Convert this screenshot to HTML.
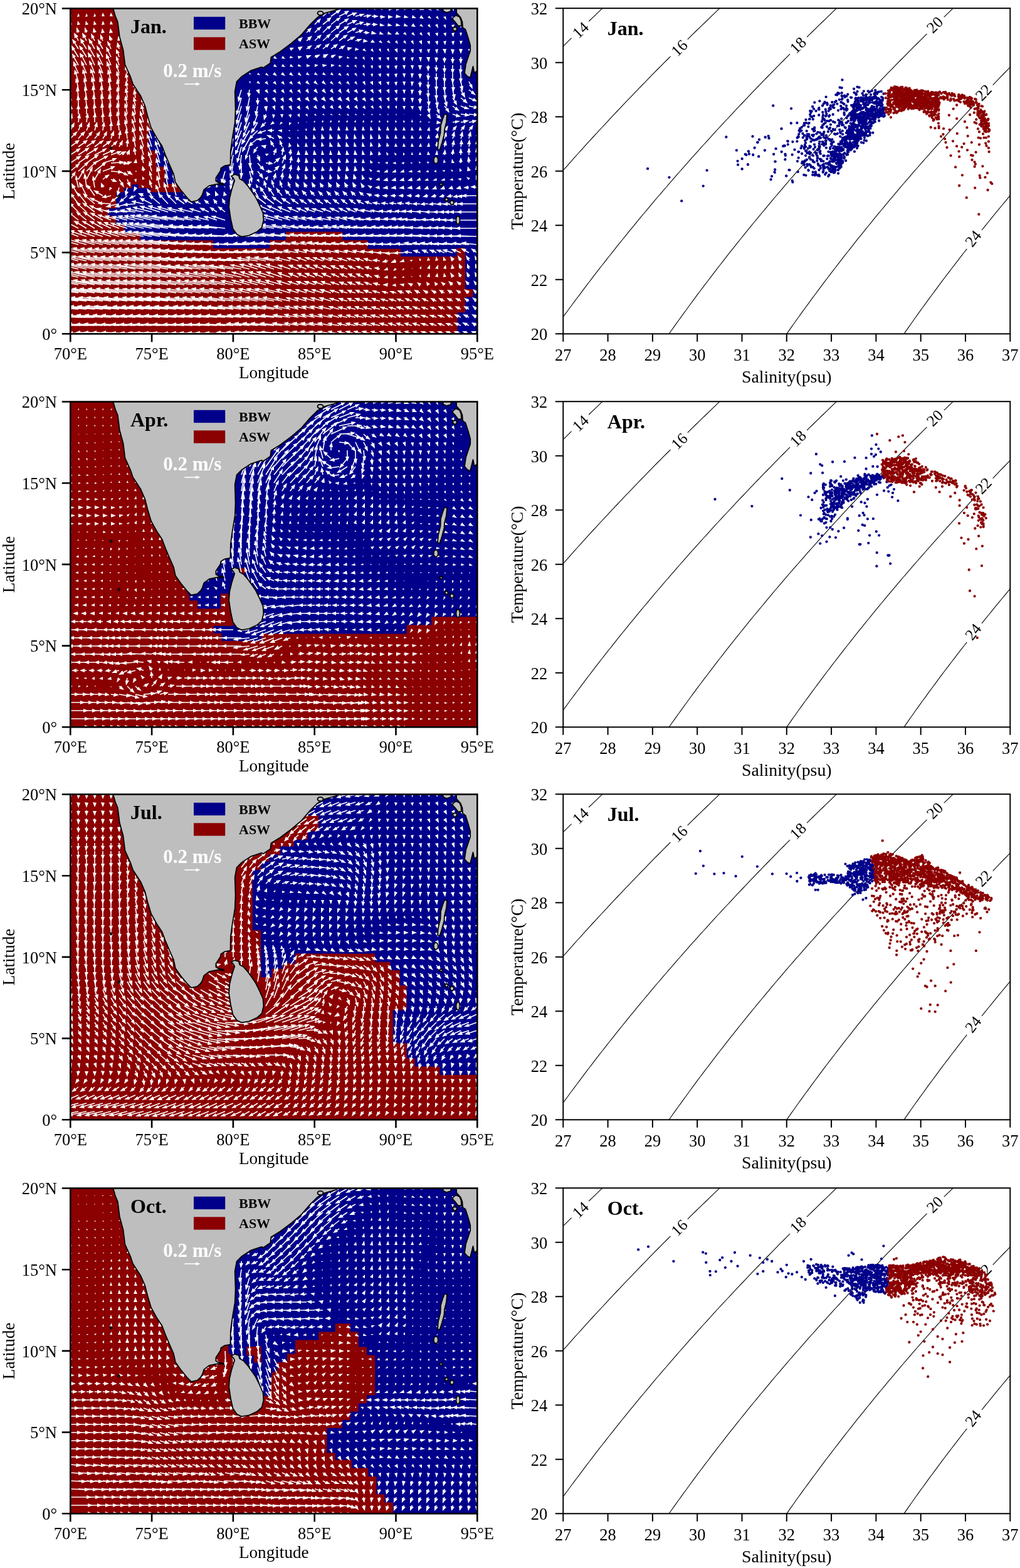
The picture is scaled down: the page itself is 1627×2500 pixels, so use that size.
<!DOCTYPE html><html><head><meta charset="utf-8"><style>html,body{margin:0;padding:0;background:#fff;}svg{display:block}text{font-family:"Liberation Serif", serif}</style></head><body>
<svg width="1627" height="2500" viewBox="0 0 1627 2500">
<rect width="1627" height="2500" fill="#fff"/>
<defs><clipPath id="mclip"><rect x="112.3" y="13.5" width="649" height="518.8"/></clipPath><clipPath id="tclip"><rect x="898.3" y="13.2" width="713" height="519.1"/></clipPath></defs>
<g transform="translate(0,0)">
<g clip-path="url(#mclip)">
<rect x="100" y="0" width="680" height="545" fill="#8b0000"/><polygon points="237,208 300,208 300,293 263.3,293 263.3,266.1 249.9,266.1 249.9,240.3 237,240.3" fill="#00008b"/><polygon points="185.3,306.4 198,306.4 198,300 210.6,300 210.6,294 221,294 221,300 240,300 240,306.4 300,306.4 320,200 340,100 440,5 775,5 775,545 729.5,545 729.5,498.3 742,498.3 742,473.5 754.4,473.5 754.4,461 742,461 742,395.5 728.4,395.5 728.4,409.1 639.2,409.1 639.2,396.7 586.1,396.7 586.1,383.1 546.5,383.1 546.5,369.5 456.1,369.5 456.1,383.1 430.2,383.1 430.2,396 340.1,396 340.1,383.2 224,383.2 224,371.5 198.2,371.5 198.2,358 184.8,358 184.8,344.6 172.4,344.6 172.4,332.2 185.3,332.2" fill="#00008b"/><path d="M112 532l-50 0M112 519l-50-1M112 506l-49-2M112 493l-47-4M112 480l-45-5M112 467l-42-6M112 454l-39-7M112 442l-37-8M112 429l-34-8M112 416l-30-8M112 403l-27-7M112 390l-25-7M112 377l-21-7M112 364l-16-8M112 351l-11-8M112 338l-9-9M112 325l-8-10M112 312l-7-10M112 299l-4-8M112 286l5-7M112 273l10-8M112 260l12-8M112 247l11-7M112 234l10-7M112 221l7-7M112 208l4-7M112 195l2-8M112 182l1-9M112 169l0-10M112 156l-1-11M112 143l-2-11M112 130l-4-12M112 117l-5-12M112 104l-7-12M112 91l-7-12M112 78l-6-10M112 65l-3-6M112 52l-1-2M125 532l-50 0M125 519l-50-1M125 506l-49-2M125 493l-48-4M125 480l-45-5M125 467l-43-6M125 454l-39-7M125 442l-37-8M125 429l-34-8M125 416l-31-8M125 403l-27-7M125 390l-25-7M125 377l-21-8M125 364l-15-8M125 351l-11-9M125 338l-10-10M125 325l-9-12M125 312l-8-14M125 299l-3-13M125 286l7-12M125 273l12-11M125 260l13-9M125 247l12-8M125 234l10-7M125 221l6-7M125 208l3-7M125 195l1-8M125 182l0-9M125 169l0-11M125 156l-1-11M125 143l-2-12M125 130l-4-13M125 117l-6-13M125 104l-7-13M125 91l-8-13M125 78l-6-10M125 65l-3-6M125 52l-1-2M138 532l-50 0M138 519l-50-1M138 506l-49-2M138 493l-47-4M138 480l-45-5M138 467l-43-6M138 454l-40-7M138 442l-37-8M138 429l-34-8M138 416l-31-7M138 403l-28-7M138 390l-25-7M138 377l-21-7M138 364l-15-9M138 351l-12-10M138 338l-12-11M138 325l-11-14M138 312l-8-16M138 299l-2-16M138 286l7-14M138 273l13-13M138 260l14-10M138 247l13-8M138 234l10-7M138 221l6-7M138 208l3-7M138 195l1-8M138 182l0-10M138 169l-1-11M138 156l-2-12M138 143l-3-13M138 130l-4-14M138 117l-6-14M138 104l-7-14M138 91l-8-13M138 78l-7-11M138 65l-3-6M138 52l-1-2M151 532l-49 0M151 519l-50-1M151 506l-49-2M151 493l-47-4M151 480l-45-5M151 467l-42-6M151 454l-40-7M151 442l-37-8M151 429l-34-7M151 416l-31-7M151 403l-29-6M151 390l-26-7M151 377l-21-7M151 364l-15-9M151 351l-13-10M151 338l-14-11M151 325l-14-12M151 312l-9-13M151 299l-2-12M151 286l7-12M151 273l14-11M151 260l16-9M151 247l14-7M151 234l9-7M151 221l5-6M151 208l2-7M151 195l0-9M151 182l-1-11M151 169l-1-12M151 156l-2-13M151 143l-3-14M151 130l-4-15M151 117l-6-15M151 104l-7-15M151 91l-8-14M151 78l-6-11M151 65l-3-6M151 52l0-1M164 532l-49-1M164 519l-50-2M164 506l-49-3M164 493l-47-4M164 480l-45-5M164 467l-43-6M164 454l-41-6M164 442l-39-7M164 429l-36-7M164 416l-33-6M164 403l-31-6M164 390l-27-6M164 377l-22-7M164 364l-16-9M164 351l-15-9M164 338l-16-8M164 325l-15-7M164 312l-9-5M164 299l0-2M164 286l5-4M164 273l14-5M164 260l16-5M164 247l13-6M164 234l8-6M164 221l4-6M164 208l1-8M164 195l0-10M164 182l-1-11M164 169l-2-13M164 156l-2-13M164 143l-3-14M164 130l-4-14M164 117l-6-15M164 104l-7-14M164 91l-7-13M164 78l-5-9M164 65l-2-4M177 532l-50-2M177 519l-50-2M177 506l-49-3M177 493l-48-4M177 480l-46-6M177 467l-44-6M177 454l-42-6M177 442l-40-7M177 429l-38-7M177 416l-35-6M177 403l-32-6M177 390l-28-6M177 377l-22-7M177 364l-17-8M177 351l-16-7M177 338l-17-4M177 325l-15-1M177 312l-8 2M177 286l4 2M177 273l13 1M177 260l14-1M177 247l11-4M177 234l6-5M177 221l2-6M177 208l0-8M177 195l-1-10M177 182l-2-12M177 169l-2-13M177 156l-2-13M177 143l-3-13M177 130l-3-13M177 117l-4-13M177 104l-5-12M177 91l-5-11M177 78l-3-7M177 65l-1-3M190 532l-51-2M190 519l-51-2M190 506l-50-3M190 493l-48-5M190 480l-46-6M190 467l-45-6M190 454l-43-6M190 442l-41-7M190 429l-39-7M190 416l-36-6M190 403l-34-6M190 390l-30-6M190 377l-24-7M190 364l-19-7M190 351l-17-5M190 338l-17-1M190 325l-15 3M190 312l-9 7M190 299l-2 7M190 286l5 7M190 273l9 4M190 260l9 0M190 247l5-3M190 234l3-5M190 221l1-7M190 208l-1-10M190 195l-2-11M190 182l-2-12M190 169l-2-12M190 156l-2-11M190 143l-2-11M190 130l-2-10M190 117l-3-10M190 104l-3-9M190 91l-2-7M190 78l-1-4M190 65l0-1M203 532l-50-2M203 519l-50-2M203 506l-49-3M203 493l-48-5M203 480l-46-6M203 467l-44-6M203 454l-42-6M203 442l-41-7M203 429l-39-7M203 416l-37-6M203 403l-35-6M203 390l-32-6M203 377l-26-7M203 364l-22-7M203 351l-19-5M203 338l-17-1M203 325l-14 4M203 312l-8 7M203 299l-2 7M203 286l2 5M203 273l3 2M203 247l1-2M203 234l0-6M203 221l-1-9M203 208l-3-11M203 195l-3-12M203 182l-2-11M203 169l-2-10M203 156l-1-9M203 143l-1-8M203 130l-1-7M203 117l-1-7M216 532l-48-2M216 519l-49-2M216 506l-48-3M216 493l-46-4M216 480l-45-5M216 467l-43-6M216 454l-41-6M216 442l-40-7M216 429l-38-7M216 416l-37-6M216 403l-35-6M216 390l-33-6M216 377l-29-7M216 364l-25-7M216 351l-22-5M216 338l-19-2M216 325l-13 1M216 312l-5 2M216 247l-1-6M216 234l-2-10M216 221l-3-12M216 208l-4-13M216 195l-3-12M216 182l-2-10M216 169l-2-9M216 156l-1-7M216 143l-1-6M229 532l-45-1M229 519l-46-2M229 506l-45-3M229 493l-43-4M229 480l-42-5M229 467l-41-6M229 454l-40-6M229 442l-39-7M229 429l-38-6M229 416l-37-6M229 403l-36-6M229 390l-34-6M229 377l-31-7M229 364l-28-7M229 351l-26-6M229 338l-22-4M229 325l-14-3M229 312l-3-1M229 273l0-2M229 260l-2-7M229 247l-3-11M229 234l-4-13M229 221l-5-14M229 208l-5-13M229 195l-4-12M229 182l-2-10M229 169l-1-7M242 532l-44-1M242 519l-45-2M242 506l-44-3M242 493l-43-4M242 480l-41-5M242 467l-41-6M242 454l-40-6M242 442l-40-7M242 429l-39-7M242 416l-38-6M242 403l-37-6M242 390l-36-6M242 377l-33-7M242 364l-31-7M242 351l-29-7M242 338l-24-6M242 325l-14-7M242 312l-4-6M242 299l-2-6M242 286l-2-7M242 273l-3-10M242 260l-4-13M242 247l-5-14M242 234l-5-15M242 221l-5-14M242 208l-5-14M255 532l-45-2M255 519l-45-2M255 506l-44-3M255 493l-43-4M255 480l-42-5M255 467l-41-6M255 454l-41-6M255 442l-41-7M255 429l-40-7M255 416l-39-6M255 403l-39-6M255 390l-37-6M255 377l-36-7M255 364l-34-7M255 351l-32-7M255 338l-26-8M255 325l-12-10M255 312l-4-12M255 299l-3-13M255 286l-3-14M255 273l-4-15M255 260l-5-17M255 247l-6-17M255 234l-6-16M268 532l-46-2M268 519l-46-2M268 506l-45-3M268 493l-43-4M268 480l-42-5M268 467l-42-6M268 454l-41-6M268 442l-41-7M268 429l-41-7M268 416l-40-6M268 403l-39-6M268 390l-39-6M268 377l-37-6M268 364l-36-6M268 351l-33-7M268 338l-26-8M268 325l-11-12M268 312l-5-15M268 299l-3-16M268 286l-4-17M268 273l-5-18M268 260l-5-19M281 532l-45-2M281 519l-45-2M281 506l-45-3M281 493l-43-4M281 480l-42-5M281 467l-41-6M281 454l-41-6M281 442l-41-7M281 429l-40-7M281 416l-40-6M281 403l-39-6M281 390l-39-6M281 377l-38-6M281 364l-36-6M281 351l-33-6M281 338l-25-7M281 325l-11-11M281 312l-4-15M281 299l-4-17M294 532l-44-1M294 519l-44-2M294 506l-43-3M294 493l-42-4M294 480l-41-5M294 467l-40-6M294 454l-39-6M294 442l-39-7M294 429l-39-6M294 416l-39-5M294 403l-39-5M294 390l-39-5M294 377l-37-5M294 364l-35-4M294 351l-30-5M294 338l-21-5M294 325l-11-8M294 312l-5-12M307 532l-40-1M307 519l-41-2M307 506l-40-3M307 493l-39-4M307 480l-37-5M307 467l-36-6M307 454l-36-6M307 442l-36-6M307 429l-36-5M307 416l-37-4M307 403l-38-4M307 390l-38-4M307 377l-36-4M307 364l-32-4M307 351l-25-4M307 338l-17-4M307 325l-9-5M320 532l-40-1M320 519l-40-2M320 506l-39-3M320 493l-38-4M320 480l-36-5M320 467l-35-6M320 454l-33-6M320 442l-33-6M320 429l-35-5M320 416l-36-4M320 403l-38-4M320 390l-38-3M320 377l-35-3M320 364l-29-3M320 351l-21-4M320 338l-13-4M320 325l-6-3M333 532l-41-1M333 519l-41-2M333 506l-40-3M333 493l-38-4M333 480l-36-5M333 467l-35-6M333 454l-33-6M333 442l-33-7M333 429l-34-6M333 416l-36-4M333 403l-38-3M333 390l-37-3M333 377l-34-3M333 364l-27-3M333 351l-17-4M333 338l-8-4M333 325l-3-3M346 532l-41-1M346 519l-41-2M346 506l-40-3M346 493l-38-4M346 480l-37-5M346 467l-35-6M346 454l-33-6M346 442l-33-7M346 429l-33-6M346 416l-35-4M346 403l-38-3M346 390l-37-2M346 377l-34-2M346 364l-26-3M346 351l-15-5M346 338l-6-4M346 325l-2-3M359 532l-41-1M359 519l-41-2M359 506l-40-3M359 493l-38-4M359 480l-36-5M359 467l-35-6M359 454l-33-6M359 442l-32-7M359 429l-33-6M359 416l-35-4M359 403l-38-2M359 390l-37-2M359 377l-35-2M359 364l-27-3M359 351l-16-5M359 338l-6-5M359 325l-2-3M359 286l-1 3M359 273l-4 14M372 532l-39-1M372 519l-39-2M372 506l-38-3M372 493l-36-4M372 480l-35-5M372 467l-33-6M372 454l-32-6M372 442l-31-6M372 429l-33-5M372 416l-35-3M372 403l-37-2M372 390l-37-1M372 377l-35-2M372 286l-3 11M372 273l-4 16M372 260l-3 18M372 247l-4 20M372 234l-5 21M372 221l-6 21M385 532l-34-2M385 519l-34-2M385 506l-33-3M385 493l-32-4M385 480l-30-5M385 467l-28-6M385 454l-27-6M385 442l-27-6M385 429l-30-5M385 416l-34-3M385 403l-36-2M385 390l-37-1M385 286l-2 12M385 273l-1 15M385 260l0 17M385 247l-2 18M385 234l-5 19M385 221l-7 20M385 208l-8 20M385 195l-7 22M385 182l-7 23M385 169l-7 24M385 156l-6 22M385 143l-4 13M398 532l-31-2M398 519l-31-3M398 506l-30-3M398 493l-28-4M398 480l-27-5M398 467l-25-5M398 454l-23-6M398 442l-23-7M398 429l-25-6M398 416l-31-3M398 403l-34-2M398 390l-35-1M398 377l-35-2M398 286l0 8M398 273l3 12M398 260l4 13M398 247l1 14M398 234l-5 15M398 221l-9 16M398 208l-10 17M398 195l-8 18M398 182l-7 20M398 169l-5 20M398 156l-3 15M398 143l-1 6M411 532l-31-3M411 519l-31-3M411 506l-30-3M411 493l-28-4M411 480l-27-5M411 467l-25-6M411 454l-23-6M411 442l-22-7M411 429l-23-7M411 416l-27-4M411 403l-32-2M411 390l-33-2M411 377l-34-2M411 312l-5-8M411 273l5 6M411 260l6 7M411 247l1 4M411 234l-4 5M411 221l-10 8M411 208l-10 10M411 195l-7 12M411 182l-5 13M411 169l-2 10M411 156l0 5M424 532l-31-3M424 519l-31-3M424 506l-30-3M424 493l-28-4M424 480l-27-5M424 467l-25-6M424 454l-23-6M424 442l-22-7M424 429l-23-7M424 416l-26-5M424 403l-31-3M424 390l-32-3M424 377l-33-3M424 364l-32-5M424 351l-29-7M424 338l-22-9M424 325l-13-10M424 312l-6-9M424 299l-1-5M424 273l4 0M424 260l5 0M424 221l-8 1M424 208l-8 3M424 195l-4 4M424 182l-1 3M424 169l0 2M437 532l-31-3M437 519l-31-3M437 506l-30-3M437 493l-28-4M437 480l-27-5M437 467l-25-6M437 454l-23-6M437 442l-22-7M437 429l-22-7M437 416l-26-5M437 403l-30-3M437 390l-32-3M437 377l-32-4M437 364l-30-5M437 351l-27-7M437 338l-21-9M437 325l-13-10M437 312l-6-9M437 299l-2-6M437 286l1-4M437 273l4-4M437 260l5-4M437 247l1-4M437 234l-3-5M437 221l-6-3M437 208l-4 0M450 532l-29-3M450 519l-29-3M450 506l-28-3M450 493l-27-4M450 480l-25-5M450 467l-23-5M450 454l-22-6M450 442l-20-7M450 429l-21-6M450 416l-24-4M450 403l-29-3M450 390l-30-3M450 377l-30-4M450 364l-28-5M450 351l-24-7M450 338l-18-8M450 325l-11-8M450 312l-6-7M450 299l-2-5M450 286l0-5M450 273l3-6M450 260l3-7M450 247l1-6M450 234l-2-5M450 221l-2-2M463 532l-22-2M463 519l-23-3M463 506l-22-3M463 493l-21-4M463 480l-19-4M463 467l-18-5M463 454l-16-5M463 442l-15-5M463 429l-14-5M463 416l-18-4M463 403l-23-3M463 390l-26-3M463 377l-26-3M463 364l-24-4M463 351l-20-6M463 338l-15-6M463 325l-9-6M463 312l-4-5M463 299l-2-4M463 286l0-3M463 273l1-4M463 260l1-5M463 247l0-3M476 532l-17-3M476 519l-17-3M476 506l-17-3M476 493l-16-4M476 480l-14-4M476 467l-13-4M476 454l-12-4M476 442l-10-4M476 429l-10-4M476 416l-13-4M476 403l-18-3M476 390l-22-3M476 377l-23-3M476 364l-21-4M476 351l-17-5M476 338l-12-5M476 325l-7-5M476 312l-4-4M476 299l-2-3M476 286l-1-2M476 273l0-3M476 260l0-3M476 78l1-1M476 65l2-1M489 532l-17-3M489 519l-17-3M489 506l-16-3M489 493l-15-4M489 480l-14-4M489 467l-13-4M489 454l-11-4M489 442l-10-4M489 429l-10-4M489 416l-11-4M489 403l-14-3M489 390l-19-3M489 377l-21-3M489 364l-20-3M489 351l-16-4M489 338l-11-5M489 325l-6-4M489 312l-3-4M489 299l-2-3M489 286l-1-2M489 273l0-2M489 260l0-2M489 78l3-2M489 65l4-3M489 52l3-3M502 532l-17-3M502 519l-17-3M502 506l-16-3M502 493l-15-4M502 480l-14-4M502 467l-13-4M502 454l-11-4M502 442l-10-4M502 429l-10-4M502 416l-10-4M502 403l-13-4M502 390l-17-3M502 377l-21-3M502 364l-21-3M502 351l-16-4M502 338l-11-4M502 325l-6-4M502 312l-3-3M502 299l-1-2M502 286l-1-2M502 91l2-1M502 78l5-4M502 65l6-6M502 52l6-6M502 39l5-5M515 532l-17-3M515 519l-17-3M515 506l-16-3M515 493l-15-4M515 480l-14-4M515 467l-13-4M515 454l-11-4M515 442l-10-4M515 429l-10-4M515 416l-11-4M515 403l-14-3M515 390l-19-3M515 377l-22-2M515 364l-22-2M515 351l-18-3M515 338l-12-4M515 325l-6-4M515 312l-3-3M515 299l-1-2M515 286l-1-2M515 91l3-1M515 78l6-5M515 65l8-7M515 52l8-8M515 39l9-7M515 26l8-7M528 532l-16-3M528 519l-16-3M528 506l-15-3M528 493l-14-3M528 480l-13-4M528 467l-12-4M528 454l-11-3M528 442l-10-4M528 429l-10-4M528 416l-11-4M528 403l-17-3M528 390l-21-2M528 377l-23-2M528 364l-22-2M528 351l-17-3M528 338l-10-4M528 325l-6-4M528 312l-3-3M528 299l-1-2M528 286l-1-2M528 91l2-1M528 78l6-4M528 65l8-7M528 52l10-8M528 39l10-8M528 26l10-7M541 532l-13-2M541 519l-13-2M541 506l-12-3M541 493l-11-3M541 480l-10-3M541 467l-9-3M541 454l-9-3M541 442l-8-4M541 429l-8-3M541 416l-12-3M541 403l-17-3M541 390l-22-2M541 377l-23-2M541 364l-20-3M541 351l-15-4M541 338l-9-4M541 325l-6-4M541 312l-3-3M541 299l-2-2M541 286l-1-2M541 273l-1-2M541 78l4-2M541 65l8-6M541 52l10-7M541 39l10-6M541 26l10-5M541 14l10-5M554 532l-10-2M554 519l-10-2M554 506l-10-2M554 493l-9-2M554 480l-8-2M554 467l-8-2M554 454l-7-2M554 442l-7-3M554 429l-7-3M554 416l-10-3M554 403l-15-3M554 390l-20-2M554 377l-22-2M554 364l-19-3M554 351l-14-4M554 338l-9-4M554 325l-6-4M554 312l-3-3M554 299l-2-2M554 286l-1-2M554 273l-1-2M554 78l1 0M554 65l7-4M554 52l9-5M554 39l9-4M554 26l9-4M554 14l9-4M567 532l-10-2M567 519l-10-2M567 506l-9-2M567 493l-9-2M567 480l-8-2M567 467l-8-2M567 454l-7-2M567 442l-7-3M567 429l-7-3M567 416l-9-3M567 403l-13-3M567 390l-19-2M567 377l-22-2M567 364l-20-3M567 351l-15-4M567 338l-10-4M567 325l-6-4M567 312l-3-3M567 299l-2-2M567 286l-1-2M567 273l-1-2M567 65l4-1M567 52l7-2M567 39l8-2M567 26l8-2M567 14l8-3M580 532l-10-2M580 519l-10-2M580 506l-10-2M580 493l-9-2M580 480l-8-2M580 467l-8-2M580 454l-7-2M580 442l-7-3M580 429l-7-3M580 416l-8-3M580 403l-13-3M580 390l-19-2M580 377l-23-2M580 364l-23-2M580 351l-18-3M580 338l-11-4M580 325l-6-3M580 312l-3-3M580 299l-1-2M580 52l3 0M580 39l5 0M580 26l6-1M580 14l6-2M593 532l-10-2M593 519l-10-2M593 506l-9-2M593 493l-9-2M593 480l-8-2M593 467l-7-2M593 454l-7-2M593 442l-6-3M593 429l-6-2M593 416l-7-2M593 403l-12-2M593 390l-19-2M593 377l-24-2M593 364l-24-2M593 351l-19-2M593 338l-12-3M593 325l-6-2M593 312l-2-1M593 39l3 0M593 26l4 0M593 14l4-1M606 532l-10-2M606 519l-10-2M606 506l-9-2M606 493l-8-2M606 480l-8-2M606 467l-7-2M606 454l-5-1M606 442l-3-1M606 429l-3-1M606 416l-6-1M606 403l-12-1M606 390l-20-2M606 377l-24-2M606 364l-23-2M606 351l-17-2M606 338l-10-2M606 325l-6-1M606 312l-3 0M606 39l1 1M606 26l2 1M606 14l3-1M619 532l-8-2M619 519l-8-2M619 506l-8-2M619 493l-7-2M619 480l-6-2M619 467l-5-1M619 416l-4 0M619 403l-12 0M619 390l-22-1M619 377l-25-2M619 364l-21-2M619 351l-15-2M619 338l-9-1M619 325l-5-1M619 312l-3 0M619 26l1 1M619 14l2 0M632 532l-7-2M632 519l-7-2M632 506l-7-2M632 493l-7-2M632 480l-6-2M632 467l-4-1M632 416l-2 0M632 403l-12 1M632 390l-22-1M632 377l-25-2M632 364l-21-2M632 351l-14-2M632 338l-9-1M632 325l-5-1M632 312l-3 0M644 532l-6-2M644 519l-7-2M644 506l-6-2M644 493l-6-2M644 480l-6-2M644 467l-4-1M644 403l-10 0M644 390l-21-1M644 377l-24-2M644 364l-21-2M644 351l-14-2M644 338l-8-1M644 325l-5-1M644 312l-2 0M657 532l-7-2M657 519l-7-2M657 506l-6-2M657 493l-6-2M657 480l-6-2M657 467l-4-2M657 403l-7-1M657 390l-20-1M657 377l-25-2M657 364l-24-2M657 351l-17-2M657 338l-10-1M657 325l-5-1M657 312l-2 0M670 532l-7-2M670 519l-7-2M670 506l-6-2M670 493l-6-2M670 480l-5-2M670 467l-4-2M670 403l-5-2M670 390l-20-2M670 377l-27-2M670 364l-26-2M670 351l-21-1M670 338l-14-1M670 325l-6 0M670 312l-2 0M670 156l0 3M670 143l0 3M670 130l0 3M670 117l0 2M683 532l-6-2M683 519l-6-2M683 506l-6-2M683 493l-6-2M683 480l-5-2M683 467l-3-1M683 403l-4-2M683 390l-19-2M683 377l-26-2M683 364l-26-1M683 351l-21-1M683 338l-13-1M683 325l-6 0M683 312l-2 0M683 182l1 2M683 169l1 5M683 156l1 7M683 143l0 7M683 130l0 6M683 117l0 5M683 104l0 3M696 532l-6-2M696 519l-6-2M696 506l-5-2M696 493l-5-2M696 480l-4-2M696 467l-2-1M696 403l-5-3M696 390l-20-2M696 377l-25-2M696 364l-23-1M696 351l-18-1M696 338l-12 0M696 325l-6 0M696 312l-2 0M696 234l1-2M696 221l1-3M696 182l3 3M696 169l3 7M696 156l1 9M696 143l0 10M696 130l0 9M696 117l0 7M696 104l0 4M696 91l0 2M709 532l-6-2M709 519l-6-2M709 506l-5-2M709 493l-4-2M709 480l-4-2M709 467l-3-1M709 454l-1-1M709 403l-7-3M709 390l-21-2M709 377l-25-1M709 364l-22-1M709 351l-18-1M709 338l-12 0M709 325l-7 0M709 312l-3 0M709 247l0-2M709 234l1-4M709 221l1-4M709 208l2-2M709 169l4 5M709 156l3 8M709 143l1 10M709 130l0 10M709 117l0 9M709 104l0 6M709 91l0 3M722 532l-6-2M722 519l-5-2M722 506l-5-2M722 493l-4-2M722 480l-4-2M722 467l-3-2M722 454l-2-1M722 416l-1-2M722 403l-10-3M722 390l-23-2M722 377l-26-1M722 364l-24-1M722 351l-21-1M722 338l-15 0M722 325l-9 0M722 312l-4 1M722 247l0-3M722 234l1-5M722 221l2-5M722 208l3-3M722 195l5-1M722 182l6 2M722 169l5 4M722 156l4 6M722 143l2 9M722 130l1 10M722 117l0 10M722 104l0 7M722 91l0 4M735 532l-5-2M735 519l-5-2M735 506l-4-2M735 493l-4-2M735 480l-3-2M735 467l-3-2M735 454l-2-1M735 442l-1-2M735 429l0-3M735 416l-1-3M735 403l-9-4M735 390l-23-2M735 377l-28-1M735 364l-27-1M735 351l-24 0M735 338l-20 0M735 325l-14 0M735 312l-6 1M735 260l0-2M735 247l0-4M735 234l1-5M735 221l2-5M735 208l3-3M735 195l6-1M735 182l8 1M735 169l7 3M735 156l5 4M735 143l3 6M735 130l2 9M735 117l0 9M735 104l0 8M735 91l0 4M748 532l-5-2M748 519l-4-2M748 506l-4-2M748 493l-3-2M748 480l-3-2M748 467l-2-1M748 454l-1-1M748 442l-1-3M748 429l-1-3M748 416l-1-3M748 403l-7-4M748 390l-21-2M748 377l-28-1M748 364l-28 0M748 351l-27 0M748 338l-25 0M748 325l-20 0M748 312l-12 1M748 299l-2 0M748 260l0-4M748 247l0-5M748 234l1-5M748 221l1-5M748 208l3-3M748 195l6-1M748 182l9 1M748 169l9 2M748 156l7 3M748 143l5 4M748 130l3 6M761 532l-4-1M761 519l-3-2M761 506l-3-2M761 493l-2-1M761 480l-2-1M761 467l-2-1M761 454l-1-1M761 442l-1-3M761 429l-1-3M761 416l-1-3M761 403l-4-3M761 390l-19-2M761 377l-27-1M761 364l-28 0M761 351l-28 0M761 338l-26 0M761 325l-24 0M761 312l-18 0M761 299l-4-1M761 273l0-3M761 260l0-4M761 247l0-5M761 234l0-5M761 221l1-5M761 208l3-3M761 195l7-1M761 182l10 1M761 169l10 1M761 156l9 2M761 143l7 3M761 130l4 3" stroke="#fff" stroke-width="1.6" fill="none"/><path d="M55 532l8-3 0 6zM55 518l8-3 0 6zM56 504l8-3 0 6zM58 488l8-2-1 6zM60 474l8-2-1 6zM63 460l8-2-1 6zM66 446l8-2-1 6zM68 433l9-2-1 6zM71 420l8-2-1 6zM75 407l8-1-1 6zM78 394l9-1-2 6zM81 381l8-1-2 6zM84 368l8-1-1 6zM90 353l8 1-2 5zM95 339l9 2-4 5zM98 324l8 4-4 4zM99 310l8 4-5 4zM101 296l7 5-5 3zM105 285l6 5-5 3zM121 273l-2 8-5-3zM128 260l-5 8-3-5zM130 248l-5 7-4-5zM129 236l-5 7-3-5zM127 223l-4 7-4-5zM124 209l-4 8-4-4zM119 195l-1 8-6-2zM115 180l1 9-5-1zM113 166l3 8-6 0zM111 152l4 8-6 0zM110 138l4 8-6 1zM108 125l5 7-6 1zM106 112l5 6-5 2zM104 98l6 6-6 3zM102 85l7 6-6 3zM101 73l7 5-5 3zM102 62l7 6-5 3zM105 53l7 5-5 3zM109 43l5 7-5 2zM111 33l4 6-5 1zM112 21l2 5-4 1zM112 8l2 5-4 1zM68 532l8-3 0 6zM68 518l8-3 0 6zM69 504l8-3-1 6zM70 488l9-2-1 6zM73 474l8-2-1 6zM75 460l9-2-1 6zM79 446l8-2-1 6zM81 433l9-2-1 6zM84 420l8-2-1 6zM88 407l8-1-1 6zM91 394l8-1-1 6zM93 381l9-1-2 6zM98 367l8 0-2 6zM104 353l8 1-3 5zM108 338l8 2-3 5zM110 323l8 3-4 4zM111 307l8 5-5 3zM114 292l7 6-6 3zM121 279l4 7-5 1zM135 268l-1 9-5-3zM142 257l-4 8-4-4zM143 247l-4 7-4-5zM143 235l-5 7-3-5zM140 223l-4 7-4-5zM136 209l-3 8-5-4zM131 195l0 8-6-2zM127 180l2 9-6-1zM125 166l3 8-6 0zM124 151l4 8-6 1zM123 138l4 7-6 1zM121 124l5 7-6 1zM119 111l5 6-6 2zM117 97l6 7-6 2zM115 85l6 5-5 3zM114 72l6 6-5 3zM115 62l7 5-5 3zM118 52l7 6-6 3zM122 43l5 7-5 2zM124 33l4 6-5 1zM125 21l2 5-4 1zM125 8l2 5-4 1zM81 532l8-3 0 6zM81 518l8-3 0 6zM82 504l8-3 0 6zM84 488l8-2-1 6zM86 474l8-2-1 6zM88 460l9-2-1 6zM92 446l8-2-1 6zM94 433l9-2-1 6zM97 420l8-1-1 5zM100 407l9-1-1 6zM103 395l9-2-2 6zM106 381l8-1-1 6zM111 367l8 0-2 6zM117 352l9 1-3 6zM121 337l8 3-4 4zM121 322l8 3-4 4zM122 306l7 4-4 4zM126 290l7 6-6 3zM135 276l4 8-6 1zM148 265l-1 9-5-3zM156 256l-4 7-4-4zM158 246l-5 7-3-5zM157 235l-5 7-3-5zM153 223l-4 7-4-5zM148 209l-3 8-4-4zM143 194l0 9-5-2zM140 180l2 8-6-1zM138 165l3 8-6 0zM137 151l3 8-6 0zM135 137l5 7-6 1zM134 123l4 7-5 1zM132 110l5 6-6 2zM129 96l6 7-5 2zM127 84l7 5-6 3zM126 72l7 5-5 3zM128 61l7 5-6 4zM131 52l7 6-6 3zM135 43l5 7-5 2zM137 33l4 6-5 1zM138 21l2 5-4 1zM138 8l2 5-4 1zM95 532l8-3 0 6zM94 518l8-3 0 6zM95 503l8-2 0 6zM97 488l8-2 0 6zM99 474l8-2 0 6zM102 460l8-2-1 6zM104 446l9-1-1 6zM107 433l9-1-2 6zM110 420l8-1-1 6zM113 408l8-1-1 5zM115 395l8-1-1 6zM118 382l8-1-1 6zM123 367l9 0-2 6zM130 352l8 1-2 5zM132 337l8 2-3 5zM131 323l8 2-3 5zM132 308l8 3-4 5zM138 294l7 4-5 4zM148 280l5 7-6 1zM161 268l-1 9-5-3zM170 258l-4 7-4-4zM173 248l-5 6-3-5zM171 236l-6 7-2-5zM166 223l-5 7-3-4zM160 209l-2 8-5-3zM155 194l1 9-6-2zM152 179l2 8-6 0zM150 164l4 8-6 1zM149 150l4 8-6 0zM148 136l4 7-6 1zM146 122l5 7-6 2zM144 109l6 6-6 2zM142 96l6 6-5 2zM140 83l7 6-6 3zM140 71l6 6-5 3zM141 61l7 6-5 3zM145 53l6 6-5 3zM149 44l5 7-6 1zM150 33l4 6-5 1zM151 21l2 5-4 1zM151 8l2 5-4 1zM108 531l8-3 0 6zM107 517l8-3 0 6zM108 503l8-3 0 6zM110 488l8-2 0 6zM112 474l8-2-1 6zM114 460l8-2-1 6zM116 446l8-1-1 6zM118 433l9-1-1 6zM121 421l9-2-1 6zM124 408l9-1-1 6zM127 396l8-2-1 6zM130 382l8-1-1 6zM136 368l8-1-2 6zM142 352l9 1-3 5zM143 339l9 1-3 5zM142 327l8 1-2 5zM142 315l9 1-2 5zM149 303l9 2-3 5zM161 291l6 6-6 2zM175 278l-5 7-3-5zM184 265l-6 6-2-6zM187 252l-7 6-1-6zM184 239l-6 6-3-6zM178 224l-5 7-4-5zM171 209l-1 8-5-3zM166 194l2 8-6-1zM164 179l3 7-6 1zM162 164l4 7-6 1zM161 149l5 8-6 1zM161 136l4 7-6 1zM159 122l5 7-6 2zM158 109l5 7-6 1zM156 96l6 6-6 2zM154 84l6 5-5 3zM154 72l6 6-5 2zM156 62l6 6-5 3zM160 54l5 7-5 2zM163 45l4 7-6 1zM164 33l3 6-5 1zM164 20l3 6-5 0zM164 7l3 6-5 1zM120 530l8-3 0 6zM120 517l8-3 0 6zM121 502l8-2 0 6zM122 488l9-2-1 6zM124 474l8-2 0 6zM126 460l8-2-1 6zM128 446l8-1-1 6zM130 433l8-1-1 6zM132 421l8-2-1 6zM135 408l9-1-1 6zM138 396l9-2-1 6zM142 382l8-1-1 6zM148 368l8-1-1 6zM154 353l8 1-2 5zM155 342l8 0-2 5zM153 332l9-1-2 6zM155 324l8-3 0 6zM162 315l7-5 1 6zM174 304l1-6 4 2zM187 290l-8 0 2-6zM196 275l-8 2 1-6zM198 258l-7 4-1-6zM194 241l-6 6-2-6zM188 224l-4 8-4-4zM182 208l0 9-6-2zM178 193l2 8-6 0zM175 178l4 7-6 1zM174 163l4 8-5 1zM174 149l4 8-6 1zM174 136l4 7-6 2zM173 123l5 7-6 2zM172 110l5 7-6 2zM170 97l6 7-6 2zM169 85l6 7-6 2zM169 74l6 6-5 3zM171 65l6 6-5 2zM174 56l6 7-6 1zM176 45l4 7-6 1zM177 33l3 6-5 0zM177 20l3 6-5 0zM177 7l3 7-5 0zM132 530l9-3-1 6zM133 516l8-2-1 6zM134 502l8-2-1 6zM135 488l8-2 0 6zM137 474l8-2-1 6zM139 460l8-2-1 6zM140 446l9-1-1 6zM142 433l8-1-1 6zM144 421l8-2-1 6zM147 408l8-1-1 6zM150 396l8-2-1 6zM153 382l9-1-1 6zM160 368l8-1-2 6zM165 354l8 0-2 6zM166 344l9-1-2 6zM166 336l8-2 0 6zM168 330l8-5 1 6zM176 323l4-7 4 4zM187 313l-1-9 6 2zM198 299l-7-6 5-3zM205 280l-8-1 2-5zM206 261l-9 2 1-6zM202 241l-6 7-3-6zM196 223l-1 9-5-3zM192 207l2 8-6 0zM188 191l4 8-6 1zM187 177l4 7-6 1zM187 163l4 8-6 1zM187 150l4 8-6 1zM187 138l4 7-6 1zM187 125l4 8-6 1zM186 113l5 7-6 1zM185 100l5 7-5 2zM185 89l5 6-5 2zM185 78l6 6-6 2zM187 67l5 7-6 2zM189 57l4 7-6 1zM146 530l8-3 0 6zM146 517l8-3 0 6zM147 502l8-2 0 6zM148 488l9-2-1 6zM150 474l8-2 0 6zM152 460l8-2-1 6zM154 446l8-1-1 6zM155 434l9-2-1 6zM157 421l8-2-1 6zM159 409l9-2-1 6zM161 396l9-2-1 6zM164 383l9-2-1 6zM170 368l9-1-2 6zM175 355l8 0-1 5zM177 345l9-1-2 5zM179 337l8-3 0 6zM182 330l7-5 2 6zM190 323l4-7 4 4zM200 313l-1-9 6 2zM208 298l-6-6 6-2zM212 279l-9-2 4-5zM211 258l-7 5-1-6zM207 238l0 9-6-3zM204 221l2 8-6-1zM201 205l4 7-6 1zM199 190l5 7-6 1zM199 176l4 8-5 1zM199 164l5 7-6 1zM200 152l4 7-6 1zM200 140l5 7-6 1zM201 128l4 8-6 1zM201 116l4 7-6 1zM200 103l5 8-6 1zM161 530l8-3 0 6zM160 517l8-3 0 6zM161 502l8-2 0 6zM163 488l8-2-1 6zM164 474l9-2-1 6zM166 460l8-2-1 6zM168 447l8-2-1 6zM169 434l9-2-1 6zM171 421l8-1-1 6zM172 409l9-2-1 6zM174 396l8-2-1 6zM176 383l8-2-1 6zM180 369l9-2-2 6zM184 355l9 0-2 5zM187 344l9-1-2 6zM190 335l9-2-1 6zM196 327l7-4 1 6zM205 317l6-6 2 5zM213 306l1-9 5 3zM217 291l-3-5 4-1zM219 273l-3 1 0-2zM217 253l2 7-6 0zM214 234l4 7-6 1zM212 217l5 7-6 2zM211 202l5 7-6 2zM210 189l5 6-5 2zM211 176l5 7-6 2zM212 165l5 7-6 1zM213 154l5 7-6 1zM214 142l4 7-6 2zM214 130l4 8-6 1zM177 530l8-2 0 6zM176 517l9-3-1 6zM177 503l8-3 0 6zM179 488l8-2-1 6zM180 474l8-2 0 6zM181 460l9-2-1 6zM182 447l9-2-1 6zM183 434l9-2-1 6zM184 422l9-2-1 6zM185 409l8-2 0 6zM186 396l8-2-1 6zM188 383l8-2-1 6zM191 369l9-2-2 6zM194 355l9-1-2 6zM197 344l8-2-1 6zM200 332l9-1-1 6zM209 321l8-2-1 6zM220 308l9 0-3 6zM225 295l5 2-2 3zM227 281l4 4-4 2zM227 264l5 7-6 1zM226 246l5 7-6 2zM224 230l5 6-6 2zM223 215l5 6-6 2zM222 201l6 6-6 2zM222 188l6 7-6 1zM223 176l5 7-5 2zM225 166l5 7-6 1zM226 155l5 7-6 1zM191 530l8-2-1 6zM190 517l8-3 0 6zM191 503l8-3 0 6zM193 488l8-2-1 6zM194 474l8-2-1 6zM194 460l9-1-1 5zM195 447l8-2-1 6zM195 434l9-2-1 6zM196 421l8-1-1 5zM197 409l8-2-1 6zM198 396l8-2-1 6zM199 383l9-2-1 6zM202 369l8-2-1 6zM204 355l9-1-2 6zM206 343l9-1-1 5zM211 330l8-1-1 6zM222 315l9 1-3 6zM234 300l7 5-5 3zM238 286l5 7-5 2zM238 272l5 7-5 1zM238 256l5 7-6 2zM236 241l5 6-5 2zM235 226l5 7-5 2zM234 213l6 6-6 2zM234 200l6 7-6 2zM235 188l5 6-5 2zM203 530l8-2-1 6zM203 517l8-3-1 6zM204 503l8-3-1 6zM205 488l8-2 0 6zM206 474l9-2-1 6zM207 460l8-2-1 6zM207 447l9-2-1 6zM207 434l9-2-1 6zM208 421l8-2-1 6zM209 408l8-1-1 6zM209 396l9-2-1 6zM211 383l8-2-1 6zM212 369l9-1-1 6zM214 356l8-2-1 6zM216 343l9-2-1 6zM222 328l9 0-2 6zM237 311l8 2-3 5zM248 294l6 6-6 2zM250 279l5 7-6 2zM250 265l5 7-6 2zM249 251l5 7-6 2zM248 237l5 6-6 2zM247 224l6 6-6 2zM247 211l6 7-6 2zM215 530l8-2 0 6zM215 517l8-3 0 6zM216 503l8-3 0 6zM218 488l8-2-1 6zM219 474l8-2 0 6zM220 460l8-2-1 6zM220 447l8-2-1 6zM220 433l8-1-1 6zM221 421l8-2-1 6zM221 408l9-1-1 6zM222 396l8-2-1 6zM223 383l8-2-1 6zM224 370l8-2-1 6zM225 356l9-1-1 6zM228 343l8-1-1 5zM235 328l9-1-2 6zM252 308l8 4-5 4zM261 290l6 7-6 2zM263 276l5 7-6 1zM262 262l5 7-6 2zM262 248l4 7-5 2zM261 235l5 6-6 2zM229 530l8-2-1 6zM229 517l8-3-1 6zM229 503l9-3-1 6zM231 488l8-2 0 6zM232 474l9-2-1 6zM233 460l8-2-1 6zM233 447l8-2-1 6zM233 434l9-2-1 6zM234 421l8-2-1 6zM234 409l9-2-1 6zM235 396l8-2-1 6zM235 383l9-1-1 5zM236 370l9-1-1 5zM238 357l8-1-1 6zM241 344l9-2-1 6zM250 329l8-1-2 6zM265 309l8 3-4 4zM275 290l5 7-6 1zM276 275l5 7-6 1zM243 530l8-2 0 6zM243 517l8-3 0 6zM244 503l8-3 0 6zM245 488l9-2-1 6zM246 474l9-2-1 6zM247 460l9-1-1 6zM248 447l8-2-1 6zM248 434l8-2-1 6zM248 422l9-2-1 6zM248 410l9-2-1 6zM248 397l8-2 0 6zM249 385l8-3-1 6zM250 372l8-2-1 5zM252 359l8-2 0 6zM257 345l9-1-1 6zM266 331l8-1-1 6zM278 313l8 2-4 5zM286 293l6 6-6 3zM260 531l8-3-1 6zM259 517l8-3 0 6zM260 503l8-3-1 6zM261 488l8-2 0 6zM263 474l8-2-1 6zM264 460l8-1-1 5zM265 447l8-1-1 5zM264 435l9-2-1 6zM264 423l8-2-1 6zM263 411l8-2-1 6zM262 398l8-2 0 6zM262 386l8-3 0 6zM264 373l8-3-1 6zM268 359l8-2 0 6zM275 346l8-2-1 6zM283 332l8-1-1 6zM291 317l9 1-3 6zM273 530l8-2 0 6zM273 517l8-3 0 6zM274 503l8-3-1 6zM275 488l9-2-1 6zM277 474l9-2-1 6zM279 460l8-2-1 6zM280 447l8-2-1 6zM280 435l8-2-1 6zM278 423l9-2-1 6zM277 411l8-2-1 6zM275 399l9-2-1 5zM275 386l9-2-1 6zM278 373l8-2 0 6zM284 360l8-2 0 6zM292 346l8-2-1 6zM301 332l8 0-1 5zM308 319l9 1-3 5zM285 530l8-2 0 6zM285 517l8-3 0 6zM286 503l9-3-1 6zM288 488l8-2 0 6zM290 474l8-2-1 6zM291 460l9-2-1 6zM293 447l8-2-1 6zM293 434l9-1-1 6zM292 422l9-1-1 5zM290 411l9-2-1 6zM289 399l8-2-1 6zM289 387l8-3-1 6zM292 374l8-3 0 6zM299 360l8-2 0 6zM309 345l8-1-1 6zM318 331l9 1-3 5zM325 318l8 3-4 4zM329 305l7 5-6 3zM331 292l5 6-6 2zM298 530l8-2 0 6zM298 517l8-3 0 6zM299 503l8-3 0 6zM301 488l8-2-1 6zM303 473l8-1-1 6zM304 460l9-2-1 6zM306 447l8-2-1 6zM307 434l8-2-1 6zM306 422l8-2-1 6zM304 411l8-2-1 6zM301 400l9-3-1 6zM302 388l8-3 0 6zM305 374l8-2 0 6zM313 360l8-2 0 6zM324 345l8-1-1 6zM334 330l8 2-3 5zM340 317l7 4-5 4zM343 304l6 7-6 2zM345 293l3 5-4 1zM344 286l2-1 0 2zM311 530l8-2 0 6zM311 517l8-3 0 6zM312 503l9-3-1 6zM314 488l8-2 0 6zM316 474l8-2-1 6zM317 460l9-2-1 6zM319 447l8-2-1 6zM320 434l8-1-1 5zM319 422l8-1-1 6zM317 412l8-3-1 6zM314 401l9-3-1 6zM315 388l8-3 0 6zM317 375l9-3-1 6zM325 360l8-2 0 6zM336 344l9 0-2 5zM347 329l8 2-3 5zM354 316l6 5-5 3zM357 305l5 6-6 2zM357 297l3 1-2 1zM355 295l0-8 6 2zM353 293l-1-8 6 1zM326 530l8-2 0 6zM326 517l8-3 0 6zM327 503l8-3 0 6zM329 488l8-2-1 6zM330 474l8-2 0 6zM332 460l8-1-1 5zM333 447l9-2-1 6zM334 434l8-1-1 6zM332 423l9-2-1 6zM330 413l8-3-1 6zM328 401l8-3 0 6zM328 388l8-2 0 6zM330 375l8-3 0 6zM367 303l-1-8 6 2zM367 296l-1-9 6 2zM367 285l-1-9 6 2zM367 273l-2-8 6 1zM365 261l-1-8 6 1zM364 249l-1-8 6 1zM344 530l8-3 0 6zM344 516l8-2 0 6zM345 502l8-2-1 6zM346 488l9-2-1 6zM348 474l8-2-1 6zM350 460l8-1-1 6zM351 447l9-1-2 6zM351 434l8-1-1 6zM348 423l8-1 0 6zM344 413l8-3 0 6zM342 401l8-3 0 6zM341 389l8-3 0 6zM381 305l-1-8 6 1zM384 295l-3-8 6 0zM385 284l-3-8 6 0zM382 272l-2-8 6 1zM378 260l-1-8 6 1zM375 247l0-8 6 2zM375 235l0-9 5 2zM375 223l0-8 6 2zM376 212l-1-9 6 2zM377 199l-1-8 6 1zM377 184l-1-8 6 1zM380 163l-1-9 6 2zM360 529l8-2 0 6zM360 516l8-3 0 6zM361 502l8-2-1 6zM363 488l8-2-1 6zM364 474l9-2-1 6zM366 460l8-1-1 6zM368 446l8 0-1 5zM368 433l9 0-2 5zM366 422l8-1-1 5zM360 412l9-2-1 6zM357 401l8-3 0 6zM356 388l8-2 0 6zM356 375l8-3 0 6zM394 302l3-5 2 3zM398 301l-3-8 6 0zM402 292l-4-7 5-2zM404 280l-5-7 5-1zM399 268l-3-8 6 0zM391 255l0-8 5 2zM386 243l1-9 5 3zM385 231l1-9 6 3zM387 220l1-9 5 3zM389 209l0-9 5 2zM391 196l-1-9 6 2zM393 178l-1-9 6 2zM397 156l-3-8 6 1zM400 133l-3-2 2-2zM401 119l-4-1 1-2zM373 529l8-2 0 5zM373 515l8-2 0 6zM374 502l8-2 0 6zM376 488l8-2-1 6zM378 474l8-2-1 6zM379 460l9-1-2 6zM381 446l9-1-2 6zM382 433l9-1-2 6zM381 421l9-1-2 6zM377 411l8-2-1 6zM372 400l8-2 0 6zM371 388l8-3-1 6zM370 374l8-2 0 6zM402 299l7 4-5 4zM408 293l5 5-4 2zM414 291l-5-4 4-2zM420 285l-7-5 5-4zM422 272l-8-4 5-4zM415 258l-6-7 6-2zM404 245l1-8 5 3zM396 234l4-8 4 5zM396 223l4-8 4 4zM400 213l2-9 5 4zM404 201l0-8 6 2zM408 186l-2-9 6 1zM411 168l-3-8 6 0zM414 150l-6-6 6-2zM415 134l-6-2 3-3zM415 120l-5-1 2-3zM386 529l8-3-1 6zM386 515l8-2-1 6zM387 502l8-2-1 6zM389 487l8-1-1 6zM390 474l9-2-1 6zM392 460l9-1-2 6zM394 446l8-1-1 6zM395 433l9-1-2 6zM395 420l8 0-2 5zM391 410l8-2-1 6zM386 400l8-3 0 6zM385 387l8-3-1 6zM384 373l9-2-1 6zM386 358l8-1-1 5zM388 342l9-1-1 6zM396 326l8 0-2 6zM405 310l8 3-3 5zM414 297l7 5-5 4zM421 287l5 7-6 2zM428 281l-2 7-4-4zM435 274l-8 2 0-6zM436 261l-8 2 1-6zM429 245l-4 4-2-4zM416 232l9-1-2 6zM409 222l8-3 0 6zM410 213l6-5 2 5zM415 204l4-8 4 4zM421 192l-1-9 6 2zM425 178l-4-8 6-1zM427 163l-6-6 5-2zM428 149l-6-4 4-3zM428 135l-6-3 4-3zM429 121l-6-2 2-3zM399 529l8-2 0 5zM399 515l8-2 0 6zM400 502l8-2 0 6zM402 488l8-2-1 6zM403 474l9-2-1 6zM405 460l9-1-2 6zM407 446l9-1-2 6zM408 433l9-1-2 6zM408 420l8 0-1 6zM404 410l9-2-1 6zM400 399l8-2-1 6zM398 387l9-3-1 6zM398 373l9-2-1 5zM400 358l8-2-1 6zM403 342l8-1-1 6zM409 326l9 1-2 5zM418 311l9 2-4 5zM427 298l7 4-5 4zM433 286l5 7-5 1zM440 275l1 9-6-2zM446 264l-4 8-4-5zM447 251l-4 8-4-5zM441 236l0 8-6-2zM431 223l6 6-5 3zM425 215l8 1-2 5zM426 208l8-3 0 6zM431 199l4-6 3 4zM436 189l-2-7 5 1zM439 176l-5-6 5-2zM440 163l-6-6 5-2zM441 149l-6-4 4-3zM441 135l-6-3 4-3zM442 121l-7-2 3-4zM442 107l-6-1 2-4zM442 94l-6-1 2-4zM414 529l8-2 0 6zM414 515l8-2-1 6zM415 502l8-2-1 6zM416 488l9-2-1 6zM418 474l8-2-1 6zM420 460l8-1-1 6zM422 446l8 0-2 6zM423 433l9 0-2 5zM423 421l8-1-1 6zM419 411l9-2-1 6zM415 400l8-3-1 6zM413 387l8-3 0 6zM413 373l9-2-1 5zM415 358l9-2-1 6zM419 342l8 0-1 5zM425 327l9 1-3 5zM433 313l8 2-3 5zM440 299l7 5-4 4zM446 287l5 7-5 2zM451 274l2 9-6-1zM455 261l0 8-6-2zM456 246l0 9-6-3zM452 234l2 8-6-1zM446 223l5 6-5 2zM442 215l8 3-4 4zM443 208l7-2 0 5zM446 199l2-5 3 2zM450 188l-3-6 5 0zM452 176l-5-6 5-2zM453 163l-6-5 5-3zM454 149l-6-4 4-3zM454 135l-6-3 4-3zM455 121l-7-2 3-4zM455 107l-6-1 2-4zM455 94l-6-1 2-4zM434 529l8-2-1 6zM433 515l9-2-1 6zM434 502l9-2-1 6zM435 488l9-2-1 6zM437 474l8-1-1 6zM439 461l8-1-2 6zM440 447l9 0-2 6zM442 434l8 0-2 6zM442 422l9 0-2 5zM438 411l8-2-1 6zM433 400l8-3-1 6zM430 387l8-3-1 6zM430 373l8-2-1 6zM432 358l8-1-1 6zM436 344l9-1-2 6zM442 329l8 0-2 6zM448 315l9 2-4 5zM454 302l8 4-5 4zM459 289l5 6-5 2zM462 276l4 8-6 0zM465 262l1 8-6-1zM465 248l2 8-6-1zM464 237l2 8-6-1zM461 227l4 6-5 2zM459 218l5 2-2 2zM460 209l2-2 1 2zM461 200l0-5 4 1zM464 188l-4-5 5-1zM466 176l-6-6 5-2zM467 163l-7-5 5-3zM467 149l-6-4 4-3zM467 135l-6-3 4-3zM468 121l-7-2 3-4zM468 107l-6-1 2-4zM468 92l-6 1 1-4zM469 76l-5 5-2-5zM452 528l8-1-1 6zM452 515l8-2-1 6zM452 501l9-1-2 6zM453 488l9-1-2 6zM455 474l8 0-1 5zM456 461l9 0-2 5zM458 448l8 0-2 5zM459 435l9 0-3 6zM459 422l9 0-2 6zM457 410l8 0-2 5zM451 399l9-2-1 6zM447 387l8-3-1 6zM446 373l8-2-1 6zM448 359l8-1-1 5zM452 345l9-1-2 5zM458 330l8 0-2 6zM463 316l8 2-3 5zM468 303l7 4-4 4zM471 290l7 6-6 2zM474 277l4 7-5 1zM476 263l3 8-6 0zM476 250l3 8-6 0zM476 239l3 8-6 0zM474 228l4 6-4 0zM474 218l3 2-2 2zM474 208l2-1 0 2zM476 198l-1-3 2 0zM478 187l-4-4 4-2zM479 175l-6-4 5-3zM480 162l-7-4 5-3zM480 149l-6-4 4-3zM480 135l-6-3 4-3zM481 121l-6-2 2-4zM481 106l-6 0 1-4zM482 90l-6 4-1-5zM483 74l-5 7-3-6zM483 59l-4 8-4-5zM465 528l9-1-1 5zM465 515l9-2-1 6zM466 501l9-1-2 6zM467 488l9-1-2 6zM468 474l9 0-2 5zM470 461l8 0-2 5zM471 448l9 0-2 6zM473 435l8 0-2 6zM473 422l9 0-3 6zM472 410l8 0-2 5zM468 398l9-1-2 6zM463 386l9-2-1 6zM461 373l8-2-1 6zM462 360l8-2-1 6zM466 345l9-1-2 6zM472 331l8 0-2 6zM477 317l8 2-3 5zM481 303l8 4-5 4zM484 290l7 6-6 3zM486 277l5 7-5 2zM488 264l4 8-6 1zM488 251l4 8-6 1zM488 239l4 8-6 0zM488 227l3 7-5 0zM487 215l4 6-4 1zM488 204l2 4-3 0zM489 194l1 1-2 0zM491 186l-4-3 3-2zM493 175l-6-4 4-3zM494 162l-8-4 5-4zM493 149l-6-4 4-4zM494 135l-7-3 3-4zM494 120l-6-1 2-4zM495 105l-6 2 0-5zM497 88l-7 6-2-6zM498 72l-5 7-3-5zM498 57l-4 8-4-5zM497 44l-3 8-4-5zM478 528l8-2-1 6zM478 515l9-2-1 6zM479 501l8-1-1 6zM480 488l9-1-2 6zM481 474l9 0-2 5zM483 461l8 0-2 5zM484 448l9 0-2 6zM485 435l9 0-2 6zM486 422l8 0-2 6zM485 410l9 0-2 5zM482 398l9-1-2 6zM478 386l8-2-1 6zM474 374l8-2 0 6zM475 360l8-2-1 6zM479 346l8-1-1 6zM485 331l8 0-2 6zM490 317l8 2-3 5zM494 303l8 5-5 3zM497 290l7 6-6 3zM499 277l5 7-5 2zM500 265l5 7-6 1zM501 252l4 8-6 0zM501 239l4 8-6 0zM500 227l4 7-5 0zM500 214l4 7-5 1zM501 202l3 6-5 0zM502 192l1 3-3 0zM505 185l-4-2 2-2zM506 174l-6-3 4-4zM507 162l-8-4 5-4zM507 149l-7-4 4-4zM507 135l-7-3 3-4zM507 120l-6-1 2-4zM508 104l-6 3 0-5zM511 87l-6 6-3-5zM513 70l-5 7-4-4zM513 55l-3 7-5-4zM513 42l-4 7-4-4zM512 29l-3 8-4-4zM491 528l9-1-1 5zM491 515l9-2-1 6zM492 501l8-1-1 6zM493 488l9-1-2 6zM494 474l9 0-2 5zM496 461l8 0-2 5zM497 448l9 0-2 6zM498 435l9 0-2 6zM499 422l8 0-2 6zM498 410l8 0-2 5zM494 398l9-1-2 6zM489 386l9-2-1 6zM486 374l8-2 0 6zM486 361l8-2 0 6zM490 347l8-2-1 6zM496 332l9 0-2 5zM503 317l8 2-3 5zM507 304l8 4-4 4zM510 291l7 5-6 3zM513 278l4 7-5 1zM514 265l4 7-6 1zM514 252l4 8-6 0zM514 239l3 8-5 0zM513 226l4 7-5 1zM513 213l5 8-6 1zM514 201l3 7-5 0zM515 191l1 4-3 0zM518 184l-4-1 2-2zM519 174l-6-3 4-4zM520 162l-8-4 5-4zM520 149l-7-4 4-4zM520 135l-7-3 3-4zM520 120l-6-1 2-4zM522 104l-7 3-1-5zM524 86l-6 7-3-6zM526 69l-4 7-4-4zM528 53l-4 8-4-4zM529 40l-4 7-4-4zM529 27l-4 8-4-5zM529 15l-4 7-4-4zM505 528l9-1-1 6zM505 515l9-2-1 6zM506 501l8-1-1 6zM507 488l9-1-2 6zM508 474l9 0-2 6zM509 461l9 0-2 6zM511 448l8 0-2 6zM512 435l9 0-3 6zM512 423l8 0-2 5zM510 410l8 0-1 6zM505 399l8-2-1 6zM500 387l8-2 0 6zM498 374l8-2 0 6zM499 361l9-2-1 6zM504 347l9-2-1 6zM511 332l9 0-2 5zM516 318l8 1-3 5zM520 304l8 4-4 4zM523 290l7 6-6 3zM526 277l4 7-5 2zM527 265l4 7-6 1zM527 252l4 8-6 0zM527 239l3 8-5 0zM526 226l5 8-6 0zM526 213l5 8-6 1zM527 201l3 7-5 0zM528 191l1 4-3 0zM531 184l-4-1 1-2zM532 174l-6-3 4-4zM533 162l-8-4 5-4zM532 149l-6-4 4-4zM532 135l-6-3 3-3zM532 120l-5-1 2-4zM534 104l-6 3 0-5zM536 87l-6 6-2-5zM539 70l-4 7-4-5zM542 53l-4 8-4-5zM543 40l-4 7-4-5zM544 27l-5 7-3-4zM544 15l-5 7-4-5zM522 528l8-1-1 6zM522 515l8-1-1 6zM522 502l9-1-2 6zM523 488l9 0-2 5zM524 475l9 0-2 5zM525 462l9 0-3 5zM526 449l8 0-2 5zM527 436l8 0-2 5zM526 423l9 0-2 6zM522 411l9-1-2 6zM517 399l8-1-1 5zM512 387l8-2 0 6zM511 374l9-2-1 6zM514 360l9-2-1 6zM520 346l8-1-1 6zM525 331l9 1-3 5zM530 317l8 2-3 5zM533 304l8 4-5 4zM536 290l7 6-6 3zM538 277l5 7-5 2zM540 264l4 8-6 1zM540 252l4 7-6 1zM540 239l4 8-6 0zM539 226l5 8-6 0zM539 213l5 8-6 1zM540 201l3 7-5 0zM541 191l1 4-3 0zM544 184l-4-1 1-2zM545 174l-6-3 4-4zM546 162l-8-4 5-4zM545 149l-6-4 4-4zM545 135l-6-3 3-3zM545 121l-6-2 3-3zM545 106l-5 0 1-3zM547 90l-6 4-1-5zM551 72l-5 7-3-5zM555 55l-5 7-3-5zM557 41l-5 7-4-5zM557 29l-5 7-3-5zM557 17l-5 7-3-6zM557 6l-6 6-3-6zM537 528l8-1-1 6zM537 515l8-1-1 6zM538 502l8-1-2 6zM538 489l9-1-2 6zM539 475l9 0-2 6zM540 462l8 0-2 6zM540 449l9 0-3 6zM541 436l8 0-2 6zM540 423l9 0-3 6zM537 411l9 0-2 5zM532 399l8-1 0 6zM527 387l8-2 0 6zM525 374l9-2-1 6zM528 360l9-2-1 6zM533 346l9-1-2 5zM539 331l8 1-2 5zM543 317l8 2-3 5zM546 304l8 4-5 4zM549 290l7 6-6 3zM551 277l5 7-6 2zM553 264l4 8-6 1zM553 252l4 7-6 1zM553 239l4 8-6 0zM552 226l5 8-6 0zM552 213l4 8-5 1zM553 201l3 7-5 0zM554 191l1 4-3 0zM557 185l-4-2 2-2zM558 174l-6-3 4-4zM558 162l-7-4 5-4zM558 149l-6-4 4-4zM558 135l-6-3 3-3zM557 121l-5-2 3-3zM557 107l-5-1 3-3zM558 93l-5 0 1-3zM562 76l-7 5-1-6zM567 58l-6 6-3-5zM569 44l-5 6-3-5zM570 32l-6 6-3-6zM570 20l-6 6-3-6zM570 8l-7 5-2-5zM550 528l9-1-2 6zM550 515l9-1-2 6zM551 502l8-1-1 6zM552 489l8-1-2 6zM553 475l8 0-2 6zM553 462l9 0-3 6zM553 449l9 0-2 6zM554 436l8 0-2 6zM554 423l8 1-2 5zM552 411l8 0-2 5zM547 399l8-1-1 6zM541 387l8-2 0 6zM538 374l8-2 0 6zM540 360l8-2-1 6zM545 346l9-1-2 6zM551 331l8 1-2 5zM556 317l8 2-3 5zM559 304l8 4-5 4zM562 290l7 6-6 3zM564 277l5 7-6 2zM566 264l4 8-6 1zM566 252l4 7-6 1zM566 239l4 8-6 0zM565 226l4 8-5 0zM565 213l4 8-5 1zM566 201l3 7-5 0zM567 191l1 4-3 0zM570 184l-4-1 1-2zM571 174l-6-3 4-4zM571 162l-7-4 5-4zM571 149l-7-4 5-3zM570 135l-5-3 3-3zM570 122l-5-4 3-2zM569 108l-4-3 3-2zM570 94l-5-1 3-3zM573 79l-7 2 1-5zM578 62l-7 5-2-5zM580 48l-6 5-2-6zM581 35l-6 5-2-6zM582 22l-7 5-2-5zM582 10l-7 5-1-6zM563 528l8-1-1 6zM563 515l9-1-2 6zM564 502l8-1-1 6zM565 488l8 0-2 6zM565 475l9 0-2 6zM566 462l8 0-2 6zM566 449l9 0-2 6zM567 436l8 0-2 6zM567 424l8 0-2 5zM565 411l9 0-2 6zM561 399l8-1-1 6zM554 387l9-2-1 6zM550 374l8-2 0 6zM550 361l9-2-1 6zM555 347l9-2-1 6zM563 332l8 0-2 6zM568 318l8 1-3 6zM572 305l8 3-4 4zM575 291l7 6-5 3zM577 278l5 7-5 2zM578 265l4 7-5 1zM579 253l3 7-5 0zM578 239l4 8-5 0zM578 226l4 8-5 0zM578 213l4 8-5 1zM579 201l3 7-5 0zM580 191l1 4-3 0zM582 184l-3-1 1-2zM583 174l-5-3 4-3zM584 162l-7-4 5-3zM583 149l-6-4 5-3zM583 136l-5-5 4-2zM582 122l-4-4 3-2zM582 109l-4-4 3-2zM582 96l-4-4 3-2zM584 82l-6-2 3-3zM587 66l-8 2 1-6zM590 52l-7 3-1-6zM592 38l-7 4-1-6zM593 24l-8 5 0-6zM593 11l-7 5-1-6zM576 528l9-1-2 6zM576 515l9-1-2 6zM577 502l8-1-1 6zM578 489l8-1-2 6zM578 475l9 0-2 6zM579 462l9 0-3 6zM580 449l8 1-2 5zM581 437l8 0-2 6zM581 425l8-1-2 6zM579 412l8-1-1 6zM574 400l8-2-1 6zM567 387l8-2 0 6zM562 375l8-3 0 6zM562 361l8-2 0 6zM567 348l8-2 0 6zM574 334l8-1-1 6zM581 321l8-1-2 6zM584 308l9 1-3 5zM586 295l8 2-3 4zM588 283l6 1-3 4zM589 269l5 3-3 2zM590 255l5 4-4 2zM591 240l4 6-5 2zM591 226l4 7-5 1zM591 213l4 8-5 1zM591 201l4 7-5 0zM593 191l1 4-3 0zM595 184l-3-1 1-2zM596 174l-5-4 4-2zM596 162l-6-4 5-3zM596 149l-6-5 5-2zM595 136l-5-5 5-2zM594 123l-3-5 4-1zM594 110l-3-5 4-1zM595 97l-4-5 4-1zM596 83l-5-3 3-3zM598 68l-7 0 3-5zM601 54l-9 1 1-6zM603 39l-8 3 0-6zM604 26l-8 3 0-6zM604 13l-7 3-1-6zM590 528l8-1-1 6zM590 515l8-1-1 6zM590 502l9-1-2 6zM591 489l9-1-2 6zM592 475l8 0-2 6zM593 463l8 0-2 5zM594 451l9-1-2 6zM596 439l8-1-1 6zM596 427l8-2 0 6zM593 415l9-3-1 6zM587 401l8-2 0 6zM579 388l8-2 0 6zM575 375l8-3 0 6zM576 362l9-3-1 6zM582 348l9-2-1 6zM589 335l8-1 0 5zM593 323l9-2-1 6zM596 311l8-2 0 6zM598 299l7-3 1 6zM599 287l6-4 1 5zM600 273l5-2 1 4zM602 258l4 1-1 2zM604 241l4 5-5 2zM604 227l4 6-5 2zM604 213l4 8-5 1zM604 201l4 7-5 0zM605 191l2 4-3 0zM608 184l-3-1 1-2zM609 174l-5-4 4-2zM609 162l-6-5 5-2zM608 149l-5-5 5-2zM608 136l-5-5 5-2zM607 123l-4-5 5-1zM607 110l-4-5 5-1zM607 97l-4-5 5-1zM608 83l-4-4 3-2zM610 69l-6-2 3-3zM612 55l-7 0 1-5zM614 41l-8 1 0-5zM615 27l-8 3 0-6zM616 13l-8 3 0-6zM604 528l9-1-2 6zM604 515l9-1-2 6zM604 502l9-1-2 6zM605 489l9 0-2 5zM606 476l8 0-2 5zM608 464l8 0-1 5zM610 454l9-3-1 6zM612 443l6-4 1 5zM612 431l6-5 1 5zM609 418l7-5 1 6zM600 403l8-3 0 6zM590 389l9-3-1 6zM587 375l9-3-1 6zM591 361l8-2 0 6zM597 348l9-2-1 6zM603 336l8-2 0 6zM607 324l8-3-1 6zM609 312l8-3 0 6zM610 300l8-4 1 6zM611 288l7-5 1 6zM612 275l6-5 1 5zM614 259l5-1-1 4zM616 242l4 4-3 2zM617 227l4 6-5 1zM617 214l4 7-5 0zM618 201l3 7-5 0zM618 191l2 4-3 0zM620 184l-2-1 1-2zM621 174l-4-4 4-2zM621 162l-5-5 5-2zM621 149l-5-5 5-2zM620 136l-4-5 5-1zM620 123l-4-5 5-1zM620 110l-4-5 5-1zM620 97l-4-5 5-1zM621 83l-4-4 3-2zM623 69l-6-2 3-3zM625 55l-7 0 1-5zM626 41l-8 1 1-5zM627 27l-8 3 0-6zM628 14l-8 3 0-6zM618 528l9 0-2 5zM618 515l8-1-1 6zM618 502l9 0-2 5zM619 489l8 0-2 5zM619 476l9 0-2 5zM621 464l8 0-1 5zM625 455l6-3 1 5zM627 444l3-4 3 3zM627 432l3-5 3 3zM623 419l7-6 2 6zM613 404l8-3 1 6zM603 389l8-3 0 6zM600 375l8-2 0 5zM604 361l8-2 0 6zM611 348l8-2-1 6zM616 336l9-2-1 6zM620 324l8-3-1 6zM622 312l8-3 0 6zM623 300l8-4 1 6zM624 288l7-5 1 6zM625 275l6-5 1 5zM626 260l5-2 1 4zM629 243l4 3-3 2zM631 228l3 6-5 0zM631 214l3 7-5 0zM631 202l3 6-5 0zM631 191l2 4-3 0zM633 184l-2-1 1-2zM633 174l-3-4 3-2zM633 162l-4-5 5-2zM633 150l-4-6 5-1zM632 137l-3-6 5-1zM632 124l-3-6 5-1zM632 111l-3-6 5-1zM633 97l-4-5 5-1zM634 84l-5-5 5-2zM635 70l-5-3 3-3zM637 55l-7 0 3-5zM639 41l-8 1 1-5zM640 27l-9 2 1-6zM640 14l-8 3 0-6zM631 528l8-1-1 6zM631 515l8-1-2 6zM631 502l9-1-2 6zM631 489l9-1-2 6zM632 476l8 0-2 5zM633 463l9 0-2 6zM637 453l8-1-1 5zM641 443l3-3 1 3zM641 431l3-4 1 3zM637 418l7-5 1 5zM627 404l8-4 0 6zM616 389l8-3 0 6zM613 375l8-3 0 6zM616 362l9-3-1 6zM623 348l8-2 0 6zM629 336l8-2-1 6zM632 324l9-3-1 6zM635 312l8-3 0 6zM636 300l8-4 1 6zM637 288l7-5 1 6zM638 275l6-5 1 5zM640 260l5-2-1 4zM643 243l3 3-3 2zM644 228l3 6-5 0zM644 215l3 6-5 0zM644 202l3 6-5 0zM644 191l2 4-3 0zM645 183l-1 0 1-1zM645 175l-3-6 5 0zM645 163l-3-7 5 0zM645 150l-3-7 5 0zM645 137l-3-7 5 0zM645 124l-3-7 5 0zM645 111l-3-7 5 0zM645 98l-3-6 5-1zM646 84l-4-5 5-1zM648 70l-5-3 3-3zM649 56l-6-2 3-3zM651 42l-7 0 1-5zM652 28l-8 1 1-5zM652 14l-8 2 1-5zM644 528l8-1-2 6zM644 515l8-1-2 6zM644 502l9-1-2 6zM644 488l9 0-2 6zM645 475l8 1-2 5zM646 463l9 0-3 6zM650 451l9 1-3 5zM655 440l3 1-1 1zM657 427l1 1-1 1zM653 415l5-1-1 3zM643 402l8-3-1 6zM630 388l8-2 0 6zM625 375l8-3-1 6zM626 362l9-3-1 6zM633 349l8-3-1 6zM640 336l8-2-1 6zM645 324l8-3 0 6zM648 312l8-3 0 6zM649 300l8-4 1 6zM650 288l7-5 1 6zM651 274l6-3 1 4zM654 259l4 0-1 2zM657 242l2 5-3 0zM657 228l3 6-5 0zM657 215l3 6-5 0zM657 202l3 6-5 0zM657 190l2 5-3 0zM658 175l-3-6 5 0zM658 164l-3-8 5 0zM657 151l-2-8 5 0zM657 138l-2-8 5 0zM657 125l-2-8 5 0zM658 111l-3-7 5 0zM658 98l-3-6 5-1zM659 85l-4-6 5-1zM660 71l-5-5 4-2zM662 57l-6-3 3-3zM663 43l-7-1 3-5zM664 29l-7 0 1-5zM665 15l-8 1 1-5zM657 528l8-1-2 6zM657 515l8-1-2 6zM657 502l9-1-2 6zM657 488l9 1-2 5zM658 475l9 1-3 5zM660 462l8 1-2 6zM665 450l7 2-3 5zM670 437l2 5-3-1zM672 424l0 5-3-1zM669 411l3 4-3 1zM658 399l9-1-2 6zM643 387l9-2-1 6zM636 375l9-3-1 6zM637 362l8-3 0 6zM642 349l8-2 0 6zM649 337l8-3 0 6zM657 325l8-3 0 6zM661 313l7-4 1 6zM663 301l7-5 1 6zM664 288l6-5 1 5zM665 274l5-3 1 4zM668 257l3 2-2 2zM670 242l2 5-4 0zM671 228l2 6-5 0zM671 215l2 6-5 0zM670 202l3 6-5 0zM671 192l1 3-3 0zM671 185l-2-3 3 0zM671 178l-4-8 6-1zM670 166l-3-8 6 0zM670 153l-3-8 6 0zM670 140l-3-8 6 0zM670 126l-3-8 6 0zM670 112l-3-8 6 0zM671 99l-3-8 5 0zM672 85l-4-6 5-1zM673 71l-5-5 5-2zM674 57l-5-3 3-3zM675 43l-6-2 3-3zM676 30l-7-1 3-5zM677 16l-8 0 2-5zM670 528l9 0-2 5zM670 515l9 0-2 5zM670 502l9 0-2 5zM671 489l8 0-2 5zM672 475l8 1-2 5zM674 462l9 2-3 5zM680 449l6 4-5 3zM685 435l1 7-5-1zM686 422l0 7-5-1zM683 410l3 5-5 1zM672 398l9 0-3 6zM657 387l8-2-1 6zM650 375l8-3-1 6zM650 362l9-2-1 6zM655 350l8-3 0 6zM663 337l8-2 0 6zM670 326l7-4 1 6zM674 314l7-5 1 6zM676 302l6-6 2 6zM677 288l5-4 2 4zM679 274l4-3 1 4zM681 257l4 2-3 2zM683 241l3 6-5 0zM684 227l2 7-5 0zM684 214l2 7-5 0zM685 202l1 7-5-1zM686 194l-2 2-1-2zM687 190l-6-6 5-3zM685 181l-4-7 6-1zM684 170l-3-8 6 0zM683 157l-3-8 6 0zM683 143l-3-8 6 0zM683 129l-3-9 6 1zM683 114l-3-8 6 0zM684 99l-4-8 6 0zM684 85l-3-6 5-1zM685 71l-4-5 5-1zM686 58l-5-5 4-2zM687 44l-5-3 3-3zM688 30l-6-2 3-3zM689 17l-7-2 3-3zM684 528l8 0-2 5zM684 515l8 0-2 5zM684 502l9 0-2 5zM685 489l8 0-2 5zM686 475l8 1-2 6zM687 462l9 2-3 5zM693 449l6 4-5 3zM698 435l1 7-5-1zM699 422l0 7-5-1zM696 409l3 6-5 1zM684 398l9 0-2 6zM669 387l9-2-1 6zM664 375l8-2 0 6zM666 362l8-2 0 6zM671 350l8-3 0 6zM677 338l8-3 0 6zM683 326l8-4 0 6zM687 314l7-5 1 6zM689 302l6-6 2 6zM690 288l6-4 1 4zM692 273l4-2 0 4zM695 256l3 3-3 2zM697 239l2 8-5 0zM697 225l3 8-6-1zM698 212l2 8-6-1zM701 202l-2 8-5-4zM704 196l-8 2 1-6zM704 190l-8-3 5-4zM701 182l-5-6 5-2zM698 172l-4-8 6-1zM696 160l-3-8 6 0zM696 146l-3-8 6 0zM696 131l-3-8 6 0zM696 115l-3-8 6 1zM696 100l-3-8 6 0zM697 86l-3-7 5-1zM698 72l-4-6 5-1zM698 58l-4-5 5-1zM699 45l-5-5 4-2zM700 31l-5-3 3-3zM700 17l-5-2 3-3zM697 528l8 0-2 5zM697 515l8 0-2 5zM697 502l9 0-2 5zM698 488l9 1-3 5zM699 475l8 1-2 6zM700 462l8 1-3 6zM703 449l8 3-4 4zM708 435l4 6-5 1zM711 422l1 7-5-1zM707 409l5 6-5 1zM695 398l9 0-2 5zM681 388l8-3 0 6zM677 376l8-3 0 6zM680 363l8-3-1 6zM684 350l8-3 0 6zM690 338l8-3 0 6zM695 326l8-4 1 6zM700 314l7-5 1 6zM702 302l6-6 2 6zM703 288l6-4 1 4zM705 272l5-1-1 3zM708 254l3 5-4 1zM710 238l2 8-6 0zM711 223l2 9-6-1zM712 210l1 8-6-1zM715 200l-2 9-5-4zM717 180l-7-5 5-3zM713 171l-5-7 6-2zM710 160l-3-8 6 0zM709 147l-3-8 6 0zM709 133l-3-9 6 1zM709 117l-3-8 6 0zM709 101l-3-8 6 0zM710 86l-4-8 6 0zM710 72l-3-6 5-1zM711 58l-4-5 5-1zM711 45l-4-5 4-1zM712 32l-5-5 4-1zM712 18l-4-3 3-3zM710 528l8 0-2 5zM710 515l9 0-3 5zM711 501l8 1-2 5zM712 488l8 1-2 5zM712 475l9 1-3 5zM713 462l8 1-3 6zM715 448l8 3-4 5zM718 434l7 6-5 3zM721 421l4 7-6 1zM718 408l7 5-5 4zM705 398l9-1-2 6zM692 388l8-2 0 6zM689 376l8-3 0 6zM691 363l8-3 0 6zM694 350l8-3 0 6zM700 338l8-3 0 6zM706 326l8-4 0 6zM712 314l7-5 1 6zM715 301l6-5 2 6zM717 287l5-3 1 4zM719 270l4 2-2 2zM721 253l4 7-5 0zM723 237l2 8-6 0zM724 223l2 8-6-1zM725 209l1 9-6-2zM729 200l-3 8-4-4zM734 193l-8 4 0-5zM735 186l-8 1 1-6zM733 177l-8-2 3-5zM729 168l-6-5 5-3zM725 159l-4-8 6-1zM723 147l-3-8 6 0zM722 134l-3-9 6 1zM722 118l-3-8 6 0zM722 102l-3-8 6 0zM722 87l-3-9 6 1zM723 72l-3-6 5-1zM723 59l-3-6 5-1zM723 45l-3-5 5-1zM724 32l-4-5 4-1zM724 18l-3-4 3-1zM723 528l9 0-3 5zM723 514l9 1-2 5zM724 501l9 1-3 5zM725 488l9 1-3 5zM726 475l8 1-3 5zM727 462l8 2-3 5zM728 448l8 3-4 4zM731 434l6 5-5 3zM732 420l6 6-6 2zM730 407l7 6-5 3zM719 397l9 0-2 6zM705 388l8-3-1 6zM700 376l8-3 0 6zM701 363l8-3 0 6zM704 350l8-2 0 6zM708 338l8-3 0 6zM714 326l8-4 1 6zM722 314l7-4 1 6zM727 301l7-5 2 6zM730 285l6-1-1 4zM733 268l4 4-4 2zM735 251l3 7-6 1zM735 236l3 8-6 0zM736 222l3 8-6 0zM738 209l1 9-6-2zM742 199l-2 8-5-3zM748 192l-8 5-1-6zM750 184l-9 2 1-6zM749 174l-9 0 2-5zM746 165l-8-3 4-5zM742 156l-7-6 6-3zM738 146l-5-8 6-1zM735 133l-3-8 6 0zM734 119l-2-9 6 1zM735 102l-3-8 6 0zM735 86l-3-8 6 0zM735 71l-2-6 5 0zM735 58l-2-6 4 0zM735 45l-2-6 4 0zM737 528l8 0-2 5zM737 514l9 1-3 5zM738 501l9 1-3 5zM739 488l9 1-4 5zM740 475l8 2-3 5zM740 461l9 3-4 5zM742 447l7 4-4 4zM744 433l6 6-5 3zM745 420l5 6-5 2zM743 407l7 5-5 3zM735 396l9 1-3 5zM720 388l8-3-1 6zM713 376l8-3 0 6zM713 364l8-3 0 6zM714 351l8-3 0 6zM716 338l8-3 0 6zM721 325l8-3 0 6zM729 313l8-3 0 6zM739 299l8-3 0 6zM744 282l6 2-3 3zM746 265l5 7-6 1zM747 249l4 8-6 1zM748 235l3 8-6 0zM749 222l2 8-6 0zM751 209l1 9-6-2zM755 199l-2 8-5-3zM761 192l-7 5-1-6zM764 183l-8 3 0-6zM764 172l-9 2 2-6zM762 162l-9-1 3-5zM759 152l-8-3 3-5zM754 142l-6-6 5-2zM748 82l-1-4 3 0zM751 528l9 0-3 6zM752 514l8 1-3 6zM752 501l9 1-3 6zM753 487l8 3-3 5zM753 474l9 3-4 5zM754 461l8 3-4 5zM755 447l8 5-5 3zM757 433l6 6-5 3zM758 420l6 6-6 2zM757 407l6 6-5 2zM751 396l8 2-3 5zM735 387l9-2-1 6zM727 376l8-3 0 6zM726 364l8-3 0 6zM726 351l8-3 0 6zM728 338l8-3 0 6zM730 325l8-3 0 6zM736 312l8-3 0 6zM750 298l8-3 0 6zM759 279l5 6-5 2zM760 263l4 7-6 1zM760 249l4 7-6 1zM760 235l4 8-6 0zM761 222l3 8-6 0zM763 209l2 9-6-1zM768 200l-3 8-4-4zM775 193l-8 4-1-6zM778 183l-8 2 0-6zM778 171l-8 2 0-6zM777 159l-8 2 1-6zM775 148l-9 0 2-6zM771 137l-8-2 3-5z" fill="#fff"/><polygon points="181,5 181,15.4 183.9,25.5 187.8,35.2 190.7,58.4 196.5,79.7 199.4,103 208.1,122.3 212,134 224.6,153.3 231.3,168.8 235.2,184.3 241,203.7 250.7,221.1 258.5,232.7 264.3,248.2 270.1,261.8 276.9,277.3 279.8,290.8 289.5,304.4 299.1,316 305,321.8 314.6,319.9 320,315 322.7,310.5 325.4,302.4 333.6,296.1 347.1,293.3 357.1,294.2 356.2,292.4 349.8,292 344.4,288.8 344.4,283.4 351.6,272.5 352.5,268 358,264.4 367.5,262.6 367.9,240 370.8,219.2 374.7,195.9 375.6,174.6 374.7,145.6 377.6,130.1 385.3,122.3 399.9,112.7 417.3,106.8 420,108.3 431.3,100.4 432.4,91.3 447.1,82.3 465.2,68.7 481,55.2 494.6,39.4 505.9,28.1 517.2,21.3 537.5,15.6 540,5" fill="#bebebe" stroke="#000" stroke-width="1.8" stroke-linejoin="round"/><polygon points="368.8,280.7 374.2,278 380.6,279.8 382.4,285.2 388.7,288.8 395,296.1 401.4,305.1 407.7,314.1 414,326.8 419.5,339.5 420.4,351.2 417.6,363 410.4,369.3 396.9,375.6 385.1,377.4 377.9,373.8 371.5,364.8 367.9,348.5 365.2,330.4 366.1,316.9 369.3,303.3 371.5,296.1 374.2,287.9 372.4,284.3" fill="#bebebe" stroke="#000" stroke-width="1.8" stroke-linejoin="round"/><polygon points="728,5 728,15 728.2,20.7 734.6,27.8 737.4,34.9 738.1,44.1 742.4,46.9 746.6,59.7 750.2,72.5 750.2,81 746.6,91.7 743.1,102.3 741,116.5 745.2,121.5 750,124 753,112 754.5,105.9 756.6,116.5 760.9,113 761.6,123.6 775,123.6 775,5" fill="#bebebe" stroke="#000" stroke-width="1.8" stroke-linejoin="round"/><polygon points="709,182 713,183 712,195 709,207 708.5,215 705,228 701.5,239 698,238 699,226 702.5,212 703,200 706,190" fill="#bebebe" stroke="#000" stroke-width="1.8" stroke-linejoin="round"/><polygon points="722.5,28 727,24.5 733,27 735.5,33 736,41 731,41.5 726,35 722,31" fill="#bebebe" stroke="#000" stroke-width="1.8" stroke-linejoin="round"/><polygon points="722,44 727.5,43 729,47 726,50 723,48" fill="#bebebe" stroke="#000" stroke-width="1.8" stroke-linejoin="round"/><polygon points="706,12 720,12 719,18 712,20 707,17.5" fill="#bebebe" stroke="#000" stroke-width="1.8" stroke-linejoin="round"/><ellipse cx="695.3" cy="255.3" rx="3.5" ry="5.5" fill="#bebebe" stroke="#000" stroke-width="1.8" stroke-linejoin="round"/><ellipse cx="703.5" cy="294" rx="2" ry="2" fill="#bebebe" stroke="#000" stroke-width="1.8" stroke-linejoin="round"/><ellipse cx="712.2" cy="318" rx="2.5" ry="2.5" fill="#bebebe" stroke="#000" stroke-width="1.8" stroke-linejoin="round"/><ellipse cx="720.9" cy="323" rx="3" ry="3.5" fill="#bebebe" stroke="#000" stroke-width="1.8" stroke-linejoin="round"/><ellipse cx="730.5" cy="351" rx="3" ry="6.5" fill="#bebebe" stroke="#000" stroke-width="1.8" stroke-linejoin="round"/><ellipse cx="177" cy="236" rx="1.5" ry="1.5" fill="#bebebe" stroke="#000" stroke-width="1.8" stroke-linejoin="round"/><ellipse cx="189.5" cy="313" rx="1.5" ry="1.5" fill="#bebebe" stroke="#000" stroke-width="1.8" stroke-linejoin="round"/><ellipse cx="511" cy="21" rx="4.5" ry="3.2" fill="#bebebe" stroke="#000" stroke-width="1.8" stroke-linejoin="round"/>
</g>
<text x="208" y="52.9" font-size="32" font-weight="bold">Jan.</text><rect x="309" y="26.8" width="50.2" height="20.3" fill="#00008b"/><rect x="309" y="59.3" width="50.2" height="20.3" fill="#8b0000"/><text x="381" y="45.3" font-size="22" font-weight="bold">BBW</text><text x="381" y="77.4" font-size="22" font-weight="bold">ASW</text><text x="260.3" y="123.2" font-size="31" font-weight="bold" fill="#fff">0.2 m/s</text><path d="M294.3 134H314" stroke="#fff" stroke-width="1.6"/><path d="M319.5 134L312.5 131.2V136.8Z" fill="#fff"/>
<rect x="112.3" y="13.5" width="649" height="518.8" fill="none" stroke="#000" stroke-width="2.6"/>
<text x="112.3" y="572.6" font-size="26.5" text-anchor="middle">70°E</text>
<text x="242.1" y="572.6" font-size="26.5" text-anchor="middle">75°E</text>
<text x="371.9" y="572.6" font-size="26.5" text-anchor="middle">80°E</text>
<text x="501.7" y="572.6" font-size="26.5" text-anchor="middle">85°E</text>
<text x="631.5" y="572.6" font-size="26.5" text-anchor="middle">90°E</text>
<text x="761.3" y="572.6" font-size="26.5" text-anchor="middle">95°E</text>
<text x="91" y="542" font-size="26.5" text-anchor="end">0°</text>
<text x="91" y="412.3" font-size="26.5" text-anchor="end">5°N</text>
<text x="91" y="282.6" font-size="26.5" text-anchor="end">10°N</text>
<text x="91" y="152.9" font-size="26.5" text-anchor="end">15°N</text>
<text x="91" y="23.2" font-size="26.5" text-anchor="end">20°N</text>
<path d="M112.3 532.3V545.3M242.1 532.3V545.3M371.9 532.3V545.3M501.7 532.3V545.3M631.5 532.3V545.3M761.3 532.3V545.3M112.3 532.3H98.8M112.3 402.6H98.8M112.3 272.9H98.8M112.3 143.2H98.8M112.3 13.5H98.8" stroke="#000" stroke-width="2.6" fill="none"/>
<text x="436.8" y="602.6" font-size="27.2" text-anchor="middle">Longitude</text>
<text transform="translate(23.2,272.9) rotate(-90)" font-size="27.2" text-anchor="middle">Latitude</text>
<polyline points="961,13.2 955.5,18.4 950.1,23.6 944.6,28.8 939.2,34 939.2,34" fill="none" stroke="#000" stroke-width="1.1"/><polyline points="911.6,60.7 906.3,65.9 901,71.1 898.4,73.7" fill="none" stroke="#000" stroke-width="1.1"/><text transform="translate(925.8,47.8) rotate(-44.1)" font-size="25" text-anchor="middle" dy="8.5">14</text><polyline points="1148,13.2 1142.6,18.4 1137.1,23.6 1131.7,28.8 1126.4,34 1121,39.2 1115.6,44.3 1110.3,49.5 1105,54.7 1099.7,59.9 1096.8,62.8" fill="none" stroke="#000" stroke-width="1.1"/><polyline points="1069.5,89.8 1064.4,95 1059.2,100.1 1054.1,105.3 1048.9,110.5 1043.8,115.7 1038.7,120.9 1033.6,126.1 1028.6,131.3 1023.5,136.5 1018.5,141.7 1013.5,146.9 1008.5,152.1 1003.5,157.3 998.5,162.4 993.6,167.6 988.7,172.8 983.8,178 978.9,183.2 974,188.4 969.2,193.6 964.3,198.8 959.5,204 954.7,209.2 949.9,214.4 945.1,219.5 940.4,224.7 935.6,229.9 930.9,235.1 926.2,240.3 921.5,245.5 916.9,250.7 912.2,255.9 907.6,261.1 903,266.3 898.4,271.5 898.4,271.5" fill="none" stroke="#000" stroke-width="1.1"/><text transform="translate(1083.5,76.4) rotate(-44.8)" font-size="25" text-anchor="middle" dy="8.5">16</text><polyline points="1334.4,13.2 1329,18.4 1323.6,23.6 1318.2,28.8 1312.9,34 1307.5,39.2 1302.2,44.3 1296.9,49.5 1291.6,54.7 1287.1,59.1" fill="none" stroke="#000" stroke-width="1.1"/><polyline points="1260,86.1 1254.8,91.3 1249.7,96.5 1244.5,101.7 1239.4,106.9 1234.3,112.1 1229.2,117.3 1224.2,122.5 1219.1,127.7 1214.1,132.9 1209.1,138 1204.1,143.2 1199.1,148.4 1194.1,153.6 1189.2,158.8 1184.3,164 1179.3,169.2 1174.4,174.4 1169.6,179.6 1164.7,184.8 1159.9,190 1155,195.1 1150.2,200.3 1145.4,205.5 1140.7,210.7 1135.9,215.9 1131.2,221.1 1126.5,226.3 1121.7,231.5 1117.1,236.7 1112.4,241.9 1107.7,247.1 1103.1,252.2 1098.5,257.4 1093.9,262.6 1089.3,267.8 1084.7,273 1080.2,278.2 1075.7,283.4 1071.1,288.6 1066.6,293.8 1062.2,299 1057.7,304.2 1053.3,309.3 1048.8,314.5 1044.4,319.7 1040,324.9 1035.7,330.1 1031.3,335.3 1027,340.5 1022.6,345.7 1018.3,350.9 1014,356.1 1009.8,361.3 1005.5,366.4 1001.3,371.6 997.1,376.8 992.9,382 988.7,387.2 984.5,392.4 980.4,397.6 976.3,402.8 972.1,408 968,413.2 964,418.4 959.9,423.5 955.9,428.7 951.8,433.9 947.8,439.1 943.8,444.3 939.9,449.5 935.9,454.7 932,459.9 928.1,465.1 924.2,470.3 920.3,475.5 916.4,480.6 912.6,485.8 908.7,491 904.9,496.2 901.1,501.4 898.5,505" fill="none" stroke="#000" stroke-width="1.1"/><text transform="translate(1272.7,72) rotate(-44.8)" font-size="25" text-anchor="middle" dy="8.5">18</text><polyline points="1520.3,13.2 1514.9,18.4 1509.5,23.6 1505.8,27.2" fill="none" stroke="#000" stroke-width="1.1"/><polyline points="1478.5,53.9 1473.2,59.1 1468,64.3 1462.8,69.5 1457.6,74.7 1452.4,79.9 1447.2,85.1 1442.1,90.3 1437,95.5 1431.8,100.7 1426.7,105.9 1421.7,111.1 1416.6,116.2 1411.6,121.4 1406.5,126.6 1401.5,131.8 1396.5,137 1391.6,142.2 1386.6,147.4 1381.7,152.6 1376.7,157.8 1371.8,163 1366.9,168.2 1362.1,173.3 1357.2,178.5 1352.4,183.7 1347.6,188.9 1342.7,194.1 1338,199.3 1333.2,204.5 1328.4,209.7 1323.7,214.9 1319,220.1 1314.3,225.3 1309.6,230.4 1304.9,235.6 1300.3,240.8 1295.7,246 1291,251.2 1286.4,256.4 1281.9,261.6 1277.3,266.8 1272.8,272 1268.2,277.2 1263.7,282.4 1259.2,287.5 1254.8,292.7 1250.3,297.9 1245.9,303.1 1241.4,308.3 1237,313.5 1232.6,318.7 1228.3,323.9 1223.9,329.1 1219.6,334.3 1215.3,339.5 1211,344.6 1206.7,349.8 1202.4,355 1198.2,360.2 1193.9,365.4 1189.7,370.6 1185.5,375.8 1181.3,381 1177.2,386.2 1173,391.4 1168.9,396.6 1164.8,401.7 1160.7,406.9 1156.6,412.1 1152.6,417.3 1148.5,422.5 1144.5,427.7 1140.5,432.9 1136.5,438.1 1132.5,443.3 1128.6,448.5 1124.6,453.7 1120.7,458.8 1116.8,464 1112.9,469.2 1109.1,474.4 1105.2,479.6 1101.4,484.8 1097.6,490 1093.8,495.2 1090,500.4 1086.3,505.6 1082.5,510.8 1078.8,515.9 1075.1,521.1 1071.4,526.3 1067.7,531.5 1067.2,532.3" fill="none" stroke="#000" stroke-width="1.1"/><text transform="translate(1491,39.5) rotate(-44.4)" font-size="25" text-anchor="middle" dy="8.5">20</text><polyline points="1611.2,107.2 1606.2,112.3 1601.1,117.5 1596.1,122.7 1591.1,127.9 1586.1,133.1 1583.7,135.7" fill="none" stroke="#000" stroke-width="1.1"/><polyline points="1557.6,163.2 1552.7,168.4 1547.9,173.6 1543,178.8 1538.2,184 1533.4,189.2 1528.7,194.4 1523.9,199.6 1519.2,204.7 1514.4,209.9 1509.7,215.1 1505,220.3 1500.4,225.5 1495.7,230.7 1491.1,235.9 1486.4,241.1 1481.8,246.3 1477.2,251.5 1472.7,256.7 1468.1,261.8 1463.6,267 1459.1,272.2 1454.6,277.4 1450.1,282.6 1445.6,287.8 1441.1,293 1436.7,298.2 1432.3,303.4 1427.9,308.6 1423.5,313.8 1419.2,318.9 1414.8,324.1 1410.5,329.3 1406.2,334.5 1401.9,339.7 1397.6,344.9 1393.3,350.1 1389.1,355.3 1384.9,360.5 1380.7,365.7 1376.5,370.9 1372.3,376.1 1368.1,381.2 1364,386.4 1359.9,391.6 1355.8,396.8 1351.7,402 1347.6,407.2 1343.6,412.4 1339.5,417.6 1335.5,422.8 1331.5,428 1327.5,433.2 1323.6,438.3 1319.6,443.5 1315.7,448.7 1311.8,453.9 1307.9,459.1 1304,464.3 1300.2,469.5 1296.3,474.7 1292.5,479.9 1288.7,485.1 1284.9,490.3 1281.1,495.4 1277.4,500.6 1273.6,505.8 1269.9,511 1266.2,516.2 1262.5,521.4 1258.9,526.6 1255.2,531.8 1254.8,532.3" fill="none" stroke="#000" stroke-width="1.1"/><text transform="translate(1568.6,147.4) rotate(-46.5)" font-size="25" text-anchor="middle" dy="8.5">22</text><polyline points="1611.2,311.9 1606.8,317.1 1602.5,322.3 1598.2,327.5 1593.9,332.7 1589.6,337.9 1585.3,343.1 1581.1,348.3 1576.9,353.5 1572.7,358.7 1568.5,363.9 1566,367" fill="none" stroke="#000" stroke-width="1.1"/><polyline points="1542.3,396.8 1538.2,402 1534.2,407.2 1530.1,412.4 1526.1,417.6 1522.1,422.8 1518.1,428 1514.2,433.2 1510.2,438.3 1506.3,443.5 1502.4,448.7 1498.5,453.9 1494.7,459.1 1490.8,464.3 1487,469.5 1483.1,474.7 1479.3,479.9 1475.6,485.1 1471.8,490.3 1468,495.4 1464.3,500.6 1460.6,505.8 1456.9,511 1453.2,516.2 1449.6,521.4 1445.9,526.6 1442.3,531.8 1441.9,532.3" fill="none" stroke="#000" stroke-width="1.1"/><text transform="translate(1552.2,380.3) rotate(-51.5)" font-size="25" text-anchor="middle" dy="8.5">24</text><path d="M1287.3 261.9h0M1378 180.2h0M1339.3 207h0M1388.4 204.7h0M1377.8 145.3h0M1332.1 244.6h0M1300.9 275.4h0M1397.8 149.2h0M1271.7 219.7h0M1299.2 203.3h0M1331.1 213.4h0M1301.6 176.9h0M1299.5 208.4h0M1360.5 170.7h0M1285.4 190.9h0M1311.7 226.1h0M1340.8 226.3h0M1382.8 202.2h0M1292.9 220.7h0M1322 205.6h0M1341.2 252.4h0M1343 199.3h0M1338.5 149.1h0M1274.3 242.1h0M1324.7 168.5h0M1379 219.5h0M1391.9 177h0M1351.2 208.4h0M1306.8 220.6h0M1405.8 145.8h0M1384.5 216.6h0M1348.8 203.8h0M1350.1 172.6h0M1340.7 211.9h0M1319.4 192.8h0M1345.5 231h0M1356.2 208.2h0M1293.5 225.7h0M1304.8 261.2h0M1364.9 156.5h0M1376.8 179.4h0M1283.8 231.2h0M1317.6 154.6h0M1291 217.8h0M1292.2 182.7h0M1370.5 207.7h0M1314.4 210.4h0M1328.6 170.9h0M1341.5 173.9h0M1289.1 244.2h0M1291.1 242.2h0M1365.7 220.2h0M1299.8 279.6h0M1382.9 216.3h0M1300.1 234.5h0M1324.9 224.5h0M1314.3 232.1h0M1312.1 263.5h0M1312.7 274.6h0M1375.1 202.4h0M1394.5 150.2h0M1350.1 168.7h0M1369.4 215.2h0M1322.4 192.9h0M1297.6 238h0M1330.3 171.8h0M1283 236.9h0M1310.6 214h0M1314.8 265.3h0M1397.6 147.5h0M1296.9 190.2h0M1316.8 174.4h0M1402.2 192.5h0M1301.8 245.1h0M1399.2 174.4h0M1377.3 227.8h0M1389.1 195.8h0M1317 185.2h0M1287.5 221.1h0M1317.1 229.9h0M1380.6 197.2h0M1350.2 175.9h0M1307.9 253.6h0M1387.2 146.7h0M1364.5 157.7h0M1284.6 267.1h0M1302.8 247.7h0M1322.5 278.9h0M1398.9 185.6h0M1304.5 210.8h0M1282.4 235h0M1409.5 185.8h0M1353.9 207.1h0M1407.7 160.4h0M1299 230.3h0M1367.1 236.3h0M1305.3 219.7h0M1312.3 179h0M1361.9 233.8h0M1312.2 190.2h0M1313.6 261.9h0M1396.7 186.8h0M1316.1 220.1h0M1351.4 227.2h0M1347.4 154.8h0M1278.8 232.7h0M1309.9 254.3h0M1339 264h0M1290.2 214.2h0M1382.5 155.6h0M1404.7 168.9h0M1386.3 189.1h0M1283.4 216h0M1400.4 185.5h0M1396.7 164.6h0M1399.1 149.4h0M1313.5 269.6h0M1367.3 169.6h0M1330.3 166.8h0M1347.1 219.7h0M1325 191.7h0M1361.1 202.5h0M1350.2 153.6h0M1319.1 164.1h0M1387.4 199.9h0M1325.8 229.5h0M1344.1 214.1h0M1361.4 205.5h0M1302.3 213.3h0M1337 176.1h0M1327.4 222.3h0M1307.6 234.2h0M1341.7 266.1h0M1291 250.7h0M1395.2 188h0M1321.5 241.8h0M1374 227.1h0M1293.4 179.6h0M1299.3 223.6h0M1377.1 152.2h0M1318.1 216.1h0M1291.7 245.7h0M1306.5 271h0M1406.2 164.2h0M1363 241.7h0M1332.1 272.6h0M1383.6 204.7h0M1291.7 189.9h0M1406.2 161.4h0M1354.5 201.3h0M1303.7 248.4h0M1358.4 228.6h0M1388.3 173.5h0M1309 219.8h0M1307.3 225.8h0M1304.1 239.3h0M1338.7 263.1h0M1378.7 223.7h0M1323.2 184.2h0M1283.6 256.4h0M1285 248.1h0M1287.7 214.1h0M1350.5 188h0M1340.4 194.2h0M1331.7 207h0M1311.9 200.1h0M1338.9 234.4h0M1322.4 173.1h0M1387.4 215.5h0M1388.2 201.4h0M1312 168.5h0M1357.3 218.3h0M1324 203.8h0M1326.4 263.9h0M1352.2 246.3h0M1338.9 247.9h0M1360.2 234.5h0M1358.7 201.2h0M1358.6 232.5h0M1318.3 181.5h0M1346.4 166h0M1387.9 211.9h0M1335.3 151.3h0M1341.5 247.8h0M1328.9 194h0M1362.6 147.7h0M1367.4 200.5h0M1367.2 228.5h0M1298.1 173.7h0M1395.6 182.1h0M1343.3 195.8h0M1341.7 246.7h0M1292.3 235.1h0M1306.8 229.1h0M1301.4 222.4h0M1292.8 254h0M1392.8 190.5h0M1300 278h0M1357.6 188.7h0M1330.2 250.1h0M1381.1 171.2h0M1358.1 167.9h0M1355.3 181.2h0M1343.8 164.1h0M1287.9 243.8h0M1320 248.7h0M1302.6 244.1h0M1371.5 187.2h0M1283.3 199.8h0M1338.9 158.8h0M1317.3 260.6h0M1285 240.6h0M1281.7 200.2h0M1339.3 197.1h0M1292.3 177h0M1386.1 208.8h0M1351.5 174.2h0M1371 190.6h0M1314 197.9h0M1325.6 266.4h0M1377.2 166h0M1399.6 147.1h0M1288.9 236.7h0M1286.7 208.9h0M1389 150.9h0M1307.4 161.2h0M1363.5 198.8h0M1360.4 178.5h0M1353 193.2h0M1355.2 222.3h0M1343.2 153.4h0M1318.9 201.9h0M1296.7 266.5h0M1329.1 236.4h0M1304.2 279.7h0M1289.7 271.8h0M1385.1 209.7h0M1321.3 280.9h0M1273.8 218.3h0M1331.8 162.7h0M1324.9 242.7h0M1395.1 148.4h0M1343.5 157.5h0M1383.3 156.8h0M1373.5 188.2h0M1286.7 254.7h0M1311.7 203.6h0M1303.3 221.9h0M1315.5 191.7h0M1352.1 159.4h0M1362 206.9h0M1387.8 185.2h0M1290.6 196.1h0M1343 158.4h0M1317.7 224.3h0M1361.8 188.3h0M1311 193.7h0M1314.8 248.3h0M1340.2 217.6h0M1289.4 271.2h0M1314.9 190.2h0M1337.1 271h0M1287.4 217.3h0M1375.5 194.9h0M1326 209.1h0M1367 222.7h0M1398.6 170.5h0M1327.2 245.5h0M1346.6 181.7h0M1359 217.6h0M1293 263.9h0M1308.9 268h0M1365.3 220.1h0M1297 248.1h0M1378.9 216h0M1338.1 200.7h0M1352.2 150.5h0M1295.3 186.3h0M1367.6 145.8h0M1350.4 221.1h0M1343.7 219.8h0M1326.8 231.9h0M1312.3 186.7h0M1340.9 225.9h0M1291.5 232.9h0M1349.5 195.8h0M1325.9 274.2h0M1389.9 197.9h0M1334.9 254.8h0M1321.7 248.4h0M1337.3 191.4h0M1333.7 161.1h0M1319 202.3h0M1305.5 263.4h0M1352.9 184.6h0M1342 247.1h0M1367.6 204.8h0M1379.9 212h0M1371 212.8h0M1407.2 176.6h0M1337.1 276.4h0M1325.5 244.8h0M1388.1 157.3h0M1347.1 218.8h0M1317.9 275.6h0M1407.6 159.2h0M1347.6 202.9h0M1364.7 161.4h0M1306.2 183.5h0M1337.1 254.5h0M1365.5 157h0M1324.1 237.3h0M1310.4 215.1h0M1398.3 161h0M1391 159.6h0M1323.6 269.9h0M1297 216.9h0M1328 267.5h0M1410.9 184.8h0M1338.9 268.5h0M1346.5 174.6h0M1377.4 191.5h0M1306.5 219.6h0M1331.4 249.9h0M1389.3 176.5h0M1307.5 242.5h0M1327.3 163h0M1296.1 222.4h0M1344.7 229h0M1289.4 202.1h0M1308.3 241h0M1306.5 174.6h0M1320.9 209.9h0M1316.7 228.6h0M1294.1 266.4h0M1368 218.8h0M1367.4 234h0M1313.4 213.1h0M1315.5 162.7h0M1280.7 219.4h0M1369.2 222.7h0M1366.6 176.2h0M1296.7 223.3h0M1312 229.9h0M1317.1 228h0M1342.7 148.2h0M1315.5 164.2h0M1304.1 251.3h0M1366.1 150.7h0M1279.1 245h0M1325.5 273.9h0M1359.9 178.4h0M1365.9 182.8h0M1342.2 189.4h0M1365.8 230.6h0M1344 222.9h0M1345.1 199.3h0M1347.1 152.4h0M1341.2 169.2h0M1299 205h0M1346.6 179.6h0M1307 218.2h0M1336.1 200.7h0M1282.9 196.5h0M1362.2 220.1h0M1366.3 166.5h0M1399.5 164.6h0M1394.6 174.8h0M1316.3 267.6h0M1291 262.2h0M1323 205.7h0M1285 227.9h0M1306.8 237h0M1322.6 222.5h0M1328.8 273.8h0M1326.8 228.6h0M1275.7 210h0M1273.4 242.2h0M1341.2 194.2h0M1307 280.7h0M1303.3 256.5h0M1302.5 222.6h0M1319.5 166.9h0M1313.2 266.4h0M1317.9 235.7h0M1276 205h0M1322.2 185.6h0M1385.5 205.9h0M1368.7 232.6h0M1342.7 152.7h0M1292.8 233.7h0M1338.2 192.1h0M1323.2 260.1h0M1293.2 243.9h0M1381 208.7h0M1335.8 213h0M1295.9 205.8h0M1346.1 223.9h0M1289.6 196.9h0M1382.9 184.8h0M1317.3 178h0M1406.3 169.2h0M1352.3 215.8h0M1329.5 254.6h0M1362.1 219.1h0M1303.7 252.6h0M1285.1 233.9h0M1323.7 222.3h0M1360.4 211.1h0M1408.8 178h0M1312.9 183.4h0M1327.8 227.1h0M1313.8 218.8h0M1332.6 214.2h0M1328.1 168.1h0M1324.9 198.7h0M1296.9 257.7h0M1319.8 165.9h0M1373.3 191.4h0M1318.3 183.5h0M1335.4 165.6h0M1296.3 255.6h0M1345.4 172.4h0M1329.8 265.3h0M1351.2 221.4h0M1324.3 172h0M1358.1 155.6h0M1381.2 152.9h0M1375.5 197.8h0M1366.3 226.6h0M1286.6 219.3h0M1323 184.4h0M1319.4 260.7h0M1300.4 242.9h0M1318.1 218.9h0M1280.8 259.2h0M1298.1 209h0M1309.8 256.8h0M1353.3 229.9h0M1376.7 180.2h0M1313.4 257.1h0M1282.9 262.9h0M1359.2 178.9h0M1297.9 215.1h0M1323.3 272.4h0M1287.3 243.8h0M1377.9 197.2h0M1337.4 229.7h0M1306.5 233.1h0M1340.4 263h0M1328.7 182.5h0M1282.1 259.7h0M1286.7 222.2h0M1333.4 151.2h0M1298.9 258.6h0M1398.7 158h0M1365.6 150.9h0M1328.9 206h0M1295.4 215.3h0M1343.1 172.2h0M1319.8 266.1h0M1334 260.1h0M1398.6 184.4h0M1274.2 214.1h0M1361 199.4h0M1329.5 226.2h0M1313.7 165.6h0M1308 264.4h0M1381.9 224.4h0M1284.3 224.2h0M1316.5 195.8h0M1347.3 233h0M1351.9 211.9h0M1332.3 214h0M1384.7 145.5h0M1291.1 189.9h0M1298.8 268.6h0M1313.7 215.2h0M1306.2 278.8h0M1347.3 224.2h0M1357.1 155.3h0M1308.7 245.2h0M1305.8 174.1h0M1307.9 211.3h0M1374.2 186.6h0M1386.4 155.4h0M1313.4 272.8h0M1391.8 163.4h0M1331.7 195.2h0M1375.6 149h0M1313.4 248.5h0M1395.7 150.6h0M1352.7 236.6h0M1408.1 172.2h0M1352.5 161.9h0M1306.4 172.1h0M1316.2 278h0M1372.1 175.3h0M1402.3 146.3h0M1409.4 149.5h0M1304.5 221.2h0M1280.2 257.8h0M1273.1 217.9h0M1298.2 184.8h0M1338.6 196.3h0M1324.4 235.2h0M1296.1 170h0M1366.6 186h0M1336.3 148.2h0M1358.1 236.7h0M1369.9 192.4h0M1278.7 203h0M1349.2 221h0M1340.2 210.9h0M1366 224.4h0M1335.8 259.8h0M1365.3 217.4h0M1349.1 256.2h0M1355.5 180.8h0M1312.7 228.4h0M1274.6 208.1h0M1396.4 177h0M1332 241.5h0M1358.1 198h0M1331 233.6h0M1319.3 253.3h0M1374.9 187.3h0M1393.3 173.8h0M1286.5 240.3h0M1301.5 277.8h0M1368.9 170.3h0M1378.3 214.6h0M1350.7 195.5h0M1310.3 203h0M1343.8 208.7h0M1392.7 155.2h0M1296.7 274.4h0M1355.5 230.2h0M1358.7 178.6h0M1324.8 174h0M1312.2 213.7h0M1365.2 149.3h0M1321.4 221.4h0M1313.7 228.3h0M1352 185.3h0M1346.9 183.1h0M1280.4 212.9h0M1340.2 265.1h0M1410.5 181.5h0M1321.7 176.8h0M1282.8 216.1h0M1341.6 162.9h0M1380.9 190.9h0M1372.9 172.5h0M1359.2 201.4h0M1360.5 186h0M1362.3 192.2h0M1367.8 221.9h0M1381.4 175.4h0M1407.5 172.8h0M1362 218.2h0M1383.7 173.4h0M1402.6 186h0M1365.9 216.7h0M1376.7 162.3h0M1402.6 176.5h0M1387.8 160.2h0M1379.4 186.6h0M1340.6 260.7h0M1397.7 183.1h0M1339.2 261.3h0M1335.6 235.8h0M1327.5 270.4h0M1394 172.3h0M1336.7 238.1h0M1410.1 171.6h0M1363 180.7h0M1380.1 191.9h0M1399.6 168.7h0M1373.2 201.3h0M1366.8 170.7h0M1407.3 184.9h0M1375.2 204.6h0M1342.8 225.7h0M1384.6 184.6h0M1358.5 217.7h0M1385.9 182.6h0M1367.4 210.1h0M1348.2 231.9h0M1339.3 264.5h0M1359.5 215.9h0M1372.9 159.3h0M1358 217.6h0M1375.6 188.6h0M1357.4 212.8h0M1327 245.9h0M1355.7 210h0M1388.6 201.6h0M1327.3 257.6h0M1383 156h0M1352.5 209.2h0M1392.7 186.1h0M1367.9 211.7h0M1364.5 184.9h0M1358.9 236.5h0M1394.4 164.8h0M1379 168.8h0M1359.9 217.5h0M1385.1 184.6h0M1384 202.7h0M1372.2 170.8h0M1363.9 202.8h0M1340.5 229.4h0M1356.6 235h0M1321.6 269h0M1329.1 253.3h0M1389.8 177.5h0M1337.4 251.9h0M1359.5 184.2h0M1371.5 210.5h0M1327.3 245.7h0M1335.8 245.3h0M1398.6 169.6h0M1362.3 189.3h0M1369 200h0M1348.1 232.8h0M1364 219.2h0M1403.2 162.4h0M1395 190.4h0M1379.5 201.3h0M1396.5 164.4h0M1377.6 201.1h0M1361.6 181.5h0M1330.2 253.7h0M1361.6 173.5h0M1360.2 188.9h0M1360.2 231.7h0M1337.2 236.5h0M1392.4 181.7h0M1346.5 229.6h0M1381 198.2h0M1337 271.2h0M1369.4 182.1h0M1345.9 231.5h0M1404.3 164.7h0M1375.6 194.4h0M1390.9 169.3h0M1375.5 201.5h0M1363.1 229.2h0M1361.4 203.7h0M1367.8 158.7h0M1329.9 275.4h0M1331.7 268.3h0M1380.9 164.3h0M1324.5 263.5h0M1370.8 170.1h0M1365.7 160.4h0M1338.2 266h0M1354.5 229.6h0M1403.4 173h0M1329.6 253.6h0M1377.1 178.9h0M1359.2 205.6h0M1363 188h0M1340.8 239.5h0M1374.4 157.7h0M1337 270.6h0M1362.2 188.9h0M1339 254.4h0M1383.8 187.1h0M1357.6 204.1h0M1385.6 209h0M1380 168h0M1383.9 186.5h0M1402.9 179.4h0M1350.3 219.2h0M1355.7 217.6h0M1404.1 177.7h0M1361.4 195.5h0M1363.1 184.3h0M1372.2 191.1h0M1398.3 180.3h0M1396.2 189.8h0M1321.1 260.1h0M1385.9 195.2h0M1360.1 204.6h0M1395.8 155.2h0M1372.8 169.2h0M1378.7 213.9h0M1338.5 239.5h0M1355.6 206.6h0M1363.2 199.7h0M1328.2 269.3h0M1381.4 159.6h0M1384.3 202.4h0M1366.8 165.4h0M1366.4 217h0M1363.5 168.9h0M1348.3 234.2h0M1329.7 249.5h0M1408 156.1h0M1398.5 162.4h0M1359.6 204.6h0M1391.9 173h0M1381.3 189.3h0M1402.3 157.9h0M1342.4 249.9h0M1402.7 166.6h0M1374.3 161.3h0M1365.5 187.6h0M1379.3 159.4h0M1367.1 217.9h0M1361.8 198.9h0M1367 207.1h0M1371.8 183.8h0M1360.3 210.1h0M1358.5 186.1h0M1340 245.3h0M1376.6 156.4h0M1342.5 240.6h0M1362 234.6h0M1370.6 218.8h0M1407.3 167.4h0M1383.3 197.6h0M1392.6 195.9h0M1333.4 234.7h0M1379.1 203.2h0M1356.8 232.6h0M1361.4 167.1h0M1336.3 255.5h0M1374.6 202.5h0M1385 159.3h0M1350 211.8h0M1372.3 180.4h0M1375.7 173.4h0M1362.3 187.4h0M1365.8 223.5h0M1342 257h0M1409.3 175.3h0M1342 252.8h0M1385.7 180.7h0M1373.3 182.3h0M1366.5 172.9h0M1356.9 211.2h0M1338 239.1h0M1327.6 248.8h0M1320.9 260.9h0M1347.7 223.2h0M1363 168h0M1407.2 174.6h0M1364 162.2h0M1392.7 188.2h0M1322.5 262.5h0M1362.2 177.4h0M1391.3 171.9h0M1340.8 229.1h0M1334.1 266.4h0M1329.4 248.3h0M1375.9 196.2h0M1332.5 243.8h0M1363.7 189.3h0M1407.5 167.1h0M1368.8 164h0M1390.9 181.3h0M1357.4 233.8h0M1395.9 194.1h0M1354.4 204.8h0M1389.7 180.4h0M1402.3 163.6h0M1336.1 234.4h0M1368.9 191.6h0M1365.7 182.2h0M1361.4 202.9h0M1332.7 271.1h0M1358.4 237.8h0M1395.9 176.4h0M1394 191h0M1357.9 212.5h0M1409.7 174.3h0M1393.3 189.2h0M1372.5 217.8h0M1372.3 192.6h0M1362.8 231.6h0M1394.1 170.4h0M1381.8 180.1h0M1391.6 158.2h0M1369.7 190.2h0M1376.4 202.2h0M1402.8 159.3h0M1391.3 177h0M1362.5 175.7h0M1358 180.8h0M1354.9 236.8h0M1332.3 238.4h0M1347 233.8h0M1335.8 250.1h0M1338.7 241.6h0M1400.7 156.7h0M1357.5 182.1h0M1339.7 235.2h0M1381.9 174.6h0M1378.7 187.6h0M1391.7 183.7h0M1379.4 188.9h0M1363.2 233.9h0M1375.4 196.6h0M1378.7 165.2h0M1341.2 229.8h0M1375.2 212h0M1354.1 233.2h0M1359.4 177.7h0M1362.9 193h0M1346.7 250.1h0M1338.8 256.2h0M1387.7 174.3h0M1395.4 162.9h0M1368.9 185.9h0M1390 190.1h0M1387 163.6h0M1381.9 156.7h0M1362.5 232.3h0M1401.3 187.3h0M1344.9 229.6h0M1373.4 180.6h0M1361.8 205.8h0M1368 202.6h0M1335 237.9h0M1345.2 239.1h0M1355.5 206.2h0M1343.1 247h0M1359.4 220.9h0M1397.5 165.6h0M1367.7 213.4h0M1395.6 174h0M1377.1 201.8h0M1377.2 161.3h0M1342.7 225.1h0M1324.9 252.4h0M1374 204.2h0M1349.3 218.2h0M1393.8 195.1h0M1357.1 205.4h0M1345.6 246.3h0M1407.1 184.3h0M1378.7 179.6h0M1406.3 164.3h0M1394.9 184.5h0M1364.6 220.7h0M1390.3 185.5h0M1371.5 216.8h0M1373.5 221.3h0M1359.3 200.6h0M1367.5 166.1h0M1382.1 162.9h0M1357.6 208.6h0M1396.9 185.9h0M1400.8 177.8h0M1395.4 154.1h0M1395.8 185.2h0M1342.5 234.7h0M1393.6 186h0M1344.1 259.5h0M1336.7 249.5h0M1373.4 155.7h0M1358.3 203.8h0M1341.6 262.4h0M1365.4 186.6h0M1405.8 162.3h0M1365.6 218.1h0M1350.7 246h0M1397.7 181.2h0M1363.6 230.8h0M1390.5 194.7h0M1368.2 175.5h0M1367.3 188h0M1382.2 156.9h0M1373.1 206.2h0M1348.1 227h0M1370.3 195.3h0M1356 226.7h0M1349.5 224.6h0M1373.1 210.2h0M1393.7 155.4h0M1391.5 173.6h0M1336.6 235.6h0M1361.4 195.1h0M1383.4 177.7h0M1354.6 204.8h0M1377.5 179.7h0M1353.3 242.2h0M1339.7 237.9h0M1336.4 245.8h0M1365.9 219.9h0M1395.7 156.3h0M1369.6 193.4h0M1342.2 254.9h0M1365.5 230.2h0M1374 157.5h0M1357.1 213.6h0M1387.7 163.6h0M1384.5 209.4h0M1368.2 171.2h0M1402.4 179.2h0M1358.2 202.3h0M1394.5 174.2h0M1333.5 247.8h0M1384 167.3h0M1385.1 182.8h0M1341.8 237.6h0M1359.8 218.6h0M1356.8 239.3h0M1367.4 157h0M1394.6 182.4h0M1351.9 212h0M1376.5 210.9h0M1342.1 250.9h0M1368.7 172h0M1360.8 191h0M1376.1 189.4h0M1338.8 266.2h0M1352.5 230.2h0M1351.6 233.6h0M1320.6 261h0M1361.7 173.6h0M1389.1 182.6h0M1390.5 175.8h0M1327.3 266.4h0M1366.7 220.5h0M1366.9 170.8h0M1373.2 196.3h0M1369.6 172.5h0M1380.4 155.9h0M1357.9 202.4h0M1399.5 168.1h0M1326.4 248.6h0M1363.4 175.4h0M1370.7 185.4h0M1387.5 156.9h0M1361 213.2h0M1391.2 189.7h0M1393.2 171.3h0M1339.9 262.6h0M1342.8 226.3h0M1367.5 199.7h0M1381.3 195.7h0M1356.8 227.9h0M1366.3 208.1h0M1346.9 250.7h0M1369.7 222h0M1384.6 204.6h0M1370.1 188.2h0M1335.4 255.5h0M1382 190.4h0M1357 221.9h0M1362.4 167.8h0M1369 224.5h0M1361.5 221.4h0M1382.7 210.2h0M1379.8 182.8h0M1387.5 177.2h0M1385.9 178.3h0M1334.6 261.3h0M1389.9 200.7h0M1377.5 160.2h0M1387.4 189.2h0M1340.2 246.3h0M1365.1 208h0M1337.6 258.7h0M1369.1 160.7h0M1359.5 205.8h0M1368.7 206.8h0M1337.6 247.7h0M1361 203.1h0M1356.1 231.6h0M1352.8 241.4h0M1357.5 204.4h0M1366.8 222h0M1373.9 192.4h0M1364.2 190.9h0M1336.8 257.2h0M1404.9 159.8h0M1397.2 179.3h0M1362.1 170h0M1354.1 232.5h0M1369.6 156.4h0M1394.2 187.9h0M1384.6 180.7h0M1345.1 229.4h0M1336.8 251.2h0M1356.2 214h0M1338.8 251.7h0M1379.4 171.1h0M1396.7 154h0M1363.3 217.7h0M1327.4 272.8h0M1374.2 190.9h0M1390.1 171.3h0M1336.3 259h0M1390.3 183.4h0M1377.9 185.6h0M1357.5 191.8h0M1357 211.2h0M1354 218.9h0M1375.8 209.4h0M1396.8 182.4h0M1391 183.2h0M1364.4 226.6h0M1406.2 154.7h0M1353.3 233.3h0M1404.4 181.9h0M1383.5 180.1h0M1347.5 219.8h0M1370.8 194h0M1377.1 196.9h0M1364.7 225.1h0M1392.8 176.6h0M1337.2 265h0M1344.4 257.1h0M1339.4 259h0M1377.8 194.2h0M1352.9 208.1h0M1381.9 192.1h0M1387.8 155.1h0M1409.2 179.3h0M1334.6 240.7h0M1374.6 157.6h0M1377.1 182.2h0M1372.3 160.2h0M1371.8 221.3h0M1395.7 175.7h0M1378 180.8h0M1400.9 163.3h0M1397.4 175.1h0M1393 180.9h0M1367.2 182.7h0M1365.1 183.1h0M1372.1 192.5h0M1328.3 256h0M1333.2 250.5h0M1391.2 184.8h0M1372.8 211.7h0M1396.5 180.8h0M1343.1 224.1h0M1372.6 220.6h0M1339.8 267.8h0M1363 165.5h0M1330.7 272h0M1357.2 183.9h0M1369.3 164.8h0M1350.4 246.8h0M1347.2 243.9h0M1345.7 245.6h0M1362 180.7h0M1350.4 220.4h0M1380.6 167.3h0M1361.8 231.7h0M1329.7 257.7h0M1362.7 222.3h0M1358.3 203.6h0M1364.3 178.2h0M1388.6 155.5h0M1351.8 236.1h0M1393.2 183.1h0M1354.6 232.7h0M1356.8 196.7h0M1362.7 220.6h0M1377.4 159.1h0M1380.2 164.4h0M1330 255.4h0M1372.2 201.1h0M1382.7 180.7h0M1351.8 242.2h0M1359.4 183.5h0M1381.6 203.8h0M1331.3 275h0M1374.2 214.4h0M1357.8 179.8h0M1340.6 240.2h0M1393.3 189.6h0M1404.1 184.2h0M1365.5 208.3h0M1321.2 267.8h0M1364.3 215h0M1370.6 197.3h0M1328.3 241.6h0M1357.3 188.9h0M1365.9 220.2h0M1390.4 155.3h0M1366.9 215.8h0M1331.3 266.2h0M1381.4 213.8h0M1369.1 207.7h0M1360.5 186.5h0M1404.1 184.8h0M1361.7 198.9h0M1400.7 182.7h0M1398.3 174.2h0M1355.8 237.7h0M1376.8 171.9h0M1373.7 209.3h0M1354.6 212.9h0M1346.6 252.6h0M1338.8 230.2h0M1390.6 181.8h0M1332 248.5h0M1329.4 248h0M1344.2 256.9h0M1408.1 158.1h0M1367.5 172.6h0M1369.4 156.2h0M1363.8 198.6h0M1388 192.2h0M1365.9 231h0M1406.6 181h0M1378 166.2h0M1375.4 216h0M1354.5 208.8h0M1352 239.9h0M1368 184.2h0M1326 246.8h0M1361.1 205.8h0M1328.5 268.9h0M1391.9 182.1h0M1358.5 185.8h0M1375.2 182.5h0M1347.7 233.9h0M1362 201.2h0M1327.8 255.2h0M1350.2 229.1h0M1363.3 215.5h0M1366.7 199.9h0M1352.6 239.5h0M1387.8 159.3h0M1334.4 247.8h0M1353.7 217.4h0M1331.9 247.5h0M1332.3 240.2h0M1363.2 222.4h0M1364.8 228.2h0M1360.3 185h0M1362.6 179.3h0M1328.8 269.4h0M1386.1 162.6h0M1374.7 179h0M1372.8 167.8h0M1355 210.6h0M1372 190.9h0M1343.7 238.9h0M1370.5 166.8h0M1328.9 244.7h0M1343.2 228.1h0M1368.6 161.5h0M1402.7 167.2h0M1384.7 166.5h0M1345.2 237.8h0M1361.4 226.3h0M1359.1 197.7h0M1380.5 212.8h0M1386.5 181.8h0M1377.8 193.5h0M1366.5 176.7h0M1394.3 157.1h0M1329.3 269.9h0M1325.5 253.3h0M1385.9 189.1h0M1352.5 236.7h0M1323.5 257.5h0M1386.6 175.2h0M1398.4 162.1h0M1346.3 252.2h0M1355.8 222.3h0M1363.4 230.4h0M1398 155.9h0M1403.9 176.5h0M1331.8 252.9h0M1331.3 256.6h0M1334.5 248.3h0M1379.9 205.4h0M1087.2 320.4h0M1033.1 268.9h0M1067.5 282.8h0M1121.7 296.6h0M1127.6 271.6h0M1158.4 218.5h0M1174.9 239.7h0M1176.6 256.8h0M1177.1 262.7h0M1183.6 253.1h0M1183.6 269.4h0M1188.8 245.9h0M1190.5 247.1h0M1193.9 241.2h0M1195 245.5h0M1193 262.5h0M1200.6 217.3h0M1201.2 247.1h0M1203.6 235.8h0M1208.1 227.1h0M1211.1 222.7h0M1210.1 249.6h0M1219.9 239.8h0M1220.9 218.9h0M1225.7 217h0M1226.6 220.4h0M1233.3 168.5h0M1234.1 245.9h0M1236.3 257.6h0M1236.3 270.6h0M1235.5 274.4h0M1231 281.1h0M1229.6 286.2h0M1237.7 237.2h0M1246.4 205.3h0M1246.7 242h0M1249.2 233h0M1251.8 232.5h0M1252.6 245.9h0M1252.9 247.9h0M1252.3 254.3h0M1256.3 224.9h0M1256.8 230.3h0M1254.3 280.6h0M1258.5 271.1h0M1262.1 173.1h0M1261.8 196.5h0M1246.6 205.2h0M1200.5 217.6h0M1220.6 218.7h0M1226.5 220.4h0M1211 222.6h0M1208.7 226.9h0M1203.7 235.6h0M1220 239.6h0M1237.5 237.1h0M1234.2 245.8h0M1246.6 242.1h0M1252.4 245.8h0M1252.4 254.2h0M1236.7 257.6h0M1263.7 246.7h0M1267.5 238.7h0M1277.6 236.2h0M1256.7 225.4h0M1264.4 226.1h0M1271.4 225.4h0M1250.5 232.3h0M1272 257.1h0M1273.7 251.7h0M1236.1 270.3h0M1235.8 274.9h0M1231.1 281.1h0M1229.6 286.1h0M1254.1 280.5h0M1259.6 271.1h0M1272.7 273.9h0M1263.7 288.1h0M1264.4 290.4h0M1282.3 278.8h0M1285.4 279.6h0M1296.2 278.8h0M1300.9 274.2h0M1287.7 264.4h0M1279.2 260.2h0M1280 257.9h0M1271.4 195.9h0M1278.4 208.3h0M1285.8 195.9h0M1293.1 185.4h0M1294.7 177.3h0M1299.3 163.4h0M1192.9 262.2h0M1183.7 269.5h0M1183.7 253.2h0M1189.3 246.3h0M1194 241.6h0M1201.2 246.7h0M1210.2 249.5h0M1343.5 127.4h0M1339.6 139.4h0M1342.7 140.1h0M1362.1 141.7h0M1367.5 138.6h0M1370.5 139.4h0M1392.3 211.7h0M1381.4 151h0M1390.7 144.8h0M1396.1 144h0" stroke="#00008b" stroke-width="4.3" stroke-linecap="round" fill="none"/><path d="M1432.9 167.9h0M1444.3 171.2h0M1434.7 150.6h0M1498.6 163.7h0M1484.8 164.1h0M1467.7 146h0M1478 170.5h0M1438.4 139.3h0M1487.3 163.9h0M1424 149.7h0M1496 161.9h0M1466.6 154.3h0M1456.2 159.1h0M1442.7 170.1h0M1470.5 146.7h0M1490.7 169.2h0M1474.2 149.3h0M1484.4 169.5h0M1436.9 141.1h0M1447.8 146h0M1474.6 156h0M1488.7 192.1h0M1439.1 141.9h0M1429.3 160.3h0M1465.2 146.3h0M1490 158.6h0M1452.2 166.5h0M1468.1 170.7h0M1460.7 172.1h0M1493.8 165.8h0M1432.8 154.3h0M1497.1 166.6h0M1448.2 169.8h0M1413.9 171.8h0M1466.7 163.5h0M1471.2 157.2h0M1473.6 178.6h0M1434 163h0M1463.6 155.4h0M1443.8 155h0M1444.2 170.7h0M1438.3 158.6h0M1439.1 150h0M1482 150.9h0M1428.5 161.8h0M1440.1 156.2h0M1484.6 162h0M1486.5 147h0M1441.4 173.8h0M1489 162.7h0M1431.7 144.3h0M1458.2 148.2h0M1482.2 184.2h0M1428.1 153.1h0M1482.3 173.3h0M1482.2 156.8h0M1423.5 153.8h0M1481.1 152.7h0M1442.3 160.8h0M1448.6 160.4h0M1492.7 149.9h0M1469.7 166.5h0M1437.3 156.6h0M1431.9 141.4h0M1463.3 153.6h0M1490.6 176.2h0M1492.4 187.4h0M1490.3 169.7h0M1413.3 179h0M1427.1 154.3h0M1469.7 166.8h0M1465.3 156.6h0M1442.7 148.6h0M1492.2 182.4h0M1416.5 152.7h0M1435.5 166.9h0M1448.9 163.9h0M1417 144.7h0M1423 141.4h0M1496.8 185.1h0M1419.7 165.5h0M1439.6 155.1h0M1442.7 173.6h0M1463.1 157.7h0M1428.8 155.9h0M1422.9 168.5h0M1474.4 158.7h0M1419.1 147.5h0M1444.6 171.2h0M1480.1 158.7h0M1481.7 172.2h0M1449.7 158.3h0M1452.2 151.2h0M1418.4 161.2h0M1493.5 158.4h0M1490.1 181.6h0M1435 163.4h0M1481 174.7h0M1475.9 168.9h0M1421.2 170.3h0M1420.2 143.1h0M1488.6 147.6h0M1494.9 169.8h0M1478.8 166h0M1417.5 155.6h0M1433.2 147.6h0M1433.9 171.8h0M1477.6 159.5h0M1444.1 159.7h0M1442.6 160.9h0M1419.4 165.4h0M1496.7 160.6h0M1477.1 146.5h0M1470.7 166.4h0M1454.2 173.3h0M1420.5 179.2h0M1491.8 166.4h0M1428.4 152.5h0M1429.5 170.2h0M1439.5 150.5h0M1437.9 176.8h0M1462.9 152.5h0M1431.1 138.9h0M1453.8 158.9h0M1427.2 157.6h0M1453.8 170.9h0M1483.5 168.6h0M1486.6 159.9h0M1452.8 150.4h0M1432.6 177.5h0M1486.3 151.1h0M1428.7 152h0M1428.4 176.8h0M1486.7 187.6h0M1439.4 161.1h0M1437.5 157.4h0M1412.8 156.2h0M1450.1 164.6h0M1430.4 170.1h0M1495.1 159.3h0M1459.5 144.2h0M1436 174.6h0M1493.9 158.4h0M1479.2 179.7h0M1437.9 175.2h0M1495.6 175h0M1458.7 143.9h0M1455.1 157.2h0M1474.5 175.3h0M1461.4 147.7h0M1468.2 172.7h0M1469.1 144.4h0M1464.1 168.5h0M1468.4 163h0M1439.3 147.4h0M1418.2 177.4h0M1477.7 167.8h0M1476.4 157.6h0M1435.3 158.9h0M1456 151.3h0M1478.9 157.3h0M1441.1 160h0M1421.9 152.6h0M1420.8 143.9h0M1479.8 178h0M1428.2 148.1h0M1483 179.2h0M1463.6 145.7h0M1446.8 148.4h0M1458 169.2h0M1429.7 151.5h0M1494.6 158.9h0M1460.2 170h0M1471.8 154.2h0M1486.8 164.5h0M1469.7 164.9h0M1457.7 163.2h0M1429 167h0M1415.4 165.4h0M1468.3 162.3h0M1481 172.3h0M1416.6 157.6h0M1432.5 141.9h0M1472.5 145.1h0M1486.7 171h0M1492.7 177.4h0M1476.4 156.7h0M1487 161.9h0M1477.9 164.6h0M1421.7 140h0M1419 148.7h0M1426.2 165.2h0M1472.9 167.5h0M1448.8 173.7h0M1438.6 163.4h0M1477.9 159.9h0M1474.7 158h0M1444.4 167h0M1464 150h0M1412.4 149.2h0M1480.2 145.6h0M1452.1 148.5h0M1430.4 147.1h0M1447.2 147h0M1426.8 164.9h0M1451.1 160.3h0M1447.2 159.7h0M1431.2 142.8h0M1453.4 146.8h0M1466.2 156.9h0M1423 140.5h0M1475.4 152.9h0M1480.6 163.5h0M1493.2 154.3h0M1433.9 152.4h0M1482.9 172.6h0M1442.1 142.8h0M1427 139.6h0M1416.9 174h0M1490.3 148.8h0M1496.7 164.1h0M1438.6 171.3h0M1422.2 159.3h0M1441.2 175.4h0M1492.8 147.3h0M1476.4 178.4h0M1484.7 168.4h0M1492.4 157.8h0M1448.2 150.4h0M1479.9 164.3h0M1435.6 147h0M1474.8 171.3h0M1473.9 159.1h0M1454.5 146.2h0M1487.9 162.6h0M1490.1 178.3h0M1441.2 158.2h0M1418.5 159.8h0M1461.6 143.7h0M1419.2 173.7h0M1433.1 140.3h0M1425.5 173.4h0M1431.3 168.9h0M1458.7 148.1h0M1427.6 142h0M1419.6 163.5h0M1465.6 173.3h0M1442.2 171.1h0M1450.9 143.8h0M1484.7 170.6h0M1482.9 149.1h0M1459 163.4h0M1442.2 164.5h0M1418.4 168.3h0M1476 161.1h0M1468.5 171.3h0M1430.8 157.1h0M1449.6 142.3h0M1431.1 146.8h0M1493 178h0M1458.7 160.9h0M1494.5 187.8h0M1494.6 164.5h0M1479.3 160.2h0M1428.2 142.9h0M1474.9 154h0M1457.3 173.1h0M1415.7 179h0M1436.2 161.6h0M1477 153.6h0M1421.2 154.2h0M1447.9 141.9h0M1425.5 180h0M1497.2 186.3h0M1444.5 146.6h0M1439.3 163.4h0M1457.9 167.7h0M1437 163.4h0M1489.2 182.5h0M1438 151.1h0M1423.6 167.1h0M1458.7 146.8h0M1416.6 148.9h0M1479 163.5h0M1497.2 181.3h0M1428.3 138.3h0M1449.7 156.4h0M1416.6 168h0M1420.3 154.9h0M1448.5 152.1h0M1416 161.5h0M1466.7 175.1h0M1491.4 182.6h0M1433.7 145.1h0M1478 181.5h0M1460.1 153.1h0M1426.8 138.5h0M1490.9 163.6h0M1482.9 171.1h0M1448.2 166.4h0M1427 147.8h0M1459.7 160.3h0M1442.7 162.9h0M1481.9 162.8h0M1439.5 166.6h0M1462.1 168.2h0M1454.5 153.2h0M1421.1 174.8h0M1444.4 166.2h0M1489.9 191h0M1468.1 148.4h0M1492.1 147.7h0M1439.6 152.7h0M1494.7 190.1h0M1439.7 159.4h0M1436.7 144.9h0M1419.1 150.4h0M1429.6 142h0M1485 172.7h0M1418.2 152.5h0M1454.1 152.5h0M1470.8 173.6h0M1424.5 140.6h0M1478.1 147.4h0M1495.6 167.3h0M1445.4 143.6h0M1436.6 144.9h0M1424.8 144.7h0M1418.9 148.3h0M1497.3 151.3h0M1439.4 138.8h0M1480.1 169.2h0M1452.5 167.5h0M1450.6 167.3h0M1484.5 148.7h0M1485.8 147.6h0M1495.8 184.3h0M1426.8 152.4h0M1429.8 140.6h0M1497.1 160.4h0M1471.7 166.8h0M1459.1 162.1h0M1424.9 171h0M1440.3 165.8h0M1444.6 155.3h0M1443.3 171h0M1497.3 189.7h0M1487 184h0M1435.6 144.4h0M1441.8 173.5h0M1451.5 164.2h0M1497.8 167h0M1450.5 171.9h0M1418.2 161.3h0M1485.8 180.8h0M1444 149.5h0M1473.9 157.7h0M1438.3 165.7h0M1446.8 158.3h0M1462.9 145.7h0M1431.3 158.2h0M1465.6 145.4h0M1419.3 155.4h0M1436.8 139.2h0M1484.1 184.2h0M1491.5 162.1h0M1471.4 144.3h0M1488.6 158.6h0M1437.1 148.2h0M1483.7 170.9h0M1484.5 147.8h0M1436 159.2h0M1456.6 161.6h0M1466.8 174.3h0M1450.1 143h0M1497.2 176h0M1419.5 162.2h0M1453.9 161.1h0M1489.8 183.6h0M1441 160.9h0M1429.7 159.4h0M1419.9 173.3h0M1457.7 169.5h0M1419.6 150.5h0M1459 153.4h0M1497.4 174.4h0M1458.1 148.9h0M1423.7 167.2h0M1466 157.3h0M1486.6 178.6h0M1429.9 140.9h0M1449.8 155h0M1491.5 159.7h0M1430.6 148h0M1415.5 165.3h0M1447 159.2h0M1427.6 151.5h0M1435.1 176.2h0M1441.7 143.8h0M1431.3 162.2h0M1461.2 151.2h0M1472.9 149.6h0M1470.4 171.5h0M1427.5 179.4h0M1446.4 167.6h0M1464.1 172.5h0M1450.6 140.7h0M1454.7 169.8h0M1471.7 149.9h0M1454.1 147.5h0M1474.4 156.4h0M1475.8 170h0M1421.5 167h0M1486.1 164.2h0M1451 165h0M1429.8 142.8h0M1478.3 168.3h0M1489 167.7h0M1477.1 153.8h0M1413.1 175.3h0M1476 157.1h0M1453.8 169.1h0M1433.9 176.4h0M1461 159h0M1421.7 168.4h0M1427.2 159.5h0M1429.2 160.3h0M1462.2 143.5h0M1417 164.4h0M1429.7 165.7h0M1426.7 143.2h0M1487.6 166.3h0M1446.7 141.3h0M1436.2 155.1h0M1494.5 164.1h0M1449.9 152.2h0M1495.7 147.9h0M1461.8 166h0M1429.5 150h0M1420.8 176.7h0M1477.3 150.1h0M1426.5 174.7h0M1435.6 165.9h0M1476.9 165.6h0M1471.9 161.4h0M1482 151.9h0M1459.4 170.2h0M1445.9 140.2h0M1427 173.2h0M1430.5 179.8h0M1485.8 178h0M1444.5 140h0M1492.1 148.9h0M1476.4 164.5h0M1476.3 145.9h0M1464.6 146.6h0M1469.8 166h0M1482.3 173h0M1478.3 172.3h0M1427.1 156.3h0M1492.9 162.7h0M1458.8 148.6h0M1464.2 160.1h0M1425.9 147.6h0M1440.1 147.5h0M1495.7 170.5h0M1463.8 163.7h0M1489.3 150.5h0M1451 145.8h0M1435.5 142.3h0M1446.7 161.1h0M1425.2 163.7h0M1449.3 150.8h0M1483.9 156.8h0M1447.7 156.8h0M1479 169.6h0M1451.4 160.2h0M1425.7 141.6h0M1439.1 166.5h0M1491.9 173h0M1449.8 152.4h0M1462.8 167.1h0M1432.8 166.2h0M1482.4 170.1h0M1431.6 151.9h0M1464.3 150.9h0M1447.8 146.2h0M1430.6 145.2h0M1436.6 141.7h0M1496 158.7h0M1454.2 148.3h0M1467.8 168.9h0M1457.8 154.8h0M1427.4 157.3h0M1470.4 167.6h0M1432.7 155.2h0M1435.7 169.6h0M1446.2 155.9h0M1496.9 169.8h0M1495.3 155.9h0M1460.1 165.5h0M1459.5 150.2h0M1454.1 145.1h0M1494.1 161.9h0M1461 151.8h0M1431.4 149.5h0M1481.3 170.4h0M1451 167.5h0M1480.8 164.3h0M1472.8 166.6h0M1451.2 164.7h0M1445.2 157h0M1480.4 164.2h0M1471.8 160.3h0M1425.8 159.1h0M1443 163.5h0M1458.3 168.6h0M1471.6 167.9h0M1450 162.5h0M1478.1 169h0M1450.2 169.5h0M1487.6 164.1h0M1495.3 173.5h0M1462.3 158.5h0M1437 169.3h0M1492.5 156.7h0M1474.8 165.2h0M1481.2 160.3h0M1472.9 154.7h0M1469.9 167.1h0M1470.9 165.2h0M1427 145.6h0M1456.8 162.8h0M1440.8 164h0M1459 147.9h0M1428.9 144.7h0M1447.8 146.4h0M1458.5 153.3h0M1469 160.7h0M1442.1 171.6h0M1425 154.2h0M1445.1 154.4h0M1464.3 151.9h0M1483.9 154.7h0M1483.5 162.5h0M1451.6 145h0M1467.9 159.7h0M1493.9 173.9h0M1468.8 152.3h0M1432.8 159.8h0M1470.3 171.2h0M1452.1 155.1h0M1441.3 150.2h0M1495 153.3h0M1494.2 172h0M1467.9 149.1h0M1495.6 157.4h0M1454.9 151.2h0M1495.9 157.2h0M1445.6 156.7h0M1433.8 161.8h0M1456.9 150.3h0M1481.3 168.9h0M1426 158.6h0M1481.3 148.6h0M1444.3 145.4h0M1496.2 150.3h0M1468.8 156.6h0M1471.4 161.1h0M1479.7 150.5h0M1463.4 151.8h0M1446.4 158.5h0M1458.4 152.6h0M1478.6 160.7h0M1427.6 148.8h0M1488.9 159.1h0M1455.8 160.1h0M1476 162.1h0M1459.7 171.9h0M1452.8 153.7h0M1446.3 169.1h0M1475 155.1h0M1445.6 167.3h0M1459.4 159.2h0M1460.8 151.6h0M1436.1 160.5h0M1441.6 168.7h0M1482 163.2h0M1426.8 165.3h0M1435.8 161.4h0M1454.8 145.6h0M1432.8 153.3h0M1430.2 142h0M1466.4 166h0M1456.1 151h0M1468.2 157.1h0M1492.6 153.1h0M1429 164.4h0M1435.9 162.1h0M1461.4 171.9h0M1465 161.7h0M1444 159.3h0M1443.3 166.3h0M1462.2 144.7h0M1441.9 153h0M1476.4 162.9h0M1431.1 163.4h0M1431.6 144.4h0M1467.8 148.4h0M1488.1 156.8h0M1448.3 167.9h0M1427.1 165.4h0M1428.9 145.3h0M1493.5 163.8h0M1441.1 144.1h0M1495 163.3h0M1470 152.4h0M1441.9 151.7h0M1469.2 152.2h0M1452.8 144.8h0M1484.8 162.7h0M1482.9 155.2h0M1486.3 158.1h0M1467.7 160.1h0M1478.3 153.8h0M1432 141.2h0M1489 156.8h0M1458.9 171.1h0M1469.6 155h0M1436.1 145.6h0M1452 153.5h0M1443.3 149.7h0M1436.6 150h0M1441.9 156.9h0M1474.5 163.6h0M1433.5 163.4h0M1446 163.6h0M1441.6 142.7h0M1451.2 150.9h0M1458.7 149.9h0M1477.7 165.1h0M1436.8 148.4h0M1471.5 155.1h0M1462.4 152.3h0M1431.8 142.5h0M1489.7 157.2h0M1443.4 154.3h0M1437.9 157.8h0M1454 158.6h0M1431.1 151h0M1432.8 159h0M1491.3 160.9h0M1426.3 158.9h0M1460 160h0M1452.1 161.9h0M1477.2 172h0M1447.1 155.7h0M1484.5 147.8h0M1433.3 150.9h0M1431.3 167h0M1484 151h0M1434.3 142.9h0M1442.6 143h0M1455.9 160.2h0M1442.7 142.2h0M1439.4 150h0M1451.9 143.4h0M1455.3 151h0M1479.2 159.5h0M1489.5 162.9h0M1479.7 160.1h0M1456.8 168.6h0M1477.4 164.5h0M1444.3 168.4h0M1452.5 144.6h0M1429.7 145.9h0M1443.9 163.7h0M1480 159.5h0M1427 141.8h0M1434.4 152.5h0M1486.9 173.2h0M1469.1 148.1h0M1455.9 152.7h0M1467.1 168.9h0M1463.2 146h0M1476.1 155.6h0M1492.6 167.8h0M1433.5 151.1h0M1490.9 156.1h0M1456.3 155.4h0M1480.3 172.8h0M1483.6 154.7h0M1427.4 160.2h0M1459.7 170.9h0M1453.3 147.5h0M1444.9 147h0M1465.5 152.5h0M1479.1 148.5h0M1450.3 148.7h0M1495.7 169.4h0M1486.2 161.6h0M1453.9 145h0M1484.9 157.2h0M1427.7 145.9h0M1432.1 165.1h0M1482.4 151.3h0M1474.2 170.2h0M1469.9 168h0M1461.8 160.5h0M1438.3 153.6h0M1447.5 153.4h0M1459.3 164.6h0M1483.7 172.3h0M1474.9 163.5h0M1463.6 168h0M1451.1 160.8h0M1473.9 158.3h0M1445.5 142.7h0M1431.3 152.5h0M1466.8 166.6h0M1476.4 150.7h0M1491.9 149.6h0M1479.2 163.4h0M1493.9 171.4h0M1474.5 169.3h0M1478.2 161.4h0M1440 158.1h0M1495.2 159h0M1453.1 146.2h0M1472 171.5h0M1490.5 161.5h0M1452.8 143.8h0M1474.6 159.4h0M1476.5 153.1h0M1447 149.4h0M1469.8 171.4h0M1437.1 162.1h0M1480.2 147.9h0M1429.5 159.8h0M1484.8 170.8h0M1477.4 154.6h0M1455.6 158.5h0M1490.1 150.6h0M1445.2 161.2h0M1427.2 144h0M1465.5 161.1h0M1438.2 146.7h0M1467.8 162.6h0M1474.7 165.5h0M1429.4 157h0M1485.1 173.5h0M1447.9 169.8h0M1441.5 164.4h0M1485.5 156.7h0M1432.3 146.8h0M1436.3 143.2h0M1435.9 161.6h0M1432.6 166.5h0M1478 168.6h0M1482.9 165h0M1491.5 173.5h0M1432.4 143.6h0M1429.6 147.2h0M1452 156.1h0M1474 166h0M1431 154.1h0M1464.1 153.1h0M1433.5 160.9h0M1452 163.9h0M1479.7 165.2h0M1446.3 144.1h0M1459.5 152.4h0M1478.1 172.1h0M1452.5 150.2h0M1460.9 164.4h0M1481.8 160.1h0M1446.3 151.8h0M1486.1 158.2h0M1428.6 154.7h0M1442.1 163.3h0M1430.3 149.5h0M1431.9 156.7h0M1495.9 158.9h0M1431.6 152.5h0M1480.1 152.6h0M1426.2 148.8h0M1458 153.4h0M1456.9 156.5h0M1431.1 149.8h0M1493.7 164h0M1453.3 167.2h0M1456.3 160.8h0M1490 162.6h0M1454.8 170.6h0M1484.4 172h0M1479.4 171.2h0M1435.7 167.3h0M1516.4 151.9h0M1529.5 155.4h0M1572.3 198.6h0M1541 163.5h0M1511.2 152.1h0M1565 199h0M1538.5 156.9h0M1573.6 203h0M1541.9 165.1h0M1571.5 183.3h0M1569.4 201.8h0M1530.8 158.6h0M1548.9 163.5h0M1570.5 209h0M1576.2 196.9h0M1521.1 157.8h0M1533.4 154.1h0M1500.7 156.4h0M1561.3 169.3h0M1520.8 151.5h0M1514 149h0M1501.5 156.3h0M1560.5 172.4h0M1565.1 178.4h0M1516.9 158.9h0M1508.6 148.4h0M1573.1 182.9h0M1570.9 188.8h0M1570.8 206.9h0M1562.6 188h0M1563.8 180.4h0M1576.6 209.4h0M1576.4 189.7h0M1502 156.2h0M1569 181.9h0M1552.1 167.2h0M1570.1 196.8h0M1499.2 147.3h0M1567.9 185.7h0M1559.9 180h0M1561.6 165.8h0M1569.6 179.3h0M1511.5 155h0M1561.5 186.1h0M1533.2 154.4h0M1560.2 169.3h0M1503.8 154.6h0M1544.2 168.5h0M1498.9 146.3h0M1574.9 200.6h0M1570.5 192.1h0M1522.4 160.4h0M1548.1 155.5h0M1578 206.6h0M1546.5 165.9h0M1570.2 197.1h0M1540 155.6h0M1504.9 147.1h0M1523 153.2h0M1569 193.2h0M1538.2 155.3h0M1566.2 177.4h0M1502.6 156.3h0M1509.5 155.5h0M1566.6 200.2h0M1572.5 207.8h0M1565.4 184.3h0M1548.8 162.1h0M1567.4 189.4h0M1548.3 167.7h0M1570.2 204.2h0M1546 161.7h0M1513.5 149.8h0M1577.2 200.4h0M1566.2 186.8h0M1536.2 154.7h0M1532.9 156.7h0M1559 172.3h0M1510.6 151.2h0M1537.9 152.6h0M1511.8 158.8h0M1546.8 169.4h0M1575 190.8h0M1571.1 192.2h0M1505.5 158.4h0M1565.8 195.8h0M1500.1 155.2h0M1544.1 158h0M1548.2 168.1h0M1529.2 154.4h0M1508.2 147h0M1531.3 152.7h0M1570.4 177.3h0M1508.3 147.9h0M1549 156.4h0M1535.6 153h0M1569.4 184.9h0M1574.2 197.6h0M1518.6 148.8h0M1575.7 204.5h0M1567 201.6h0M1572.3 206.8h0M1532.8 154.1h0M1559.2 180.2h0M1541 161.6h0M1548.2 156.4h0M1543.8 158h0M1575.5 190.8h0M1551.4 166.1h0M1567.8 198.4h0M1511.5 151.4h0M1542.6 159.9h0M1529.3 161.2h0M1520.8 151h0M1559.3 183.4h0M1529.2 150.8h0M1528.8 159.1h0M1565.1 192.6h0M1569 183.6h0M1516.5 157.4h0M1559.6 176.5h0M1557.8 163.8h0M1577 196.8h0M1573.2 194.7h0M1570.8 194.7h0M1551.8 162h0M1548 157.5h0M1550.1 156.8h0M1544.1 163.3h0M1501.6 149.2h0M1549.3 160.1h0M1547.4 156.7h0M1497.4 158h0M1517.6 151.4h0M1528.5 158.9h0M1566.7 187.8h0M1568.5 201.6h0M1554.7 173.7h0M1505.8 154.7h0M1567.9 180.3h0M1567.1 169.6h0M1543.4 161.5h0M1549.5 163.1h0M1575.9 191.4h0M1522.1 150.4h0M1534.8 151.3h0M1540.4 163.7h0M1564.8 196.5h0M1544.7 163.1h0M1555.1 157.8h0M1577 209.6h0M1507.5 156.5h0M1564.3 175.1h0M1563.1 177.5h0M1518.3 152.5h0M1571 206.6h0M1548.4 171.7h0M1551.9 165.2h0M1537.5 162.2h0M1507.4 148.5h0M1556.9 173.1h0M1528.8 153.6h0M1553.1 163.8h0M1549 162.4h0M1532 162.8h0M1560.8 179.9h0M1539.2 164.1h0M1567.5 191.8h0M1559 167.4h0M1525.5 159.8h0M1578.2 208.1h0M1546.7 155h0M1564.1 188.5h0M1507.6 147h0M1570.8 191.4h0M1572.7 200.2h0M1538.9 165h0M1556.9 158.7h0M1511 149.7h0M1504.6 154.2h0M1553 167.7h0M1565.7 169.2h0M1573.2 182.3h0M1557 162.6h0M1533.6 157.1h0M1515.8 160.4h0M1543 156h0M1561.2 182.7h0M1526.1 167.5h0M1520.7 173.6h0M1513.9 183.7h0M1526.1 189.1h0M1539 193.9h0M1542.4 203.4h0M1526.8 212.9h0M1543.7 216.9h0M1520 225.1h0M1549.8 227.1h0M1562 230.5h0M1537.6 229.1h0M1534.2 234.6h0M1526.1 233.2h0M1510.5 235.2h0M1529.5 241.3h0M1543 239.3h0M1556.6 242.7h0M1516.6 248.1h0M1530.2 249.9h0M1549.1 247.4h0M1551.8 248.1h0M1550.5 254.9h0M1554.6 258.3h0M1555.9 261.7h0M1554.6 265.7h0M1524.1 266.4h0M1567.4 265.1h0M1534.9 279.3h0M1574.9 275.9h0M1562.7 280h0M1563.4 283.4h0M1571.5 282.7h0M1580.3 290.8h0M1582.3 292.9h0M1530.2 296h0M1555.2 299.6h0M1575.6 303h0M1541.7 315.2h0M1561.3 341.7h0M1484.7 203h0M1491.5 204.3h0M1497.6 204.1h0M1505.1 205.1h0M1514.6 206.8h0M1504.4 214.2h0M1501 217.6h0M1507.1 221.4h0M1508.5 227.1h0M1547.1 183h0M1553.9 179.7h0M1554.6 195.2h0M1557.3 196.6h0M1560 205.4h0M1562 210.2h0M1568.1 213.5h0M1572.9 210.2h0M1577.6 208.8h0M1560.7 219.6h0M1564 220.3h0M1569.5 219.6h0M1572.9 219.6h0M1576.9 217.6h0M1576.9 225.7h0M1572.2 228.5h0M1573.5 232.5h0M1576.9 235.9h0M1577.6 242h0M1574.9 201.3h0M1568.8 205.4h0M1565.4 201.3h0M1557.3 190.5h0M1496.9 196.6h0M1497.6 201.3h0M1488.8 190.5h0M1482.7 185.1h0M1486.8 183.7h0M1496.3 187.8h0M1417.6 182.4h0M1421 187.1h0M1412.9 174.2h0M1562.7 187.8h0M1566.8 193.2h0M1570.8 190.5h0M1561.3 181h0M1568.1 183.7h0M1572.2 201.3h0M1562.7 198.6h0" stroke="#8b0000" stroke-width="4.3" stroke-linecap="round" fill="none"/><text x="968.8" y="56.1" font-size="32" font-weight="bold">Jan.</text>
<rect x="898.3" y="13.2" width="713" height="519.1" fill="none" stroke="#000" stroke-width="2"/>
<text x="898.3" y="574.9" font-size="26.5" text-anchor="middle">27</text>
<text x="969.6" y="574.9" font-size="26.5" text-anchor="middle">28</text>
<text x="1040.9" y="574.9" font-size="26.5" text-anchor="middle">29</text>
<text x="1112.2" y="574.9" font-size="26.5" text-anchor="middle">30</text>
<text x="1183.5" y="574.9" font-size="26.5" text-anchor="middle">31</text>
<text x="1254.8" y="574.9" font-size="26.5" text-anchor="middle">32</text>
<text x="1326.1" y="574.9" font-size="26.5" text-anchor="middle">33</text>
<text x="1397.4" y="574.9" font-size="26.5" text-anchor="middle">34</text>
<text x="1468.7" y="574.9" font-size="26.5" text-anchor="middle">35</text>
<text x="1540" y="574.9" font-size="26.5" text-anchor="middle">36</text>
<text x="1611.3" y="574.9" font-size="26.5" text-anchor="middle">37</text>
<text x="873.3" y="542.2" font-size="26.5" text-anchor="end">20</text>
<text x="873.3" y="455.7" font-size="26.5" text-anchor="end">22</text>
<text x="873.3" y="369.2" font-size="26.5" text-anchor="end">24</text>
<text x="873.3" y="282.6" font-size="26.5" text-anchor="end">26</text>
<text x="873.3" y="196.1" font-size="26.5" text-anchor="end">28</text>
<text x="873.3" y="109.6" font-size="26.5" text-anchor="end">30</text>
<text x="873.3" y="23.1" font-size="26.5" text-anchor="end">32</text>
<path d="M898.3 532.3V544.8M969.6 532.3V544.8M1040.9 532.3V544.8M1112.2 532.3V544.8M1183.5 532.3V544.8M1254.8 532.3V544.8M1326.1 532.3V544.8M1397.4 532.3V544.8M1468.7 532.3V544.8M1540 532.3V544.8M1611.3 532.3V544.8M898.3 532.3H885.8M898.3 445.8H885.8M898.3 359.3H885.8M898.3 272.8H885.8M898.3 186.2H885.8M898.3 99.7H885.8M898.3 13.2H885.8" stroke="#000" stroke-width="2" fill="none"/>
<text x="1254.8" y="610.3" font-size="27.8" text-anchor="middle">Salinity(psu)</text>
<text transform="translate(833.5,272.8) rotate(-90)" font-size="27.5" text-anchor="middle">Temperature(°C)</text>
</g>
<g transform="translate(0,627)">
<g clip-path="url(#mclip)">
<rect x="100" y="0" width="680" height="545" fill="#8b0000"/><polygon points="290,300 301.9,324 301.9,330.5 314.9,330.5 314.9,343.4 351.7,343.4 351.7,319.5 362.6,319.5 375,330 380,365 370,371.1 340.7,371.1 340.7,382.8 353.6,382.8 353.6,395 416.9,395 416.9,383.4 648.7,383.4 648.7,369.6 688.2,369.6 688.2,356.4 775,356.4 775,5 440,5 340,100 320,200" fill="#00008b"/><polygon points="382,278.8 392.3,278.8 392.3,286.6 382,286.6" fill="#8b0000"/><path d="M112 532l24 0M112 519l24 0M112 506l22 0M112 493l17 0M112 480l8 0M112 442l-4 0M112 429l-12 0M112 416l-19 0M112 403l-23 0M112 390l-20 0M112 377l-13 0M112 364l-6 0M125 532l26 0M125 519l26 0M125 506l23 0M125 493l17 0M125 480l8 0M125 442l-4 0M125 429l-12 0M125 416l-19 0M125 403l-23 0M125 390l-21 0M125 377l-14 0M125 364l-6 0M125 351l-2 0M138 532l26 0M138 519l26 0M138 506l23 0M138 493l17 0M138 480l7 0M138 442l-4 0M138 429l-11 0M138 416l-19 0M138 403l-23 0M138 390l-21 0M138 377l-14 0M138 364l-6 0M138 351l-2 0M151 532l26 0M151 519l26 0M151 506l23 0M151 493l17 0M151 480l7 0M151 442l-3 0M151 429l-10 0M151 416l-17 0M151 403l-22 0M151 390l-21 0M151 377l-13 0M151 364l-6 0M151 351l-1 0M164 532l24 0M164 519l25 0M164 506l22 0M164 493l16 0M164 480l4 0M164 442l-3 0M164 429l-7 0M164 416l-14 0M164 403l-19 0M164 390l-18 0M164 377l-11 0M164 364l-4 0M177 532l23 0M177 519l24 0M177 506l22 0M177 493l16 1M177 480l6 1M177 442l-3 0M177 429l-7 0M177 416l-12 0M177 403l-16 0M177 390l-15 0M177 377l-7 0M190 532l28 0M190 519l28 0M190 506l24 0M190 493l19 1M190 480l12 2M190 467l2 2M190 442l-5 1M190 429l-10 1M190 416l-15 0M190 403l-19 0M190 390l-17 0M190 377l-9 0M190 364l-3 0M203 532l30 0M203 519l29 0M203 506l24 1M203 493l18 2M203 480l13 4M203 467l6 6M203 454l-1 5M203 442l-8 4M203 429l-14 2M203 416l-19 0M203 403l-23 0M203 390l-21 0M203 377l-13 0M203 364l-5 0M216 532l30 0M216 519l28 0M216 506l24 1M216 493l18 1M216 480l13 3M216 467l4 4M216 454l-1 2M216 442l-8 2M216 429l-15 1M216 416l-22 0M216 403l-26 0M216 390l-24 0M216 377l-17 0M216 364l-8 0M216 351l-1 0M229 532l30 0M229 519l28 0M229 506l23 0M229 493l18 0M229 480l13-1M229 467l3-1M229 442l-5-2M229 429l-10-1M229 416l-20-1M229 403l-25 0M229 390l-25 0M229 377l-17 0M229 364l-7 0M242 532l28 0M242 519l27 0M242 506l23 0M242 493l16-1M242 480l10-3M242 467l5-5M242 454l0-4M242 442l-1-2M242 429l-2-1M242 416l-11-1M242 403l-20 0M242 390l-19 0M242 377l-11 0M242 364l-3 0M255 532l25 0M255 519l26 0M255 506l22 0M255 493l14 0M255 480l7-2M255 467l3-2M255 416l-7-1M255 403l-14 0M255 390l-13 0M255 377l-6 0M255 364l-2 0M268 532l28 0M268 519l29 0M268 506l25 0M268 493l18 0M268 480l10 0M268 467l5 0M268 416l-11-1M268 403l-18 0M268 390l-16 0M268 377l-9 0M268 364l-4 0M281 532l30 0M281 519l30 0M281 506l28 0M281 493l23 0M281 480l17 0M281 467l10 0M281 454l3 0M281 429l-7-1M281 416l-18 0M281 403l-24 0M281 390l-22 0M281 377l-15 0M281 364l-6 0M294 532l31 0M294 519l30 0M294 506l28 0M294 493l25 0M294 480l21 0M294 467l14 0M294 454l6 0M294 429l-9 0M294 416l-22 0M294 403l-27 0M294 390l-26 0M294 377l-18 0M294 364l-8 0M307 532l30 0M307 519l30 0M307 506l28 0M307 493l25 0M307 480l21 0M307 467l14 0M307 454l7 0M307 416l-18 0M307 403l-26 0M307 390l-25 0M307 377l-17 0M307 364l-7 0M320 532l28 0M320 519l29 0M320 506l27 0M320 493l23 0M320 480l16 0M320 467l10 0M320 454l5 0M320 416l-9 0M320 403l-19 0M320 390l-18 0M320 377l-11 0M320 364l-4 0M333 532l25 0M333 519l27 0M333 506l25 0M333 493l19 0M333 480l12 0M333 467l8 0M333 454l5 0M333 416l-8 0M333 403l-14 0M333 390l-12 0M333 377l-7 0M333 364l-2 0M346 532l28 0M346 519l30 0M346 506l28 0M346 493l23 0M346 480l16 0M346 467l10 0M346 454l5 0M346 429l-3 0M346 416l-13 0M346 403l-18 0M346 390l-16 0M346 377l-9 0M346 364l-4 0M346 299l-2-7M346 286l-2-11M359 532l30 0M359 519l31 0M359 506l30 0M359 493l26 0M359 480l21 0M359 467l14 0M359 454l7 0M359 429l-9 0M359 416l-19 0M359 403l-23 0M359 390l-22 0M359 377l-16 0M359 364l-8 0M359 351l-2 0M359 312l-2-6M359 299l-3-14M359 286l-3-17M359 273l-2-19M372 532l31 0M372 519l31 0M372 506l30 0M372 493l28 0M372 480l24 0M372 467l18 0M372 454l9 0M372 429l-9 0M372 416l-21 0M372 403l-26 0M372 390l-25 0M372 377l-20 0M372 286l-3-18M372 273l-2-20M372 260l-1-23M372 247l0-25M372 234l0-26M372 221l2-27M385 532l30 0M385 519l31 0M385 506l30 0M385 493l28 0M385 480l24 0M385 467l16 0M385 454l8 0M385 416l-17 0M385 403l-25 0M385 390l-24 0M385 286l-4-18M385 273l-3-21M385 260l-2-24M385 247l-1-25M385 234l0-26M385 221l2-27M385 208l2-28M385 195l3-28M385 182l4-28M385 169l5-28M385 156l5-27M385 143l7-26M385 130l10-25M398 532l28 0M398 519l30 0M398 506l28 0M398 493l25 0M398 480l18 0M398 467l10 0M398 454l6 0M398 442l4 0M398 416l-9 1M398 403l-20 2M398 390l-20 2M398 377l-13 1M398 299l-6-16M398 286l-5-18M398 273l-4-20M398 260l-2-23M398 247l-1-24M398 234l0-24M398 221l1-25M398 208l2-25M398 195l3-26M398 182l4-26M398 169l5-27M398 156l6-27M398 143l8-27M398 130l12-27M398 117l15-26M411 532l25 0M411 519l28 0M411 506l26 0M411 493l19 0M411 480l12 0M411 467l7 0M411 454l5 0M411 442l3 0M411 416l-7 2M411 403l-17 5M411 390l-18 5M411 377l-14 4M411 312l-8-12M411 299l-7-14M411 286l-6-16M411 273l-4-18M411 260l-3-19M411 247l-2-19M411 234l-1-18M411 221l1-19M411 208l1-20M411 195l2-21M411 182l3-22M411 169l4-24M411 156l6-24M411 143l10-25M411 130l14-26M411 117l16-26M424 532l28 0M424 519l29 0M424 506l28 0M424 493l22 0M424 480l14 0M424 467l8 0M424 454l6 1M424 442l3 0M424 416l-8 3M424 403l-17 6M424 390l-18 6M424 377l-17 6M424 364l-15 5M424 351l-13 4M424 338l-12 3M424 325l-9-1M424 312l-8-6M424 299l-8-9M424 286l-7-10M424 273l-5-11M424 260l-3-11M424 247l-2-9M424 234l-2-8M424 221l-1-9M424 208l1-11M424 195l1-12M424 182l2-14M424 169l3-17M424 156l6-19M424 143l10-22M424 130l15-24M424 117l18-25M437 532l30 0M437 519l31 0M437 506l29 0M437 493l26 0M437 480l20 0M437 467l13 0M437 454l7 1M437 442l3 0M437 416l-5 2M437 403l-14 5M437 390l-17 7M437 377l-18 7M437 364l-17 7M437 351l-15 5M437 338l-13 3M437 325l-10 0M437 312l-7-2M437 299l-7-3M437 286l-6-3M437 273l-4-3M437 260l-2-3M437 247l-1-2M437 234l-1-1M437 221l-1-2M437 208l0-3M437 195l0-4M437 182l1-5M437 169l2-8M437 156l5-12M437 143l11-17M437 130l16-20M437 117l19-22M437 104l21-23M437 91l22-22M450 532l31 0M450 519l31 0M450 506l30 0M450 493l28 0M450 480l24 0M450 467l16 0M450 454l8 1M450 442l4 0M450 403l-6 3M450 390l-13 5M450 377l-16 7M450 364l-16 6M450 351l-15 5M450 338l-12 3M450 325l-9 1M450 312l-7 0M450 299l-6-1M450 286l-5-1M450 273l-3-1M450 260l-2-1M450 169l1-3M450 156l4-7M450 143l10-13M450 130l16-17M450 117l19-19M450 104l20-20M450 91l21-20M463 532l30 0M463 519l31 0M463 506l30 0M463 493l28 0M463 480l24 0M463 467l16 0M463 454l8 0M463 442l5-1M463 429l3 0M463 390l-6 2M463 377l-13 4M463 364l-14 4M463 351l-13 3M463 338l-11 2M463 325l-8 0M463 312l-7 0M463 299l-6 0M463 286l-5-1M463 273l-3-1M463 260l-2-1M463 156l4-6M463 143l10-11M463 130l14-15M463 117l16-16M463 104l18-17M463 91l19-18M463 78l21-18M476 532l28 0M476 519l29 0M476 506l28 0M476 493l25 0M476 480l18 0M476 467l9 0M476 454l5 0M476 442l5-1M476 429l4-1M476 416l3-1M476 377l-8 2M476 364l-12 2M476 351l-11 1M476 338l-9 1M476 325l-7 0M476 312l-6 0M476 299l-5 0M476 286l-4 0M476 273l-3 0M476 260l-2 0M476 156l4-5M476 143l9-10M476 130l11-12M476 117l12-13M476 104l13-14M476 91l16-16M476 78l19-17M476 65l21-17M489 532l23 0M489 519l25 0M489 506l22 0M489 493l16 0M489 480l8 1M489 467l3 1M489 454l2 1M489 442l3-1M489 429l4-1M489 416l4-1M489 403l1-1M489 377l-6 0M489 364l-10 0M489 351l-9 0M489 338l-7 0M489 325l-6 0M489 312l-5 0M489 299l-5 0M489 286l-4 0M489 273l-3 0M489 260l-2 0M489 156l3-4M489 143l7-8M489 130l7-9M489 117l7-11M489 104l8-14M489 91l12-17M489 78l16-18M489 65l19-17M489 52l21-15M502 532l23 0M502 519l24 0M502 506l21 0M502 493l15 0M502 480l7 1M502 467l3 1M502 454l1 1M502 442l2 0M502 429l3-1M502 416l4-1M502 377l-6 0M502 364l-8 0M502 351l-8 0M502 338l-6 0M502 325l-5 0M502 312l-5 0M502 299l-5 0M502 286l-5 0M502 273l-4 0M502 156l1-1M502 143l5-6M502 130l3-8M502 117l2-11M502 104l3-15M502 91l8-18M502 78l14-19M502 65l19-17M502 52l20-15M502 39l20-13M515 532l25 0M515 519l25 0M515 506l22 0M515 493l17 1M515 480l10 1M515 467l4 1M515 454l1 1M515 429l1 0M515 416l2 0M515 377l-6 0M515 364l-8 0M515 351l-7 0M515 338l-6 0M515 325l-5 0M515 312l-5 0M515 299l-5 0M515 286l-4 0M515 273l-3 0M515 143l0-2M515 130l-1-5M515 117l-4-10M515 104l-4-15M515 91l3-17M515 78l13-17M515 65l19-15M515 52l20-13M515 39l19-11M515 26l18-10M528 532l26 0M528 519l25 0M528 506l23 0M528 493l19 1M528 480l12 1M528 467l6 1M528 454l2 1M528 429l2 0M528 416l3 0M528 377l-5 0M528 364l-7 0M528 351l-7 0M528 338l-6 0M528 325l-4 0M528 312l-4 0M528 299l-3 0M528 286l-3 0M528 130l-4-3M528 117l-10-6M528 104l-8-7M528 91l0-6M528 78l11-9M528 65l20-9M528 52l21-9M528 39l19-9M528 26l18-9M541 532l25 0M541 519l25 0M541 506l23 0M541 493l19 1M541 480l13 1M541 467l6 1M541 454l2 1M541 442l2 0M541 429l3 0M541 416l5 0M541 403l4-1M541 364l-6 0M541 351l-6 0M541 338l-5 0M541 325l-3 0M541 312l-3 0M541 299l-2 0M541 130l-8 1M541 117l-14 2M541 104l-9 2M541 78l10 1M541 65l19-1M541 52l20-4M541 39l18-7M541 26l17-9M541 14l16-10M554 532l23 0M554 519l23 0M554 506l22 0M554 493l18 1M554 480l12 1M554 467l6 1M554 454l3 1M554 442l3 0M554 429l4 0M554 416l5-1M554 403l4-1M554 364l-4 0M554 351l-5 0M554 338l-4 0M554 325l-3 0M554 312l-2 0M554 130l-6 3M554 117l-11 7M554 104l-8 10M554 91l0 11M554 78l9 10M554 65l16 5M554 52l17 0M554 39l15-4M554 26l14-6M554 14l13-7M567 532l11 0M567 519l13 0M567 506l12 0M567 493l10 0M567 480l6 1M567 467l2 1M567 454l2 1M567 442l3 0M567 429l4 0M567 416l5-1M567 403l4-1M567 364l-3 0M567 351l-3 0M567 338l-3 0M567 325l-3 0M567 312l-2 0M567 130l-2 2M567 117l-6 8M567 104l-5 13M567 91l0 15M567 78l6 13M567 65l10 7M567 52l9 3M567 39l8 0M567 26l7-1M567 14l6-2M580 532l3 0M580 519l4 0M580 506l4 0M580 493l3 0M580 429l3 0M580 416l4 0M580 403l1-1M580 364l-3 0M580 351l-3 0M580 338l-2 0M580 325l-2 0M580 117l-2 5M580 104l-1 9M580 91l1 10M580 78l4 8M580 65l5 5M580 52l5 2M580 39l5 1M580 26l4 0M580 14l3 0M593 532l4 0M593 519l4 0M593 506l3 0M593 493l2 0M593 364l-3 0M593 351l-2 0M593 117l0 2M593 104l0 4M593 91l1 5M593 78l2 4M593 65l2 2M593 52l4 1M593 39l4 1M593 26l4 1M593 14l3 0M606 532l4 0M606 519l4 0M606 506l3 0M606 493l3 0M606 91l0 2M606 65l1 1M606 52l3 1M606 39l3 1M606 26l3 1M606 14l3 0M619 532l4 0M619 519l4 0M619 506l3 0M619 493l2 0M619 416l1 0M619 403l1-1M619 52l2 1M619 39l3 1M619 26l3 1M619 14l2 0M632 532l3 0M632 519l3 0M632 506l3 0M632 493l2 0M632 416l1 0M632 403l1-1M632 52l2 1M632 39l2 1M632 26l2 1M632 14l1 0M644 416l2 0M644 403l2-1M644 52l2 1M644 39l3 1M644 26l3 1M644 14l2 0M657 39l2 1M657 26l2 1M670 364l-1 1M683 364l0 1M683 351l0 1" stroke="#fff" stroke-width="1.6" fill="none"/><path d="M143 532l-8 3 0-6zM143 519l-8 3 0-6zM141 506l-8 3 0-6zM136 493l-8 3 0-6zM127 480l-8 3 0-6zM116 467l-4 2 0-3zM108 454l4-1 0 3zM101 442l8-3 0 6zM93 429l8-3 0 6zM86 416l8-3 0 6zM82 403l8-3 0 6zM85 390l8-3 0 6zM92 377l8-3 0 6zM99 364l8-3 0 6zM104 351l8-3 0 6zM106 338l6-3 0 5zM107 325l5-2 0 4zM107 312l5-2 0 4zM107 299l5-2 0 4zM107 286l5-2 0 4zM107 273l5-2 0 4zM108 261l4-3 1 3zM109 248l3-2 1 2zM110 235l2-2 1 2zM114 222l-2 0 1-2zM118 208l-6 2 0-4zM120 195l-8 3 0-6zM119 182l-7 3 0-5zM118 169l-6 2 0-4zM116 156l-4 2 0-3zM116 143l-4 2 0-3zM116 131l-4 1 0-3zM115 119l-3-1 1-2zM114 107l-3-2 2-1zM114 95l-3-3 2-1zM114 81l-3-2 2-1zM113 66l-1 0 1-2zM113 50l0 3-2-1zM113 37l0 3-2-1zM113 24l0 3-2-1zM113 11l0 3-2-1zM158 532l-8 3 0-6zM158 519l-8 3 0-6zM155 506l-8 3 0-6zM149 493l-8 3 0-6zM140 480l-8 3 0-6zM129 467l-4 2 0-3zM120 454l5-1 0 3zM114 442l8-3 0 6zM106 429l8-3 0 6zM99 416l8-3 0 6zM95 403l8-3 0 6zM97 390l8-3 0 6zM104 377l8-3 0 6zM112 364l8-3 0 6zM116 351l8-3 0 6zM118 338l7-3 0 5zM119 325l6-2 0 4zM120 312l5-2 0 4zM120 299l5-2 0 4zM120 286l5-2 0 4zM120 273l5-2 0 4zM121 261l4-3 1 4zM122 248l3-2 1 2zM123 235l2-2 1 2zM127 222l-2 0 1-2zM132 208l-7 2 0-4zM133 195l-8 3 0-6zM133 182l-8 3 0-6zM131 169l-6 2 0-4zM130 156l-5 2 0-3zM129 143l-4 2 0-3zM129 131l-4 1 0-3zM128 119l-3-1 1-2zM127 107l-3-2 2-2zM127 95l-3-3 2-1zM127 81l-3-2 2-1zM126 66l-1 0 0-2zM126 50l0 3-2-1zM126 37l0 3-2-1zM126 24l0 3-2-1zM126 11l0 3-2-1zM171 532l-8 3 0-6zM171 519l-8 3 0-6zM168 506l-8 3 0-6zM162 493l-8 3 0-6zM152 480l-8 3 0-6zM141 467l-3 2 0-3zM133 454l5-1 0 3zM127 442l8-3 0 6zM120 429l8-3 0 6zM112 416l8-3 0 6zM108 403l8-3 0 6zM110 390l8-3 0 6zM117 377l8-3 0 6zM125 364l8-3 0 6zM129 351l8-3 0 6zM131 338l7-3 0 5zM132 325l6-2 0 4zM133 312l5-2 0 4zM133 299l5-2 0 4zM133 286l5-2 0 4zM133 273l5-2 0 4zM134 261l4-3 1 4zM135 248l3-2 1 2zM136 235l2-2 1 2zM141 222l-3 0 1-2zM145 208l-7 3 0-5zM146 195l-8 3 0-6zM146 182l-8 3 0-6zM144 169l-6 2 0-4zM143 156l-5 2 0-3zM142 143l-4 2 0-3zM142 131l-4 1 0-3zM141 119l-3-1 1-2zM140 107l-3-2 2-2zM140 94l-3-2 2-1zM140 81l-3-2 2-1zM139 66l-1 0 0-2zM139 50l0 3-2-1zM139 37l0 3-2-1zM139 24l0 3-2-1zM139 11l0 3-2-1zM184 532l-8 3 0-6zM184 519l-8 3 0-6zM181 506l-8 3 0-6zM175 493l-8 3 0-6zM165 480l-8 3 0-6zM153 467l-2 1 0-2zM146 455l5-3 0 5zM141 442l8-3 0 6zM134 429l8-3 0 6zM127 416l8-3 0 6zM122 403l8-3 0 6zM123 390l8-3 0 6zM131 377l8-3 0 6zM138 364l8-3 0 6zM143 351l8-3 0 6zM145 338l6-3 0 5zM145 325l6-2 0 4zM146 312l5-2 0 4zM146 299l5-2 0 4zM146 286l5-2 0 4zM146 273l5-2 0 4zM147 261l4-3 1 3zM148 248l3-2 1 2zM150 235l1-2 1 2zM154 222l-3 0 0-2zM158 208l-7 3 0-6zM159 195l-8 3 0-6zM159 182l-8 3 0-6zM157 169l-6 2 0-4zM155 156l-4 2 0-3zM155 143l-4 2 0-3zM154 130l-3 1 0-2zM154 118l-3 0 1-2zM153 107l-3-2 2-1zM153 94l-3-2 2-1zM153 80l-3-1 2-1zM152 65l-1 1 0-2zM152 50l0 3-2-1zM152 37l0 3-2-1zM152 24l0 3-2-1zM152 11l0 3-2-1zM195 532l-8 3 0-6zM196 519l-8 3 0-6zM193 506l-8 3 0-6zM187 493l-8 3 0-6zM175 481l-8 2 1-6zM158 455l6-3 0 5zM154 442l8-3 0 6zM150 429l8-3 0 6zM143 416l8-3 0 6zM138 403l8-3 0 6zM139 390l8-3 0 6zM146 377l8-3 0 6zM153 364l8-3 0 6zM157 351l7-3 0 5zM158 338l6-2 0 4zM159 325l5-2 0 4zM160 312l4-2 0 3zM160 299l4-2 0 4zM160 286l4-2 0 4zM160 274l4-3 1 3zM161 262l2-3 2 2zM162 250l1-4 2 2zM164 236l-1-2 2 0zM169 222l-5 1 1-4zM171 208l-7 3 0-6zM172 195l-8 3 0-6zM171 182l-7 3 0-6zM169 168l-4 3-1-4zM167 154l-2 3-1-2zM166 141l-1 3-2-2zM166 129l-1 2-1-2zM166 116l-1 2-1-2zM165 104l-1 1 0-2zM165 92l-1 0 0-2zM165 78l-1 1 0-2zM165 64l0 2-2-1zM165 50l0 3-2-1zM165 37l0 3-2-1zM165 24l0 3-2-1zM165 11l0 3-2-1zM207 532l-8 3 0-6zM208 519l-8 3 0-6zM206 506l-8 3 0-6zM200 494l-8 3 0-6zM190 481l-9 3 1-6zM177 469l-1-2 2 1zM171 456l6-4 1 5zM167 443l7-4 1 6zM163 430l7-4 1 6zM158 417l7-4 1 6zM154 403l8-3 0 6zM155 390l8-3 0 6zM163 377l8-3 0 6zM169 364l8-3 0 6zM171 351l6-2 0 4zM172 338l5-2 0 4zM174 326l3-3 1 3zM175 313l2-2 1 2zM174 299l3-1 0 2zM174 286l3-1 0 2zM174 274l3-2 1 2zM175 263l1-4 2 2zM176 251l0-5 3 2zM177 237l-1-3 2 0zM181 223l-4 0 1-4zM184 208l-7 3 0-6zM185 195l-8 3 0-6zM184 182l-7 3 0-5zM181 167l-3 4-1-3zM178 153l0 4-2-1zM178 140l0 3-2 0zM178 127l0 3-2 0zM178 114l0 3-2 0zM177 102l1 2-2 0zM177 89l1 2-2 0zM178 76l0 3-2-1zM178 63l0 3-2-1zM178 50l0 3-2-1zM179 37l-1 3-2-1zM179 24l-1 3-2-1zM178 11l0 3-2-1zM225 532l-8 3 0-6zM225 519l-8 3 0-6zM221 507l-8 2 0-6zM216 494l-8 3 0-6zM209 483l-8 2 1-6zM198 473l-8-2 3-5zM186 461l2-8 4 3zM178 446l7-6 2 6zM173 431l7-4 1 6zM168 417l8-4 0 6zM164 403l8-3 1 6zM166 390l8-3 0 6zM174 377l8-3 0 6zM180 364l8-3 0 6zM184 351l6-3 0 5zM186 338l4-2 0 3zM188 327l1-3 2 2zM189 314l0-3 2 1zM188 300l2-2 1 2zM187 287l3-2 1 2zM187 274l3-2 1 2zM188 263l1-4 2 2zM189 251l0-5 3 2zM190 238l-1-4 3 0zM193 223l-3-1 1-2zM196 208l-6 2 0-4zM197 194l-7 4 0-5zM196 181l-5 3-1-4zM193 166l-2 4-2-2zM191 153l1 3-3 0zM190 139l2 4-3 0zM190 127l2 3-3 0zM190 114l1 3-2 0zM190 101l1 3-2 0zM190 88l1 3-2 0zM190 76l1 2-2 0zM191 63l0 3-2-1zM240 532l-8 3 0-6zM239 519l-8 3 0-6zM234 507l-8 3 0-6zM228 495l-8 3 1-6zM223 486l-8 1 1-6zM215 478l-8-3 4-5zM201 466l-1-8 6 0zM189 449l6-7 3 6zM182 432l8-4 1 5zM177 417l8-4 0 6zM173 403l8-3 0 6zM175 390l8-3 0 6zM183 377l8-3 0 6zM191 364l7-3 1 6zM195 351l8-3 0 6zM199 339l4-3 1 3zM203 328l-1-3 2 0zM204 316l-2-4 3-1zM203 302l-1-3 2 0zM201 287l1-2 2 2zM201 274l2-2 1 2zM201 262l1-3 2 2zM202 250l0-4 2 2zM202 237l0-3 2 0zM205 222l-2 0 1-2zM207 206l-3 3-2-2zM207 192l-3 5-2-3zM206 179l-2 4-2-2zM204 165l1 5-3-1zM203 152l2 4-3 0zM203 139l2 4-3 0zM203 126l2 4-3 0zM203 114l1 3-2 0zM253 532l-8 3 0-6zM251 519l-8 3 0-6zM247 507l-8 3 0-6zM241 495l-8 2 0-6zM236 484l-8 2 1-6zM226 475l-8-3 3-4zM212 462l1-8 5 3zM202 446l6-5 2 6zM194 431l7-4 1 6zM187 416l8-3 0 6zM183 403l8-3 0 6zM185 390l8-3 0 6zM192 377l8-3 0 6zM201 364l8-3 0 6zM208 351l7-3 1 6zM213 340l2-4 2 3zM217 329l-2-4 3 0zM218 317l-4-4 4-2zM217 303l-2-4 3-1zM216 288l-1-2 2 0zM215 273l1-1 0 2zM215 260l1-1 0 2zM215 247l1-1 1 2zM217 218l0 3-2 0zM218 203l0 6-4-2zM218 190l0 6-4-2zM217 177l1 6-4-1zM217 164l1 5-4 0zM216 152l2 4-4 0zM216 139l2 4-3 0zM266 532l-8 3 0-6zM264 519l-8 3 0-6zM259 506l-8 3 0-6zM254 492l-8 4 0-6zM249 478l-8 4-1-6zM238 462l-5 7-3-5zM224 449l7 4-4 3zM217 438l9-1-2 6zM212 427l8-2 0 6zM202 415l8-3 0 6zM197 403l8-3 0 6zM197 390l8-3 0 6zM205 377l8-3 0 6zM215 364l8-3 0 6zM221 351l8-3 0 6zM225 339l4-3 1 3zM229 328l-1-3 2 0zM231 316l-4-3 4-2zM231 302l-3-3 2-1zM229 271l1 2-2 0zM229 257l1 3-2 0zM229 244l1 3-2 0zM229 230l2 4-3 0zM229 216l2 5-4 0zM230 202l1 6-4 0zM230 189l1 6-4 0zM230 177l1 5-4 0zM229 164l2 5-4 0zM277 532l-8 3 0-6zM276 519l-8 3 0-6zM272 506l-8 3 0-6zM265 491l-8 4 0-6zM259 474l-7 6-2-6zM251 456l-3 8-4-3zM241 443l4 7-6 1zM237 434l7 5-5 3zM234 426l8-1-2 6zM224 415l8-3 0 6zM215 403l8-3 0 6zM216 390l8-3 0 6zM224 377l8-3 0 6zM232 364l8-3 0 6zM235 351l7-3 0 5zM237 338l5-2 0 4zM240 327l1-3 2 2zM242 314l-1-2 2 0zM242 300l-1-2 2 1zM241 284l2 1-2 1zM241 270l2 3-2 0zM242 256l2 4-3 0zM242 243l2 4-3 0zM242 229l2 5-4 0zM242 215l2 6-4 0zM243 202l1 6-4 0zM287 532l-8 3 0-6zM288 519l-8 3 0-6zM284 506l-8 3 0-6zM276 492l-8 4 0-6zM269 477l-7 5-1-6zM264 461l-5 7-3-5zM259 447l-1 9-6-3zM255 437l2 5-4 0zM250 427l6 0-2 4zM241 415l8-3 0 6zM234 403l8-3 0 6zM235 390l8-3 0 6zM242 377l8-3 0 6zM246 364l8-3 0 6zM248 351l7-3 0 5zM249 338l6-2 0 4zM251 325l4-2 0 3zM253 312l2-1 0 2zM253 298l2 0 0 2zM253 284l3 1-2 2zM254 270l2 2-2 1zM254 256l2 4-2 0zM255 243l2 4-4 0zM255 229l2 5-4 0zM303 532l-8 3 0-6zM304 519l-8 3 0-6zM300 506l-8 3 0-6zM293 493l-8 3 0-6zM285 479l-7 4-1-6zM279 465l-7 5-1-6zM275 452l-6 5-2-5zM269 440l0 2-2-1zM260 428l8-2 0 6zM250 415l8-3 0 6zM243 403l8-3 0 6zM245 390l8-3 0 6zM252 377l8-3 0 6zM257 364l8-3 0 6zM260 351l8-3 0 6zM262 338l6-2 0 4zM264 325l4-2 0 3zM265 312l3-1 0 2zM265 298l3 0 0 2zM266 284l3 1-2 2zM266 270l3 2-2 2zM267 257l2 2-2 1zM318 532l-8 3 0-6zM318 519l-8 3 0-6zM316 506l-8 3 0-6zM311 493l-8 3 0-6zM305 480l-8 3 0-6zM298 467l-8 3 0-6zM291 454l-8 3 0-6zM267 428l8-3 0 6zM256 416l8-3 0 6zM250 403l8-3 0 6zM252 390l8-3 0 6zM259 377l8-3 0 6zM268 364l8-3 0 6zM273 351l8-3 0 6zM275 338l6-2 0 4zM277 325l4-2 0 3zM278 312l3-1 0 2zM278 298l3 0 0 2zM332 532l-8 3 0-6zM331 519l-8 3 0-6zM329 506l-8 3 0-6zM326 493l-8 3 0-6zM322 480l-8 3 0-6zM315 467l-8 3 0-6zM307 454l-8 3 0-6zM295 441l-1 2 0-3zM278 428l8-2 0 6zM265 416l8-3 0 6zM260 403l8-3 0 6zM261 390l8-3 0 6zM269 377l8-3 0 6zM279 364l8-3 0 6zM286 351l8-3 0 6zM289 338l5-2 0 4zM290 325l4-2 0 3zM290 312l4-2 0 3zM344 532l-8 3 0-6zM344 519l-8 3 0-6zM342 506l-8 3 0-6zM339 493l-8 3 0-6zM335 480l-8 3 0-6zM328 467l-8 3 0-6zM321 454l-8 3 0-6zM313 441l-6 3 0-5zM299 429l8-3 0 5zM282 416l8-3 0 6zM274 403l8-3 0 6zM275 390l8-3 0 6zM283 377l8-3 0 6zM293 364l8-3 0 6zM299 351l8-3 0 6zM301 338l6-2 0 4zM302 325l5-2 0 3zM355 532l-8 3 0-6zM356 519l-8 3 0-6zM354 506l-8 3 0-6zM350 493l-8 3 0-6zM343 480l-8 3 0-6zM337 467l-8 3 0-6zM332 454l-8 3 0-6zM328 442l-8 3 0-6zM319 429l1-2 0 3zM304 416l8-3 0 6zM294 403l8-3 0 6zM295 390l8-3 0 6zM302 377l8-3 0 6zM309 364l8-3 0 6zM312 351l8-3 0 6zM314 338l6-2 0 4zM315 325l5-2 0 4zM365 532l-8 3 0-6zM367 519l-8 3 0-6zM365 506l-8 3 0-6zM359 493l-8 3 0-6zM352 480l-8 3 0-6zM348 467l-8 3 0-6zM345 454l-8 3 0-6zM340 442l-7 2 0-5zM329 429l4-2 0 3zM318 416l8-3 0 6zM312 403l8-3 0 6zM314 390l8-3 0 6zM319 377l8-3 0 6zM324 364l8-3 0 6zM326 351l7-3 0 5zM326 338l7-3 0 5zM327 325l6-2 0 4zM329 312l4-2 0 3zM330 299l3-1 0 2zM381 532l-8 3 0-6zM383 519l-8 3 0-6zM381 506l-8 3 0-6zM376 493l-8 3 0-6zM369 480l-8 3 0-6zM363 467l-8 3 0-6zM358 454l-8 3 0-6zM350 442l-4 1 0-3zM336 429l8-3 0 6zM326 416l8-3 0 6zM321 403l8-3 0 6zM323 390l8-3 0 6zM330 377l8-3 0 6zM335 364l8-3 0 6zM338 351l8-3 0 6zM339 338l7-3 0 5zM340 325l6-2 0 4zM341 308l6 2-2 4zM343 285l4 7-5 2zM343 268l4 8-6 1zM396 532l-8 3 0-6zM397 519l-8 3 0-6zM396 506l-8 3 0-6zM392 493l-8 3 0-6zM387 480l-8 3 0-6zM380 467l-8 3 0-6zM373 454l-8 3 0-6zM360 442l-1 1 0-3zM343 429l8-3 0 6zM333 416l8-3 0 6zM329 403l8-3 0 6zM330 390l8-3 0 6zM336 377l8-3 0 6zM344 364l8-3 0 6zM350 351l8-3 0 6zM352 338l7-3 0 5zM353 323l7 0-2 4zM355 300l5 6-6 2zM354 278l5 7-6 2zM355 262l4 8-6 1zM356 247l4 8-6 0zM410 532l-8 3 0-6zM410 519l-8 3 0-6zM409 506l-8 3 0-6zM407 493l-8 3 0-6zM403 480l-8 3 0-6zM397 467l-8 3 0-6zM388 454l-8 3 0-6zM375 442l-3 1 0-3zM356 429l8-3 0 6zM344 416l8-3 0 6zM339 403l8-3 0 6zM340 390l8-3 0 6zM345 377l8-3 0 6zM367 261l5 7-6 1zM369 246l4 7-6 1zM370 230l4 7-6 1zM371 215l4 7-6 1zM373 201l2 8-6 0zM374 187l3 8-6-1zM422 532l-8 3 0-6zM423 519l-8 3 0-6zM422 506l-8 3 0-6zM420 493l-8 3 0-6zM416 480l-8 3 0-6zM408 467l-8 3 0-6zM400 454l-8 3 0-6zM392 442l-7 2 0-5zM378 429l7-3 0 5zM361 416l8-3 0 6zM353 403l8-3 0 6zM354 390l8-3 0 6zM379 261l5 7-6 1zM381 245l4 8-6 1zM383 229l3 8-6 0zM384 215l3 7-6 1zM385 201l3 8-6 0zM387 187l3 8-6-1zM388 173l2 9-6-1zM389 160l2 9-6-1zM390 147l2 9-6-1zM391 134l1 9-5-1zM392 122l1 8-6-1zM394 110l1 8-6-1zM398 99l0 8-6-2zM433 532l-8 3 0-6zM435 519l-8 3 0-6zM433 506l-8 3 0-6zM430 493l-8 3 0-6zM423 480l-8 3 0-6zM415 467l-8 3 0-6zM411 454l-8 3 0-6zM409 442l-8 3 0-6zM400 429l-2 1 0-2zM382 417l8-3 0 5zM371 406l8-4 0 6zM371 393l8-4 1 6zM378 379l7-4 1 6zM390 276l5 7-5 2zM391 262l5 7-6 1zM393 246l5 7-6 1zM395 230l4 8-6 0zM397 216l3 8-6 0zM398 203l3 8-6 0zM400 189l2 8-6 0zM401 176l2 8-6-1zM402 162l2 9-6-1zM403 149l2 8-6-1zM404 135l1 9-6-1zM405 122l1 9-6-1zM408 110l1 8-6-2zM413 97l0 9-6-3zM416 85l-1 8-5-3zM443 532l-8 3 0-6zM446 519l-8 3 0-6zM444 506l-8 3 0-6zM437 493l-8 3 0-6zM430 480l-8 3 0-6zM425 467l-8 3 0-6zM423 454l-8 3 0-6zM421 442l-8 3 0-6zM414 430l-4 0 1-3zM398 420l6-5 2 5zM387 410l7-5 2 5zM386 397l7-5 2 5zM390 383l7-5 2 5zM400 294l6 6-5 3zM401 278l6 6-5 3zM402 264l6 6-6 2zM405 249l5 7-6 1zM407 234l4 8-6 0zM409 221l3 8-6 0zM410 209l3 8-6 0zM412 195l3 8-6 0zM413 181l2 8-6 0zM414 167l2 9-6-1zM415 153l2 9-6-1zM417 138l1 9-6-1zM418 125l2 8-6-1zM423 111l0 9-6-2zM428 98l-1 8-5-3zM431 85l-2 8-5-3zM459 532l-8 3 0-6zM460 519l-8 3 0-6zM459 506l-8 3 0-6zM453 493l-8 3 0-6zM445 480l-8 3 0-6zM439 467l-8 3 0-6zM437 455l-9 3 1-6zM434 442l-9 3 1-6zM425 431l-2-2 2-1zM409 422l7-6 2 5zM401 411l6-5 2 5zM399 399l6-6 3 6zM400 386l7-6 2 6zM403 372l6-6 2 6zM404 358l7-6 2 6zM405 342l7-5 2 6zM408 323l8-2 0 6zM411 301l8 3-4 5zM412 284l7 5-4 3zM413 270l7 5-5 3zM416 256l6 6-5 2zM419 243l5 6-6 2zM420 231l5 7-6 1zM421 219l5 7-6 1zM423 205l4 7-6 1zM425 190l2 8-6 0zM426 176l2 8-6 0zM427 161l2 9-6-1zM429 145l1 8-6-1zM432 130l0 8-5-1zM437 115l0 8-6-2zM443 100l-2 8-5-3zM446 87l-2 8-5-4zM474 532l-8 3 0-6zM475 519l-8 3 0-6zM473 506l-8 3 0-6zM470 493l-8 3 0-6zM464 480l-8 3 0-6zM457 467l-8 3 0-6zM451 455l-8 3 0-6zM447 442l-9 3 1-6zM439 431l-3-2 2-1zM426 421l6-6 2 5zM417 411l6-6 2 6zM413 399l6-6 3 6zM413 387l6-6 2 6zM414 373l6-5 2 5zM415 359l7-6 2 6zM418 343l7-5 1 6zM421 326l7-4 1 6zM423 309l8-2-1 6zM424 293l8 0-2 6zM425 279l9 2-3 5zM428 265l8 3-4 5zM430 252l8 4-5 4zM432 239l7 5-5 3zM433 226l6 6-5 3zM435 212l5 8-6 1zM437 198l3 8-6 0zM438 184l2 8-6 0zM439 170l2 8-6-1zM441 154l1 9-6-2zM445 138l-1 8-5-2zM451 120l-1 9-5-3zM457 104l-2 8-5-4zM461 89l-3 8-5-3zM463 76l-4 8-4-4zM464 64l-4 8-4-5zM488 532l-8 3 0-6zM488 519l-8 3 0-6zM487 506l-8 3 0-6zM485 493l-8 3 0-6zM481 480l-8 3 0-6zM473 467l-8 3 0-6zM465 455l-8 3 0-6zM461 442l-8 3 0-6zM456 430l-7 1 1-5zM447 419l2-4 2 2zM437 409l6-7 3 6zM430 398l6-6 3 6zM427 386l6-5 3 5zM427 373l6-6 3 6zM428 358l7-5 2 5zM431 342l7-5 2 6zM434 326l8-3 0 6zM436 311l8-2 0 6zM437 297l8-2-1 6zM438 284l8-2-1 6zM440 270l8-1-1 6zM442 256l9 1-3 5zM444 243l7 2-3 4zM445 229l6 3-3 4zM447 216l5 4-4 2zM449 202l3 6-4 0zM451 188l1 7-5 0zM452 175l1 8-6-2zM454 160l-1 8-5-2zM458 143l-2 8-5-3zM465 125l-3 8-5-4zM470 108l-3 8-4-5zM473 92l-3 8-4-4zM475 79l-3 7-5-4zM476 66l-3 7-4-4zM500 532l-8 3 0-6zM501 519l-8 3 0-6zM500 506l-8 3 0-6zM498 493l-8 3 0-6zM494 480l-8 3 0-6zM486 467l-8 3 0-6zM478 454l-8 3 0-6zM475 441l-8 3 0-6zM473 428l-8 4 0-6zM468 416l-5 2 0-5zM461 405l1-3 2 1zM451 395l6-6 3 5zM444 384l6-6 2 6zM442 371l7-6 1 6zM443 356l7-5 1 6zM445 341l8-4 1 5zM448 326l7-4 1 6zM449 312l8-3 0 6zM450 298l8-2 0 6zM451 285l9-2-1 5zM453 271l8-1-1 5zM455 257l8 0-2 6zM456 244l8 1-2 4zM458 231l6 1-2 4zM460 217l4 3-3 2zM463 203l2 5-4 0zM464 190l1 6-4-1zM465 177l0 6-4-2zM467 162l-2 8-5-2zM471 145l-2 8-5-4zM478 127l-3 8-5-4zM482 110l-3 8-5-4zM484 96l-4 8-4-4zM486 82l-4 8-4-5zM488 68l-4 8-4-4zM489 55l-4 8-4-5zM511 532l-8 3 0-6zM512 519l-8 3 0-6zM511 506l-8 3 0-6zM508 493l-8 3 0-6zM501 480l-8 3 0-6zM492 467l-8 3 0-6zM488 454l-8 3 0-6zM488 441l-8 3 0-6zM487 428l-8 3 0-6zM486 415l-8 3 0-6zM482 402l-6 3 0-5zM472 391l3-3 1 3zM461 380l7-5 1 6zM457 367l8-4 1 6zM458 353l7-4 1 6zM460 339l8-3 0 5zM462 325l8-3 0 6zM463 312l8-3 0 6zM464 299l8-3 0 6zM465 285l8-2-1 6zM466 272l8-2-1 6zM467 258l9-1-1 6zM469 245l7-1-1 6zM471 232l5 0-1 4zM473 218l4 2-2 2zM476 204l1 4-3 0zM478 191l-1 5-3-2zM478 177l0 6-4-2zM479 163l-1 8-5-3zM484 146l-3 8-4-4zM490 128l-3 8-5-4zM492 113l-3 8-5-4zM492 99l-3 8-4-4zM494 85l-3 8-5-4zM497 70l-3 8-5-5zM500 56l-4 8-4-5zM502 43l-4 8-4-5zM519 532l-8 3 0-6zM521 519l-8 3 0-6zM518 506l-8 3 0-6zM512 493l-8 3 0-6zM504 481l-8 2 0-6zM499 468l-8 3 0-6zM498 455l-8 3 1-6zM499 441l-8 3 0-6zM500 428l-8 3 0-6zM500 414l-8 4 0-6zM497 401l-7 4-1-5zM488 389l1 0-1 2zM476 378l8-4 1 6zM472 365l8-4 0 6zM473 352l7-4 1 6zM475 338l8-3 0 6zM476 325l8-3 0 6zM477 312l8-3 0 6zM477 299l8-3 0 6zM478 286l8-3 0 6zM479 273l8-3 0 6zM480 260l8-3 0 6zM482 247l7-3 0 6zM483 234l6-2 0 4zM486 219l3 1-1 2zM489 205l1 3-3 0zM491 191l-1 5-3-2zM491 178l-1 5-3-2zM492 164l-1 6-4-2zM497 147l-3 8-5-4zM501 130l-3 8-5-4zM501 115l-3 8-5-3zM500 100l-2 9-5-4zM501 84l-2 9-5-3zM505 69l-2 8-5-4zM510 55l-3 8-4-4zM514 44l-4 7-4-4zM515 32l-4 8-4-5zM532 532l-8 3 0-6zM533 519l-8 3 0-6zM530 506l-8 3 0-6zM524 494l-8 2 0-6zM516 481l-8 3 1-6zM512 468l-8 3 0-6zM510 455l-8 3 0-6zM510 442l-8 3 1-6zM512 428l-8 4 0-6zM513 414l-8 4 0-6zM510 401l-7 4-2-5zM499 388l3 1-1 2zM489 377l8-3 0 6zM487 364l8-3 0 6zM487 351l8-3 0 6zM489 338l8-3 0 6zM490 325l8-3 0 6zM490 312l8-3 0 6zM490 299l8-3 0 6zM490 287l8-4 1 6zM491 274l8-4 1 6zM493 261l8-4 0 6zM494 248l7-4 1 6zM496 235l5-3 1 4zM498 220l4 0-1 2zM502 205l1 3-2 0zM504 191l-1 5-3-2zM504 178l-1 5-3-2zM504 165l-1 5-3-2zM507 149l-2 8-5-3zM511 131l-3 8-4-3zM508 116l-1 9-5-3zM505 99l1 9-6-1zM506 82l1 8-6-1zM512 66l0 9-5-3zM521 54l-3 8-5-4zM526 43l-4 8-4-4zM528 33l-5 7-3-4zM528 22l-5 7-4-5zM547 532l-8 3 0-6zM547 519l-8 3 0-6zM544 506l-8 3 0-6zM539 494l-8 3 0-6zM532 481l-8 3 0-6zM526 468l-8 3 1-6zM523 456l-8 2 1-6zM522 443l-8 1 1-5zM523 429l-8 3 1-6zM524 415l-8 4 0-6zM520 402l-5 3-1-5zM508 389l7-2-1 5zM502 376l8-2 0 6zM500 364l8-3 0 6zM501 351l8-3 0 6zM502 338l8-3 0 6zM503 325l8-3 0 6zM503 312l8-3 0 6zM503 300l8-4 1 6zM504 287l7-4 1 6zM505 274l7-4 1 6zM507 261l7-4 1 6zM508 248l6-4 1 5zM509 235l5-3 1 4zM512 220l3 0-1 2zM516 205l0 3-3 0zM517 191l-1 5-3-2zM517 178l-1 5-3-2zM516 165l0 5-3-2zM516 152l0 5-3-1zM517 135l1 8-6-2zM513 118l4 7-6 1zM508 100l6 7-6 2zM510 83l5 7-6 1zM520 67l1 9-6-2zM532 55l-2 8-5-3zM540 45l-5 8-3-5zM541 36l-5 6-3-5zM540 24l-5 7-3-5zM539 12l-5 7-3-5zM561 532l-8 3 0-6zM560 519l-8 3 0-6zM558 506l-8 3 0-6zM554 494l-9 3 1-6zM547 481l-8 3 0-6zM541 469l-9 2 1-6zM536 456l-8 2 1-6zM536 443l-9 1 2-5zM537 430l-8 2 0-6zM538 416l-8 3 0-6zM536 402l-8 4-1-6zM525 389l3-1-1 3zM516 376l8-2 0 6zM514 364l8-3 0 6zM514 351l8-3 0 6zM515 338l8-3 0 6zM517 325l8-3 0 6zM517 312l8-3 0 6zM518 300l7-4 1 6zM518 287l8-4 1 6zM519 274l8-4 1 6zM521 261l6-4 1 5zM522 248l5-3 1 4zM523 235l4-3 1 4zM526 219l2 1-1 2zM529 204l0 5-3-2zM530 191l-1 5-3-2zM530 178l-1 5-3-2zM529 165l0 5-3-1zM527 153l2 3-3 0zM524 139l5 3-3 3zM519 123l8 2-4 5zM512 107l9 2-4 5zM515 92l8 3-4 5zM529 78l2 8-6-1zM545 65l-5 7-3-4zM554 53l-6 6-2-6zM555 40l-6 6-2-5zM553 27l-6 6-2-5zM552 13l-6 7-3-6zM573 532l-8 3 0-6zM573 519l-8 3 0-6zM571 506l-8 3 0-6zM567 494l-8 3 0-6zM561 481l-8 3 0-6zM554 469l-8 2 1-6zM550 457l-8 1 1-6zM550 443l-9 2 2-6zM551 430l-8 2 1-6zM553 415l-8 4 0-6zM552 402l-8 3-1-6zM544 389l-3 2-1-3zM533 376l8-2-1 6zM528 364l8-3 0 6zM528 351l8-3 0 6zM529 338l8-3 0 6zM531 325l7-3 1 6zM531 312l8-3 0 6zM532 300l8-4 0 6zM533 287l7-4 1 6zM534 274l6-4 1 6zM535 261l5-3 1 4zM536 248l4-3 1 4zM537 235l3-3 1 4zM539 220l2 0-1 2zM542 204l0 5-3-2zM543 191l-1 5-3-2zM543 178l-1 5-3-2zM542 165l0 5-3-1zM539 154l3 2-2 1zM534 143l7-2-1 5zM526 131l7-3 1 6zM521 119l7-4 1 6zM525 107l8-4 1 6zM541 95l-2-4 3 0zM558 80l-9 2 1-6zM567 63l-7 4-1-6zM568 46l-7 5-1-6zM566 30l-6 5-3-5zM564 14l-5 7-3-6zM563 1l-5 6-3-5zM584 532l-8 3 0-6zM584 519l-8 3 0-6zM583 506l-8 3 0-6zM579 494l-8 3 0-6zM573 481l-8 3 1-6zM567 469l-9 2 1-6zM563 456l-8 2 1-6zM564 443l-8 2 1-6zM565 429l-8 3 1-6zM566 415l-8 3 0-6zM565 402l-7 3-1-6zM560 388l-6 4-1-5zM549 376l5-1-1 3zM543 364l8-3 0 6zM542 351l8-3 1 6zM543 338l8-3 0 6zM544 325l8-3 0 6zM545 312l7-3 1 6zM545 300l8-4 1 6zM546 287l7-4 1 6zM547 274l6-4 1 5zM548 261l5-3 1 4zM549 249l4-4 1 4zM550 235l3-2 1 2zM552 220l2 0-1 2zM555 203l0 6-3-1zM556 190l0 6-4-2zM556 177l0 6-4-2zM555 164l0 6-3-1zM553 153l2 3-3 0zM547 145l6-4 1 5zM541 135l7-6 2 6zM537 127l5-6 3 5zM541 120l3-8 5 3zM554 109l-3-8 6 0zM568 93l-8-4 5-4zM577 72l-9 1 2-6zM578 51l-8 4-1-6zM576 33l-7 5-2-6zM574 17l-6 6-2-5zM573 4l-6 6-3-5zM585 532l-8 3 0-6zM587 519l-8 3 0-6zM586 506l-8 3 0-6zM584 493l-8 3 0-6zM580 481l-8 3 0-6zM576 469l-8 2 1-6zM576 456l-9 2 1-6zM577 443l-8 2 0-6zM578 429l-8 3 0-6zM579 415l-8 3 0-6zM578 402l-8 3 0-6zM571 389l-4 2-1-3zM561 377l6-2 0 4zM557 364l8-3 1 6zM557 351l7-3 1 6zM557 338l8-3 0 6zM557 325l8-3 0 6zM558 312l8-3 0 6zM559 300l7-4 1 6zM559 287l7-4 1 6zM560 274l6-3 1 4zM562 261l4-3 1 4zM563 248l3-2 1 2zM564 234l3-1 0 2zM566 218l2 3-2 0zM568 202l1 7-5-2zM569 188l0 8-5-2zM569 175l0 8-5-2zM569 163l0 7-5-2zM567 152l1 4-3 0zM563 144l3-2 1 2zM559 136l5-7 3 5zM557 130l2-8 5 4zM560 123l0-8 5 2zM568 113l-4-8 6-1zM577 97l-7-6 5-3zM583 76l-9-2 4-5zM583 56l-8 1 1-5zM582 39l-8 3 0-6zM581 24l-8 4-1-6zM579 10l-7 5-1-6zM590 532l-8 3 0-6zM591 519l-8 3 0-6zM591 506l-8 3 0-6zM590 494l-8 2 0-6zM588 481l-8 2 0-6zM585 469l-6 1 1-5zM585 457l-6-1 1-4zM587 444l-8 0 1-5zM590 430l-9 2 1-6zM591 415l-8 4 0-6zM588 402l-7 4-1-6zM572 377l7-3 1 5zM570 365l8-4 1 6zM570 352l8-4 0 6zM571 338l7-3 1 6zM571 326l8-4 0 6zM572 313l7-4 1 6zM572 300l7-4 1 6zM574 287l5-3 1 4zM575 274l4-3 1 3zM578 260l2-1-1 2zM580 246l1 1-2 0zM581 232l-1 3-1-2zM582 216l-1 6-3-2zM582 201l0 8-5-2zM582 188l0 8-5-2zM582 175l0 8-5-2zM582 163l0 7-5-2zM581 152l0 5-3-1zM579 145l0-2 1 1zM577 137l0-8 5 2zM577 129l-1-9 6 2zM578 120l-2-9 6 1zM582 108l-4-7 6-1zM587 93l-6-6 5-3zM591 74l-8-2 3-5zM592 56l-9 1 2-6zM592 41l-9 2 1-6zM591 27l-8 2 0-6zM590 14l-8 3 0-6zM604 532l-8 3 0-6zM604 519l-8 3 0-6zM603 506l-8 3 0-6zM602 494l-8 2 1-6zM601 481l-9 2 1-6zM598 469l-6 1 1-5zM596 457l-4-1 2-3zM597 444l-5-1 2-3zM599 431l-7 0 1-5zM601 416l-8 3 0-6zM599 402l-6 3-1-5zM589 390l4-2 0 3zM585 378l7-4 1 6zM583 365l8-4 1 6zM584 352l7-4 1 6zM584 339l8-4 1 6zM585 326l7-4 1 6zM585 313l7-4 1 6zM586 300l6-4 1 5zM588 287l4-3 1 4zM590 273l2-1 1 2zM594 258l-1 3-1-2zM597 244l-3 5-3-4zM597 230l-3 6-3-4zM596 216l-1 6-4-2zM595 201l0 8-5-2zM595 188l0 8-5-2zM595 175l0 8-5-2zM595 164l0 6-4-2zM594 156l-1 1 0-2zM593 148l-2-5 3 0zM593 137l-3-7 5 0zM594 126l-4-8 6 0zM594 115l-4-8 6-1zM596 102l-5-7 5-1zM598 88l-7-6 6-3zM601 71l-8-2 3-5zM603 55l-8 1 1-6zM604 40l-8 3 0-6zM604 27l-8 3 0-6zM603 14l-8 3 0-6zM617 532l-8 3 0-6zM617 519l-8 3 0-6zM616 506l-8 3 0-6zM615 494l-8 2 1-6zM614 481l-9 2 1-6zM611 469l-6 1 1-5zM609 457l-5-1 3-3zM610 444l-6-1 3-3zM611 431l-6 0 1-5zM614 416l-8 3 0-6zM613 402l-7 3-1-5zM607 390l-2 1 1-2zM600 379l5-4 1 4zM598 366l7-5 2 5zM598 353l7-5 1 6zM598 339l7-4 1 6zM598 326l7-4 1 6zM599 313l6-4 1 5zM600 301l5-4 1 4zM601 287l4-3 1 4zM604 273l1-1 1 2zM608 258l-2 3-1-2zM611 244l-4 5-3-4zM611 230l-4 6-3-4zM610 216l-2 7-4-4zM608 201l0 8-5-2zM608 188l0 8-5-2zM607 176l1 7-5-2zM607 167l0 3-2-1zM607 160l-3-3 3-1zM607 150l-4-6 5-1zM607 137l-4-6 5-1zM608 124l-5-6 5-2zM608 112l-5-6 5-3zM609 99l-6-6 6-2zM610 85l-7-5 5-3zM613 69l-8-1 3-5zM616 54l-9 2 1-6zM616 40l-8 3 1-6zM616 27l-8 3 1-6zM616 14l-8 3 0-6zM630 532l-8 3 0-6zM630 519l-8 3 0-6zM629 506l-8 3 0-6zM628 494l-8 2 0-6zM627 481l-9 2 1-6zM624 469l-6 1 1-5zM623 457l-6-1 3-3zM624 444l-7-1 3-3zM626 430l-8 1 1-5zM627 415l-8 4 0-6zM627 401l-7 4-1-5zM623 389l-4 2-1-3zM616 379l1-3 3 2zM613 368l4-6 3 4zM612 354l5-6 3 5zM611 340l7-5 1 5zM611 327l7-5 1 5zM612 313l6-4 1 5zM613 300l5-3 1 4zM615 287l3-3 1 3zM617 273l2-1-1 2zM622 258l-3 3-1-2zM624 243l-4 6-3-4zM624 230l-4 6-3-4zM623 215l-2 8-5-3zM621 201l0 8-5-2zM620 188l1 8-5-2zM620 176l1 7-5-1zM620 168l-1 2-1-2zM620 161l-3-4 3-1zM620 150l-4-6 5-1zM620 137l-4-6 5-1zM621 124l-5-6 5-2zM621 111l-5-6 5-2zM622 98l-6-5 5-3zM623 84l-7-4 5-3zM625 69l-8-1 3-5zM628 55l-9 1 2-6zM629 41l-9 2 1-6zM628 28l-8 2 1-6zM628 15l-9 2 1-6zM642 532l-8 3 0-6zM642 519l-8 3 0-6zM642 506l-8 3 0-6zM641 494l-8 2 0-6zM639 481l-8 2 1-5zM637 470l-6 0 1-5zM637 457l-7-1 3-3zM638 444l-7 0 1-5zM639 430l-8 1 1-5zM640 415l-8 4 0-6zM640 401l-7 4-1-5zM636 389l-4 2-1-3zM629 380l1-4 3 1zM626 368l4-6 3 4zM625 355l5-7 3 5zM625 341l5-6 3 5zM625 327l6-4 1 4zM627 313l4-3 1 4zM629 300l2-2 1 2zM630 286l1-1 1 2zM633 272l-1 2-1-2zM635 257l-2 4-3-3zM637 243l-4 6-3-4zM637 229l-4 7-3-4zM635 215l-1 7-5-2zM633 201l1 8-5-2zM633 188l1 8-5-1zM633 176l1 7-5-1zM633 169l-1 1-1-2zM633 161l-3-4 3-1zM633 150l-4-6 5-1zM633 137l-4-6 5-1zM633 124l-4-6 5-1zM633 111l-4-6 5-1zM634 98l-5-6 5-1zM635 85l-6-5 5-3zM638 70l-8-2 3-5zM640 56l-8 0 2-6zM641 42l-9 1 2-6zM641 29l-9 1 2-6zM640 16l-9 1 2-6zM651 532l-7 3 0-5zM652 519l-8 3 0-5zM652 506l-8 3 0-5zM652 493l-8 3 0-5zM650 481l-6 2 1-5zM649 470l-5-1 1-3zM649 457l-6-1 3-3zM651 444l-7 0 1-5zM652 430l-8 1 1-5zM653 415l-7 4-1-6zM653 401l-7 4-1-5zM649 390l-5 1 1-3zM642 380l1-4 3 1zM639 368l4-6 3 4zM639 355l4-6 3 4zM639 341l4-5 3 4zM639 327l5-4 1 4zM641 313l3-2 1 2zM644 300l0-2 1 1zM646 286l-1 1-1-2zM648 272l-3 2-1-2zM649 257l-3 5-3-4zM650 242l-4 7-3-4zM650 229l-4 7-3-4zM648 215l-1 7-5-2zM647 202l0 7-5-2zM646 189l1 7-5-2zM646 177l0 6-4-1zM646 169l-1 1-1-2zM646 161l-3-4 3-1zM646 150l-4-6 5-1zM645 137l-3-6 5-1zM645 124l-3-6 5-1zM645 112l-3-8 5 0zM645 99l-3-7 5-1zM647 85l-5-6 5-2zM650 70l-7-2 3-5zM653 56l-9 0 3-6zM653 43l-8 0 2-6zM653 30l-8 0 2-6zM653 17l-9 0 2-6zM662 532l-5 2 0-3zM662 519l-5 2 0-4zM662 506l-5 2 0-3zM662 494l-5 1 1-3zM661 481l-4 1 1-3zM660 469l-3-1 1-1zM660 457l-3-2 1-1zM661 444l-5-1 2-3zM664 430l-7 1 1-5zM666 415l-8 4 0-6zM665 402l-7 3-1-5zM660 391l-3 0 1-2zM654 382l2-7 3 3zM652 370l3-8 5 4zM652 356l4-7 3 4zM652 341l4-5 3 4zM653 327l4-4 1 4zM655 313l2-2 1 2zM660 286l-2 1-1-2zM661 271l-3 3-1-2zM662 257l-3 5-3-4zM663 242l-4 7-3-4zM663 229l-4 7-3-4zM662 217l-3 6-3-4zM661 204l-2 5-3-2zM660 191l-1 5-3-2zM660 179l-1 4-3-2zM660 169l-2 1-1-2zM659 160l-3-3 3-1zM658 150l-3-6 5-1zM658 137l-3-7 5 0zM658 124l-3-7 5 0zM658 112l-3-8 5 0zM658 99l-3-8 5 0zM659 85l-4-6 5-1zM662 71l-7-4 5-3zM664 57l-8-2 3-5zM665 44l-8-2 3-5zM665 30l-8 0 3-6zM665 17l-9-1 3-5zM675 532l-5 2 0-3zM675 519l-5 2 0-3zM675 506l-5 2 0-3zM675 494l-5 1 1-3zM674 481l-4 1 1-3zM673 469l-3-1 1-1zM672 457l-3-2 2-1zM672 444l-3-2 3-1zM673 431l-3-1 1-3zM675 416l-5 1 0-3zM675 402l-4 2-1-3zM670 393l-1-4 3 1zM666 383l2-8 5 3zM665 371l2-8 5 3zM665 357l3-8 5 4zM666 342l3-6 3 4zM666 328l3-5 2 3zM668 314l2-3 1 2zM673 286l-2 1-1-2zM674 271l-3 3-1-3zM675 257l-3 5-3-4zM676 243l-4 6-3-4zM676 230l-4 6-3-4zM675 218l-4 5-2-4zM674 207l-3 2-1-2zM674 194l-3 2-1-2zM674 181l-3 2-1-2zM674 169l-4 1 0-2zM672 160l-3-3 3-2zM671 149l-3-6 4 0zM671 136l-3-6 5 0zM671 124l-3-7 5 0zM670 111l-2-7 5 0zM671 99l-3-8 5 0zM672 85l-4-6 5-1zM674 72l-6-5 5-3zM676 58l-8-4 5-4zM676 45l-8-3 5-5zM676 32l-7-3 3-5zM676 18l-7-2 3-5zM688 532l-5 2 0-3zM688 519l-5 2 0-3zM688 506l-5 2 0-3zM688 494l-5 1 0-3zM687 481l-4 1 1-3zM686 469l-3-1 1-1zM685 457l-3-2 2-1zM685 445l-3-3 3-1zM685 431l-2-2 1-1zM686 415l-3 2 0-3zM686 401l-2 3-1-2zM683 391l-1-2 2 1zM680 383l1-8 5 3zM679 371l1-8 6 3zM679 358l2-8 5 3zM679 343l2-7 4 3zM680 329l2-6 3 3zM681 315l1-4 2 2zM683 300l-1-1 2 0zM686 286l-3 1 0-2zM688 272l-4 2-1-3zM689 258l-5 4-1-4zM689 245l-5 4-1-4zM689 232l-5 4-1-4zM688 220l-4 3-1-4zM687 208l-3 2-1-3zM687 195l-4 2 0-3zM687 182l-4 2 0-3zM687 170l-4 0 1-2zM685 159l-3-2 2-2zM684 148l-2-5 3 0zM684 136l-3-6 5 0zM683 123l-2-6 5 0zM683 111l-2-7 5 0zM684 98l-3-6 5-1zM686 85l-5-6 5-1zM687 72l-6-5 5-3zM688 59l-7-5 5-3zM688 46l-7-5 5-3zM688 32l-7-4 5-3zM687 19l-5-4 3-3zM701 532l-5 2 0-3zM701 519l-5 2 0-3zM701 506l-5 2 0-3zM701 494l-5 1 0-3zM700 481l-4 1 1-3zM699 469l-3-1 1-1zM698 457l-3-2 2-1zM698 445l-3-3 3-1zM699 431l-3-2 1-1zM700 415l-3 2-1-3zM700 400l-2 4-3-3zM698 388l-1 2-1-1zM695 380l0-4 3 1zM693 370l1-8 5 3zM693 357l1-8 5 3zM693 343l1-6 5 2zM694 329l1-5 3 2zM694 316l1-5 3 2zM696 302l-1-3 3 0zM699 287l-3 0 1-2zM701 273l-4 2-1-4zM702 260l-5 2-1-4zM702 247l-6 2 0-4zM702 234l-6 2 0-4zM702 221l-6 2 1-4zM701 209l-5 1 1-4zM701 196l-5 1 1-4zM700 183l-4 1 1-3zM700 171l-4-1 1-2zM698 159l-3-2 3-1zM697 148l-2-4 3-1zM697 135l-3-5 4 0zM697 123l-3-6 5 0zM697 110l-3-6 5 0zM697 97l-3-5 5-1zM699 85l-5-6 5-2zM700 72l-6-5 5-3zM700 59l-6-5 5-3zM700 46l-6-5 5-3zM700 33l-6-5 5-3zM699 19l-4-4 3-3zM714 532l-5 2 0-3zM714 519l-5 2 0-3zM714 506l-5 2 0-3zM714 494l-5 1 0-3zM713 481l-4 1 1-3zM712 470l-3-2 1-1zM711 458l-3-3 3-1zM712 445l-4-3 3-1zM712 430l-3 0 1-3zM713 415l-3 2-1-3zM713 399l-2 5-3-3zM711 386l0 4-3-1zM709 378l-1-2 2 1zM707 369l1-6 3 2zM706 356l1-6 5 2zM707 343l0-6 4 2zM707 330l1-6 3 1zM708 316l0-5 3 1zM708 303l0-5 3 1zM711 288l-2-1 1-2zM715 273l-6 2 1-4zM715 260l-6 2 1-4zM715 248l-6 1 1-4zM715 235l-6 1 1-4zM715 223l-6 0 1-4zM715 210l-6 0 1-4zM713 172l-5-2 2-2zM711 160l-3-3 3-2zM711 147l-3-3 3-1zM710 135l-2-4 3-1zM710 122l-3-5 4 0zM710 110l-3-6 4 0zM710 97l-3-6 4 0zM711 84l-4-5 5-1zM713 72l-6-5 5-3zM713 59l-6-5 5-3zM713 46l-6-5 5-3zM713 32l-6-4 4-3zM712 17l-4-3 3-1zM726 532l-4 2 0-3zM726 519l-4 2 0-3zM726 506l-4 2 0-3zM726 493l-4 2 0-3zM726 481l-4 1 1-3zM725 470l-4-2 2-1zM725 458l-4-3 3-1zM725 445l-4-3 3-1zM725 430l-3 0 1-3zM725 414l-2 3-1-2zM725 398l-1 6-3-2zM724 386l0 4-3-1zM721 378l1-2 1 1zM720 368l1-5 3 2zM720 356l0-6 4 2zM720 343l1-6 3 2zM721 329l0-5 3 1zM721 316l0-5 3 1zM721 303l0-5 3 1zM724 288l-2-1 1-2zM728 274l-6 1 1-4zM728 261l-6 1 1-4zM729 249l-7 0 1-4zM729 236l-8 0 2-4zM729 224l-8-1 2-4zM729 211l-8-1 3-4zM729 199l-8-2 3-4zM728 186l-7-2 3-4zM726 172l-5-1 3-3zM725 160l-4-3 3-2zM724 147l-3-3 3-1zM724 134l-3-3 3-1zM723 122l-2-4 3-1zM723 109l-2-5 3 0zM723 96l-2-5 3 0zM724 83l-3-4 3-1zM725 70l-5-4 4-2zM725 58l-5-4 4-3zM725 44l-5-3 4-3zM725 30l-4-3 3-1zM739 532l-4 2 0-3zM739 519l-4 2 0-3zM739 506l-4 2 0-3zM739 493l-4 2 0-3zM739 480l-4 2 0-3zM738 469l-3-1 1-1zM737 458l-3-3 3-1zM738 443l-3-1 1-1zM737 427l-1 2-1-1zM737 411l0 5-3-1zM737 397l0 6-4-1zM735 386l2 4-3 0zM734 377l1-1 1 2zM733 368l1-5 3 2zM733 356l1-6 3 2zM733 343l1-6 3 2zM733 329l1-5 3 1zM734 316l0-5 3 1zM734 303l0-5 3 1zM738 288l-3-1 1-2zM741 274l-6 1 1-4zM742 262l-7 0 1-4zM742 250l-8-1 2-4zM742 237l-8-1 3-4zM742 225l-8-1 3-5zM742 212l-8-1 3-5zM742 199l-8-1 3-5zM742 186l-8-2 3-4zM740 173l-6-2 3-4zM738 160l-4-3 3-2zM737 147l-3-3 3-2zM737 134l-3-3 3-1zM737 121l-3-3 3-1zM736 108l-2-3 3-1zM736 95l-2-4 3 0zM737 67l-3-1 2-1zM737 55l-3-2 2-1zM737 42l-3-2 2-1zM752 532l-4 2 0-3zM752 519l-4 2 0-3zM752 506l-4 2 0-3zM752 493l-4 2 0-3zM752 480l-4 2 0-3zM750 467l-2 1 0-2zM750 455l-2 0 1-2zM749 439l0 3-2-1zM749 423l1 6-4-1zM749 408l2 8-5-1zM749 395l2 8-5 0zM748 384l2 5-4 1zM747 376l2 0-1 2zM746 367l1-4 3 2zM746 355l1-5 3 2zM746 342l1-5 3 2zM746 329l1-5 3 2zM747 315l0-4 3 1zM747 301l0-3 2 1zM750 287l-2 0 1-2zM754 275l-6 0 1-4zM755 263l-8-1 2-4zM755 250l-8-1 3-4zM755 238l-8-2 3-4zM755 225l-8-1 3-5zM755 212l-8-1 3-5zM755 199l-8-1 3-5zM755 186l-8-2 3-4zM753 173l-6-2 3-4zM751 159l-4-2 3-2zM750 146l-3-2 3-2zM750 133l-3-2 3-1zM765 532l-4 2 0-3zM765 519l-4 2 0-3zM765 506l-4 2 0-3zM765 493l-4 2 0-3zM764 480l-3 1 0-2zM763 467l-2 1 0-2zM761 452l1 2-2 0zM762 436l1 6-4-1zM761 421l3 8-6-1zM761 407l3 8-6 0zM761 394l3 8-6 0zM761 383l3 6-5 1zM760 375l2 1-2 1zM759 366l1-3 2 2zM759 355l1-5 3 2zM759 342l1-5 3 2zM760 328l0-4 3 1zM761 313l-1-2 2 1zM765 275l-5-1 2-3zM767 263l-7-1 2-4zM768 250l-8-1 3-4zM768 238l-8-2 3-4zM768 225l-8-2 3-4zM768 212l-8-2 3-4zM768 199l-8-2 3-4zM768 186l-8-2 3-4zM766 172l-6-1 3-4zM764 159l-4-2 2-2zM763 146l-3-2 2-1zM763 133l-3-2 2-1z" fill="#fff"/><polygon points="181,5 181,15.4 183.9,25.5 187.8,35.2 190.7,58.4 196.5,79.7 199.4,103 208.1,122.3 212,134 224.6,153.3 231.3,168.8 235.2,184.3 241,203.7 250.7,221.1 258.5,232.7 264.3,248.2 270.1,261.8 276.9,277.3 279.8,290.8 289.5,304.4 299.1,316 305,321.8 314.6,319.9 320,315 322.7,310.5 325.4,302.4 333.6,296.1 347.1,293.3 357.1,294.2 356.2,292.4 349.8,292 344.4,288.8 344.4,283.4 351.6,272.5 352.5,268 358,264.4 367.5,262.6 367.9,240 370.8,219.2 374.7,195.9 375.6,174.6 374.7,145.6 377.6,130.1 385.3,122.3 399.9,112.7 417.3,106.8 420,108.3 431.3,100.4 432.4,91.3 447.1,82.3 465.2,68.7 481,55.2 494.6,39.4 505.9,28.1 517.2,21.3 537.5,15.6 540,5" fill="#bebebe" stroke="#000" stroke-width="1.8" stroke-linejoin="round"/><polygon points="368.8,280.7 374.2,278 380.6,279.8 382.4,285.2 388.7,288.8 395,296.1 401.4,305.1 407.7,314.1 414,326.8 419.5,339.5 420.4,351.2 417.6,363 410.4,369.3 396.9,375.6 385.1,377.4 377.9,373.8 371.5,364.8 367.9,348.5 365.2,330.4 366.1,316.9 369.3,303.3 371.5,296.1 374.2,287.9 372.4,284.3" fill="#bebebe" stroke="#000" stroke-width="1.8" stroke-linejoin="round"/><polygon points="728,5 728,15 728.2,20.7 734.6,27.8 737.4,34.9 738.1,44.1 742.4,46.9 746.6,59.7 750.2,72.5 750.2,81 746.6,91.7 743.1,102.3 741,116.5 745.2,121.5 750,124 753,112 754.5,105.9 756.6,116.5 760.9,113 761.6,123.6 775,123.6 775,5" fill="#bebebe" stroke="#000" stroke-width="1.8" stroke-linejoin="round"/><polygon points="709,182 713,183 712,195 709,207 708.5,215 705,228 701.5,239 698,238 699,226 702.5,212 703,200 706,190" fill="#bebebe" stroke="#000" stroke-width="1.8" stroke-linejoin="round"/><polygon points="722.5,28 727,24.5 733,27 735.5,33 736,41 731,41.5 726,35 722,31" fill="#bebebe" stroke="#000" stroke-width="1.8" stroke-linejoin="round"/><polygon points="722,44 727.5,43 729,47 726,50 723,48" fill="#bebebe" stroke="#000" stroke-width="1.8" stroke-linejoin="round"/><polygon points="706,12 720,12 719,18 712,20 707,17.5" fill="#bebebe" stroke="#000" stroke-width="1.8" stroke-linejoin="round"/><ellipse cx="695.3" cy="255.3" rx="3.5" ry="5.5" fill="#bebebe" stroke="#000" stroke-width="1.8" stroke-linejoin="round"/><ellipse cx="703.5" cy="294" rx="2" ry="2" fill="#bebebe" stroke="#000" stroke-width="1.8" stroke-linejoin="round"/><ellipse cx="712.2" cy="318" rx="2.5" ry="2.5" fill="#bebebe" stroke="#000" stroke-width="1.8" stroke-linejoin="round"/><ellipse cx="720.9" cy="323" rx="3" ry="3.5" fill="#bebebe" stroke="#000" stroke-width="1.8" stroke-linejoin="round"/><ellipse cx="730.5" cy="351" rx="3" ry="6.5" fill="#bebebe" stroke="#000" stroke-width="1.8" stroke-linejoin="round"/><ellipse cx="177" cy="236" rx="1.5" ry="1.5" fill="#bebebe" stroke="#000" stroke-width="1.8" stroke-linejoin="round"/><ellipse cx="189.5" cy="313" rx="1.5" ry="1.5" fill="#bebebe" stroke="#000" stroke-width="1.8" stroke-linejoin="round"/><ellipse cx="511" cy="21" rx="4.5" ry="3.2" fill="#bebebe" stroke="#000" stroke-width="1.8" stroke-linejoin="round"/>
</g>
<text x="208" y="52.9" font-size="32" font-weight="bold">Apr.</text><rect x="309" y="26.8" width="50.2" height="20.3" fill="#00008b"/><rect x="309" y="59.3" width="50.2" height="20.3" fill="#8b0000"/><text x="381" y="45.3" font-size="22" font-weight="bold">BBW</text><text x="381" y="77.4" font-size="22" font-weight="bold">ASW</text><text x="260.3" y="123.2" font-size="31" font-weight="bold" fill="#fff">0.2 m/s</text><path d="M294.3 134H314" stroke="#fff" stroke-width="1.6"/><path d="M319.5 134L312.5 131.2V136.8Z" fill="#fff"/>
<rect x="112.3" y="13.5" width="649" height="518.8" fill="none" stroke="#000" stroke-width="2.6"/>
<text x="112.3" y="572.6" font-size="26.5" text-anchor="middle">70°E</text>
<text x="242.1" y="572.6" font-size="26.5" text-anchor="middle">75°E</text>
<text x="371.9" y="572.6" font-size="26.5" text-anchor="middle">80°E</text>
<text x="501.7" y="572.6" font-size="26.5" text-anchor="middle">85°E</text>
<text x="631.5" y="572.6" font-size="26.5" text-anchor="middle">90°E</text>
<text x="761.3" y="572.6" font-size="26.5" text-anchor="middle">95°E</text>
<text x="91" y="542" font-size="26.5" text-anchor="end">0°</text>
<text x="91" y="412.3" font-size="26.5" text-anchor="end">5°N</text>
<text x="91" y="282.6" font-size="26.5" text-anchor="end">10°N</text>
<text x="91" y="152.9" font-size="26.5" text-anchor="end">15°N</text>
<text x="91" y="23.2" font-size="26.5" text-anchor="end">20°N</text>
<path d="M112.3 532.3V545.3M242.1 532.3V545.3M371.9 532.3V545.3M501.7 532.3V545.3M631.5 532.3V545.3M761.3 532.3V545.3M112.3 532.3H98.8M112.3 402.6H98.8M112.3 272.9H98.8M112.3 143.2H98.8M112.3 13.5H98.8" stroke="#000" stroke-width="2.6" fill="none"/>
<text x="436.8" y="602.6" font-size="27.2" text-anchor="middle">Longitude</text>
<text transform="translate(23.2,272.9) rotate(-90)" font-size="27.2" text-anchor="middle">Latitude</text>
<polyline points="961,13.2 955.5,18.4 950.1,23.6 944.6,28.8 939.2,34 939.2,34" fill="none" stroke="#000" stroke-width="1.1"/><polyline points="911.6,60.7 906.3,65.9 901,71.1 898.4,73.7" fill="none" stroke="#000" stroke-width="1.1"/><text transform="translate(925.8,47.8) rotate(-44.1)" font-size="25" text-anchor="middle" dy="8.5">14</text><polyline points="1148,13.2 1142.6,18.4 1137.1,23.6 1131.7,28.8 1126.4,34 1121,39.2 1115.6,44.3 1110.3,49.5 1105,54.7 1099.7,59.9 1096.8,62.8" fill="none" stroke="#000" stroke-width="1.1"/><polyline points="1069.5,89.8 1064.4,95 1059.2,100.1 1054.1,105.3 1048.9,110.5 1043.8,115.7 1038.7,120.9 1033.6,126.1 1028.6,131.3 1023.5,136.5 1018.5,141.7 1013.5,146.9 1008.5,152.1 1003.5,157.3 998.5,162.4 993.6,167.6 988.7,172.8 983.8,178 978.9,183.2 974,188.4 969.2,193.6 964.3,198.8 959.5,204 954.7,209.2 949.9,214.4 945.1,219.5 940.4,224.7 935.6,229.9 930.9,235.1 926.2,240.3 921.5,245.5 916.9,250.7 912.2,255.9 907.6,261.1 903,266.3 898.4,271.5 898.4,271.5" fill="none" stroke="#000" stroke-width="1.1"/><text transform="translate(1083.5,76.4) rotate(-44.8)" font-size="25" text-anchor="middle" dy="8.5">16</text><polyline points="1334.4,13.2 1329,18.4 1323.6,23.6 1318.2,28.8 1312.9,34 1307.5,39.2 1302.2,44.3 1296.9,49.5 1291.6,54.7 1287.1,59.1" fill="none" stroke="#000" stroke-width="1.1"/><polyline points="1260,86.1 1254.8,91.3 1249.7,96.5 1244.5,101.7 1239.4,106.9 1234.3,112.1 1229.2,117.3 1224.2,122.5 1219.1,127.7 1214.1,132.9 1209.1,138 1204.1,143.2 1199.1,148.4 1194.1,153.6 1189.2,158.8 1184.3,164 1179.3,169.2 1174.4,174.4 1169.6,179.6 1164.7,184.8 1159.9,190 1155,195.1 1150.2,200.3 1145.4,205.5 1140.7,210.7 1135.9,215.9 1131.2,221.1 1126.5,226.3 1121.7,231.5 1117.1,236.7 1112.4,241.9 1107.7,247.1 1103.1,252.2 1098.5,257.4 1093.9,262.6 1089.3,267.8 1084.7,273 1080.2,278.2 1075.7,283.4 1071.1,288.6 1066.6,293.8 1062.2,299 1057.7,304.2 1053.3,309.3 1048.8,314.5 1044.4,319.7 1040,324.9 1035.7,330.1 1031.3,335.3 1027,340.5 1022.6,345.7 1018.3,350.9 1014,356.1 1009.8,361.3 1005.5,366.4 1001.3,371.6 997.1,376.8 992.9,382 988.7,387.2 984.5,392.4 980.4,397.6 976.3,402.8 972.1,408 968,413.2 964,418.4 959.9,423.5 955.9,428.7 951.8,433.9 947.8,439.1 943.8,444.3 939.9,449.5 935.9,454.7 932,459.9 928.1,465.1 924.2,470.3 920.3,475.5 916.4,480.6 912.6,485.8 908.7,491 904.9,496.2 901.1,501.4 898.5,505" fill="none" stroke="#000" stroke-width="1.1"/><text transform="translate(1272.7,72) rotate(-44.8)" font-size="25" text-anchor="middle" dy="8.5">18</text><polyline points="1520.3,13.2 1514.9,18.4 1509.5,23.6 1505.8,27.2" fill="none" stroke="#000" stroke-width="1.1"/><polyline points="1478.5,53.9 1473.2,59.1 1468,64.3 1462.8,69.5 1457.6,74.7 1452.4,79.9 1447.2,85.1 1442.1,90.3 1437,95.5 1431.8,100.7 1426.7,105.9 1421.7,111.1 1416.6,116.2 1411.6,121.4 1406.5,126.6 1401.5,131.8 1396.5,137 1391.6,142.2 1386.6,147.4 1381.7,152.6 1376.7,157.8 1371.8,163 1366.9,168.2 1362.1,173.3 1357.2,178.5 1352.4,183.7 1347.6,188.9 1342.7,194.1 1338,199.3 1333.2,204.5 1328.4,209.7 1323.7,214.9 1319,220.1 1314.3,225.3 1309.6,230.4 1304.9,235.6 1300.3,240.8 1295.7,246 1291,251.2 1286.4,256.4 1281.9,261.6 1277.3,266.8 1272.8,272 1268.2,277.2 1263.7,282.4 1259.2,287.5 1254.8,292.7 1250.3,297.9 1245.9,303.1 1241.4,308.3 1237,313.5 1232.6,318.7 1228.3,323.9 1223.9,329.1 1219.6,334.3 1215.3,339.5 1211,344.6 1206.7,349.8 1202.4,355 1198.2,360.2 1193.9,365.4 1189.7,370.6 1185.5,375.8 1181.3,381 1177.2,386.2 1173,391.4 1168.9,396.6 1164.8,401.7 1160.7,406.9 1156.6,412.1 1152.6,417.3 1148.5,422.5 1144.5,427.7 1140.5,432.9 1136.5,438.1 1132.5,443.3 1128.6,448.5 1124.6,453.7 1120.7,458.8 1116.8,464 1112.9,469.2 1109.1,474.4 1105.2,479.6 1101.4,484.8 1097.6,490 1093.8,495.2 1090,500.4 1086.3,505.6 1082.5,510.8 1078.8,515.9 1075.1,521.1 1071.4,526.3 1067.7,531.5 1067.2,532.3" fill="none" stroke="#000" stroke-width="1.1"/><text transform="translate(1491,39.5) rotate(-44.4)" font-size="25" text-anchor="middle" dy="8.5">20</text><polyline points="1611.2,107.2 1606.2,112.3 1601.1,117.5 1596.1,122.7 1591.1,127.9 1586.1,133.1 1583.7,135.7" fill="none" stroke="#000" stroke-width="1.1"/><polyline points="1557.6,163.2 1552.7,168.4 1547.9,173.6 1543,178.8 1538.2,184 1533.4,189.2 1528.7,194.4 1523.9,199.6 1519.2,204.7 1514.4,209.9 1509.7,215.1 1505,220.3 1500.4,225.5 1495.7,230.7 1491.1,235.9 1486.4,241.1 1481.8,246.3 1477.2,251.5 1472.7,256.7 1468.1,261.8 1463.6,267 1459.1,272.2 1454.6,277.4 1450.1,282.6 1445.6,287.8 1441.1,293 1436.7,298.2 1432.3,303.4 1427.9,308.6 1423.5,313.8 1419.2,318.9 1414.8,324.1 1410.5,329.3 1406.2,334.5 1401.9,339.7 1397.6,344.9 1393.3,350.1 1389.1,355.3 1384.9,360.5 1380.7,365.7 1376.5,370.9 1372.3,376.1 1368.1,381.2 1364,386.4 1359.9,391.6 1355.8,396.8 1351.7,402 1347.6,407.2 1343.6,412.4 1339.5,417.6 1335.5,422.8 1331.5,428 1327.5,433.2 1323.6,438.3 1319.6,443.5 1315.7,448.7 1311.8,453.9 1307.9,459.1 1304,464.3 1300.2,469.5 1296.3,474.7 1292.5,479.9 1288.7,485.1 1284.9,490.3 1281.1,495.4 1277.4,500.6 1273.6,505.8 1269.9,511 1266.2,516.2 1262.5,521.4 1258.9,526.6 1255.2,531.8 1254.8,532.3" fill="none" stroke="#000" stroke-width="1.1"/><text transform="translate(1568.6,147.4) rotate(-46.5)" font-size="25" text-anchor="middle" dy="8.5">22</text><polyline points="1611.2,311.9 1606.8,317.1 1602.5,322.3 1598.2,327.5 1593.9,332.7 1589.6,337.9 1585.3,343.1 1581.1,348.3 1576.9,353.5 1572.7,358.7 1568.5,363.9 1566,367" fill="none" stroke="#000" stroke-width="1.1"/><polyline points="1542.3,396.8 1538.2,402 1534.2,407.2 1530.1,412.4 1526.1,417.6 1522.1,422.8 1518.1,428 1514.2,433.2 1510.2,438.3 1506.3,443.5 1502.4,448.7 1498.5,453.9 1494.7,459.1 1490.8,464.3 1487,469.5 1483.1,474.7 1479.3,479.9 1475.6,485.1 1471.8,490.3 1468,495.4 1464.3,500.6 1460.6,505.8 1456.9,511 1453.2,516.2 1449.6,521.4 1445.9,526.6 1442.3,531.8 1441.9,532.3" fill="none" stroke="#000" stroke-width="1.1"/><text transform="translate(1552.2,380.3) rotate(-51.5)" font-size="25" text-anchor="middle" dy="8.5">24</text><path d="M1353.3 171.8h0M1324.1 167.9h0M1314.2 150.6h0M1313.9 192.5h0M1379.5 128.9h0M1324.7 145.5h0M1353.8 148.5h0M1338.3 144.5h0M1311.9 177.6h0M1388.8 147.8h0M1313.5 153h0M1316.8 145.9h0M1390.8 140.2h0M1364.9 162.5h0M1324.8 186.1h0M1318.2 178.8h0M1316.7 160.3h0M1327.2 147.8h0M1326.9 158.1h0M1314.9 207.4h0M1327.2 146.8h0M1313.8 173.7h0M1330.5 175.3h0M1344.5 163h0M1331.2 141.2h0M1325.4 204.1h0M1330 183.8h0M1332 193.7h0M1369 149.8h0M1323.1 185.1h0M1370.9 148.7h0M1403.9 142.4h0M1323.2 156h0M1366.3 136.4h0M1305.9 200.8h0M1312.2 170.7h0M1342.3 182.2h0M1372.1 157.1h0M1312.7 178.4h0M1313.1 187.6h0M1356.4 144.5h0M1336.8 181.6h0M1326.1 139.5h0M1339.6 180.6h0M1325.6 161.1h0M1367.5 151.7h0M1318.8 166.6h0M1334.1 139.5h0M1353.1 148.2h0M1327.3 159.7h0M1399.1 128.9h0M1394.4 145.1h0M1378.6 142h0M1355.7 140.3h0M1381.8 140.3h0M1333.7 154.1h0M1402.7 132.7h0M1318.1 163h0M1345 172.6h0M1374.9 142.4h0M1327.2 200h0M1313 162h0M1392.1 130.8h0M1391.1 139.8h0M1407.4 132.6h0M1328.1 169.1h0M1335.6 185.8h0M1337.9 157h0M1326.7 195.9h0M1366.4 142.1h0M1362.4 167.1h0M1379.3 130.9h0M1362.7 159.7h0M1333.3 164.6h0M1317.8 161.4h0M1355.9 151.7h0M1324.8 176.6h0M1404.8 136.2h0M1325.1 144.3h0M1378.8 152.1h0M1342.7 176.8h0M1315.4 186h0M1317.4 167.7h0M1331.3 141.8h0M1361.8 161.6h0M1344.9 159.7h0M1361.7 138.7h0M1326.2 177.7h0M1397.3 144.7h0M1400.7 136.6h0M1330.1 185.6h0M1390 135.9h0M1409.5 135h0M1365.9 137.6h0M1324.1 142.3h0M1405 133.4h0M1310.7 204.2h0M1339.6 164.1h0M1360.1 161.1h0M1323.7 163.1h0M1325.2 139.1h0M1372.6 159h0M1382.7 131.3h0M1341.2 164.3h0M1376.5 153.4h0M1362.1 157.7h0M1331.9 158.7h0M1392.2 131.8h0M1308.9 202.5h0M1321.4 164.5h0M1322.4 166.5h0M1343.8 149.1h0M1334.9 184.8h0M1321 187.9h0M1385.5 129.6h0M1312 200.4h0M1350.8 165h0M1369.7 135h0M1361.5 135.8h0M1353.6 147.2h0M1367.4 160.2h0M1384 145.2h0M1316.4 199.4h0M1343.1 147.9h0M1386.1 141.2h0M1333.5 160.7h0M1371.9 133.9h0M1313.4 181.5h0M1344.6 165.1h0M1326.9 153.9h0M1387.7 143.1h0M1350.2 146.8h0M1339.4 170.9h0M1350.6 156h0M1314.6 197.9h0M1378.6 150.2h0M1388.5 131.8h0M1327.2 180.3h0M1312.9 150.6h0M1338.6 158.6h0M1331 155.4h0M1343.8 155.5h0M1347.1 157.6h0M1325.2 172.1h0M1323.2 188.3h0M1391.6 130.8h0M1313.2 178h0M1319.7 187.2h0M1374.7 145.8h0M1328 188.8h0M1346.9 153.4h0M1357.8 170h0M1349.8 137.6h0M1344.9 139.3h0M1326.2 160.6h0M1316.5 179.1h0M1388.5 140.3h0M1324.1 143.5h0M1329.6 184.9h0M1368.8 144h0M1324.1 148.7h0M1322.8 188.2h0M1337.9 170.9h0M1356.6 143.8h0M1309.4 203.9h0M1361.5 168.2h0M1375.6 145.1h0M1339 146.9h0M1333 169.7h0M1320.4 189.3h0M1313 147.8h0M1382 133.5h0M1356.3 164.3h0M1403.9 133h0M1394 142.7h0M1321.1 194.4h0M1337.9 151.2h0M1343.2 182.4h0M1315.5 158.1h0M1381.3 145.1h0M1365.4 163.4h0M1391.1 142.6h0M1371.1 149.5h0M1344.9 170.2h0M1336.5 153.4h0M1331.9 142h0M1383.7 152.7h0M1382.8 152.9h0M1394.1 133.1h0M1323.6 158.8h0M1313.8 144.2h0M1346 152.9h0M1341.3 179.3h0M1315.6 156.7h0M1321.2 188.9h0M1342.4 166.9h0M1319.4 184.5h0M1325.5 203.7h0M1372.3 141.8h0M1313 145.7h0M1343.3 163.8h0M1317.5 206.1h0M1318.8 200.3h0M1365 147.4h0M1317.3 193.7h0M1330.2 173h0M1394.5 140.8h0M1375.7 150.9h0M1345.6 174.5h0M1325.7 164.2h0M1319.6 157.5h0M1366 139.8h0M1360.6 147.3h0M1365.9 153h0M1377.1 137.4h0M1355.2 159.5h0M1348.5 161.4h0M1385.9 150.7h0M1368.6 131.2h0M1317.5 162.5h0M1358.7 158.3h0M1309.6 183h0M1361.3 145.3h0M1337.4 158.2h0M1328.1 187.3h0M1314.7 191.1h0M1317.5 170h0M1330.6 150.2h0M1347.3 155h0M1307.4 199.9h0M1337.5 166.7h0M1355.5 142.6h0M1401.7 141.7h0M1378.5 137.7h0M1336.1 154.1h0M1337.5 179.8h0M1329.1 175h0M1330.4 167.7h0M1351.7 152.2h0M1329.3 180.3h0M1333.5 153.2h0M1374.9 138.8h0M1338.2 174.8h0M1356.9 152.9h0M1353.3 149.9h0M1353.9 158h0M1326.6 175.2h0M1359.3 158.5h0M1342.4 153.4h0M1332.7 160.2h0M1338.8 168.2h0M1352.3 165h0M1341.3 145.4h0M1327.6 164h0M1343 158.9h0M1397.1 138.8h0M1381.6 141.6h0M1347.5 143.9h0M1335 178.8h0M1358.5 143.1h0M1352.6 150.2h0M1353 147.1h0M1334.5 159.3h0M1344.3 152.3h0M1350.6 167.6h0M1349.7 168.2h0M1360.4 139.7h0M1378.6 148.7h0M1343.7 147.9h0M1401.1 130.2h0M1353.6 145.3h0M1340.7 153.7h0M1337.5 155.5h0M1344.6 155.2h0M1342.8 159.5h0M1365 149.7h0M1342.7 159.9h0M1334.6 165.2h0M1374.6 144.4h0M1357.4 150.8h0M1355.6 151.9h0M1390 139.2h0M1328.6 175.9h0M1341.5 178.4h0M1337.6 169.3h0M1339.3 147h0M1332.6 167.6h0M1367.9 154.6h0M1375.9 151.3h0M1358.1 158.3h0M1382.5 145.2h0M1359 152.2h0M1392.6 137h0M1333.5 167.6h0M1401.6 131.4h0M1363 141.2h0M1368.5 147.3h0M1352 150.9h0M1363.8 140.6h0M1353.7 142.5h0M1355.7 163.6h0M1334.6 159.7h0M1344.8 152.9h0M1332.6 170.5h0M1375.7 139.4h0M1371.3 150.7h0M1349.5 149.4h0M1365.2 155.2h0M1338.4 151.9h0M1341 147.6h0M1354.2 149.1h0M1351.4 166.1h0M1356.6 158.3h0M1378.9 135.4h0M1344.7 174.5h0M1338.3 154h0M1362.2 149.7h0M1343.8 158.9h0M1397.7 138.2h0M1349.9 144.1h0M1334.2 175.7h0M1355.2 156.9h0M1345.5 159.3h0M1398.1 135.8h0M1374.5 140.1h0M1353.5 151.9h0M1330.6 180.6h0M1397.6 131.2h0M1342.2 152.3h0M1377.2 149.9h0M1403.7 137.6h0M1373.4 137.2h0M1338.7 175.5h0M1342.5 152h0M1378.1 145.4h0M1385.4 145.6h0M1374.9 149.6h0M1332 156.9h0M1358.1 147.8h0M1400.5 133h0M1402.4 133.5h0M1338.6 153.6h0M1338 155.9h0M1360.7 138.3h0M1340.7 152.5h0M1338.6 164.3h0M1359.6 151.4h0M1377.2 137.8h0M1368.4 139h0M1350.7 162.2h0M1396.7 138.6h0M1331.5 181.6h0M1369.6 138h0M1398.3 137.9h0M1346.7 160.1h0M1327.7 175.7h0M1384 137.6h0M1398.8 131.2h0M1345.7 169.6h0M1334 166.1h0M1338.1 162.7h0M1345.2 172.2h0M1380.6 134.9h0M1396.6 138.5h0M1349.7 146.3h0M1356.2 147.1h0M1382.4 139.4h0M1335 164.2h0M1361.9 149.4h0M1349.5 148.8h0M1333.1 153.2h0M1335.3 181h0M1383.1 137.7h0M1338.8 157.3h0M1359.1 140.1h0M1336.6 154.4h0M1337.8 153.1h0M1394.3 132.1h0M1368.9 152.2h0M1351.2 169.6h0M1343.3 156.4h0M1339.2 164h0M1338.2 160.7h0M1342.5 162.8h0M1357.8 153.9h0M1338.8 167.5h0M1326 181h0M1332.7 182.2h0M1388.5 144h0M1368.4 137.8h0M1329.4 179.5h0M1334.4 151h0M1329.2 182.2h0M1332.8 166.8h0M1376.2 145.3h0M1364.1 154.9h0M1371 153.7h0M1334.3 151h0M1390.6 134.6h0M1325.1 182.9h0M1380.3 135.3h0M1385.7 139.5h0M1338.8 174.8h0M1354.7 160.9h0M1332.8 154.9h0M1335.4 175.8h0M1356.5 146.4h0M1335.8 168h0M1342.9 173.5h0M1371.8 136.6h0M1393.6 135.9h0M1346.2 156.3h0M1350.6 152.8h0M1338.5 167.3h0M1336.4 178.5h0M1391.3 140.8h0M1384.7 140.7h0M1333.9 155.1h0M1371.2 147.7h0M1361.9 146.8h0M1362.1 139.4h0M1352.3 158.1h0M1334.9 165.6h0M1374.7 147.4h0M1331.7 161.5h0M1382.6 145.1h0M1342.6 160.6h0M1332.7 176.2h0M1355 145.3h0M1369.9 138.6h0M1335.2 157.2h0M1342.8 160.6h0M1402 136.5h0M1357.3 148.7h0M1326.9 179.3h0M1331.6 158.3h0M1378.3 135.4h0M1358.9 161.3h0M1365.8 148.5h0M1365.7 147.3h0M1352.4 165.8h0M1367.1 142.2h0M1373.7 138.5h0M1371.5 137.2h0M1397.8 135.1h0M1365.7 143.7h0M1365.1 153.2h0M1369.6 139.1h0M1348.1 166.4h0M1370 148.6h0M1352.5 143.9h0M1394.8 134.2h0M1388.9 133.4h0M1329.6 179.3h0M1385 139.3h0M1373.6 135.9h0M1375.6 142.4h0M1388.6 144.2h0M1354 152.1h0M1393.4 132.5h0M1390.3 135h0M1199.4 180.1h0M1247.3 136.2h0M1259.8 154.5h0M1277 194.6h0M1289.5 165.3h0M1293.8 201.9h0M1292.9 229.5h0M1295.3 169.9h0M1301.9 97h0M1293.2 127.5h0M1308.3 113.3h0M1311.2 115.3h0M1312.1 126.9h0M1308.3 239.6h0M1318.5 236.7h0M1323.4 229.2h0M1333 230.1h0M1311.2 227.1h0M1305.4 224.2h0M1337.4 219.9h0M1346.1 214.7h0M1351.9 201h0M1369.3 219h0M1370.8 240.8h0M1372.3 240.8h0M1385.3 238.8h0M1387.1 226.6h0M1397.8 220.5h0M1402.2 226.6h0M1398.7 254.2h0M1398.4 275.7h0M1416.4 258.5h0M1418.4 258.5h0M1420.2 271.6h0M1328.1 109.5h0M1347 108.9h0M1363.5 102.8h0M1381.6 103.1h0M1390 97h0M1390 88.6h0M1397.5 81.9h0M1401.3 88.6h0M1404.8 93.5h0M1390.8 67.4h0M1392.3 116.7h0M1399.6 117h0M1381.6 120.5h0M1341.2 132.7h0M1390 148.7h0M1399 161.8h0M1423.1 165.6h0M1432.4 171.4h0M1426 153.1h0M1424 158.9h0M1410 155.4h0M1417.3 156.6h0M1382.4 180.7h0M1378.6 194.3h0M1383.9 200.4h0M1392.9 200.1h0M1375.7 209.7h0M1379.2 210.9h0M1376.6 190.8h0M1370.8 195.2h0M1359.2 180.7h0M1351.9 199.5h0M1379.5 174.9h0M1373.7 173.4h0M1383.9 169h0M1367.9 160.3h0M1302.5 156h0M1299.6 158.9h0M1324.3 196.6h0M1330.1 196.6h0M1318.5 214.1h0M1324.3 214.1h0M1327.8 217h0M1394 100.8h0M1396.9 97.9h0M1414.4 141.4h0M1418.7 147.3h0M1415.8 150.2h0M1421.6 145.8h0M1140.5 169h0" stroke="#00008b" stroke-width="4.3" stroke-linecap="round" fill="none"/><path d="M1424.1 132.6h0M1454.4 140.2h0M1418.9 111.5h0M1416.1 111.2h0M1457.9 106.8h0M1443.5 110.7h0M1426.6 120.8h0M1465.3 129.1h0M1406.7 113.6h0M1463.3 138.2h0M1464.5 135.4h0M1473.2 137.7h0M1423.9 140.3h0M1440.3 135.9h0M1445.8 120.7h0M1431.6 120.7h0M1428 106.2h0M1464 137.9h0M1475.8 132.9h0M1445.1 135.6h0M1415.3 132.2h0M1437.2 109h0M1420.1 125.1h0M1423.7 122.1h0M1448.8 119.2h0M1415 123.6h0M1422.4 111.7h0M1419.5 117.8h0M1410.9 131h0M1408.7 107.4h0M1463 139.7h0M1451.2 108.2h0M1435.1 141.1h0M1468.7 138.1h0M1420.1 140.5h0M1432.3 134.1h0M1448.6 134.4h0M1420.7 129.5h0M1447 128.3h0M1431.2 134.6h0M1430 114.5h0M1417.4 132.6h0M1413.7 111.3h0M1410.6 130.7h0M1445.3 126h0M1408.4 121.2h0M1430.1 105.1h0M1414.3 114.8h0M1424.8 128.5h0M1411.2 122.6h0M1431.8 139.6h0M1442.4 122.8h0M1453.3 114.6h0M1407.9 124.1h0M1470.5 135.1h0M1424.1 132.6h0M1466.1 112.8h0M1447.5 117.3h0M1423.1 114.1h0M1420.2 117.1h0M1408.4 119.3h0M1460.7 109.6h0M1439.9 126.6h0M1429.4 114.2h0M1436.6 107.1h0M1464.3 110.9h0M1427.3 118.8h0M1408 106.7h0M1431.4 121.3h0M1408.8 125.6h0M1414.9 138.1h0M1428.6 142.3h0M1444.5 106.6h0M1439.8 118h0M1430.2 138h0M1420.9 134.2h0M1437 127.4h0M1449.8 139.8h0M1415.4 125.6h0M1463.5 125.6h0M1426.9 104.8h0M1457.4 105.7h0M1456.6 141h0M1476.8 138.4h0M1435.9 129.7h0M1465 134.1h0M1426.3 136.2h0M1413.5 115.1h0M1424.7 137.3h0M1407.7 112.8h0M1423.3 140.3h0M1466.4 120.1h0M1476.4 136.2h0M1440.1 112.9h0M1438.5 142.7h0M1443.9 109.8h0M1432.4 122.9h0M1419.2 127.4h0M1418.4 105.6h0M1447.6 115.1h0M1468.7 123.9h0M1442.8 139.6h0M1420.9 135.4h0M1451.9 120.7h0M1409.5 124h0M1440.3 129h0M1423 125.4h0M1459.7 116.6h0M1455.5 120.6h0M1470.7 135.2h0M1472 138.7h0M1464.8 132.4h0M1457 131.8h0M1447.7 112.7h0M1415.2 134.5h0M1448.1 103.4h0M1451.3 129.1h0M1442.1 136.8h0M1468 118.5h0M1463.7 124h0M1446.4 120h0M1472.1 121.4h0M1454.3 118.2h0M1411.2 123h0M1435.2 138.6h0M1437.5 119.9h0M1445.8 135.6h0M1411.4 110.8h0M1416 115.9h0M1426.6 110.2h0M1413.7 106.7h0M1410.4 118.7h0M1420.8 108.2h0M1409.2 111.5h0M1445.9 141.8h0M1452.6 133.7h0M1455.5 137.8h0M1409.5 129.6h0M1442.6 125h0M1461.3 108.9h0M1455.9 120.6h0M1435.7 112.1h0M1425.7 127.7h0M1425.6 134h0M1412.6 131.1h0M1417.1 140.6h0M1463.2 111h0M1427.4 105.6h0M1437.1 105.6h0M1455.8 127.5h0M1435.6 133.8h0M1422.3 116.2h0M1463.9 121.6h0M1435.7 107.2h0M1423 107.8h0M1431.5 135.7h0M1458.5 127h0M1462.5 128.6h0M1460.5 123.6h0M1444.9 138.8h0M1449.8 118.3h0M1429.9 120.7h0M1426.1 126.6h0M1434.2 139.5h0M1448 126.7h0M1461.4 121.2h0M1443.8 135.6h0M1457.1 135.3h0M1469.1 126.7h0M1445.2 109.5h0M1422.8 121h0M1441.2 142.6h0M1408.7 117h0M1458.3 122.1h0M1460.6 120.8h0M1446.1 103.4h0M1434.3 138.1h0M1458 127h0M1435.8 102.6h0M1455.4 121.5h0M1457.2 129.2h0M1434.3 141.4h0M1447.4 121.6h0M1472.3 124.6h0M1441.9 103.6h0M1462.4 130.5h0M1422.7 106.1h0M1467.6 122.4h0M1420.1 134.7h0M1416.2 137.7h0M1445.9 114.5h0M1453.1 123.7h0M1448.6 112.3h0M1439 106.2h0M1443.2 109.1h0M1445.8 103.4h0M1407.6 129.8h0M1456.9 142.1h0M1415.8 130h0M1451 108.9h0M1415.6 111.9h0M1442.9 137.4h0M1456.3 127.4h0M1411.2 134.3h0M1442.1 108.7h0M1449.7 112.2h0M1427.6 121.7h0M1437.2 111.7h0M1453.4 138.7h0M1424.5 134.2h0M1438.7 110.9h0M1425.3 125.8h0M1463.1 128.7h0M1447 120.4h0M1422.8 121.3h0M1454.9 113.4h0M1437.1 104.1h0M1431.6 129.5h0M1418.2 127.2h0M1468.3 122.5h0M1456.5 122.5h0M1429.9 135h0M1430.2 142h0M1460 140.6h0M1467.9 128.4h0M1446.5 104.2h0M1447.2 132.7h0M1426 138.5h0M1435.4 109.9h0M1419.4 127.6h0M1433 102.9h0M1439.3 132.5h0M1436 104.1h0M1449.2 110.5h0M1414.4 129.5h0M1417.5 116h0M1462.4 135.3h0M1458.6 120.7h0M1416.6 135.7h0M1460.5 132.1h0M1423.4 141.1h0M1442.3 110.4h0M1409.6 111h0M1431 142.3h0M1464.8 139.9h0M1458.2 109.6h0M1422.9 105.6h0M1467.9 121.3h0M1426.6 126.8h0M1410.3 120.5h0M1451.9 140.9h0M1413.2 110.4h0M1429.4 108.6h0M1412.1 131.2h0M1434 109.6h0M1442.3 106.5h0M1438.9 120.4h0M1434 117.8h0M1435.1 109.1h0M1426.7 132.9h0M1439.8 103.9h0M1416 139.9h0M1430.8 139.4h0M1449.6 129.8h0M1431 127.7h0M1435.2 124.8h0M1471.7 138.6h0M1456.8 106.5h0M1466 119.2h0M1440.5 124.9h0M1420.3 127.1h0M1467 121.6h0M1436.9 117.8h0M1419.2 114h0M1432.3 114.1h0M1429.7 140.9h0M1424.3 109.3h0M1428.1 104.8h0M1416.1 111.6h0M1424.1 114.4h0M1412 127.4h0M1438.7 117.1h0M1435.2 101.7h0M1424.2 109h0M1422.7 104h0M1435.2 108.8h0M1420.1 136.1h0M1429.2 125.9h0M1436.4 104.5h0M1435.8 129.2h0M1434.1 137.3h0M1437.4 114.4h0M1469.4 127.3h0M1439.8 128.8h0M1439 140.7h0M1457.7 121.3h0M1431.7 136.7h0M1465.3 128.8h0M1467.8 125.3h0M1435.2 115.5h0M1424.8 107.9h0M1471.4 126.5h0M1411.6 110.5h0M1435.9 138.2h0M1466.6 136.1h0M1426.5 120.6h0M1439.8 124.3h0M1470.4 145.4h0M1459.2 116.2h0M1467.8 143.3h0M1411.1 120.5h0M1444.9 114.9h0M1422.8 137.3h0M1420.6 126.5h0M1407.1 122.2h0M1470.8 124.3h0M1426.7 114.6h0M1457.9 127.7h0M1437.4 132.9h0M1412.7 118.9h0M1468.2 143.2h0M1440.2 137.1h0M1468.6 125h0M1415.8 105.6h0M1453.4 116.6h0M1443.1 102.7h0M1450.8 129.7h0M1431 110.5h0M1445.7 116h0M1411.1 109h0M1439.1 112.6h0M1411.7 129.7h0M1455.1 132.3h0M1451.6 133.5h0M1447.6 116h0M1442.6 108.9h0M1433 117h0M1438.7 119.6h0M1421.2 108.6h0M1450.8 107.6h0M1429.8 105.5h0M1445.6 128.1h0M1442.2 117.7h0M1420.5 127.8h0M1458.6 124.2h0M1433.5 112.4h0M1447.3 133.8h0M1428.8 108.1h0M1409.7 129.5h0M1471 132.9h0M1453.6 140.7h0M1435 120.7h0M1424.2 139.4h0M1454.8 125.1h0M1461.1 143.2h0M1408.9 111h0M1439 134h0M1422.9 121.4h0M1452.9 114.4h0M1435 130.5h0M1467.1 124.5h0M1453 131.6h0M1451.8 121.8h0M1428.2 106.7h0M1468.8 136.8h0M1452 135.8h0M1428 109h0M1443.6 122.5h0M1451.8 141.4h0M1433.6 118.1h0M1446 128.4h0M1469.1 143.6h0M1412.4 126.4h0M1473.9 122h0M1438.3 120.6h0M1445.3 110.8h0M1429.5 106.4h0M1448.9 109.1h0M1445.4 142.1h0M1421 109h0M1446.8 132.9h0M1418.4 124.1h0M1445.7 124h0M1428 121.5h0M1413.5 105.3h0M1423.4 132.1h0M1443.5 143h0M1409.3 112.4h0M1415.9 132.2h0M1473 133.4h0M1421.1 126.5h0M1435.2 126.1h0M1476.2 133.2h0M1412.3 112.5h0M1432.1 123.3h0M1451.7 124.2h0M1470.8 116.8h0M1467.6 121.7h0M1451.2 117.6h0M1409.4 122.5h0M1446.8 113.4h0M1423.7 123.2h0M1490.9 128.6h0M1561.4 168.2h0M1520.7 142h0M1479.2 133.2h0M1503.2 137.5h0M1508.9 143.4h0M1476.1 133.5h0M1549.9 154.5h0M1568.3 191.2h0M1565.6 177.5h0M1499.2 129.4h0M1495.1 133.5h0M1567.4 201.2h0M1561.4 197.9h0M1564.1 200.4h0M1475.5 132.6h0M1569.7 195.8h0M1560.1 164.6h0M1515.6 140.9h0M1479.2 132.1h0M1559.3 172.1h0M1551.3 161.1h0M1571.4 193.2h0M1497.3 129.5h0M1566.6 206.1h0M1515.8 136.5h0M1503.1 142.7h0M1502.7 135.7h0M1493.3 139.8h0M1539.5 148.9h0M1563.9 172.5h0M1518.4 142.5h0M1567.7 208h0M1503.7 131.4h0M1507.4 142.9h0M1513.1 142h0M1568.7 208.2h0M1545.1 162.6h0M1568.6 182.3h0M1566.5 199.5h0M1524.2 139.1h0M1554.3 178h0M1523.2 145.4h0M1541 151.3h0M1526 149.5h0M1566.3 208.2h0M1474.2 125.5h0M1554.8 170.5h0M1564.3 213.6h0M1562.3 179.8h0M1555.9 184.6h0M1548 157.4h0M1485.7 129.9h0M1543.6 162h0M1484.3 128.8h0M1507.2 132.1h0M1565.8 193.3h0M1479.3 121.7h0M1556.2 183h0M1494.8 127h0M1568.6 194.9h0M1478.5 122.7h0M1487 125.1h0M1499 133.8h0M1500.9 129.8h0M1548.1 160.2h0M1556.4 158.6h0M1479.7 134.1h0M1568.6 213.1h0M1496.1 132.4h0M1495.1 138.9h0M1491.2 125.1h0M1554.1 165.7h0M1485.9 125.2h0M1497 129.1h0M1565.4 190.8h0M1512.8 134.6h0M1482.6 134.5h0M1526.8 147.9h0M1504.9 136.9h0M1553 162.9h0M1560 168.4h0M1560.3 183.9h0M1520.3 143.4h0M1511.1 140.9h0M1496 131.8h0M1546.2 156.4h0M1568.3 202.7h0M1572.8 199.2h0M1513.1 134.7h0M1539.8 148h0M1484.7 130.3h0M1524.5 139.4h0M1493.9 126.6h0M1520 139.7h0M1542.2 157h0M1562.6 190h0M1495.5 137h0M1558.2 177.4h0M1517.5 136.2h0M1565.1 206.2h0M1559.2 183.4h0M1557.6 184.6h0M1513.9 146h0M1525.4 143.9h0M1564.8 201.6h0M1548.3 159.6h0M1560.8 202.8h0M1509.5 137.9h0M1522.3 140.8h0M1568.8 212h0M1498.7 135.4h0M1504 141.5h0M1493.2 131.3h0M1559.7 179.1h0M1479.8 131.3h0M1546.2 156.2h0M1560.8 195.5h0M1550.9 169.7h0M1554.2 167h0M1474.1 121.8h0M1499.4 140.1h0M1537.6 154.8h0M1548.7 154.7h0M1493 135.5h0M1399 65h0M1419.3 75.2h0M1433.3 69.4h0M1439.9 67.4h0M1443.4 78.1h0M1428.9 93.5h0M1442 92.1h0M1449.2 97.3h0M1460.9 104.3h0M1414.4 104.3h0M1476.8 118.2h0M1458 157.4h0M1452.1 147.3h0M1446.3 145.8h0M1466.7 148.7h0M1487 140h0M1492.8 150.2h0M1498.6 157.4h0M1503 148.7h0M1516.1 164.7h0M1523.3 158.9h0M1530.6 170.5h0M1530.6 179.2h0M1542.2 182.1h0M1530 207.4h0M1533.5 230.6h0M1537.9 239.4h0M1544.5 233h0M1557.3 248.1h0M1561.1 227.7h0M1566.9 243.7h0M1566 275.1h0M1545.7 281.5h0M1543.7 195.2h0M1550.9 198.1h0M1555.3 215.5h0M1559.6 211.2h0M1553.8 192.3h0M1537.9 190.8h0M1548 164.7h0M1554.6 323.6h0M1547 315h0M1558.8 389.8h0" stroke="#8b0000" stroke-width="4.3" stroke-linecap="round" fill="none"/><text x="968.8" y="56.1" font-size="32" font-weight="bold">Apr.</text>
<rect x="898.3" y="13.2" width="713" height="519.1" fill="none" stroke="#000" stroke-width="2"/>
<text x="898.3" y="574.9" font-size="26.5" text-anchor="middle">27</text>
<text x="969.6" y="574.9" font-size="26.5" text-anchor="middle">28</text>
<text x="1040.9" y="574.9" font-size="26.5" text-anchor="middle">29</text>
<text x="1112.2" y="574.9" font-size="26.5" text-anchor="middle">30</text>
<text x="1183.5" y="574.9" font-size="26.5" text-anchor="middle">31</text>
<text x="1254.8" y="574.9" font-size="26.5" text-anchor="middle">32</text>
<text x="1326.1" y="574.9" font-size="26.5" text-anchor="middle">33</text>
<text x="1397.4" y="574.9" font-size="26.5" text-anchor="middle">34</text>
<text x="1468.7" y="574.9" font-size="26.5" text-anchor="middle">35</text>
<text x="1540" y="574.9" font-size="26.5" text-anchor="middle">36</text>
<text x="1611.3" y="574.9" font-size="26.5" text-anchor="middle">37</text>
<text x="873.3" y="542.2" font-size="26.5" text-anchor="end">20</text>
<text x="873.3" y="455.7" font-size="26.5" text-anchor="end">22</text>
<text x="873.3" y="369.2" font-size="26.5" text-anchor="end">24</text>
<text x="873.3" y="282.6" font-size="26.5" text-anchor="end">26</text>
<text x="873.3" y="196.1" font-size="26.5" text-anchor="end">28</text>
<text x="873.3" y="109.6" font-size="26.5" text-anchor="end">30</text>
<text x="873.3" y="23.1" font-size="26.5" text-anchor="end">32</text>
<path d="M898.3 532.3V544.8M969.6 532.3V544.8M1040.9 532.3V544.8M1112.2 532.3V544.8M1183.5 532.3V544.8M1254.8 532.3V544.8M1326.1 532.3V544.8M1397.4 532.3V544.8M1468.7 532.3V544.8M1540 532.3V544.8M1611.3 532.3V544.8M898.3 532.3H885.8M898.3 445.8H885.8M898.3 359.3H885.8M898.3 272.8H885.8M898.3 186.2H885.8M898.3 99.7H885.8M898.3 13.2H885.8" stroke="#000" stroke-width="2" fill="none"/>
<text x="1254.8" y="610.3" font-size="27.8" text-anchor="middle">Salinity(psu)</text>
<text transform="translate(833.5,272.8) rotate(-90)" font-size="27.5" text-anchor="middle">Temperature(°C)</text>
</g>
<g transform="translate(0,1253)">
<g clip-path="url(#mclip)">
<rect x="100" y="0" width="680" height="545" fill="#8b0000"/><polygon points="440,5 470,47.3 508.3,47.3 508.3,72.2 490.7,72.2 490.7,85.4 468.7,85.4 468.7,96.4 446.8,96.4 446.8,109.5 429.2,109.5 429.2,120.5 416.1,120.5 416.1,133.7 402.9,133.7 402.9,230.3 416.1,230.3 416.1,304.9 433.6,304.9 433.6,291.7 451.2,291.7 451.2,283 470.9,283 470.9,267.6 598.2,267.6 598.2,280.8 622.4,280.8 622.4,293.9 637.8,293.9 637.8,318.1 648.7,318.1 648.7,357.6 626.8,357.6 626.8,410.3 648.7,410.3 648.7,434.4 661.9,434.4 661.9,447.6 701.4,447.6 701.4,460.7 775,460.7 775,5" fill="#00008b"/><path d="M112 532l-24 5M112 519l-23 5M112 506l-18 5M112 493l-12 5M112 480l-5 4M112 467l-1 3M112 454l0 2M112 442l1 1M112 429l1 2M112 416l2 2M112 403l2 3M112 390l2 3M112 377l2 4M112 364l2 5M112 351l2 6M112 338l1 7M112 325l1 8M112 312l0 9M112 299l0 10M112 286l-1 11M112 273l-1 12M112 260l-1 12M112 247l-1 12M112 234l-1 13M112 221l-1 13M112 208l-1 13M112 195l-1 13M112 182l-1 12M112 169l-1 12M112 156l-1 11M112 143l-1 10M112 130l-1 9M112 117l-1 8M112 104l0 7M112 91l0 6M112 78l0 4M112 65l0 3M112 52l0 3M125 532l-25 5M125 519l-23 5M125 506l-19 5M125 493l-12 5M125 480l-5 4M125 467l-1 3M125 454l0 2M125 442l1 1M125 429l1 2M125 416l2 2M125 403l2 3M125 390l2 4M125 377l2 4M125 364l2 5M125 351l2 6M125 338l2 7M125 325l1 8M125 312l1 9M125 299l0 10M125 286l-1 11M125 273l-1 12M125 260l-1 13M125 247l-1 13M125 234l-1 13M125 221l-1 13M125 208l-1 13M125 195l-1 13M125 182l-1 13M125 169l-1 12M125 156l-1 11M125 143l-1 11M125 130l-1 10M125 117l-1 8M125 104l0 7M125 91l0 6M125 78l0 4M125 65l0 3M125 52l0 3M125 39l0 2M138 532l-25 5M138 519l-23 5M138 506l-19 5M138 493l-11 5M138 480l-5 4M138 467l-1 2M138 442l1 1M138 429l1 2M138 416l2 2M138 403l2 3M138 390l2 4M138 377l2 5M138 364l3 5M138 351l3 6M138 338l2 7M138 325l2 8M138 312l1 10M138 299l0 11M138 286l0 12M138 273l-1 13M138 260l-1 13M138 247l-1 13M138 234l-1 14M138 221l-1 14M138 208l-1 14M138 195l-1 13M138 182l-1 13M138 169l-1 13M138 156l-1 12M138 143l-1 11M138 130l-1 10M138 117l0 8M138 104l0 7M138 91l0 6M138 78l0 4M138 65l0 3M138 52l0 3M138 39l0 2M151 532l-24 5M151 519l-23 5M151 506l-18 5M151 493l-11 5M151 480l-4 4M151 467l-1 2M151 442l1 1M151 429l1 2M151 416l2 2M151 403l2 3M151 390l3 4M151 377l3 5M151 364l3 6M151 351l4 7M151 338l4 8M151 325l3 9M151 312l2 10M151 299l1 12M151 286l0 12M151 273l0 13M151 260l0 14M151 247l-1 14M151 234l-1 15M151 221l-1 15M151 208l-1 15M151 195l-1 14M151 182l-1 14M151 169l-1 13M151 156l-1 12M151 143l0 11M151 130l0 10M151 117l0 8M151 104l0 7M151 91l0 6M151 78l0 4M151 65l0 3M151 52l0 2M164 532l-24 5M164 519l-23 5M164 506l-18 5M164 493l-11 5M164 480l-4 3M164 467l-1 2M164 429l1 2M164 416l2 3M164 403l2 4M164 390l3 5M164 377l4 6M164 364l4 7M164 351l5 8M164 338l5 9M164 325l4 10M164 312l3 11M164 299l2 12M164 286l1 13M164 273l0 14M164 260l0 14M164 247l0 15M164 234l0 15M164 221l0 16M164 208l0 15M164 195l0 15M164 182l0 14M164 169l0 13M164 156l0 12M164 143l0 11M164 130l0 9M164 117l0 8M164 104l0 7M164 91l0 5M164 78l0 4M164 65l0 3M164 52l0 2M177 532l-24 6M177 519l-23 6M177 506l-19 5M177 493l-12 5M177 480l-5 4M177 467l-1 2M177 429l1 2M177 416l2 3M177 403l3 5M177 390l4 6M177 377l5 7M177 364l5 8M177 351l6 9M177 338l6 10M177 325l5 11M177 312l4 12M177 299l3 13M177 286l2 13M177 273l1 14M177 260l1 14M177 247l1 15M177 234l0 16M177 221l0 16M177 208l0 16M177 195l0 15M177 182l0 14M177 169l0 13M177 156l0 11M177 143l0 10M177 130l0 9M177 117l0 7M177 104l0 6M177 91l0 5M177 78l0 4M177 65l0 2M190 532l-25 6M190 519l-23 6M190 506l-19 5M190 493l-12 5M190 480l-6 4M190 467l-2 2M190 442l1 2M190 429l2 4M190 416l4 5M190 403l5 6M190 390l5 8M190 377l6 9M190 364l7 10M190 351l8 11M190 338l8 11M190 325l7 12M190 312l6 12M190 299l4 13M190 286l3 13M190 273l2 14M190 260l2 14M190 247l2 15M190 234l1 16M190 221l1 16M190 208l1 15M190 195l1 14M190 182l1 13M190 169l1 12M190 156l1 10M190 143l1 9M190 130l1 8M190 117l1 7M190 104l0 6M190 91l0 4M190 78l0 3M190 65l0 2M203 532l-24 6M203 519l-23 6M203 506l-19 5M203 493l-12 5M203 480l-6 4M203 467l-1 3M203 454l0 3M203 442l2 4M203 429l4 6M203 416l6 7M203 403l6 8M203 390l7 9M203 377l8 10M203 364l9 11M203 351l9 12M203 338l10 12M203 325l9 12M203 312l7 13M203 299l5 13M203 286l4 13M203 273l3 14M203 260l3 14M203 247l2 15M203 234l2 15M203 221l2 15M203 208l2 14M203 195l1 13M203 182l1 11M203 169l1 10M203 156l1 9M203 143l1 8M203 130l1 7M203 117l1 6M216 532l-23 5M216 519l-22 6M216 506l-18 5M216 493l-11 5M216 480l-4 4M216 467l0 3M216 454l2 5M216 442l4 6M216 429l5 7M216 416l7 8M216 403l8 9M216 390l9 10M216 377l10 11M216 364l11 12M216 351l11 12M216 338l11 13M216 325l10 13M216 312l8 13M216 299l6 13M216 286l5 13M216 273l4 13M216 260l3 13M216 247l3 14M216 234l3 14M216 221l2 13M216 208l2 12M216 195l2 11M216 182l2 9M216 169l1 8M216 156l1 7M216 143l1 6M229 532l-21 5M229 519l-20 5M229 506l-16 5M229 493l-10 5M229 480l-2 4M229 467l0 4M229 454l3 6M229 442l5 6M229 429l6 7M229 416l8 8M229 403l10 10M229 390l12 11M229 377l13 12M229 364l14 13M229 351l14 13M229 338l13 13M229 325l11 13M229 312l9 13M229 299l7 13M229 286l5 12M229 273l4 12M229 260l4 12M229 247l3 12M229 234l3 12M229 221l3 11M229 208l3 10M229 195l2 9M229 182l2 8M229 169l2 7M242 532l-19 6M242 519l-19 6M242 506l-16 6M242 493l-10 5M242 480l-4 4M242 467l0 4M242 454l3 6M242 442l5 6M242 429l8 8M242 416l11 9M242 403l13 10M242 390l15 12M242 377l16 13M242 364l16 13M242 351l16 13M242 338l14 13M242 325l12 13M242 312l9 12M242 299l7 12M242 286l6 12M242 273l5 11M242 260l4 11M242 247l4 11M242 234l3 10M242 221l3 9M242 208l3 8M255 532l-20 6M255 519l-19 6M255 506l-16 6M255 493l-11 5M255 480l-5 4M255 467l-1 3M255 454l2 4M255 442l6 6M255 429l10 8M255 416l14 9M255 403l16 11M255 390l18 12M255 377l19 13M255 364l18 13M255 351l17 13M255 338l15 12M255 325l13 12M255 312l10 12M255 299l8 11M255 286l6 11M255 273l5 11M255 260l4 10M255 247l4 10M255 234l3 9M268 532l-20 6M268 519l-19 6M268 506l-16 6M268 493l-11 5M268 480l-6 4M268 467l-1 3M268 454l2 4M268 442l7 6M268 429l12 8M268 416l16 9M268 403l18 11M268 390l20 12M268 377l21 13M268 364l20 12M268 351l18 12M268 338l16 11M268 325l13 11M268 312l10 11M268 299l8 11M268 286l6 10M268 273l5 10M268 260l4 9M281 532l-20 6M281 519l-19 6M281 506l-16 6M281 493l-11 5M281 480l-5 4M281 467l0 2M281 454l3 4M281 442l7 5M281 429l12 7M281 416l17 9M281 403l20 10M281 390l22 11M281 377l22 12M281 364l21 12M281 351l18 11M281 338l16 11M281 325l13 10M281 312l11 10M281 299l8 10M294 532l-19 6M294 519l-18 6M294 506l-15 6M294 493l-10 5M294 480l-3 3M294 454l4 4M294 442l9 5M294 429l14 6M294 416l19 7M294 403l23 9M294 390l25 10M294 377l24 11M294 364l21 11M294 351l18 10M294 338l16 10M294 325l13 10M294 312l11 10M307 532l-17 5M307 519l-16 6M307 506l-14 5M307 493l-8 5M307 480l-2 3M307 454l5 4M307 442l11 4M307 429l17 5M307 416l22 6M307 403l25 7M307 390l27 8M307 377l26 9M307 364l22 9M307 351l19 9M307 338l16 9M307 325l14 9M320 532l-15 6M320 519l-15 6M320 506l-13 6M320 493l-9 5M320 480l-3 3M320 454l5 3M320 442l11 3M320 429l17 4M320 416l23 5M320 403l26 6M320 390l28 7M320 377l27 8M320 364l23 8M320 351l19 8M320 338l16 8M320 325l14 8M333 532l-15 6M333 519l-15 6M333 506l-13 6M333 493l-10 5M333 480l-5 4M333 454l2 2M333 442l10 3M333 429l16 3M333 416l23 4M333 403l27 5M333 390l29 6M333 377l28 7M333 364l24 8M333 351l20 8M333 338l17 8M333 325l15 8M333 312l14 8M333 299l11 8M346 532l-15 6M346 519l-15 6M346 506l-13 6M346 493l-10 5M346 480l-6 4M346 442l8 2M346 429l17 3M346 416l24 3M346 403l29 3M346 390l31 3M346 377l29 5M346 364l24 6M346 351l19 8M346 338l17 8M346 325l16 8M346 312l15 8M346 299l10 5M359 532l-15 6M359 519l-15 6M359 506l-13 6M359 493l-10 5M359 480l-6 4M359 467l-1 2M359 442l9 2M359 429l19 2M359 416l27 1M359 403l31 1M359 390l33 1M359 377l31 2M359 364l25 5M359 351l19 7M359 338l16 8M359 325l15 8M359 312l14 7M359 299l7 2M359 286l1-3M359 273l0-8M372 532l-14 6M372 519l-14 6M372 506l-12 5M372 493l-10 5M372 480l-5 4M372 442l9 2M372 429l18 2M372 416l27 1M372 403l31 0M372 390l33 0M372 377l32 0M372 286l1-6M372 273l0-9M372 260l0-8M372 247l0-9M372 234l0-9M372 221l0-9M385 532l-11 5M385 519l-11 5M385 506l-10 5M385 493l-7 4M385 480l-4 3M385 454l1 2M385 442l6 2M385 429l15 2M385 416l24 1M385 403l30-1M385 390l32-1M385 286l0-8M385 273l0-8M385 260l0-8M385 247l0-7M385 234l0-7M385 221l0-7M385 208l0-7M385 195l0-8M385 182l1-8M385 169l2-9M385 156l4-10M385 143l6-10M385 130l7-9M398 532l-9 4M398 519l-9 5M398 506l-8 5M398 493l-6 4M398 480l-4 4M398 467l-1 2M398 442l4 2M398 429l12 2M398 416l22 0M398 403l28-2M398 390l30-4M398 377l27-7M398 299l2-13M398 286l0-10M398 273l0-8M398 260l-1-5M398 247l-1-3M398 234l-1-3M398 221l-1-3M398 208l-1-3M398 195l-1-4M398 182l0-5M398 169l2-7M398 156l4-9M398 143l6-9M398 130l7-9M398 117l8-8M411 532l-9 5M411 519l-9 5M411 506l-8 5M411 493l-7 4M411 480l-5 4M411 467l-2 3M411 442l4 2M411 429l13 1M411 416l23-1M411 403l28-3M411 390l29-6M411 377l25-9M411 312l3-18M411 299l2-16M411 286l1-12M411 273l0-7M411 260l-1-2M411 169l1-4M411 156l5-7M411 143l7-8M411 130l8-8M411 117l9-7M424 532l-9 5M424 519l-9 5M424 506l-8 5M424 493l-7 5M424 480l-6 4M424 467l-3 3M424 442l5 2M424 429l16 0M424 416l25-2M424 403l29-4M424 390l29-7M424 377l25-10M424 364l17-14M424 351l10-18M424 338l6-20M424 325l4-20M424 312l3-19M424 299l2-17M424 286l1-13M424 273l0-8M424 156l5-5M424 143l8-6M424 130l9-6M424 117l9-5M437 532l-9 5M437 519l-9 5M437 506l-8 5M437 493l-7 5M437 480l-6 4M437 467l-3 4M437 442l4 2M437 429l16 0M437 416l25-3M437 403l28-5M437 390l29-7M437 377l26-10M437 364l19-13M437 351l12-16M437 338l7-19M437 325l5-19M437 312l4-18M437 299l3-16M437 286l2-14M437 273l1-9M437 156l5-3M437 143l9-4M437 130l9-4M437 117l9-4M437 104l4-1M450 532l-8 4M450 519l-8 4M450 506l-8 4M450 493l-6 4M450 480l-5 4M450 467l-3 4M450 454l0 3M450 442l2 2M450 429l10 2M450 416l20-2M450 403l26-5M450 390l27-8M450 377l26-9M450 364l21-12M450 351l16-14M450 338l11-16M450 325l8-17M450 312l7-16M450 299l5-14M450 286l4-12M450 273l1-8M450 156l6-2M450 143l9-3M450 130l9-3M450 117l8-2M450 104l2 0M463 532l-6 3M463 519l-6 4M463 506l-6 4M463 493l-4 4M463 480l-3 4M463 467l-1 4M463 454l0 4M463 442l1 3M463 429l3 3M463 416l11 1M463 403l21-4M463 390l24-8M463 377l24-9M463 364l22-10M463 351l19-12M463 338l16-13M463 325l13-14M463 312l11-14M463 299l9-12M463 286l7-10M463 273l3-5M463 221l-1 1M463 156l6-1M463 143l8-2M463 130l9-2M463 117l8-1M463 104l2 0M463 78l-5 6M476 532l-4 3M476 519l-4 3M476 506l-4 3M476 493l-3 4M476 480l-2 4M476 467l-1 4M476 454l0 4M476 442l0 4M476 429l1 3M476 416l5 2M476 403l15-1M476 390l20-5M476 377l21-8M476 364l20-9M476 351l18-10M476 338l17-11M476 325l15-12M476 312l14-11M476 299l13-10M476 286l10-7M476 273l6-3M476 221l-1 2M476 208l-1 2M476 156l5-1M476 143l8-1M476 130l9-1M476 117l8-1M476 104l3 1M476 78l-5 5M476 65l-9 8M489 532l-4 3M489 519l-4 3M489 506l-4 3M489 493l-3 4M489 480l-3 4M489 467l-2 4M489 454l-1 4M489 442l0 4M489 429l1 4M489 416l3 4M489 403l9 3M489 390l13-1M489 377l15-4M489 364l14-8M489 351l14-10M489 338l14-11M489 325l14-10M489 312l13-9M489 299l13-7M489 286l12-4M489 273l9-1M489 221l-1 1M489 208l-1 2M489 156l5 0M489 143l8-1M489 130l8-1M489 117l8 0M489 104l4 1M489 78l-3 4M489 65l-9 7M489 52l-12 8M502 532l-4 3M502 519l-4 3M502 506l-4 3M502 493l-4 4M502 480l-3 4M502 467l-2 4M502 454l-1 4M502 442l0 4M502 429l1 5M502 416l3 5M502 403l5 4M502 390l7 2M502 377l6-1M502 364l6-5M502 351l7-8M502 338l9-10M502 325l11-9M502 312l12-7M502 299l12-4M502 286l12-2M502 273l10 0M502 260l3 1M502 208l-1 1M502 156l5 1M502 143l7 0M502 130l8 0M502 117l8 0M502 104l5 1M502 78l-2 2M502 65l-8 6M502 52l-11 7M502 39l-13 7M515 532l-4 3M515 519l-4 3M515 506l-4 3M515 493l-4 4M515 480l-3 4M515 467l-2 4M515 454l-1 5M515 442l0 4M515 429l0 5M515 416l2 5M515 403l3 4M515 390l2 2M515 351l1-5M515 338l4-7M515 325l9-7M515 312l11-5M515 299l11-2M515 286l11-1M515 273l9 1M515 260l2 1M515 156l4 1M515 143l6 1M515 130l7 1M515 117l7 1M515 104l4 1M515 65l-7 4M515 52l-11 6M515 39l-12 6M515 26l-13 6M528 532l-3 3M528 519l-4 3M528 506l-4 3M528 493l-3 3M528 480l-2 4M528 467l-2 4M528 454l-1 5M528 442l-1 4M528 429l0 5M528 416l1 5M528 403l1 4M528 390l0 1M528 325l7-3M528 312l10-2M528 299l11 0M528 286l10 1M528 273l8 2M528 260l2 1M528 156l3 2M528 143l5 2M528 130l6 2M528 117l6 2M528 104l4 2M528 65l-6 3M528 52l-10 5M528 39l-12 5M528 26l-13 6M541 532l-2 2M541 519l-3 2M541 506l-2 3M541 493l-2 3M541 480l-2 3M541 467l-1 4M541 454l-1 5M541 442l-1 4M541 429l0 5M541 416l0 5M541 403l0 4M541 390l0 2M541 364l-2 1M541 325l6 2M541 312l9 2M541 299l10 2M541 286l10 2M541 273l8 2M541 260l3 2M541 156l2 2M541 143l4 3M541 130l5 3M541 117l5 3M541 104l4 3M541 65l-5 3M541 52l-10 4M541 39l-12 5M541 26l-12 5M541 14l-12 4M554 532l-2 2M554 519l-2 2M554 506l-2 2M554 493l-2 3M554 480l-1 3M554 467l-1 3M554 454l-1 4M554 442l-1 4M554 429l-1 4M554 416l-1 5M554 403l-1 5M554 390l-1 4M554 377l-2 4M554 364l-3 5M554 351l-2 5M554 338l2 5M554 325l6 6M554 312l8 5M554 299l9 4M554 286l9 3M554 273l9 3M554 260l5 2M554 182l0 2M554 169l1 2M554 156l2 3M554 143l3 4M554 130l4 4M554 117l4 4M554 104l4 3M554 91l1 2M554 65l-4 2M554 52l-9 4M554 39l-11 4M554 26l-12 4M554 14l-12 3M567 532l-2 2M567 519l-2 2M567 506l-2 3M567 493l-2 3M567 480l-1 3M567 467l-1 3M567 454l-1 4M567 442l-1 3M567 429l-1 4M567 416l-2 5M567 403l-2 6M567 390l-2 6M567 377l-3 6M567 364l-3 7M567 351l-1 8M567 338l2 9M567 325l5 8M567 312l6 6M567 299l7 5M567 286l8 4M567 273l8 3M567 260l5 2M567 182l0 3M567 169l0 4M567 156l1 5M567 143l2 5M567 130l3 5M567 117l3 5M567 104l3 5M567 91l2 3M567 65l-3 2M567 52l-7 3M567 39l-9 3M567 26l-10 3M567 14l-10 2M580 532l-2 2M580 519l-2 2M580 506l-2 3M580 493l-2 3M580 480l-1 3M580 467l-1 3M580 454l-1 3M580 442l-1 3M580 429l-1 4M580 416l-2 5M580 403l-3 6M580 390l-3 7M580 377l-2 7M580 364l-2 8M580 351l0 9M580 338l2 9M580 325l3 9M580 312l4 8M580 299l5 7M580 286l6 5M580 273l6 3M580 260l3 1M580 195l-1 2M580 182l-1 3M580 169l0 5M580 156l0 6M580 143l1 6M580 130l2 6M580 117l2 6M580 104l2 5M580 91l2 4M580 52l-3 2M580 39l-6 2M580 26l-7 3M580 14l-8 2M593 532l-2 2M593 519l-2 2M593 506l-2 3M593 493l-2 3M593 480l-1 3M593 467l-1 3M593 454l-1 3M593 442l-1 3M593 429l-1 4M593 416l-2 5M593 403l-2 7M593 390l-2 8M593 377l-2 8M593 364l-1 9M593 351l0 9M593 338l1 9M593 325l3 9M593 312l4 9M593 299l4 8M593 286l4 6M593 273l3 2M593 182l-1 3M593 169l-1 5M593 156l0 6M593 143l0 6M593 130l1 6M593 117l1 6M593 104l1 5M593 91l0 3M593 39l-2 1M593 26l-4 2M593 14l-6 1M606 532l-2 2M606 519l-2 2M606 506l-2 2M606 493l-1 2M606 480l-1 2M606 467l-1 2M606 454l-1 2M606 442l-1 2M606 429l-1 3M606 416l-2 5M606 403l-2 7M606 390l-2 8M606 377l-1 9M606 364l-1 9M606 351l0 9M606 338l1 9M606 325l3 9M606 312l3 9M606 299l3 8M606 286l3 5M606 273l1 1M606 182l-1 3M606 169l-1 4M606 156l-1 4M606 143l0 5M606 130l0 5M606 117l0 4M606 104l0 2M606 14l-3 1M619 442l-1 1M619 429l-1 2M619 416l-1 3M619 403l-2 6M619 390l-1 8M619 377l-1 9M619 364l0 9M619 351l0 8M619 338l1 7M619 325l2 7M619 312l3 6M619 299l3 5M619 286l2 3M619 169l-1 2M619 156l-1 2M619 143l-1 3M619 130l-1 2M632 442l-1 1M632 429l-1 2M632 416l-1 4M632 403l-2 6M632 390l-2 8M632 377l-1 9M632 364l0 7M632 351l0 6M632 338l1 4M632 325l1 4M632 312l2 3M632 299l2 3M632 286l1 2M644 442l0 2M644 429l0 4M644 416l-2 6M644 403l-3 8M644 390l-4 9M644 377l-2 8M644 364l0 5M644 351l1 4M644 338l2 3M644 325l2 2M644 312l2 2M644 299l2 2M644 286l2 1M657 454l0 2M657 442l0 3M657 429l-1 5M657 416l-3 8M657 403l-5 10M657 390l-6 10M657 377l-5 9M657 364l-1 5M657 351l1 3M657 338l2 2M657 325l2 2M657 312l2 2M657 299l2 2M657 286l2 1M670 454l0 2M670 442l0 3M670 429l-2 6M670 416l-4 8M670 403l-6 10M670 390l-7 11M670 377l-7 10M670 364l-3 7M670 351l1 3M670 338l1 3M670 325l2 3M670 312l2 3M670 299l3 2M670 286l2 2M683 454l0 2M683 442l0 3M683 429l-2 5M683 416l-4 8M683 403l-7 10M683 390l-9 11M683 377l-9 11M683 364l-5 8M683 351l0 4M683 338l1 3M683 325l2 3M683 312l3 3M683 299l3 3M683 286l3 3M683 273l2 1M696 454l0 2M696 442l0 2M696 429l-2 4M696 416l-4 6M696 403l-7 9M696 390l-10 10M696 377l-10 10M696 364l-7 8M696 351l-1 5M696 338l1 3M696 325l2 3M696 312l3 3M696 299l3 3M696 286l3 3M696 273l3 2M709 454l0 2M709 442l0 2M709 429l-2 3M709 416l-4 5M709 403l-7 7M709 390l-11 8M709 377l-11 9M709 364l-8 7M709 351l-2 5M709 338l1 3M709 325l2 3M709 312l3 4M709 299l3 4M709 286l3 3M709 273l2 3M709 260l1 2M709 247l1 2M709 234l1 2M709 221l1 2M709 208l1 2M722 442l0 1M722 429l-1 2M722 416l-4 3M722 403l-7 5M722 390l-11 6M722 377l-12 7M722 364l-9 7M722 351l-3 5M722 338l0 3M722 325l2 3M722 312l3 4M722 299l3 4M722 286l3 4M722 273l2 3M722 260l1 3M722 247l1 3M722 234l1 3M722 221l1 3M722 208l1 2M735 429l-1 1M735 416l-4 3M735 403l-8 4M735 390l-11 5M735 377l-13 6M735 364l-10 6M735 351l-4 4M735 338l0 3M735 325l1 3M735 312l2 4M735 299l3 4M735 286l3 4M735 273l2 3M735 260l1 3M735 247l1 3M735 234l1 3M735 221l1 2M735 208l1 2M748 429l-1 1M748 416l-4 2M748 403l-8 3M748 390l-12 4M748 377l-13 5M748 364l-11 5M748 351l-4 4M748 338l0 2M748 325l1 3M748 312l2 3M748 299l2 4M748 286l3 4M748 273l2 3M748 260l1 3M748 247l1 2M748 234l1 2M748 221l1 2M761 429l-1 1M761 416l-5 2M761 403l-9 3M761 390l-13 4M761 377l-14 5M761 364l-11 5M761 351l-4 4M761 338l0 2M761 325l1 2M761 312l2 3M761 299l2 4M761 286l2 4M761 273l2 3M761 260l1 2M761 247l1 2M761 234l1 1" stroke="#fff" stroke-width="1.6" fill="none"/><path d="M81 538l7-4 1 6zM82 525l7-4 2 6zM87 513l7-5 1 6zM94 500l6-5 2 5zM101 488l5-7 3 5zM107 475l2-8 5 3zM111 463l-2-8 6 0zM114 450l-4-7 5-1zM116 437l-6-6 6-2zM117 424l-6-5 5-3zM117 412l-6-6 5-3zM117 400l-6-6 5-3zM116 388l-5-7 5-2zM116 376l-5-7 5-2zM115 364l-4-8 5-1zM115 351l-5-7 6-1zM114 340l-4-8 6-1zM112 328l-3-8 6 0zM111 316l-2-8 6 0zM111 304l-3-8 6 0zM110 292l-2-9 6 1zM110 279l-2-8 6 1zM110 266l-2-8 6 1zM110 253l-2-8 6 1zM110 240l-2-8 6 1zM110 228l-2-9 6 1zM110 214l-2-8 6 1zM110 201l-2-8 6 1zM110 188l-2-8 6 0zM110 174l-2-8 6 1zM110 160l-2-8 6 1zM110 146l-2-8 6 1zM111 132l-2-8 6 0zM111 118l-2-8 6 0zM111 104l-2-9 6 1zM111 89l-2-8 6 1zM111 75l-2-8 6 1zM112 62l-3-9 6 1zM112 48l-3-8 6 0zM112 34l-3-8 6 1zM112 21l-3-8 6 1zM93 538l8-4 1 6zM95 525l7-4 1 6zM100 513l7-5 1 6zM107 500l6-5 2 5zM114 488l5-7 3 5zM120 475l2-8 5 3zM124 463l-2-8 6 0zM127 450l-4-7 5-1zM129 437l-6-6 6-2zM130 424l-6-5 5-3zM130 412l-6-6 5-2zM130 400l-6-6 5-3zM130 388l-6-7 6-2zM129 376l-5-7 6-2zM129 364l-5-7 6-2zM128 352l-4-7 5-2zM127 340l-4-8 6 0zM126 328l-4-8 6 0zM125 316l-3-8 6 1zM124 304l-3-8 6 1zM123 292l-2-8 6 0zM123 279l-2-8 6 1zM123 267l-2-9 6 1zM123 254l-2-8 6 0zM123 241l-2-8 6 0zM123 228l-2-8 6 0zM123 215l-2-8 6 0zM123 202l-2-9 6 1zM123 188l-2-8 6 1zM123 174l-2-8 6 1zM123 161l-2-9 6 1zM123 146l-2-8 6 1zM124 132l-2-8 6 0zM124 118l-2-8 6 0zM124 104l-2-8 6 0zM124 89l-2-8 6 1zM125 75l-3-8 6 1zM125 62l-3-9 6 1zM125 48l-3-8 6 0zM125 35l-3-9 6 1zM125 21l-3-8 6 1zM107 538l7-4 1 6zM108 525l7-4 1 6zM113 513l7-5 1 6zM120 500l6-5 3 5zM127 488l5-7 4 5zM133 475l2-8 5 3zM138 463l-3-8 6 0zM141 450l-5-7 5-1zM142 437l-6-6 6-2zM143 425l-6-6 5-3zM143 412l-6-6 5-2zM143 400l-6-6 6-2zM143 388l-6-6 6-2zM143 376l-6-6 6-3zM143 364l-6-6 6-2zM142 352l-5-7 6-1zM141 340l-4-7 6-1zM140 329l-4-8 6 0zM138 317l-3-8 6 0zM137 305l-2-8 6 0zM137 292l-3-8 6 1zM136 280l-2-8 6 0zM136 267l-2-8 6 1zM136 255l-2-9 6 1zM136 242l-2-8 6 0zM136 229l-2-9 6 1zM136 215l-2-8 6 1zM136 202l-2-8 6 0zM136 188l-2-8 6 1zM136 175l-2-9 6 1zM137 161l-3-9 6 1zM137 147l-3-9 6 1zM137 132l-2-8 6 0zM137 118l-2-8 6 0zM137 104l-2-8 6 0zM138 89l-3-8 6 1zM138 75l-3-8 6 1zM138 62l-3-9 6 1zM138 48l-3-8 6 0zM138 35l-3-9 6 1zM138 21l-3-8 6 1zM120 538l7-4 1 6zM121 526l8-5 1 6zM126 513l7-5 2 6zM134 500l6-6 2 6zM141 488l5-8 3 5zM147 475l1-8 5 3zM151 463l-3-8 6 0zM154 450l-5-7 5-2zM155 437l-6-6 6-2zM156 424l-6-5 5-3zM156 412l-6-5 5-3zM157 400l-6-5 5-3zM157 388l-6-5 5-3zM157 376l-6-5 6-3zM158 365l-6-6 5-3zM157 353l-6-7 6-2zM156 341l-5-7 6-2zM154 329l-4-7 6-1zM152 317l-3-7 6-1zM151 305l-3-8 6 0zM151 293l-3-8 6 0zM150 281l-2-8 6 0zM150 268l-3-8 6 0zM150 256l-3-9 6 1zM150 243l-3-8 6 0zM150 230l-3-8 6 0zM150 216l-3-8 6 0zM150 203l-3-8 6 0zM150 189l-3-8 6 0zM150 175l-2-8 6 0zM150 161l-2-8 6 0zM150 147l-2-9 6 1zM150 132l-2-8 6 0zM151 118l-3-8 6 0zM151 104l-3-8 6 0zM151 89l-3-8 6 0zM151 75l-3-8 6 0zM151 61l-3-8 6 1zM151 48l-3-8 6 0zM151 34l-3-8 6 1zM151 21l-3-8 6 1zM133 539l7-5 1 6zM134 526l8-5 1 6zM139 513l7-5 2 6zM147 500l6-6 2 6zM154 487l5-7 3 5zM160 475l1-9 5 3zM164 462l-3-8 6 1zM166 450l-5-7 6-2zM168 437l-6-6 6-2zM169 425l-6-6 5-3zM170 413l-7-6 6-3zM171 401l-7-6 5-3zM171 389l-6-5 5-3zM172 377l-7-5 5-3zM172 365l-6-5 5-3zM172 353l-6-6 5-2zM171 342l-6-7 6-2zM169 330l-5-7 6-2zM167 318l-4-8 6 0zM166 306l-4-8 6 0zM165 294l-4-8 6 0zM164 281l-3-8 6 0zM164 269l-3-8 6 0zM164 256l-3-8 6 0zM164 244l-3-8 6 0zM164 230l-3-8 6 0zM164 217l-3-8 6 0zM164 203l-3-8 6 0zM164 189l-3-8 6 0zM164 175l-3-8 6 0zM164 161l-3-9 6 1zM164 146l-3-8 6 0zM164 132l-3-8 6 0zM164 118l-3-8 6 0zM164 103l-3-8 6 1zM164 89l-3-8 6 0zM164 75l-3-8 6 0zM164 61l-3-8 6 0zM164 48l-3-9 6 1zM164 34l-3-8 6 1zM164 21l-3-8 6 1zM146 539l7-5 1 6zM147 526l7-5 1 6zM152 513l7-5 1 6zM159 500l6-6 2 6zM166 487l5-7 3 6zM172 475l2-9 5 4zM176 462l-2-8 6 1zM179 450l-5-7 6-2zM181 438l-6-7 6-2zM183 425l-7-5 5-3zM184 414l-7-6 5-3zM185 402l-7-5 5-3zM185 390l-6-5 5-3zM186 378l-7-5 5-3zM187 366l-7-5 5-3zM187 354l-7-5 5-3zM185 342l-6-6 6-2zM183 330l-5-6 6-2zM181 318l-4-7 6-1zM180 306l-4-7 6-1zM179 294l-4-8 6 0zM178 281l-3-7 6-1zM178 269l-3-8 6 0zM178 257l-4-8 6 0zM177 244l-3-8 6 0zM177 231l-3-8 6 0zM177 217l-3-8 6 0zM177 203l-3-8 6 0zM177 189l-3-8 6 0zM177 174l-3-8 6 0zM177 160l-3-8 6 0zM177 146l-3-8 6 0zM177 131l-3-8 6 0zM177 117l-3-8 6 0zM177 103l-3-8 6 0zM177 89l-3-8 6 0zM177 74l-3-8 6 0zM177 61l-3-8 6 0zM177 47l-3-8 6 1zM177 34l-3-8 6 1zM177 21l-3-8 6 1zM159 539l7-4 1 5zM160 526l7-4 1 5zM164 513l7-5 2 6zM171 500l7-5 2 5zM178 487l6-6 2 5zM184 475l3-8 4 4zM189 462l-2-8 6 1zM193 451l-5-7 5-2zM196 439l-7-6 6-3zM198 427l-7-5 5-3zM199 415l-7-5 5-3zM199 404l-7-5 5-4zM200 392l-7-5 5-4zM201 380l-7-5 5-4zM202 367l-7-5 5-3zM202 355l-7-5 5-3zM201 343l-7-6 5-3zM198 331l-6-6 6-3zM196 319l-5-7 6-2zM195 306l-5-7 6-1zM194 294l-5-8 6-1zM193 281l-4-7 6-1zM192 269l-4-8 6 0zM192 257l-4-8 6-1zM191 244l-3-8 6 0zM191 230l-3-8 6 0zM191 216l-3-8 6 0zM191 202l-3-8 6 0zM191 188l-3-8 6-1zM191 173l-3-8 6 0zM191 159l-3-8 6 0zM191 145l-3-8 6 0zM191 131l-4-8 6-1zM191 117l-4-8 6-1zM191 102l-4-7 6-1zM191 88l-4-8 6 0zM190 74l-3-8 6 0zM172 539l7-4 1 5zM173 526l7-5 2 6zM177 513l7-5 2 6zM184 500l7-5 2 5zM191 487l6-6 3 5zM198 475l2-8 5 3zM203 464l-3-8 6 0zM208 452l-6-6 5-2zM211 440l-7-5 5-3zM213 429l-8-5 5-4zM213 417l-7-5 5-4zM214 405l-7-5 5-3zM215 393l-7-5 5-3zM216 381l-7-5 4-4zM217 368l-7-4 4-4zM217 356l-7-5 4-4zM215 343l-7-5 5-3zM213 331l-6-6 5-2zM211 319l-6-7 6-2zM209 306l-5-7 6-1zM208 294l-5-8 6-1zM207 281l-4-7 5-1zM206 269l-4-8 6-1zM206 256l-4-8 6 0zM205 243l-3-8 6 0zM205 229l-4-8 6 0zM205 215l-4-8 6-1zM205 200l-4-7 6-1zM205 186l-4-8 6 0zM205 172l-4-8 6-1zM204 158l-3-8 6-1zM204 144l-3-8 6-1zM204 130l-3-8 6-1zM186 539l7-5 1 6zM187 526l7-5 1 6zM191 513l7-5 2 6zM198 500l7-5 2 5zM207 488l4-7 4 4zM214 477l-1-9 6 2zM220 465l-6-6 6-2zM223 454l-6-6 5-3zM225 441l-7-4 5-4zM227 429l-7-4 4-4zM228 417l-7-4 4-4zM229 406l-7-5 4-3zM230 394l-7-4 5-4zM231 381l-7-4 4-4zM232 369l-7-4 4-4zM232 356l-8-4 5-4zM230 343l-7-4 5-4zM227 331l-6-5 5-4zM225 318l-6-6 5-2zM223 306l-5-7 5-2zM222 293l-5-7 6-2zM221 280l-5-7 6-1zM220 267l-4-7 6-1zM220 255l-5-8 6-1zM219 241l-4-7 6-1zM219 227l-4-7 6-1zM219 213l-4-8 6-1zM219 198l-4-7 5-1zM218 184l-4-7 6-1zM218 170l-4-7 6-1zM218 156l-4-7 6-1zM201 539l7-5 2 6zM202 526l7-5 2 6zM206 513l7-5 2 6zM213 501l6-6 3 5zM222 489l3-8 5 4zM230 478l-4-8 6 0zM235 466l-6-6 5-2zM237 454l-6-5 5-3zM240 442l-8-5 5-3zM242 429l-8-4 4-4zM244 418l-8-4 4-4zM246 406l-8-3 4-5zM247 394l-8-3 4-4zM248 382l-8-4 4-4zM248 369l-8-4 4-4zM247 356l-8-4 4-4zM245 343l-8-4 5-4zM242 331l-7-5 5-4zM239 318l-6-6 5-3zM237 305l-6-6 6-3zM236 292l-6-7 6-2zM235 279l-5-7 5-1zM234 266l-5-7 6-2zM234 253l-5-8 6-1zM233 239l-4-7 5-2zM233 225l-5-8 6-1zM233 210l-5-7 6-1zM232 196l-4-7 6-1zM232 183l-5-7 6-2zM216 539l7-5 1 6zM216 527l7-5 2 5zM220 514l6-6 2 6zM226 501l6-6 2 5zM233 489l4-8 4 5zM241 478l-2-9 6 1zM248 466l-7-6 6-3zM252 454l-8-5 5-3zM255 441l-8-3 4-4zM258 429l-8-3 4-4zM260 418l-8-3 4-5zM262 406l-8-2 4-5zM263 395l-8-3 4-5zM264 382l-8-3 3-5zM263 369l-8-3 4-5zM261 356l-7-4 4-4zM259 343l-8-4 5-4zM256 330l-8-5 5-3zM253 317l-7-5 5-3zM251 304l-6-6 5-2zM249 291l-5-6 5-3zM248 278l-5-7 6-2zM248 264l-6-6 6-2zM247 251l-5-7 6-2zM247 237l-5-7 6-2zM247 223l-5-7 5-2zM228 540l7-5 2 5zM229 527l7-5 2 5zM232 514l7-5 2 5zM237 501l7-6 2 6zM244 489l5-8 3 5zM252 477l0-9 5 2zM260 465l-6-6 5-3zM266 453l-8-4 5-4zM271 441l-8-2 4-5zM275 429l-9-2 4-5zM277 418l-8-2 3-5zM279 406l-8-2 3-5zM279 394l-8-2 4-5zM279 381l-8-2 3-5zM278 368l-9-3 4-4zM276 355l-8-3 3-5zM273 342l-8-4 4-4zM269 329l-7-4 5-4zM267 316l-7-5 5-3zM264 303l-6-5 5-3zM263 290l-6-6 5-3zM262 277l-6-7 6-2zM261 263l-5-6 5-2zM261 250l-6-7 6-2zM241 540l7-5 2 5zM242 527l7-5 2 6zM245 514l7-5 2 5zM250 501l6-6 3 6zM257 488l5-7 3 5zM265 476l0-9 5 3zM273 464l-6-6 5-2zM280 452l-8-3 4-4zM286 441l-9-3 4-4zM290 429l-9-2 3-5zM293 417l-9-1 3-6zM294 406l-8-2 3-5zM295 393l-9-1 4-5zM294 380l-9-2 4-5zM292 367l-8-2 3-5zM289 354l-8-3 4-5zM286 341l-8-3 4-5zM283 328l-8-4 5-4zM280 315l-7-5 5-3zM278 302l-7-5 5-3zM276 289l-6-6 5-3zM275 276l-6-6 6-3zM254 540l7-5 2 5zM255 527l7-5 2 5zM258 514l7-5 2 5zM264 501l6-6 2 6zM271 488l4-7 4 5zM279 476l-1-8 6 1zM288 464l-7-5 4-4zM294 452l-8-3 4-5zM299 440l-8-2 3-5zM304 428l-8-1 2-6zM308 416l-9-1 3-5zM310 405l-9-1 3-6zM309 392l-8-1 3-5zM308 379l-9-1 3-5zM305 366l-8-2 3-5zM303 353l-9-3 4-4zM300 340l-8-3 3-5zM296 327l-7-3 4-5zM294 314l-8-4 5-4zM268 540l7-6 2 6zM269 527l7-5 2 5zM272 514l7-6 2 6zM278 501l6-6 2 5zM286 488l4-8 4 5zM295 476l-4-8 6-1zM303 463l-8-3 4-5zM309 450l-9-1 4-5zM315 438l-9-1 3-5zM320 426l-9 0 2-6zM323 414l-8 0 2-6zM325 403l-9-1 3-5zM324 391l-8-1 2-5zM322 378l-9-1 3-6zM318 364l-8-1 3-5zM316 351l-9-1 3-5zM313 339l-8-3 3-4zM310 326l-8-3 4-4zM284 540l6-6 2 6zM284 527l7-6 2 6zM286 514l7-6 2 6zM292 501l6-6 3 5zM300 488l4-8 4 4zM310 475l-6-6 6-3zM318 462l-8-2 3-5zM324 449l-8-1 2-5zM331 436l-9 0 2-5zM336 424l-9 0 2-5zM339 412l-8 1 1-6zM340 400l-8 1 2-6zM339 389l-8 0 2-6zM336 376l-9 0 2-6zM332 363l-9-1 3-5zM329 350l-9-1 3-5zM326 338l-8-2 3-5zM298 540l7-5 2 5zM299 527l6-5 2 5zM300 514l7-6 2 6zM305 501l6-6 2 5zM312 488l4-8 4 5zM321 474l-3-6 4-1zM331 461l-9-2 3-5zM338 448l-9 0 2-6zM344 435l-9 1 2-6zM350 422l-9 1 1-5zM353 410l-8 1 1-5zM355 399l-9 1 2-6zM354 387l-9 0 2-5zM350 375l-9 0 2-6zM345 362l-8 0 2-6zM343 350l-9-1 3-6zM340 337l-8-2 3-5zM311 540l7-5 2 5zM312 527l6-5 2 5zM313 514l7-5 2 5zM317 501l6-6 3 5zM322 488l5-7 4 5zM331 474l0-7 4 1zM341 460l-8-2 3-5zM349 447l-8 0 2-5zM356 434l-8 1 1-6zM363 421l-9 2 1-6zM367 409l-8 1 1-6zM369 397l-9 1 2-6zM368 385l-9 1 2-5zM363 374l-8 0 2-6zM359 362l-8-1 2-5zM356 349l-8-1 2-5zM355 336l-9-1 3-5zM352 324l-8-2 3-5zM349 311l-8-2 4-5zM324 540l6-5 3 5zM325 528l6-6 2 5zM326 514l7-5 2 5zM330 501l6-6 2 5zM334 488l5-7 3 5zM341 474l2-8 5 4zM351 460l-7-4 4-3zM361 447l-8 0 1-6zM370 433l-9 1 1-5zM377 419l-8 2 0-6zM382 406l-8 2 0-6zM384 394l-9 2 1-6zM382 383l-8 1 1-6zM377 372l-9 1 2-6zM372 361l-9 0 3-5zM369 349l-8-1 2-5zM368 336l-9-1 3-5zM367 323l-9-1 3-5zM362 307l-8-1 3-5zM353 284l-6 4-2-5zM337 540l7-5 2 5zM338 527l6-5 2 5zM339 514l7-5 2 5zM342 501l6-6 3 5zM347 488l5-7 3 5zM353 474l3-8 4 4zM363 461l-6-5 4-3zM374 446l-8 1 2-6zM385 432l-9 2 1-6zM393 418l-9 2 1-6zM397 404l-8 3 0-6zM399 391l-8 3 0-6zM397 380l-8 2 1-6zM391 370l-8 1 1-6zM385 360l-9 0 2-5zM382 349l-9-1 3-5zM380 337l-8-2 3-5zM379 323l-9-2 3-5zM373 303l-9 0 2-5zM362 276l1 9-6-2zM359 258l3 8-6 0zM351 540l7-6 2 6zM351 527l7-5 2 5zM353 514l6-6 3 6zM356 501l6-6 3 5zM361 488l5-7 3 5zM368 475l1-9 5 3zM377 461l-8-5 5-3zM387 447l-8 0 2-6zM397 432l-8 2 1-6zM406 417l-8 3 0-6zM410 403l-8 3 0-6zM412 390l-8 3 0-6zM411 377l-8 3 0-6zM374 273l2 9-6-1zM372 257l3 8-6 0zM372 245l3 8-6 0zM372 231l3 8-6 0zM372 218l3 8-6 0zM372 205l3 8-6 0zM367 539l7-5 2 5zM367 527l7-6 2 5zM369 514l6-6 2 5zM372 501l5-7 3 6zM376 488l4-7 4 4zM383 475l-1-8 6 1zM390 462l-7-5 5-3zM397 448l-8-1 2-6zM407 432l-9 2 1-6zM416 417l-8 3 0-6zM422 402l-8 3 0-6zM424 388l-8 4 0-6zM386 271l2 8-6 0zM385 258l3 8-6 0zM385 245l3 8-6 0zM384 233l4 8-6 0zM384 220l4 8-6 0zM384 207l4 8-6 0zM384 194l4 7-6 1zM385 180l3 8-6 0zM386 167l2 8-5-1zM388 153l2 9-6-2zM392 140l-1 9-5-3zM394 127l-1 9-5-3zM396 115l-3 8-4-3zM382 539l6-6 3 6zM382 527l6-6 3 5zM383 514l6-6 3 5zM386 501l5-7 3 5zM389 488l4-7 4 4zM395 475l0-8 5 2zM401 462l-6-6 6-2zM408 448l-8-2 3-5zM417 432l-9 2 2-6zM427 416l-8 3 0-6zM433 401l-8 3 0-6zM435 385l-7 4-1-6zM432 369l-7 4-1-5zM402 279l1 9-6-1zM399 269l2 8-6-1zM398 258l3 8-6 0zM397 248l4 7-6 1zM396 237l4 7-5 1zM396 225l4 7-5 1zM396 211l4 8-5 1zM396 198l4 7-6 1zM397 184l3 8-5 0zM398 170l3 8-6 0zM401 155l1 8-5-1zM406 141l-1 9-6-3zM408 128l-2 8-5-3zM410 116l-3 8-5-4zM411 104l-4 8-4-5zM396 540l6-7 2 6zM396 527l6-6 2 5zM396 514l6-6 3 5zM398 501l5-7 4 5zM401 488l4-7 4 5zM405 475l2-8 5 4zM412 462l-4-7 6-1zM421 447l-9-1 3-5zM431 431l-8 2 0-6zM441 415l-8 3-1-6zM446 399l-8 4 0-6zM447 383l-7 4-1-6zM443 365l-7 6-2-6zM415 287l2 8-6-1zM414 276l2 8-6-1zM413 267l2 8-6-1zM411 259l3 8-6 0zM409 251l5 7-6 1zM408 242l5 4-4 2zM407 231l5 2-2 2zM407 218l5 2-2 2zM407 204l5 3-3 3zM407 190l6 4-4 2zM409 174l5 8-6 1zM414 158l1 9-6-2zM420 143l-2 8-5-3zM423 130l-3 8-5-4zM425 117l-4 8-4-4zM425 105l-4 8-4-5zM408 540l6-7 3 6zM409 527l5-6 3 5zM409 514l6-6 3 5zM411 501l5-7 3 6zM413 488l4-7 4 5zM416 475l4-8 4 5zM423 462l-2-8 6 1zM435 446l-9 0 3-6zM447 430l-8 2 0-6zM456 413l-8 4 0-6zM460 398l-8 4-1-6zM460 382l-7 5-1-6zM456 365l-7 5-2-5zM447 345l-5 8-3-5zM437 327l-1 8-5-3zM431 311l1 9-6-2zM429 298l2 9-6-2zM428 287l2 8-6-1zM428 276l1 8-6-1zM426 266l2 8-6-1zM424 258l3 8-6 0zM422 253l4 6-5 2zM420 247l4-2 0 3zM419 236l4-4 2 4zM419 223l4-4 2 4zM418 209l5-3 1 4zM418 195l6-2 0 4zM421 179l4 2-2 2zM426 163l0 7-5-2zM434 146l-4 8-4-4zM438 132l-5 8-4-5zM439 120l-5 7-3-5zM439 108l-5 7-3-5zM422 540l5-7 3 6zM422 527l6-6 2 5zM422 514l6-6 3 5zM424 501l5-7 3 6zM425 488l5-7 4 5zM429 475l3-7 4 4zM435 462l-1-8 6 1zM448 447l-9-1 3-6zM460 429l-8 3 0-6zM469 413l-8 3 0-6zM472 397l-7 4-1-6zM473 381l-7 5-2-6zM469 365l-6 5-2-5zM462 347l-5 7-3-5zM453 329l-2 8-5-3zM446 313l0 8-5-2zM444 300l1 8-6-2zM443 288l1 8-6-1zM442 276l1 9-6-2zM440 266l2 8-6-1zM438 257l2 8-5 0zM435 253l4 6-5 2zM433 248l3-3 1 3zM432 238l3-6 3 4zM431 226l4-7 4 4zM431 212l4-6 3 4zM431 198l5-5 2 4zM433 183l3-2 1 2zM440 166l-2 4-2-2zM448 150l-5 6-3-5zM452 135l-6 7-3-6zM453 122l-6 7-3-6zM452 111l-6 6-3-6zM448 101l-7 5-2-6zM438 95l-3-3 3-1zM435 539l6-6 3 5zM435 527l6-7 3 6zM436 514l6-7 3 6zM438 501l5-7 3 5zM440 489l4-8 4 5zM443 476l3-8 4 4zM449 464l-2-8 6 0zM456 450l-7-5 5-3zM466 433l-8 1 1-6zM477 414l-8 3 0-6zM483 396l-7 5-1-6zM484 381l-7 4-1-5zM482 365l-6 6-2-6zM478 349l-6 7-3-6zM471 332l-4 8-4-5zM465 316l-2 9-5-4zM461 302l-1 9-5-3zM460 290l-1 8-5-2zM458 278l0 9-6-3zM456 267l0 8-6-1zM453 258l1 8-6-1zM449 254l3 6-5 0zM446 250l3-5 2 3zM445 240l3-8 4 4zM444 227l3-8 5 4zM444 214l4-8 4 4zM445 200l3-7 4 4zM447 186l1-5 3 2zM455 169l-5 2 0-4zM462 152l-6 5-2-5zM465 138l-6 5-2-5zM466 125l-7 5-2-6zM465 113l-7 5-2-6zM459 104l-8 3 0-6zM449 97l-1-6 4 1zM451 539l6-7 3 5zM451 526l5-6 4 5zM452 514l5-7 3 5zM453 501l4-7 4 5zM456 489l2-8 5 4zM460 477l-1-8 6 2zM463 465l-3-8 6 0zM466 452l-5-7 5-1zM471 437l-8-4 4-4zM481 418l-8 2 1-6zM491 397l-7 5-1-6zM494 380l-7 6-1-6zM494 366l-7 5-2-6zM492 351l-7 6-2-6zM488 336l-5 6-3-5zM484 320l-4 8-4-5zM481 306l-4 8-4-4zM478 293l-2 8-5-4zM477 281l-3 8-5-3zM474 270l-2 8-5-3zM470 261l-2 9-5-3zM464 257l0 3-2 0zM460 252l1-6 4 2zM458 241l2-9 5 4zM458 228l2-8 5 3zM458 215l2-8 5 3zM459 202l1-8 5 3zM462 187l-1-5 4 1zM469 170l-7 1 1-4zM475 154l-7 4-1-6zM478 139l-7 5-1-6zM479 126l-7 5-2-6zM477 114l-7 5-1-6zM472 105l-8 2 0-6zM462 98l-2-7 5 1zM453 89l3-8 5 4zM466 539l5-7 4 5zM466 526l5-7 3 5zM467 514l4-8 4 5zM468 501l3-7 4 4zM470 489l2-8 5 3zM473 478l-1-9 6 2zM476 465l-3-8 6 0zM477 453l-4-8 6-1zM480 439l-6-6 6-3zM487 422l-9-1 3-6zM498 401l-8 4 0-6zM503 383l-7 5-2-6zM504 367l-7 6-2-6zM502 352l-6 6-2-5zM501 337l-6 7-3-6zM499 323l-5 7-4-5zM496 309l-4 7-4-5zM495 296l-4 8-4-5zM494 285l-4 7-4-5zM492 275l-5 7-3-5zM488 267l-6 6-2-5zM480 261l-5 0 1-3zM474 253l-1-7 5 2zM472 241l1-8 5 3zM471 229l2-9 5 3zM471 216l2-9 5 3zM472 202l1-8 5 2zM475 188l-1-6 4 0zM482 171l-7 0 1-4zM488 155l-7 4-1-6zM491 140l-7 5-2-6zM492 127l-8 5-1-6zM491 115l-8 4-1-6zM486 105l-9 2 1-5zM476 97l-3-6 5 0zM467 89l3-8 4 4zM461 78l4-8 4 5zM479 539l5-7 4 5zM480 526l4-7 4 5zM480 514l4-8 4 5zM481 502l3-8 4 4zM482 489l2-8 5 4zM485 477l0-8 5 2zM487 465l-2-8 6 1zM489 453l-3-8 6 0zM492 440l-5-7 5-2zM496 425l-7-4 5-4zM504 408l-8 0 2-5zM509 389l-8 3 0-6zM510 371l-7 5-1-6zM509 353l-5 7-3-6zM509 337l-5 7-4-5zM509 323l-5 7-4-4zM508 310l-4 8-4-5zM508 299l-5 7-3-5zM508 289l-5 7-3-6zM508 280l-7 5-2-6zM505 271l-8 4-1-6zM496 262l-8 1 2-6zM488 253l-2-6 5 0zM485 241l1-8 5 2zM485 229l1-9 5 3zM485 216l1-9 5 3zM485 202l1-8 5 2zM488 188l-1-6 4 0zM495 172l-7 0 2-5zM501 156l-8 3 0-6zM504 142l-8 4-1-6zM504 129l-7 3-1-5zM504 116l-8 4 0-6zM500 106l-8 2 1-6zM492 96l-5-4 4-2zM481 87l3-8 5 4zM474 76l5-7 3 5zM471 64l5-7 4 5zM492 539l5-7 4 5zM492 526l5-7 4 5zM493 514l4-8 4 5zM494 502l3-8 4 4zM495 489l2-8 5 4zM497 477l1-8 5 2zM499 465l-1-8 6 1zM502 453l-3-8 6 0zM504 440l-5-7 6-1zM508 427l-7-6 6-2zM513 412l-8-3 4-5zM515 395l-8 0 2-6zM515 375l-7 4-1-6zM513 355l-4 7-4-5zM513 337l-3 8-4-4zM516 323l-3 8-5-4zM519 311l-5 7-3-4zM520 302l-5 6-3-5zM521 293l-7 5-1-6zM521 283l-7 4-1-6zM519 273l-8 3 0-6zM512 263l-9 0 2-5zM503 253l-4-6 5 0zM499 241l0-8 5 2zM498 229l1-9 5 3zM498 216l1-9 5 3zM499 203l0-9 5 2zM502 188l-3-6 5 0zM509 172l-9 0 3-5zM514 157l-8 3 0-6zM516 143l-8 3 0-6zM517 130l-8 3 0-6zM517 118l-8 2 0-6zM514 106l-8 2 0-6zM506 95l-6-2 3-3zM496 85l3-8 4 4zM488 75l5-7 3 5zM484 62l6-6 3 5zM483 50l6-7 3 5zM505 539l5-7 4 5zM505 526l5-7 4 5zM506 514l4-8 4 5zM507 502l3-8 4 4zM508 489l2-8 5 4zM510 477l1-8 5 2zM512 466l-1-9 6 1zM514 453l-2-8 6 0zM516 441l-4-8 6-1zM519 428l-6-7 6-2zM522 413l-7-5 5-3zM523 396l-8-2 4-5zM520 377l-5 2 0-4zM516 357l1 7-5-1zM517 339l1 8-5-1zM523 325l-2 8-5-3zM530 314l-5 7-4-5zM532 305l-6 5-2-5zM533 296l-7 4-1-6zM533 285l-8 3 0-6zM531 274l-8 3 0-6zM523 264l-8-1 2-5zM516 253l-4-6 5 0zM512 241l0-8 5 2zM512 229l0-9 5 2zM512 216l0-9 5 3zM512 203l0-9 5 2zM515 189l-3-7 5 0zM521 174l-8-3 3-4zM526 159l-9 1 2-6zM528 145l-8 2 1-6zM529 132l-8 2 0-6zM529 119l-8 2 1-6zM526 107l-8 1 1-6zM519 95l-6-2 3-3zM509 84l4-8 4 4zM502 73l5-7 3 5zM498 61l6-6 3 5zM496 48l6-6 3 6zM496 35l6-6 2 6zM519 539l5-7 3 4zM519 526l4-7 4 5zM519 514l4-8 4 5zM520 502l3-8 5 4zM522 490l2-9 5 3zM524 478l0-9 6 2zM526 466l-2-8 6 0zM527 453l-2-8 6 1zM528 441l-3-8 6 0zM530 428l-4-8 5-1zM532 413l-6-6 6-2zM531 397l-6-6 6-2zM527 380l0-4 2 1zM522 361l7 1-2 4zM524 345l6 4-4 3zM532 332l-2 8-5-4zM541 320l-6 5-2-5zM545 309l-7 4-1-5zM546 299l-8 3 0-6zM545 288l-8 2 0-6zM543 276l-9 1 1-6zM535 265l-8-2 3-5zM528 254l-3-7 5 0zM526 241l-1-8 5 2zM525 229l0-9 5 2zM525 216l0-9 5 2zM525 203l0-9 5 2zM528 189l-3-7 5 0zM533 175l-8-4 5-4zM537 161l-8-1 2-5zM539 147l-8 1 2-6zM540 134l-8 1 2-6zM541 121l-9 1 2-6zM538 108l-8 0 2-5zM532 96l-6-3 3-3zM523 83l3-6 4 3zM516 72l6-7 3 5zM512 60l6-6 2 5zM510 47l6-6 2 6zM509 34l6-6 2 6zM533 539l4-8 4 5zM533 526l4-7 4 4zM534 514l3-8 4 4zM535 502l2-9 5 4zM536 490l1-9 5 3zM538 478l-1-9 6 2zM540 466l-3-9 6 1zM540 453l-3-8 6 0zM540 441l-2-8 6 0zM541 428l-3-8 6 0zM542 414l-4-8 6-1zM541 399l-3-8 6 0zM537 383l1-8 5 3zM533 368l6-7 3 6zM536 355l3-6 3 3zM545 342l-6-3 3-3zM554 328l-9 1 2-6zM557 315l-8 2 1-6zM558 302l-9 2 2-6zM557 290l-8 1 1-6zM556 277l-9 1 2-6zM550 265l-9-1 3-5zM542 254l-4-6 5-2zM539 241l-1-8 5 2zM538 229l0-9 5 2zM538 216l0-9 5 2zM538 203l0-8 5 1zM541 190l-3-8 6 0zM545 176l-7-5 5-3zM549 163l-8-3 4-5zM551 150l-9-2 3-5zM552 137l-9-2 3-5zM552 123l-8-1 2-5zM551 110l-8-1 2-6zM546 96l-7-3 4-4zM538 83l1-6 4 2zM530 71l6-6 2 5zM525 59l6-6 2 6zM523 46l6-5 2 5zM522 33l6-5 2 5zM522 20l7-5 2 5zM548 539l2-8 5 4zM548 527l2-8 5 3zM548 514l2-8 5 3zM549 502l1-9 5 3zM550 489l0-8 6 2zM551 477l-1-8 6 1zM552 465l-2-8 6 0zM552 453l-2-9 6 1zM552 440l-2-8 6 1zM552 428l-2-8 6 0zM552 415l-2-9 6 1zM551 401l-1-9 6 2zM549 387l0-8 6 2zM547 375l2-9 5 3zM550 363l0-9 5 2zM558 350l-6-7 6-2zM565 335l-8-3 4-4zM568 320l-8-1 3-6zM569 305l-8 0 2-6zM570 291l-9 1 2-6zM569 278l-8 0 2-5zM565 265l-9 0 3-6zM557 253l-6-5 5-2zM553 241l-2-7 5 0zM552 228l-1-8 5 2zM551 216l0-9 5 2zM552 203l-1-8 5 1zM554 191l-3-8 6 0zM557 178l-6-6 6-3zM560 165l-7-5 5-3zM561 152l-7-4 4-4zM563 139l-8-4 4-4zM563 126l-8-3 4-5zM563 112l-8-3 4-4zM561 98l-8-4 4-4zM553 84l-1-6 4 1zM544 71l5-7 3 6zM538 58l7-5 2 5zM536 45l7-5 2 6zM536 32l7-5 1 6zM536 19l7-5 1 6zM561 540l2-8 5 3zM561 527l2-8 5 3zM561 514l2-8 5 3zM562 502l1-9 6 3zM563 489l0-8 6 2zM564 477l-1-9 6 2zM565 464l-2-8 6 1zM565 452l-2-8 6 1zM564 440l-1-8 6 1zM564 428l-1-8 5 1zM563 415l-1-8 6 2zM562 402l0-8 6 2zM562 390l0-9 5 2zM562 378l0-9 5 2zM565 366l-2-8 6 1zM571 353l-5-7 6-1zM575 339l-7-5 6-4zM578 323l-8-3 5-4zM580 308l-8-2 3-5zM582 293l-9-1 3-5zM582 279l-9 0 2-6zM579 265l-9-1 2-5zM572 252l-7-3 3-4zM568 240l-4-6 5 0zM566 228l-2-7 5 0zM565 216l-1-8 5 1zM565 203l-1-8 5 1zM567 192l-3-8 6 0zM569 180l-5-7 6-1zM570 167l-5-6 6-2zM572 154l-6-6 5-2zM573 141l-7-5 6-3zM574 128l-7-5 5-3zM575 114l-8-4 5-4zM574 99l-8-4 5-3zM567 85l-3-6 5-1zM558 71l5-7 4 5zM553 58l7-6 2 5zM551 44l7-5 2 6zM550 31l7-5 2 6zM550 18l7-5 2 6zM574 540l2-8 5 3zM574 527l2-8 5 3zM574 514l2-8 5 3zM575 502l1-9 5 3zM576 489l0-8 6 2zM577 477l-1-9 6 2zM578 464l-2-8 6 1zM578 452l-2-9 6 1zM577 440l-1-9 6 2zM576 428l-1-8 6 1zM575 416l0-8 6 1zM575 404l0-9 6 2zM576 391l-1-8 6 1zM577 379l-2-8 6 1zM579 367l-2-8 6 0zM583 354l-4-7 5-1zM586 340l-6-6 6-2zM588 326l-7-5 6-3zM590 311l-8-4 5-4zM592 295l-8-2 3-5zM592 279l-8-1 2-5zM590 263l-9 1 2-6zM586 250l-7-1 2-4zM582 238l-4-3 3-2zM580 227l-3-6 5 0zM579 215l-2-7 5 0zM579 204l-2-9 5 1zM579 192l-3-8 6 1zM580 181l-3-8 6 0zM581 169l-4-8 6-1zM583 156l-5-7 6-2zM584 143l-5-7 5-2zM585 130l-6-7 6-2zM586 116l-7-6 6-3zM585 101l-7-6 6-3zM580 85l-3-6 5-1zM575 71l3-7 4 3zM571 57l5-6 3 5zM568 44l6-6 2 6zM566 31l7-6 1 6zM565 17l7-5 1 6zM587 540l2-8 5 3zM587 527l2-8 5 3zM587 514l2-8 5 3zM588 502l1-9 5 3zM589 489l0-8 6 2zM590 477l-1-9 6 2zM591 464l-2-8 6 1zM591 451l-2-8 6 1zM590 440l-1-9 6 1zM589 428l-1-8 6 1zM589 416l-1-8 6 2zM589 404l-1-8 6 1zM590 392l-1-8 6 1zM592 380l-3-9 6 1zM593 367l-3-8 6 0zM596 354l-5-7 6-1zM598 341l-5-7 5-2zM599 328l-5-6 5-3zM601 313l-7-5 5-3zM602 297l-8-4 5-4zM602 278l-8-1 3-5zM601 262l-9 1 2-6zM599 248l-7 2 1-6zM597 237l-5-1 2-4zM594 226l-3-4 3-2zM592 215l-2-7 5 0zM592 203l-2-8 6 1zM592 192l-3-8 6 1zM592 181l-2-8 6 0zM593 169l-3-8 6 0zM594 156l-4-7 6-1zM596 143l-5-7 6-1zM596 130l-5-7 6-2zM596 115l-5-6 6-2zM595 100l-5-7 6-1zM593 85l-3-6 5-1zM590 71l0-6 5 1zM588 58l3-7 3 3zM585 44l5-7 4 5zM582 31l7-6 2 5zM580 17l7-5 2 6zM600 539l3-8 4 4zM600 527l2-8 5 3zM601 514l1-8 5 3zM601 502l1-9 6 3zM602 489l0-9 6 2zM604 476l-2-8 6 1zM604 463l-2-8 6 1zM605 451l-3-9 6 1zM604 439l-2-9 6 1zM603 427l-1-8 6 1zM602 416l-1-8 6 1zM603 405l-2-8 6 1zM604 393l-2-8 6 0zM605 380l-3-8 6 0zM606 367l-3-8 6 0zM608 354l-4-7 6-1zM611 341l-6-7 6-2zM612 328l-6-7 6-2zM613 313l-7-6 6-2zM613 297l-7-5 5-4zM613 277l-8-1 3-5zM613 261l-8 2 1-6zM613 247l-8 3 1-6zM612 235l-7 1 1-4zM609 224l-5-2 3-2zM606 214l-3-6 5 0zM605 203l-2-8 5 0zM604 191l-2-8 6 1zM604 180l-2-9 6 1zM605 167l-3-8 6 1zM606 155l-3-8 6 0zM607 142l-4-8 6-1zM607 127l-4-7 6-1zM606 113l-3-8 6 0zM606 99l-3-8 5 0zM605 85l-2-7 5 0zM605 71l-2-6 5 1zM604 58l-1-6 5 1zM602 45l2-7 3 3zM599 31l5-7 3 5zM596 17l7-6 2 6zM614 539l2-8 5 3zM614 526l2-8 5 3zM614 514l2-9 5 3zM615 501l1-9 5 3zM616 488l0-8 5 1zM617 476l-1-9 5 1zM618 463l-2-9 6 1zM618 450l-3-8 6 0zM618 438l-3-9 6 1zM617 426l-2-8 6 1zM616 416l-1-9 6 2zM617 405l-2-8 6 1zM618 393l-3-8 6 0zM619 380l-3-8 6 0zM620 366l-4-7 6-1zM621 352l-4-7 6-1zM623 338l-5-6 6-2zM625 325l-7-6 6-3zM625 310l-7-5 6-3zM625 294l-7-4 5-4zM626 277l-9-1 3-6zM626 261l-8 2 1-6zM626 247l-8 3 1-6zM625 235l-7 2 1-6zM624 223l-6 0 1-4zM620 213l-3-4 3-1zM617 202l-1-7 5 1zM616 190l0-8 5 1zM616 178l-1-9 6 2zM617 165l-2-8 6 1zM617 153l-2-9 6 1zM618 139l-3-8 6 0zM618 125l-2-8 5 0zM618 112l-2-8 5 1zM618 98l-2-7 5 1zM618 85l-2-7 5 1zM618 71l-2-6 5 0zM618 58l-2-6 5 1zM617 45l-1-6 5 1zM616 32l1-6 3 1zM614 18l3-6 3 3zM628 539l1-8 5 3zM628 526l1-8 5 3zM628 513l1-8 5 3zM629 501l0-9 5 2zM630 488l-1-8 5 1zM631 475l-2-8 5 1zM631 463l-3-9 6 1zM631 450l-3-8 6 0zM630 438l-2-8 6 1zM629 427l-1-9 6 2zM628 416l-1-8 6 1zM628 405l-1-8 6 1zM630 392l-2-8 6 1zM632 378l-3-8 6 0zM634 364l-5-8 6-1zM635 349l-5-7 5-1zM636 335l-6-6 6-3zM637 321l-6-5 5-3zM638 307l-7-4 4-4zM638 293l-7-4 4-4zM639 277l-9-1 3-6zM639 261l-8 2 1-6zM639 247l-8 3 1-6zM639 234l-8 3 1-6zM638 222l-7 1 1-4zM633 212l-3-3 3-2zM630 202l-1-8 5 2zM629 190l0-9 5 2zM629 177l0-9 5 2zM629 164l0-9 5 2zM630 151l-1-8 5 1zM630 138l-1-8 5 1zM631 124l-2-7 5 1zM631 111l-2-7 5 1zM631 98l-2-7 5 1zM631 85l-2-7 5 0zM632 71l-3-6 5 0zM632 58l-3-5 5-1zM632 45l-3-5 5-1zM631 32l-2-6 5 1zM630 18l0-5 3 1zM641 539l1-8 5 3zM641 526l1-8 5 3zM641 513l1-8 5 3zM642 501l0-8 5 1zM643 488l-1-8 5 1zM643 475l-1-8 5 1zM644 463l-3-8 6 0zM643 451l-2-8 6 0zM642 440l-1-9 6 2zM640 429l0-9 5 2zM638 418l1-9 5 3zM638 406l0-9 6 2zM640 392l-1-9 6 2zM644 376l-3-8 6 0zM647 361l-5-7 6-1zM648 347l-6-6 6-2zM649 334l-6-6 5-3zM650 320l-7-5 5-3zM651 306l-8-4 5-4zM651 292l-8-3 4-5zM652 276l-9 0 3-6zM652 261l-8 2 1-6zM652 247l-8 3 1-6zM652 234l-8 3 0-6zM651 222l-7 2 1-6zM647 212l-4-3 3-2zM643 202l-1-7 5 1zM642 189l0-8 5 2zM642 177l0-9 5 2zM642 164l0-9 5 2zM643 150l-1-7 5 1zM643 137l-1-7 5 1zM644 124l-2-7 5 1zM644 111l-2-7 5 1zM644 98l-2-7 5 0zM645 85l-3-7 5 0zM645 71l-3-5 5-1zM645 58l-3-5 5-1zM645 45l-3-5 5-1zM645 32l-3-5 5-1zM645 19l-2-5 3-1zM654 539l1-8 5 3zM654 526l1-8 5 3zM654 513l1-8 5 3zM655 501l0-8 5 1zM656 488l-1-8 5 1zM656 475l-1-8 5 1zM656 463l-2-8 6 0zM655 452l-1-9 6 1zM654 441l-1-8 6 1zM651 430l1-8 5 2zM649 419l1-9 6 3zM648 406l1-8 5 3zM649 392l1-8 5 3zM655 376l-2-8 6 1zM659 361l-4-7 6-2zM661 347l-6-6 6-3zM662 333l-6-5 5-3zM663 320l-7-5 5-3zM664 306l-8-4 5-4zM664 292l-8-3 4-5zM665 276l-9 0 3-6zM665 261l-8 2 1-6zM665 247l-8 3 1-6zM665 234l-8 3 0-6zM664 222l-7 2 1-6zM661 211l-5-2 3-2zM657 202l-2-7 5 0zM656 190l-1-8 5 1zM656 177l-1-8 5 1zM656 164l-1-8 5 1zM657 150l-2-7 5 1zM657 137l-2-7 5 0zM657 124l-2-7 5 0zM658 111l-3-7 5 0zM658 98l-3-7 5 0zM658 85l-3-6 5-1zM658 71l-3-5 5-1zM658 58l-3-5 5-1zM658 45l-3-5 5-1zM658 32l-3-5 5-1zM658 19l-2-5 3-1zM667 539l1-8 5 3zM667 526l1-8 5 3zM667 513l1-8 5 2zM668 501l0-8 5 1zM669 488l-1-8 5 1zM669 475l-2-8 6 1zM669 463l-2-8 6 1zM668 452l-1-9 6 2zM666 441l0-8 5 2zM663 431l1-9 5 3zM661 419l1-8 5 3zM659 407l2-8 5 3zM659 393l2-8 5 3zM664 377l1-8 5 2zM671 361l-3-8 6 0zM674 347l-6-6 6-2zM675 334l-6-6 5-3zM676 320l-7-5 5-3zM677 307l-7-4 4-4zM678 293l-8-4 4-4zM678 277l-9-1 3-5zM678 262l-8 1 1-6zM678 248l-8 2 1-6zM678 235l-8 2 1-6zM677 222l-7 1 1-4zM673 212l-4-3 3-2zM671 202l-3-7 5 0zM670 190l-2-8 5 0zM670 177l-2-8 5 0zM670 164l-2-8 5 0zM670 151l-2-8 5 0zM671 138l-3-8 5 0zM671 125l-3-7 5-1zM671 112l-3-7 5-1zM672 99l-4-7 5-1zM672 85l-4-6 5-1zM672 72l-4-6 5-1zM672 58l-4-5 5-1zM672 45l-4-5 5-1zM672 32l-4-5 5-1zM671 18l-2-4 3-1zM680 539l1-8 5 3zM680 526l1-8 5 3zM681 513l0-8 5 2zM681 501l0-8 5 1zM682 488l-1-8 5 1zM683 475l-3-8 6 1zM682 463l-2-8 6 1zM681 451l-1-8 6 1zM679 441l0-9 5 2zM676 430l1-9 5 3zM672 419l2-9 5 4zM670 406l3-8 4 4zM670 393l3-8 4 4zM674 378l2-8 5 3zM682 362l-2-8 6 1zM687 348l-6-7 6-2zM689 334l-7-5 5-3zM690 321l-7-5 5-3zM690 307l-7-4 5-4zM691 294l-8-4 4-4zM691 279l-8-3 3-5zM690 263l-8-1 3-5zM690 250l-8-1 2-4zM689 237l-7-1 3-4zM688 225l-6-2 3-4zM686 214l-5-5 5-2zM684 202l-3-7 5 0zM683 190l-2-8 5 0zM683 177l-2-8 5 0zM683 164l-2-8 5 0zM684 151l-3-8 5 0zM684 138l-3-7 5-1zM685 125l-4-7 5-1zM685 112l-4-7 5-1zM685 99l-4-7 5-1zM686 85l-5-6 5-1zM686 72l-5-6 5-2zM686 59l-5-6 5-1zM685 45l-4-5 5-1zM685 32l-4-5 5-1zM685 18l-3-4 3-1zM693 538l1-7 5 3zM693 526l1-8 5 3zM694 513l0-8 5 2zM694 501l0-8 5 1zM695 488l-1-8 5 1zM695 475l-2-8 6 1zM695 463l-2-8 6 1zM694 451l-1-9 6 2zM691 439l1-8 5 2zM688 428l2-8 5 3zM684 417l3-8 5 4zM681 405l4-8 4 4zM681 392l3-8 5 4zM685 377l3-8 4 4zM693 362l-1-8 6 1zM699 348l-5-7 6-1zM702 334l-7-5 6-3zM703 321l-7-5 5-3zM704 308l-8-4 5-4zM704 295l-8-5 5-4zM703 281l-7-4 4-4zM702 267l-8-5 5-4zM700 254l-6-6 5-2zM699 241l-5-6 5-2zM699 229l-5-7 5-2zM698 216l-5-7 6-1zM697 203l-4-8 6 0zM697 190l-4-8 6 0zM697 177l-4-8 6 0zM697 164l-3-8 5 0zM697 151l-3-8 5 0zM697 138l-3-7 5-1zM698 125l-4-7 5-1zM698 112l-4-7 5-1zM699 99l-5-7 5-1zM699 85l-5-6 5-2zM700 72l-6-5 5-3zM700 59l-6-5 5-3zM699 46l-5-5 5-3zM699 32l-5-5 5-2zM698 18l-3-4 3-1zM706 539l1-8 5 3zM706 526l1-8 5 3zM706 513l1-8 5 2zM707 501l0-8 5 1zM708 488l-1-8 5 1zM708 475l-2-8 6 1zM708 463l-2-9 6 2zM706 451l0-9 6 2zM704 438l1-8 6 3zM701 426l3-8 4 4zM697 414l3-7 4 4zM693 403l4-8 4 5zM692 390l5-7 3 4zM696 376l4-7 4 4zM704 362l1-8 5 2zM711 348l-4-7 6-1zM715 335l-7-6 6-3zM716 321l-7-5 5-3zM716 308l-7-4 5-4zM716 295l-7-5 5-3zM715 282l-7-5 5-4zM713 269l-6-7 6-2zM712 256l-5-7 6-2zM711 243l-4-7 6-1zM711 230l-4-7 6-1zM711 217l-4-8 5-1zM710 177l-4-8 6 0zM710 164l-3-8 5 0zM710 151l-3-7 5-1zM711 138l-4-7 5-1zM711 125l-4-7 5-1zM711 112l-4-7 5-1zM712 99l-5-7 5-2zM713 85l-6-5 5-3zM713 72l-6-5 5-3zM713 59l-6-5 5-3zM713 46l-6-5 5-3zM713 32l-6-4 5-3zM712 18l-4-4 3-1zM719 539l1-8 5 3zM719 526l1-8 5 3zM719 513l1-8 5 2zM720 501l0-8 5 1zM721 488l-1-8 5 1zM721 475l-2-8 6 1zM721 463l-2-9 6 1zM720 450l-1-9 6 2zM717 437l2-8 5 3zM713 424l4-7 4 4zM709 412l5-7 3 5zM705 400l5-7 3 5zM704 388l5-7 3 5zM707 375l5-7 4 5zM715 361l2-8 5 3zM723 348l-4-8 6 0zM727 335l-6-7 5-2zM728 322l-6-6 5-3zM729 308l-7-5 5-3zM729 295l-7-5 5-3zM727 282l-6-5 5-3zM725 269l-5-6 6-2zM724 256l-4-7 6-1zM724 244l-4-8 6-1zM724 230l-4-7 6-1zM724 217l-4-7 5-1zM724 203l-5-7 6-1zM723 190l-4-7 6-1zM723 177l-4-7 6-1zM724 164l-5-7 6-1zM724 151l-4-7 5-1zM724 138l-5-7 6-1zM724 125l-4-7 5-1zM724 112l-4-7 5-1zM725 99l-5-7 5-2zM726 85l-6-5 5-3zM726 72l-6-5 5-3zM726 59l-6-5 5-3zM726 46l-6-5 5-3zM726 32l-6-4 5-3zM725 17l-4-3 3-1zM732 539l1-8 5 3zM732 526l1-8 5 3zM732 513l1-8 5 2zM733 501l0-8 5 1zM734 488l-2-8 6 1zM734 475l-2-8 6 1zM734 462l-2-8 6 1zM733 449l-1-8 6 2zM730 436l2-8 5 3zM726 423l4-7 4 4zM721 410l6-6 3 5zM717 398l6-6 3 5zM716 386l6-6 2 5zM719 373l5-6 3 5zM727 360l3-7 4 4zM734 347l-2-8 6 1zM738 335l-5-7 6-2zM741 322l-7-6 6-3zM741 309l-6-6 5-3zM741 296l-6-6 5-3zM740 283l-6-6 5-3zM738 269l-5-6 6-2zM737 256l-4-7 6-1zM737 243l-4-7 6-1zM737 230l-4-7 6-1zM737 217l-4-8 5-1zM737 203l-5-7 6-1zM737 190l-5-7 6-1zM737 177l-5-7 6-1zM737 164l-5-7 6-1zM737 151l-5-7 6-1zM737 138l-5-7 6-1zM737 125l-5-7 6-1zM737 112l-4-7 5-1zM737 99l-4-7 5-1zM738 85l-5-6 5-2zM739 72l-6-5 5-3zM739 59l-6-5 5-3zM739 46l-6-5 5-3zM745 539l1-8 5 3zM745 526l1-8 5 3zM745 513l1-8 5 2zM746 501l0-8 5 1zM747 488l-2-8 6 1zM747 475l-2-8 6 1zM747 462l-2-8 6 1zM746 449l0-8 5 1zM743 435l2-8 5 4zM738 422l5-7 3 5zM733 409l7-6 2 6zM729 397l7-6 2 6zM728 385l6-6 3 6zM731 372l6-6 3 5zM739 360l3-8 5 4zM746 347l-1-8 6 1zM751 334l-5-7 6-1zM753 322l-6-6 5-3zM754 309l-7-6 6-3zM754 296l-7-6 6-3zM753 283l-6-6 5-3zM752 269l-6-6 6-2zM750 256l-4-7 6-1zM750 243l-4-7 6-1zM750 230l-4-7 5-1zM750 216l-5-7 6-1zM750 203l-5-7 6-1zM750 190l-5-7 6-1zM750 177l-5-7 6-1zM750 164l-5-7 6-1zM750 151l-5-7 6-1zM750 138l-5-7 6-1zM751 85l-5-6 5-2zM758 539l1-8 5 3zM758 526l1-8 5 3zM758 513l1-8 5 2zM759 501l0-8 5 1zM760 488l-1-8 5 1zM760 475l-2-8 6 1zM760 462l-2-8 6 1zM759 449l0-8 5 1zM755 435l4-8 4 4zM750 421l6-6 2 5zM745 408l7-5 2 6zM741 396l7-5 2 6zM740 384l7-5 2 5zM744 372l6-6 2 5zM751 359l4-7 4 4zM759 347l-1-9 6 2zM764 334l-5-7 6-1zM766 322l-6-6 5-3zM767 309l-7-6 6-3zM767 296l-7-6 6-3zM767 283l-7-6 5-3zM765 269l-6-6 6-3zM764 255l-5-6 5-2zM763 242l-5-7 6-1zM763 229l-5-7 6-1zM763 215l-4-6 5-1zM763 202l-4-6 5-1zM763 189l-4-6 5-1zM763 177l-4-7 5-1zM763 164l-4-7 5-1zM763 151l-4-7 5-1zM763 138l-4-7 5-1z" fill="#fff"/><polygon points="181,5 181,15.4 183.9,25.5 187.8,35.2 190.7,58.4 196.5,79.7 199.4,103 208.1,122.3 212,134 224.6,153.3 231.3,168.8 235.2,184.3 241,203.7 250.7,221.1 258.5,232.7 264.3,248.2 270.1,261.8 276.9,277.3 279.8,290.8 289.5,304.4 299.1,316 305,321.8 314.6,319.9 320,315 322.7,310.5 325.4,302.4 333.6,296.1 347.1,293.3 357.1,294.2 356.2,292.4 349.8,292 344.4,288.8 344.4,283.4 351.6,272.5 352.5,268 358,264.4 367.5,262.6 367.9,240 370.8,219.2 374.7,195.9 375.6,174.6 374.7,145.6 377.6,130.1 385.3,122.3 399.9,112.7 417.3,106.8 420,108.3 431.3,100.4 432.4,91.3 447.1,82.3 465.2,68.7 481,55.2 494.6,39.4 505.9,28.1 517.2,21.3 537.5,15.6 540,5" fill="#bebebe" stroke="#000" stroke-width="1.8" stroke-linejoin="round"/><polygon points="368.8,280.7 374.2,278 380.6,279.8 382.4,285.2 388.7,288.8 395,296.1 401.4,305.1 407.7,314.1 414,326.8 419.5,339.5 420.4,351.2 417.6,363 410.4,369.3 396.9,375.6 385.1,377.4 377.9,373.8 371.5,364.8 367.9,348.5 365.2,330.4 366.1,316.9 369.3,303.3 371.5,296.1 374.2,287.9 372.4,284.3" fill="#bebebe" stroke="#000" stroke-width="1.8" stroke-linejoin="round"/><polygon points="728,5 728,15 728.2,20.7 734.6,27.8 737.4,34.9 738.1,44.1 742.4,46.9 746.6,59.7 750.2,72.5 750.2,81 746.6,91.7 743.1,102.3 741,116.5 745.2,121.5 750,124 753,112 754.5,105.9 756.6,116.5 760.9,113 761.6,123.6 775,123.6 775,5" fill="#bebebe" stroke="#000" stroke-width="1.8" stroke-linejoin="round"/><polygon points="709,182 713,183 712,195 709,207 708.5,215 705,228 701.5,239 698,238 699,226 702.5,212 703,200 706,190" fill="#bebebe" stroke="#000" stroke-width="1.8" stroke-linejoin="round"/><polygon points="722.5,28 727,24.5 733,27 735.5,33 736,41 731,41.5 726,35 722,31" fill="#bebebe" stroke="#000" stroke-width="1.8" stroke-linejoin="round"/><polygon points="722,44 727.5,43 729,47 726,50 723,48" fill="#bebebe" stroke="#000" stroke-width="1.8" stroke-linejoin="round"/><polygon points="706,12 720,12 719,18 712,20 707,17.5" fill="#bebebe" stroke="#000" stroke-width="1.8" stroke-linejoin="round"/><ellipse cx="695.3" cy="255.3" rx="3.5" ry="5.5" fill="#bebebe" stroke="#000" stroke-width="1.8" stroke-linejoin="round"/><ellipse cx="703.5" cy="294" rx="2" ry="2" fill="#bebebe" stroke="#000" stroke-width="1.8" stroke-linejoin="round"/><ellipse cx="712.2" cy="318" rx="2.5" ry="2.5" fill="#bebebe" stroke="#000" stroke-width="1.8" stroke-linejoin="round"/><ellipse cx="720.9" cy="323" rx="3" ry="3.5" fill="#bebebe" stroke="#000" stroke-width="1.8" stroke-linejoin="round"/><ellipse cx="730.5" cy="351" rx="3" ry="6.5" fill="#bebebe" stroke="#000" stroke-width="1.8" stroke-linejoin="round"/><ellipse cx="177" cy="236" rx="1.5" ry="1.5" fill="#bebebe" stroke="#000" stroke-width="1.8" stroke-linejoin="round"/><ellipse cx="189.5" cy="313" rx="1.5" ry="1.5" fill="#bebebe" stroke="#000" stroke-width="1.8" stroke-linejoin="round"/><ellipse cx="511" cy="21" rx="4.5" ry="3.2" fill="#bebebe" stroke="#000" stroke-width="1.8" stroke-linejoin="round"/>
</g>
<text x="208" y="52.9" font-size="32" font-weight="bold">Jul.</text><rect x="309" y="26.8" width="50.2" height="20.3" fill="#00008b"/><rect x="309" y="59.3" width="50.2" height="20.3" fill="#8b0000"/><text x="381" y="45.3" font-size="22" font-weight="bold">BBW</text><text x="381" y="77.4" font-size="22" font-weight="bold">ASW</text><text x="260.3" y="123.2" font-size="31" font-weight="bold" fill="#fff">0.2 m/s</text><path d="M294.3 134H314" stroke="#fff" stroke-width="1.6"/><path d="M319.5 134L312.5 131.2V136.8Z" fill="#fff"/>
<rect x="112.3" y="13.5" width="649" height="518.8" fill="none" stroke="#000" stroke-width="2.6"/>
<text x="112.3" y="572.6" font-size="26.5" text-anchor="middle">70°E</text>
<text x="242.1" y="572.6" font-size="26.5" text-anchor="middle">75°E</text>
<text x="371.9" y="572.6" font-size="26.5" text-anchor="middle">80°E</text>
<text x="501.7" y="572.6" font-size="26.5" text-anchor="middle">85°E</text>
<text x="631.5" y="572.6" font-size="26.5" text-anchor="middle">90°E</text>
<text x="761.3" y="572.6" font-size="26.5" text-anchor="middle">95°E</text>
<text x="91" y="542" font-size="26.5" text-anchor="end">0°</text>
<text x="91" y="412.3" font-size="26.5" text-anchor="end">5°N</text>
<text x="91" y="282.6" font-size="26.5" text-anchor="end">10°N</text>
<text x="91" y="152.9" font-size="26.5" text-anchor="end">15°N</text>
<text x="91" y="23.2" font-size="26.5" text-anchor="end">20°N</text>
<path d="M112.3 532.3V545.3M242.1 532.3V545.3M371.9 532.3V545.3M501.7 532.3V545.3M631.5 532.3V545.3M761.3 532.3V545.3M112.3 532.3H98.8M112.3 402.6H98.8M112.3 272.9H98.8M112.3 143.2H98.8M112.3 13.5H98.8" stroke="#000" stroke-width="2.6" fill="none"/>
<text x="436.8" y="602.6" font-size="27.2" text-anchor="middle">Longitude</text>
<text transform="translate(23.2,272.9) rotate(-90)" font-size="27.2" text-anchor="middle">Latitude</text>
<polyline points="961,13.2 955.5,18.4 950.1,23.6 944.6,28.8 939.2,34 939.2,34" fill="none" stroke="#000" stroke-width="1.1"/><polyline points="911.6,60.7 906.3,65.9 901,71.1 898.4,73.7" fill="none" stroke="#000" stroke-width="1.1"/><text transform="translate(925.8,47.8) rotate(-44.1)" font-size="25" text-anchor="middle" dy="8.5">14</text><polyline points="1148,13.2 1142.6,18.4 1137.1,23.6 1131.7,28.8 1126.4,34 1121,39.2 1115.6,44.3 1110.3,49.5 1105,54.7 1099.7,59.9 1096.8,62.8" fill="none" stroke="#000" stroke-width="1.1"/><polyline points="1069.5,89.8 1064.4,95 1059.2,100.1 1054.1,105.3 1048.9,110.5 1043.8,115.7 1038.7,120.9 1033.6,126.1 1028.6,131.3 1023.5,136.5 1018.5,141.7 1013.5,146.9 1008.5,152.1 1003.5,157.3 998.5,162.4 993.6,167.6 988.7,172.8 983.8,178 978.9,183.2 974,188.4 969.2,193.6 964.3,198.8 959.5,204 954.7,209.2 949.9,214.4 945.1,219.5 940.4,224.7 935.6,229.9 930.9,235.1 926.2,240.3 921.5,245.5 916.9,250.7 912.2,255.9 907.6,261.1 903,266.3 898.4,271.5 898.4,271.5" fill="none" stroke="#000" stroke-width="1.1"/><text transform="translate(1083.5,76.4) rotate(-44.8)" font-size="25" text-anchor="middle" dy="8.5">16</text><polyline points="1334.4,13.2 1329,18.4 1323.6,23.6 1318.2,28.8 1312.9,34 1307.5,39.2 1302.2,44.3 1296.9,49.5 1291.6,54.7 1287.1,59.1" fill="none" stroke="#000" stroke-width="1.1"/><polyline points="1260,86.1 1254.8,91.3 1249.7,96.5 1244.5,101.7 1239.4,106.9 1234.3,112.1 1229.2,117.3 1224.2,122.5 1219.1,127.7 1214.1,132.9 1209.1,138 1204.1,143.2 1199.1,148.4 1194.1,153.6 1189.2,158.8 1184.3,164 1179.3,169.2 1174.4,174.4 1169.6,179.6 1164.7,184.8 1159.9,190 1155,195.1 1150.2,200.3 1145.4,205.5 1140.7,210.7 1135.9,215.9 1131.2,221.1 1126.5,226.3 1121.7,231.5 1117.1,236.7 1112.4,241.9 1107.7,247.1 1103.1,252.2 1098.5,257.4 1093.9,262.6 1089.3,267.8 1084.7,273 1080.2,278.2 1075.7,283.4 1071.1,288.6 1066.6,293.8 1062.2,299 1057.7,304.2 1053.3,309.3 1048.8,314.5 1044.4,319.7 1040,324.9 1035.7,330.1 1031.3,335.3 1027,340.5 1022.6,345.7 1018.3,350.9 1014,356.1 1009.8,361.3 1005.5,366.4 1001.3,371.6 997.1,376.8 992.9,382 988.7,387.2 984.5,392.4 980.4,397.6 976.3,402.8 972.1,408 968,413.2 964,418.4 959.9,423.5 955.9,428.7 951.8,433.9 947.8,439.1 943.8,444.3 939.9,449.5 935.9,454.7 932,459.9 928.1,465.1 924.2,470.3 920.3,475.5 916.4,480.6 912.6,485.8 908.7,491 904.9,496.2 901.1,501.4 898.5,505" fill="none" stroke="#000" stroke-width="1.1"/><text transform="translate(1272.7,72) rotate(-44.8)" font-size="25" text-anchor="middle" dy="8.5">18</text><polyline points="1520.3,13.2 1514.9,18.4 1509.5,23.6 1505.8,27.2" fill="none" stroke="#000" stroke-width="1.1"/><polyline points="1478.5,53.9 1473.2,59.1 1468,64.3 1462.8,69.5 1457.6,74.7 1452.4,79.9 1447.2,85.1 1442.1,90.3 1437,95.5 1431.8,100.7 1426.7,105.9 1421.7,111.1 1416.6,116.2 1411.6,121.4 1406.5,126.6 1401.5,131.8 1396.5,137 1391.6,142.2 1386.6,147.4 1381.7,152.6 1376.7,157.8 1371.8,163 1366.9,168.2 1362.1,173.3 1357.2,178.5 1352.4,183.7 1347.6,188.9 1342.7,194.1 1338,199.3 1333.2,204.5 1328.4,209.7 1323.7,214.9 1319,220.1 1314.3,225.3 1309.6,230.4 1304.9,235.6 1300.3,240.8 1295.7,246 1291,251.2 1286.4,256.4 1281.9,261.6 1277.3,266.8 1272.8,272 1268.2,277.2 1263.7,282.4 1259.2,287.5 1254.8,292.7 1250.3,297.9 1245.9,303.1 1241.4,308.3 1237,313.5 1232.6,318.7 1228.3,323.9 1223.9,329.1 1219.6,334.3 1215.3,339.5 1211,344.6 1206.7,349.8 1202.4,355 1198.2,360.2 1193.9,365.4 1189.7,370.6 1185.5,375.8 1181.3,381 1177.2,386.2 1173,391.4 1168.9,396.6 1164.8,401.7 1160.7,406.9 1156.6,412.1 1152.6,417.3 1148.5,422.5 1144.5,427.7 1140.5,432.9 1136.5,438.1 1132.5,443.3 1128.6,448.5 1124.6,453.7 1120.7,458.8 1116.8,464 1112.9,469.2 1109.1,474.4 1105.2,479.6 1101.4,484.8 1097.6,490 1093.8,495.2 1090,500.4 1086.3,505.6 1082.5,510.8 1078.8,515.9 1075.1,521.1 1071.4,526.3 1067.7,531.5 1067.2,532.3" fill="none" stroke="#000" stroke-width="1.1"/><text transform="translate(1491,39.5) rotate(-44.4)" font-size="25" text-anchor="middle" dy="8.5">20</text><polyline points="1611.2,107.2 1606.2,112.3 1601.1,117.5 1596.1,122.7 1591.1,127.9 1586.1,133.1 1583.7,135.7" fill="none" stroke="#000" stroke-width="1.1"/><polyline points="1557.6,163.2 1552.7,168.4 1547.9,173.6 1543,178.8 1538.2,184 1533.4,189.2 1528.7,194.4 1523.9,199.6 1519.2,204.7 1514.4,209.9 1509.7,215.1 1505,220.3 1500.4,225.5 1495.7,230.7 1491.1,235.9 1486.4,241.1 1481.8,246.3 1477.2,251.5 1472.7,256.7 1468.1,261.8 1463.6,267 1459.1,272.2 1454.6,277.4 1450.1,282.6 1445.6,287.8 1441.1,293 1436.7,298.2 1432.3,303.4 1427.9,308.6 1423.5,313.8 1419.2,318.9 1414.8,324.1 1410.5,329.3 1406.2,334.5 1401.9,339.7 1397.6,344.9 1393.3,350.1 1389.1,355.3 1384.9,360.5 1380.7,365.7 1376.5,370.9 1372.3,376.1 1368.1,381.2 1364,386.4 1359.9,391.6 1355.8,396.8 1351.7,402 1347.6,407.2 1343.6,412.4 1339.5,417.6 1335.5,422.8 1331.5,428 1327.5,433.2 1323.6,438.3 1319.6,443.5 1315.7,448.7 1311.8,453.9 1307.9,459.1 1304,464.3 1300.2,469.5 1296.3,474.7 1292.5,479.9 1288.7,485.1 1284.9,490.3 1281.1,495.4 1277.4,500.6 1273.6,505.8 1269.9,511 1266.2,516.2 1262.5,521.4 1258.9,526.6 1255.2,531.8 1254.8,532.3" fill="none" stroke="#000" stroke-width="1.1"/><text transform="translate(1568.6,147.4) rotate(-46.5)" font-size="25" text-anchor="middle" dy="8.5">22</text><polyline points="1611.2,311.9 1606.8,317.1 1602.5,322.3 1598.2,327.5 1593.9,332.7 1589.6,337.9 1585.3,343.1 1581.1,348.3 1576.9,353.5 1572.7,358.7 1568.5,363.9 1566,367" fill="none" stroke="#000" stroke-width="1.1"/><polyline points="1542.3,396.8 1538.2,402 1534.2,407.2 1530.1,412.4 1526.1,417.6 1522.1,422.8 1518.1,428 1514.2,433.2 1510.2,438.3 1506.3,443.5 1502.4,448.7 1498.5,453.9 1494.7,459.1 1490.8,464.3 1487,469.5 1483.1,474.7 1479.3,479.9 1475.6,485.1 1471.8,490.3 1468,495.4 1464.3,500.6 1460.6,505.8 1456.9,511 1453.2,516.2 1449.6,521.4 1445.9,526.6 1442.3,531.8 1441.9,532.3" fill="none" stroke="#000" stroke-width="1.1"/><text transform="translate(1552.2,380.3) rotate(-51.5)" font-size="25" text-anchor="middle" dy="8.5">24</text><path d="M1306.6 154h0M1356.1 141.5h0M1374.3 143.5h0M1372.8 126.9h0M1381.4 149.6h0M1389.5 134.9h0M1337 145.8h0M1325.3 141.8h0M1380.4 127h0M1371.4 125.5h0M1368.7 158.3h0M1350.4 156.4h0M1302.1 141.3h0M1376.4 125h0M1394 136h0M1341.5 142.2h0M1312.6 149.2h0M1347.8 150h0M1325.7 148.5h0M1371.1 135.3h0M1361.2 153.2h0M1390.5 148.1h0M1382.3 142.2h0M1381.5 122.7h0M1370.8 141.7h0M1367.8 141.5h0M1377.5 160.2h0M1382.1 148.7h0M1334.1 147.5h0M1378.7 131.4h0M1291.7 148.3h0M1384.6 121h0M1364.1 164.9h0M1370.8 160h0M1295.9 158.4h0M1307.7 155.3h0M1315.9 154.4h0M1384.1 130.6h0M1342.2 145.7h0M1389.1 118.9h0M1352.6 143.2h0M1344.6 146.3h0M1392.1 134.2h0M1369.3 139.7h0M1357.1 139.3h0M1315.2 154.8h0M1375.3 156h0M1329.8 141.9h0M1298.2 141.5h0M1383 159.3h0M1355.3 158.1h0M1359.6 164h0M1362.9 153.6h0M1329.9 149.5h0M1367.4 140.5h0M1363.4 125.3h0M1324.5 151.1h0M1361 128.6h0M1389.4 132.2h0M1305.4 153.5h0M1310.3 148.5h0M1388.3 140.8h0M1335.2 149.7h0M1387.7 154.9h0M1291.2 142.8h0M1293.3 149.1h0M1363 127.3h0M1290 145.4h0M1372.6 161.8h0M1373.8 163.1h0M1291.1 147.6h0M1367.9 158.1h0M1375.1 149h0M1354.6 141h0M1373.5 133.1h0M1320.6 150.3h0M1383 117.3h0M1296.3 143.4h0M1360.6 124.3h0M1293.1 142.4h0M1360.9 151.8h0M1387.3 145h0M1332.2 154h0M1365.9 144.2h0M1326.3 144.7h0M1364 142.4h0M1374.2 166.8h0M1360.8 126h0M1371.2 166.6h0M1391.4 136.2h0M1326.3 149.5h0M1353.2 157.9h0M1387.3 144.9h0M1382.1 125.4h0M1394.4 146h0M1370.9 157h0M1382.2 134.6h0M1308 145.1h0M1375.1 134.6h0M1333.8 147.5h0M1292 152.5h0M1387 144.1h0M1383.5 143.6h0M1333.9 151.1h0M1370.4 157.6h0M1357.8 128.1h0M1366.8 156.4h0M1393.9 135.4h0M1359.2 147.6h0M1366.6 161.2h0M1330.2 150.3h0M1352.3 154.2h0M1380.4 157.6h0M1371.6 160.1h0M1387 124.9h0M1378.5 165.9h0M1376.8 128.8h0M1361.1 130.6h0M1341.6 155.4h0M1312.2 153.8h0M1324.5 151.6h0M1362.6 137.6h0M1365.6 148.3h0M1336 142.8h0M1390.6 135.3h0M1356.2 150.8h0M1368.8 150.8h0M1337.4 143.5h0M1291.3 151.2h0M1351 147.7h0M1298.4 142.1h0M1310.6 154.6h0M1314.8 148.6h0M1344 152.4h0M1292.8 142.6h0M1383.1 158.8h0M1386.8 117.8h0M1365 144.5h0M1359.2 152h0M1372.8 157.8h0M1301 152.3h0M1334 154h0M1355.3 141.2h0M1310.1 142.4h0M1380.7 133.1h0M1359.5 126.8h0M1357.8 139.8h0M1366.8 144.4h0M1362.1 141.6h0M1378.4 121.7h0M1360.8 158.9h0M1381.8 127.7h0M1394.2 132.5h0M1355.2 129.3h0M1353.7 157.2h0M1372.4 164.8h0M1383.4 161.9h0M1392.3 142.7h0M1363.1 143.6h0M1391.3 151.9h0M1334.6 152.5h0M1294.3 150.8h0M1300.9 143.3h0M1364.2 137.6h0M1363.2 162.6h0M1392.4 128.3h0M1355.1 131.6h0M1363.2 163.3h0M1387.9 134h0M1355.8 161.6h0M1373.8 123.4h0M1349.6 145.9h0M1378.7 163.3h0M1387.1 131.4h0M1379.3 157.3h0M1366.1 127.6h0M1337.8 154.2h0M1371.9 124.2h0M1298.1 155.5h0M1306.8 145.6h0M1356.2 150.4h0M1390.9 139.2h0M1353.1 136.7h0M1369.7 126.4h0M1326.3 144.9h0M1301.4 144.7h0M1377.4 152.1h0M1361.5 131.8h0M1354.1 157.3h0M1317 152.9h0M1392.1 144.4h0M1384.6 118.7h0M1365.4 128.8h0M1368.3 138.2h0M1357 150.4h0M1391.2 125.1h0M1345.9 154.4h0M1343 145.9h0M1333.4 153.6h0M1360.3 128.6h0M1362.2 138.7h0M1387.4 150.4h0M1379.5 142.2h0M1307.4 148.4h0M1365.2 153h0M1378.6 141.6h0M1379.8 148.7h0M1375.7 140.6h0M1308.8 147.8h0M1357 139.6h0M1325.3 152.9h0M1310.8 143.6h0M1329.4 151.8h0M1365.8 136.9h0M1368.4 170.9h0M1326.9 142.6h0M1331.2 152h0M1375.2 158.2h0M1382.4 160.6h0M1332.6 151.3h0M1363.8 128.8h0M1373 138.4h0M1371.5 167.9h0M1371.1 135.6h0M1384.5 124.3h0M1368.9 129.9h0M1389 140.9h0M1372.5 170.7h0M1303.9 145.5h0M1387.2 125h0M1355.5 144.5h0M1391 143.5h0M1368.5 121.7h0M1373.9 136.8h0M1352.3 148.5h0M1366.7 146.7h0M1386.9 129.8h0M1299 147.6h0M1386.3 153.9h0M1377 127.6h0M1339.5 151.9h0M1291.9 145.1h0M1347.3 148h0M1364 167h0M1367.6 131.3h0M1378.6 136.1h0M1392.3 128.5h0M1362.3 159.4h0M1372.9 133.7h0M1315.6 141.9h0M1314.9 152.5h0M1339.5 151.5h0M1306.5 144.5h0M1385.9 121.6h0M1357 152.1h0M1325.1 145.7h0M1381.6 128.9h0M1344.9 150.8h0M1357.3 131.7h0M1353 147.1h0M1373.5 122.4h0M1360.1 140h0M1381.2 143.8h0M1293.7 141.6h0M1387.9 130h0M1338.8 153h0M1365.9 133.5h0M1307.7 155.2h0M1335.2 154.3h0M1374.9 155.9h0M1340.9 149.2h0M1382.4 161h0M1370 164h0M1328.6 153.2h0M1373.1 148.7h0M1291.4 152h0M1306.9 155.7h0M1296.7 149.5h0M1331.1 150h0M1340.9 149.4h0M1303.3 153.7h0M1384.2 124.8h0M1371.5 163.4h0M1393.8 146.6h0M1357.2 133.5h0M1371.5 131.5h0M1354.9 150.2h0M1364.7 128.5h0M1321.4 151.2h0M1356.3 140.3h0M1297.4 151.4h0M1373.9 133.8h0M1364.3 144.6h0M1322.1 141.6h0M1369.4 165h0M1379.2 134.9h0M1378.5 122.2h0M1380.5 155.9h0M1358.7 161.2h0M1352.5 139.5h0M1392.1 134.5h0M1379.2 117.3h0M1327.6 148.5h0M1370 138.6h0M1333 151.9h0M1318.4 145.7h0M1309.7 149.7h0M1346 151.9h0M1381.4 160.2h0M1393.4 126.9h0M1389.7 139.5h0M1374 131h0M1360 154.7h0M1394.1 133.1h0M1345 149.4h0M1386.9 120.5h0M1353.2 139.1h0M1326.7 149.8h0M1376.6 127.7h0M1391.8 139.3h0M1384.4 161.5h0M1351.5 158.6h0M1302.8 152.2h0M1392.5 130.3h0M1383.6 129.5h0M1359.5 155.9h0M1369.2 167.5h0M1362.4 140.8h0M1299.9 144.3h0M1292.9 143.6h0M1364.7 140.1h0M1385.9 122.4h0M1381.3 149.8h0M1349 144.7h0M1364.3 138.1h0M1367.3 136.3h0M1388.4 127.6h0M1372.6 120.9h0M1355 126.9h0M1391.1 139.7h0M1297.8 142.5h0M1368.5 159.3h0M1301.4 148.8h0M1358.7 144.3h0M1353.2 140.3h0M1383.5 152.6h0M1324.9 148.9h0M1383.2 157.8h0M1372.9 120.2h0M1370.5 127.2h0M1383.4 124.1h0M1392.1 141h0M1376 137.7h0M1381 165.4h0M1376.4 133.5h0M1317.5 154.7h0M1362.1 166.5h0M1357.2 158.2h0M1387.9 119.2h0M1372.8 146.6h0M1309.7 144.9h0M1295.4 142.9h0M1320 145.7h0M1381.7 138.3h0M1369.9 122.3h0M1379.7 134.3h0M1385.4 131.7h0M1376.4 120.5h0M1355.3 137.6h0M1375.8 126.3h0M1298.6 149.4h0M1378 122.2h0M1383.7 159.8h0M1328.7 148.9h0M1387.4 139.2h0M1292.5 156.8h0M1312.2 155.6h0M1372.3 139.4h0M1307.7 153.1h0M1372.9 139.6h0M1326.9 141.3h0M1371.3 167.1h0M1378.2 138.1h0M1349.4 150.2h0M1371.8 122.7h0M1356.4 138.1h0M1375.7 146h0M1389.8 128.7h0M1366.4 153.9h0M1383 148.3h0M1335.9 146.4h0M1362.8 150.6h0M1380 144.9h0M1364.2 122.5h0M1380.4 156.4h0M1310 154.2h0M1380.2 147.2h0M1389.1 145h0M1117 103.9h0M1183.8 112.8h0M1121.9 127.6h0M1207.9 128.6h0M1109.8 139.8h0M1139.4 140.4h0M1154.5 139.1h0M1173.6 144h0M1231.9 140.4h0M1254.6 140.1h0M1261.2 144.7h0M1271.1 138.8h0M1277.4 146.7h0M1271.4 152h0M1300.7 165.8h0M1304.7 165.8h0M1290.9 157.5h0M1376.5 181.3h0M1381.4 179h0M1363.3 172.4h0M1300.7 139.4h0M1348.5 124.6h0M1351.8 127.9h0M1360 174h0M1368.2 170.7h0" stroke="#00008b" stroke-width="4.3" stroke-linecap="round" fill="none"/><path d="M1423.8 115.3h0M1448.3 120.7h0M1523.7 153.6h0M1397.5 147.4h0M1486.3 146.2h0M1467.5 157.4h0M1460.6 151.3h0M1445.8 152.3h0M1493.5 139.7h0M1518.8 147.1h0M1457.1 139.5h0M1465.8 113.4h0M1494.2 133.1h0M1451.8 133.7h0M1489.8 151.5h0M1540.3 169.8h0M1472.4 126.8h0M1430 125.7h0M1479.3 122.1h0M1567.7 170.9h0M1395.4 135.3h0M1427.5 144.1h0M1436.4 123.9h0M1399 144.8h0M1461.8 155.8h0M1442 118.3h0M1419.4 109.8h0M1461.8 124.3h0M1417.7 149.4h0M1400.9 119.8h0M1508.9 163.6h0M1442.7 124.5h0M1474.5 131.8h0M1422.1 143.1h0M1468.6 133.5h0M1412.9 124.5h0M1454 135.6h0M1477.2 155.1h0M1545 158.2h0M1458.1 128.2h0M1390 112.3h0M1418 141.2h0M1479.8 155.5h0M1446.9 124.5h0M1453.5 136.9h0M1491 159.1h0M1499.3 152.8h0M1434.6 149.1h0M1468.8 115.8h0M1520.2 161.6h0M1433.3 116h0M1460.4 156.5h0M1407.4 134.8h0M1404.3 145h0M1437.3 140.5h0M1397.8 115.5h0M1454.8 149.6h0M1573.1 177.6h0M1475.8 135.9h0M1444.1 153.7h0M1476.4 118.8h0M1391.8 114.7h0M1403.8 142.4h0M1431.1 120.6h0M1392.9 117.6h0M1432.4 133.3h0M1468.5 117.6h0M1455 125.9h0M1411.8 128.9h0M1447.2 136.5h0M1429.1 118h0M1397.7 143.8h0M1482.6 142.1h0M1418.8 110.2h0M1495.9 145.2h0M1433.3 115.8h0M1503.8 158.7h0M1522.1 145.5h0M1407.1 114.6h0M1463.8 125.2h0M1445.4 152.5h0M1553 173.1h0M1451.3 126.6h0M1535.7 163.9h0M1471.7 112.8h0M1482.5 146.8h0M1456.7 143.6h0M1483.9 159.3h0M1494 159.2h0M1503.9 152.2h0M1464.9 138.6h0M1498.7 134.5h0M1534 162.3h0M1466.7 142.3h0M1397.8 120h0M1428.8 122.6h0M1405.3 112.6h0M1413.2 111.8h0M1426.1 146.1h0M1432.6 150.9h0M1443.2 120.2h0M1495.6 133.5h0M1431.9 133.9h0M1465.5 127.1h0M1448.4 123.6h0M1509.4 154.8h0M1413.3 137.4h0M1480.5 157h0M1409.4 146.7h0M1503.9 149.6h0M1433 113h0M1501.4 140.2h0M1461.4 137.1h0M1407.6 150.1h0M1523.5 163.5h0M1452.3 155.6h0M1470.8 154h0M1471.4 119.2h0M1446.1 140.7h0M1510.8 147.4h0M1507.1 138.1h0M1451.4 139.8h0M1551 172.8h0M1474.9 128.5h0M1461.3 156.2h0M1486.5 147.2h0M1405.5 126.3h0M1481.1 151.9h0M1442.9 138.2h0M1510.7 156.2h0M1579.4 183.2h0M1463.4 127.7h0M1420.5 150.6h0M1460.5 134.2h0M1460.2 115h0M1551.7 164.1h0M1542.4 166.3h0M1435.2 137.2h0M1554.6 171.6h0M1553.8 178.5h0M1426.7 139.4h0M1482.4 131.2h0M1435.2 140.8h0M1398 118.1h0M1474 143.6h0M1519 144.1h0M1430.7 135.8h0M1424.9 136.7h0M1398.6 121.5h0M1542 166.4h0M1544.6 160.1h0M1528.6 166.4h0M1411.1 149.7h0M1499.2 147.6h0M1549.5 162.1h0M1403.4 149.3h0M1412.6 146.9h0M1519.8 160.8h0M1421.9 145.4h0M1483.8 144h0M1480.6 125.1h0M1426.4 155.2h0M1460.8 114.7h0M1402.8 132.5h0M1511 146.5h0M1468.9 129.7h0M1463.2 140.9h0M1443.1 117.4h0M1526.9 166.1h0M1510 147.5h0M1474.6 141.5h0M1556.1 169.1h0M1538.6 158.2h0M1421.2 131.6h0M1442.5 128.6h0M1501.6 134.2h0M1506.4 151.1h0M1473.5 133.5h0M1526 156.6h0M1412.3 135.6h0M1477.9 137.1h0M1462.1 126.6h0M1451.5 121h0M1485 155.5h0M1481.6 136.5h0M1425 129.8h0M1464.4 150h0M1461.3 126.6h0M1482.6 147.2h0M1510.9 155.2h0M1422.2 110.1h0M1470.6 138.5h0M1529.6 156.2h0M1453.8 121h0M1434.8 143.7h0M1485.8 158.9h0M1507.2 136h0M1480.9 133.8h0M1559.9 179.9h0M1439.4 130.7h0M1426.5 116.3h0M1425.6 128.3h0M1404 137.6h0M1502.2 152.7h0M1513.6 147.7h0M1523.7 153.2h0M1451.4 124h0M1422.5 119.3h0M1497.1 139.8h0M1402.5 111.3h0M1543.8 171.3h0M1547.9 169.7h0M1472.2 140.5h0M1484.4 138.2h0M1472.7 156.6h0M1495.8 135.1h0M1414.9 113.6h0M1401.8 125.2h0M1414.7 139.6h0M1444.6 141.2h0M1477.4 151h0M1425.6 121.7h0M1418.1 139.7h0M1439.9 141.3h0M1485 144.1h0M1419.5 119.4h0M1410 120.7h0M1432.4 148.9h0M1483.2 135.7h0M1440.8 149.6h0M1513 161.7h0M1514.6 159.1h0M1518.8 160h0M1398 148.7h0M1434.6 154.5h0M1437.1 127.3h0M1425.9 154.3h0M1518.6 144.5h0M1550.4 170.7h0M1404.6 113.6h0M1557.9 175.8h0M1446.4 153.1h0M1418.9 153.7h0M1470.3 150.7h0M1410.6 134.6h0M1462.6 118.8h0M1462.2 140.6h0M1515.8 153.3h0M1573.3 174.7h0M1466.1 132.1h0M1514.2 162.9h0M1504.6 151.9h0M1514.1 154.1h0M1417 117.4h0M1430.4 152.3h0M1406.8 116h0M1563.8 169.9h0M1519.5 154.1h0M1469 112.4h0M1420.3 141.7h0M1474.2 155.3h0M1395.2 142h0M1419 144.2h0M1531.1 166.6h0M1551.4 166.6h0M1476.7 142.4h0M1427.7 140.2h0M1486.1 129h0M1423.1 137.6h0M1482.3 129.6h0M1467.6 131.8h0M1397.6 110.9h0M1460.8 147.3h0M1521.7 155h0M1434.3 117.8h0M1443.8 135.3h0M1519 151.2h0M1500.5 160h0M1400.2 113.2h0M1498 156.5h0M1493.7 152.3h0M1470.8 110.7h0M1473.4 159h0M1532.2 169.7h0M1446.6 145.9h0M1411.2 139.6h0M1406.2 109.7h0M1471.9 114.9h0M1575.3 179.9h0M1423.4 129.9h0M1394.4 118.2h0M1541.1 170.3h0M1544.6 160.5h0M1414.4 123.9h0M1444.8 136.5h0M1428.1 130.8h0M1403.5 136.3h0M1455.7 125.1h0M1420.5 108.6h0M1575.4 174.7h0M1567 181.8h0M1430.2 118.8h0M1408.8 120.7h0M1431 123.7h0M1421.8 122.4h0M1448 122h0M1420.9 144.2h0M1501 148h0M1427.5 149h0M1559.9 167.1h0M1403.9 129.6h0M1414.5 124h0M1556.5 170.3h0M1439 150h0M1390.7 120.7h0M1514.4 145.6h0M1444.8 126.5h0M1500.5 159.9h0M1398.5 136.2h0M1545.4 173.1h0M1481.1 126.2h0M1400.4 148.1h0M1549.3 163.5h0M1488.6 159.2h0M1471.5 129.5h0M1419.9 149.9h0M1522.3 146.5h0M1478.1 151.9h0M1426.4 143.6h0M1395.4 117.4h0M1517 149h0M1487.3 144.7h0M1457.8 144.5h0M1508.8 138.4h0M1409.5 108.4h0M1430.4 123.9h0M1416.2 149.9h0M1476.2 141.1h0M1452.9 119.2h0M1443.5 128.4h0M1454.5 148.6h0M1470.1 135.9h0M1507.4 147.1h0M1493.7 148.8h0M1425.5 118.9h0M1457.6 118.5h0M1421.1 122.3h0M1453 128.4h0M1405.8 112.3h0M1542.8 163.8h0M1397.6 124.3h0M1457.5 119h0M1452.5 144.7h0M1450.9 133.6h0M1455.9 143.8h0M1462.1 141h0M1434.3 123.3h0M1442 128.4h0M1485.3 150.7h0M1445.4 125.4h0M1566.8 175.2h0M1581.3 180.9h0M1561.4 178.3h0M1437.6 148.5h0M1395.8 148.7h0M1442.1 122.2h0M1471.5 158h0M1485.8 129.1h0M1423.8 119.5h0M1412.7 144.7h0M1555.4 177.3h0M1412.6 114.3h0M1422.6 139.1h0M1434.4 113.7h0M1505.1 145.5h0M1493.8 140.8h0M1527.3 150.3h0M1490.9 137.9h0M1464.9 142.6h0M1481.2 157.4h0M1412.1 132.3h0M1446.2 140.7h0M1448.7 134.8h0M1567.1 176.6h0M1420.2 114.6h0M1505.3 158.9h0M1445 152.7h0M1400.5 153.1h0M1527.9 151.5h0M1470 120.4h0M1432.7 119.5h0M1413.1 121.6h0M1437.1 150.2h0M1471.3 134.1h0M1469.3 135h0M1406 123h0M1480.6 130h0M1575.2 175.5h0M1474.2 130.6h0M1458.8 139.8h0M1471.7 113.5h0M1550.6 161.5h0M1435.1 130.5h0M1403.2 115.4h0M1542.3 165.4h0M1491 134.1h0M1480.7 139.6h0M1419.8 139.1h0M1427.3 143.9h0M1493.2 150.1h0M1403.1 134.7h0M1399 151.3h0M1491.5 147.2h0M1494.1 138.4h0M1438.8 135.8h0M1480.6 147.4h0M1398.5 136.8h0M1536.2 155.7h0M1407.4 150h0M1573.6 181.5h0M1542 167.4h0M1564.2 174.8h0M1484.9 147.8h0M1476.5 129.4h0M1561.5 178.9h0M1408.9 118.5h0M1409.7 134.5h0M1406.8 148.2h0M1506.9 159.3h0M1417.9 126.4h0M1463.4 146.8h0M1520.4 148h0M1462.9 113.6h0M1570.1 174.9h0M1528 151.6h0M1398.9 145.6h0M1455.1 117.8h0M1445.7 122.3h0M1480.4 142.9h0M1414.1 125.1h0M1402.3 141h0M1515.4 156.8h0M1499.8 153.7h0M1429.3 146.2h0M1448.4 152.1h0M1449.7 127h0M1420.1 114h0M1422.5 143.8h0M1426.1 136.2h0M1553.7 178.4h0M1510.5 156h0M1481.5 134.1h0M1470.4 141.1h0M1490.5 133.1h0M1460.8 156.3h0M1528.6 159.8h0M1420.4 113.2h0M1523.3 151.5h0M1402.7 116.9h0M1430.2 144.1h0M1440.7 136h0M1481.8 152.8h0M1517.5 145.5h0M1420.8 151.5h0M1424.6 137.7h0M1512.4 147.2h0M1525.8 156.2h0M1477.6 128.1h0M1502.9 151.5h0M1471.9 135.5h0M1511.3 147.3h0M1454.5 132.8h0M1485.3 139h0M1406.7 115.8h0M1520.4 154.8h0M1405.2 138.3h0M1479.9 146h0M1470.6 113.6h0M1408.8 149.5h0M1502.8 162.4h0M1496.1 134.9h0M1476.3 146.4h0M1415.1 126h0M1476.1 152.3h0M1452.5 127.7h0M1396.7 150.8h0M1564 170.2h0M1508 163.2h0M1504.6 134.8h0M1521.5 163.1h0M1438.4 135.8h0M1488.4 145.4h0M1426.2 115.4h0M1487.8 150.8h0M1474.2 131h0M1420.6 124.8h0M1462.3 122.7h0M1471.5 132.3h0M1468.2 141.5h0M1525.8 168.5h0M1451.8 142h0M1454 132.9h0M1480.7 121.3h0M1473.1 133.6h0M1439.1 150.4h0M1500.4 140.8h0M1507.7 146.6h0M1505.2 158.6h0M1437.7 125.2h0M1451.4 142.4h0M1443.5 146.4h0M1419.7 113h0M1400.9 137.5h0M1422.1 127.4h0M1426.7 135.7h0M1409.4 131.7h0M1437.3 140.5h0M1454.2 150.9h0M1411.8 119.2h0M1397.8 125.2h0M1563.5 176.9h0M1445.3 129.6h0M1559.6 170.2h0M1541.3 160.4h0M1447.5 133.5h0M1508.9 158.2h0M1472.7 136.1h0M1449.3 139.3h0M1467.9 120.6h0M1424.9 144.1h0M1423.3 150.3h0M1461.8 126.8h0M1487.4 131.4h0M1530.4 162.9h0M1479.3 146.5h0M1413.3 109.5h0M1432.9 132.9h0M1404 143.6h0M1421.9 145.1h0M1417.8 120.4h0M1428.1 141h0M1395.9 121.1h0M1432 152.9h0M1410.5 117.7h0M1413.9 128h0M1450.5 129.2h0M1462.1 115.1h0M1396.8 119.5h0M1488.6 141.4h0M1540.9 169.9h0M1487.9 130.3h0M1493.5 131.1h0M1564.3 179.5h0M1407.7 153.1h0M1567.8 179.1h0M1441 130.4h0M1400.6 140.5h0M1510.9 139.9h0M1508.3 154h0M1395.6 150.3h0M1397.4 147.9h0M1519.2 144.9h0M1443.6 121.4h0M1425.6 143.8h0M1394.4 121.8h0M1574.9 174.2h0M1573.1 178.1h0M1547.7 163.3h0M1507 162.1h0M1395.1 150.4h0M1505.5 142.6h0M1426.7 133.5h0M1497.1 147.4h0M1572.5 180.4h0M1553.6 174.2h0M1564 169.9h0M1441.3 152.4h0M1397.3 143.9h0M1458.4 118.4h0M1531.8 154.7h0M1548.8 170.2h0M1432 144.9h0M1443.7 139.4h0M1495.6 142.4h0M1416.2 106.1h0M1408.5 124.7h0M1396 124.3h0M1495.9 150.8h0M1426.4 122.1h0M1391.1 119h0M1427.7 155.1h0M1413.4 148.5h0M1493.5 153.7h0M1399.7 114.8h0M1420.8 128h0M1395 112.5h0M1510.2 143.4h0M1442.9 153.2h0M1528.1 152h0M1435.7 121.3h0M1411.1 153.2h0M1437.4 127.9h0M1439.9 136.2h0M1533.8 165.2h0M1512.2 158h0M1422.8 143.9h0M1525.8 146.5h0M1557 178.8h0M1404.8 124.7h0M1416.4 106.1h0M1464 121.6h0M1502.5 142.8h0M1494.5 159h0M1469.2 115.6h0M1430.8 137.9h0M1478.5 132.3h0M1395.2 121.2h0M1484.1 144.8h0M1409.2 131.9h0M1575 177.8h0M1462.5 141.5h0M1418.8 131.6h0M1472.8 122.7h0M1426.7 133.7h0M1486.5 140.8h0M1474.5 134.3h0M1479.3 150.6h0M1576.3 178.1h0M1501 137.5h0M1525.4 157.8h0M1462.8 117.6h0M1514.8 164.2h0M1430.7 149.5h0M1410 123.6h0M1481.3 147.5h0M1427.8 148.6h0M1494.5 157.6h0M1423.3 116.8h0M1434.9 122.2h0M1468.9 140.3h0M1489.9 160.7h0M1394.4 114h0M1417.2 137.9h0M1496.2 145.1h0M1459.8 122.6h0M1452.8 148.3h0M1443.1 138.6h0M1431.9 144.2h0M1503.2 148.1h0M1466 151.5h0M1426 140.7h0M1410.8 125.4h0M1404.6 137.8h0M1422 134.2h0M1491 143h0M1470.9 112.4h0M1466.7 117.8h0M1459.5 127.3h0M1501.2 134.3h0M1428.8 144.2h0M1445.7 139.1h0M1433.2 119.9h0M1537.9 167.9h0M1436.5 131.2h0M1409.2 115h0M1564.8 174.5h0M1526.4 159.2h0M1415.7 136.1h0M1421.6 150.2h0M1399.1 117h0M1473.4 140.5h0M1550.1 165.5h0M1409.2 112.4h0M1393 131.1h0M1435.9 114.4h0M1473.1 138.1h0M1545.5 163.7h0M1528.6 151.7h0M1397.2 129.9h0M1533.5 166.6h0M1489.7 150h0M1494.5 151.2h0M1496.1 143.6h0M1490.3 160.5h0M1425.4 115.5h0M1424.4 148.2h0M1408.8 148.7h0M1533.2 154.8h0M1424.4 123.5h0M1483.7 138.5h0M1474.9 122.6h0M1570.7 174.2h0M1440.1 138.9h0M1413.5 143.2h0M1462.8 153.6h0M1411.7 149.2h0M1501.7 145.7h0M1469.2 144.6h0M1465.3 118.9h0M1531.2 152.5h0M1435.4 129.2h0M1400.1 115h0M1437.3 126.8h0M1398.1 126h0M1550.3 174.8h0M1485.6 132.5h0M1443.7 130.3h0M1495.1 131.2h0M1422.9 150.3h0M1436.7 147.6h0M1469.3 156.5h0M1547.6 170.5h0M1404.9 122.5h0M1515.7 144h0M1419 120.7h0M1433.1 154.9h0M1579.6 183.1h0M1445.9 151.3h0M1556.4 166.3h0M1448.2 124.1h0M1413.9 117.7h0M1479.7 132.3h0M1457.9 133.8h0M1443.9 153h0M1399.6 131.5h0M1407.8 110.8h0M1391.4 121.7h0M1462.8 122.5h0M1416.4 140.1h0M1445.6 136.2h0M1553.9 165.6h0M1534.3 162.4h0M1478.2 154.2h0M1484 127.6h0M1441.7 149.1h0M1467.4 112.7h0M1412.2 127.1h0M1403.9 131h0M1417 123.4h0M1433.9 133.2h0M1432.5 134.5h0M1427.3 118.6h0M1451.1 131.7h0M1398.5 127.9h0M1546.2 167.4h0M1411.9 129.3h0M1489.1 132.6h0M1487.3 159.6h0M1438.6 136.9h0M1448.9 147.8h0M1407.7 111h0M1447.7 122.2h0M1502.2 140.5h0M1483.3 130.2h0M1520.3 153.9h0M1500.3 151.2h0M1473.3 123.4h0M1497.7 149.6h0M1404.2 133h0M1418.2 136.7h0M1402.1 115.3h0M1498.3 143.2h0M1435.5 126.6h0M1478.2 150.7h0M1550.1 162.2h0M1514.1 142.4h0M1428.2 131h0M1581.3 179h0M1464.5 140.2h0M1429.3 122h0M1433.9 120.6h0M1440.6 132.7h0M1432.5 141.6h0M1407.6 109.7h0M1406.1 116.9h0M1482.9 123.1h0M1534.9 171h0M1537.7 165.6h0M1481.3 121.4h0M1419.7 147.9h0M1535.3 170.6h0M1483.5 141.9h0M1464.4 152.7h0M1451.8 128.3h0M1482.8 149.4h0M1427.3 125.5h0M1398.3 132h0M1464.7 137.5h0M1408.7 120.2h0M1412.3 124.3h0M1423.9 109.1h0M1431.6 139.6h0M1427.1 120.1h0M1403.9 149.8h0M1413.9 132.4h0M1407.5 127.3h0M1533.8 169.3h0M1563.5 181.9h0M1536.6 156.9h0M1413 147.8h0M1449.6 155.3h0M1402.8 121.8h0M1510.4 149.3h0M1460.3 149.3h0M1421.6 118.1h0M1577.3 177.5h0M1447.1 135.6h0M1398.3 135.8h0M1460.8 120h0M1432.4 115.2h0M1477.9 130.9h0M1468.4 142.8h0M1566.1 176.6h0M1523.8 146.3h0M1503.8 152.1h0M1518.8 163.1h0M1555.2 165.5h0M1480.3 138.9h0M1417 113.2h0M1463.5 131h0M1472.6 128.5h0M1492.7 149.9h0M1457.1 125.2h0M1483.3 160.1h0M1455.3 143h0M1423.7 130.2h0M1543.3 165.9h0M1510.6 153.5h0M1408.8 111.4h0M1574.9 177.5h0M1404.7 135.7h0M1430.9 122.1h0M1434.7 129.1h0M1425.7 142.2h0M1486.5 143.2h0M1447.6 136.3h0M1496 152.7h0M1529.5 165.4h0M1548.3 173.2h0M1439.7 116.2h0M1460.6 126.2h0M1470.7 150.2h0M1518.6 150.8h0M1397.6 138.7h0M1518.8 162h0M1397 112.4h0M1473.3 158.7h0M1469.2 134.6h0M1445.6 118.5h0M1437.7 140.2h0M1561.3 179.5h0M1438 133.1h0M1441.8 143.6h0M1433.8 123.3h0M1486.5 137.3h0M1501.7 144.6h0M1469.8 157.5h0M1459 128.2h0M1400.5 109.5h0M1488.2 142.8h0M1399.3 126.6h0M1427.2 134.1h0M1564.5 172.3h0M1434.8 114.4h0M1560.3 180.2h0M1504.1 136.6h0M1486.1 159.7h0M1445.7 152.3h0M1464.8 124.8h0M1442 125.6h0M1500.9 143.9h0M1506.1 145.4h0M1441.2 119.8h0M1538.1 164.3h0M1389.7 113.9h0M1532.5 163.5h0M1399.5 110.3h0M1468.2 145.3h0M1421.5 121h0M1411.9 138.9h0M1412.9 108.9h0M1408.8 150.6h0M1557.5 175.9h0M1472.5 116.7h0M1478.5 151.8h0M1423 139.1h0M1443.7 129.8h0M1476.5 152.3h0M1407.9 123.6h0M1427.2 149.6h0M1547.8 162.6h0M1449.9 137.1h0M1476.9 154.5h0M1521.8 148.6h0M1428.9 125.4h0M1478.6 127.6h0M1482.8 155.3h0M1496.2 130.5h0M1432.1 141.6h0M1428 144.6h0M1399.1 151.3h0M1404.6 137.9h0M1459.3 131.1h0M1535.4 152.7h0M1538.9 170.5h0M1465.2 122.3h0M1410.6 147.1h0M1393.8 120.1h0M1539.6 173h0M1397.1 139.3h0M1446.6 153.3h0M1422.9 137.3h0M1397.1 135.8h0M1403.4 144.1h0M1444.2 149.8h0M1490.2 149.8h0M1397.2 152.9h0M1432.2 131.2h0M1555.3 168.4h0M1427.5 130.2h0M1505.4 137.8h0M1551.8 164.3h0M1469.2 142.3h0M1481.1 160h0M1457.1 148.8h0M1433.7 120.6h0M1479.4 138.3h0M1473.7 139.6h0M1402.7 125.2h0M1519 164.4h0M1551.2 176.8h0M1516.4 142.9h0M1434.7 152.8h0M1539.4 169.8h0M1522.3 164.6h0M1535.3 151.8h0M1477.1 151h0M1486 158.2h0M1448.3 149.6h0M1427.7 142.5h0M1419.2 146.1h0M1539.3 173.1h0M1406.9 143.6h0M1534.3 154.6h0M1513.8 159.2h0M1421.3 134.9h0M1527.4 164.1h0M1504.4 149.2h0M1444.5 147.1h0M1477.7 144.4h0M1402.5 112.1h0M1427.7 133.5h0M1460.4 135.2h0M1473.3 153.9h0M1442.4 132.7h0M1506.3 136h0M1398.4 124.9h0M1568 179.6h0M1452.3 144.7h0M1493.6 132.4h0M1488.8 149.8h0M1497.9 145.7h0M1401.4 122h0M1558.5 175.2h0M1520.4 147.6h0M1575 182.5h0M1426.9 116.1h0M1526.5 165.7h0M1423.6 135.9h0M1461 138.3h0M1437.7 116.8h0M1395.3 126.4h0M1471.9 134.9h0M1447.6 134.8h0M1472.2 145.6h0M1486.2 132h0M1416.8 118.5h0M1428.7 153.8h0M1516.4 143.9h0M1471.8 120.3h0M1419.6 146.7h0M1427.4 129h0M1437.7 118.3h0M1466.5 131.7h0M1468.9 151.4h0M1478.3 143.6h0M1427.6 142.9h0M1440.3 148.2h0M1452.9 154.3h0M1453.1 121.8h0M1438.3 140.3h0M1485.5 152.9h0M1554.4 168.6h0M1439.3 115.2h0M1467.4 137.6h0M1411.7 139.6h0M1395.1 142.6h0M1545.1 160.9h0M1395.5 117.9h0M1429.8 118.1h0M1452.4 121.9h0M1442.4 123.6h0M1438.2 145h0M1431.8 123.1h0M1525.5 161.5h0M1474.2 140.9h0M1532.2 163.8h0M1420.6 138h0M1409.5 108.1h0M1489 151.9h0M1513.8 158h0M1397.7 147.1h0M1497.2 140.8h0M1420.6 147h0M1565.8 181.2h0M1395.9 139.9h0M1421 109.1h0M1413.7 134.8h0M1524.3 147.4h0M1393.6 119.1h0M1526.3 148.6h0M1441 153.6h0M1465.9 132.2h0M1466.3 138.3h0M1565 180.1h0M1403.8 122.1h0M1437.8 119.9h0M1480.7 156.2h0M1502.1 150.6h0M1484.2 145.4h0M1483.3 133.1h0M1463.7 142.7h0M1486.3 132.8h0M1422.4 149h0M1473.8 137.6h0M1518.7 151.1h0M1430.1 143.4h0M1404.7 136.5h0M1448.4 143.6h0M1518.7 145.1h0M1452.9 153.8h0M1523.1 162.8h0M1424.9 135.3h0M1447.4 122.5h0M1429.7 112h0M1410 152.8h0M1422 149.5h0M1468.4 117.7h0M1480.8 130.4h0M1394.9 111.5h0M1458.5 143.5h0M1420.1 152.2h0M1444.5 128.4h0M1411.5 116.9h0M1579.9 182.3h0M1496.7 162.5h0M1490.1 153.5h0M1440.7 142.5h0M1499.4 201h0M1487.6 168.6h0M1423 203.3h0M1428.6 204.5h0M1391.1 163.7h0M1521.9 200.7h0M1484.2 235.2h0M1454.9 160.6h0M1512 222.8h0M1571.7 194.3h0M1531.4 194.9h0M1495.6 227.1h0M1446.4 163.7h0M1476.9 233.4h0M1499.1 203.6h0M1509 174.3h0M1420.4 189.9h0M1542.2 175.8h0M1408.2 165.1h0M1393.8 184.7h0M1449.5 195h0M1441.4 187.9h0M1435.7 166.1h0M1544.6 180.5h0M1397 200.2h0M1529.4 192.4h0M1572.4 195.8h0M1423.3 162.6h0M1475.3 175.9h0M1427.6 165.7h0M1487.4 173h0M1490.2 243.9h0M1434.7 200.8h0M1558.4 203.3h0M1451.8 252.7h0M1517.7 199.8h0M1508.5 180.6h0M1442.7 199.4h0M1491.4 245.4h0M1407.1 223.9h0M1449.8 216h0M1545.9 181.7h0M1493.7 214h0M1431.2 216.1h0M1476.2 203.9h0M1458.4 240.9h0M1425.2 229.4h0M1419.4 203.8h0M1467 163.3h0M1520 207.2h0M1517.9 213.7h0M1492.5 212.3h0M1443.2 253.4h0M1551.2 209.2h0M1501.9 186.4h0M1447.4 192.8h0M1444.1 260.1h0M1451.5 197h0M1466.5 244.3h0M1477.6 215.3h0M1435.1 184.9h0M1403.4 178.2h0M1436.7 248.3h0M1482.3 166.4h0M1474.7 167.6h0M1494.4 203h0M1550.3 182.9h0M1548.8 181.6h0M1439 194.2h0M1461.9 229.2h0M1442.3 162.9h0M1412.9 235h0M1475.9 232.5h0M1495.2 239.3h0M1499.3 190.3h0M1412 164.5h0M1550 177h0M1467.8 189.2h0M1504.7 213.1h0M1550.4 202.4h0M1455.5 226.1h0M1445.9 252h0M1411 196.2h0M1393.9 197.8h0M1488.5 177.5h0M1464 160.7h0M1446.6 201.4h0M1465.5 181.4h0M1446.6 228.2h0M1471.4 173.4h0M1505.3 201.4h0M1468.5 161.2h0M1546.8 197.4h0M1459.4 160.6h0M1392.9 197.3h0M1438.5 172.9h0M1498.7 211h0M1490 167.6h0M1399.3 206.5h0M1414.1 225h0M1445.5 222.7h0M1487.9 176h0M1452.7 262.1h0M1437.6 185.6h0M1480.6 214.5h0M1537.4 186.8h0M1513.7 166.7h0M1401.5 163.2h0M1484.1 184.3h0M1424.1 235.3h0M1427.9 161h0M1512.9 170h0M1495.1 217.4h0M1453.9 218.7h0M1465.5 248.4h0M1402 190.2h0M1514.4 221.8h0M1545.3 177.2h0M1413.6 169.7h0M1503.6 201.5h0M1483.1 243.6h0M1486.1 213.5h0M1437.2 220.5h0M1410.7 210.3h0M1454.7 176.9h0M1433.7 195h0M1555.4 204.9h0M1416.8 214.9h0M1433.6 158.5h0M1415.5 216.2h0M1471.7 160.1h0M1563.5 183.5h0M1527.4 205.5h0M1535.2 191.5h0M1404 201.5h0M1478 241.7h0M1463.5 227.8h0M1458.2 235.1h0M1419.6 251.3h0M1518.7 165.9h0M1443.3 212.7h0M1507.8 222.8h0M1462.8 235.8h0M1501 198.6h0M1451.1 171.2h0M1388.4 191.3h0M1443.7 163.2h0M1479.1 193h0M1438.8 167.1h0M1502.8 179.3h0M1574.5 201.1h0M1555.6 181.4h0M1518.7 182.5h0M1526.1 191.7h0M1490.1 219.1h0M1458 189h0M1398.1 167h0M1408.5 202.3h0M1551.7 193.4h0M1449.9 217.3h0M1529.1 204.5h0M1440.2 209.9h0M1477.5 234.4h0M1470.2 179.6h0M1422.9 158.4h0M1498.5 237.9h0M1540.4 182.5h0M1486.1 173.3h0M1503.3 202.2h0M1425.6 196.9h0M1420.7 246h0M1429.3 180.7h0M1508.1 186.7h0M1424.8 163.7h0M1420.1 175.5h0M1489.5 177.7h0M1457.3 235.6h0M1391.3 199.6h0M1448.6 207.7h0M1551.7 184h0M1404.3 175.6h0M1402.4 181.6h0M1413 163.8h0M1481.2 210.3h0M1446.1 218.3h0M1479.4 163.9h0M1520.2 189h0M1446 241h0M1429.1 180.8h0M1552.5 198h0M1495.6 230.5h0M1404.1 210.8h0M1429.1 201h0M1407.4 164.2h0M1437.3 197.1h0M1540.4 173.7h0M1435.8 172.5h0M1451.4 249.1h0M1535.3 171.5h0M1416.6 234.5h0M1391 175.4h0M1488.8 180h0M1428 193.7h0M1474.1 255.5h0M1497.3 215.6h0M1523.7 175h0M1541.9 203.9h0M1489.8 162.5h0M1473.9 225.3h0M1451.1 237.7h0M1516.3 190.6h0M1494.7 204.8h0M1424.7 172.5h0M1535.9 195.4h0M1429.1 215.8h0M1423.7 212.4h0M1452 189.5h0M1518.3 181.7h0M1449.6 216.5h0M1444.9 184.3h0M1446.5 208.1h0M1543 174.3h0M1523.6 201.9h0M1495.6 209.7h0M1501.5 174.1h0M1504 198.6h0M1464.3 263.1h0M1420.5 155.8h0M1409.9 230.3h0M1403.2 187.1h0M1525.4 197.2h0M1541.2 192.2h0M1459.2 231.5h0M1415.1 200.7h0M1447.1 179.8h0M1413.4 193.3h0M1438.5 180.4h0M1499.3 194.2h0M1529.2 180.1h0M1440 166.9h0M1431.3 248.1h0M1479.9 235.5h0M1455.3 261h0M1401.6 199.8h0M1453.9 245.5h0M1437.2 229.3h0M1523.9 177.4h0M1496.8 175.9h0M1504.3 190.2h0M1457.7 219.2h0M1430.8 195.7h0M1470.2 232.7h0M1483.4 172h0M1510.3 211.2h0M1486.6 203.4h0M1512.7 209.6h0M1463.1 201.4h0M1516 202.6h0M1399.6 178.6h0M1396.6 159.7h0M1455 195.9h0M1473.5 176.4h0M1430.9 203.6h0M1441.8 183h0M1480.2 238.5h0M1397.9 155.8h0M1471.9 252.9h0M1507 194.5h0M1393.8 175.8h0M1537.4 197.4h0M1464.9 245.8h0M1488.6 204.9h0M1421.5 240.7h0M1414.3 187.4h0M1403.2 156h0M1443.1 159.1h0M1476 192.5h0M1441 179.8h0M1489.7 190.9h0M1512.3 218.8h0M1433.8 213.6h0M1437 184.6h0M1472.9 159.2h0M1430.3 262.8h0M1533.4 190.8h0M1548.9 189.8h0M1557.1 204.1h0M1461.7 192.3h0M1412.2 199.5h0M1419.3 161.5h0M1411.2 162.4h0M1444 201.8h0M1531.6 190.7h0M1447.8 199.7h0M1430.8 156.5h0M1438.9 256.7h0M1430.6 238.4h0M1524.8 205.3h0M1551.6 195h0M1505.9 206.1h0M1498.1 196.2h0M1549.6 188.2h0M1493.5 161.8h0M1454.5 195.6h0M1416 214.2h0M1478.6 220.9h0M1438.4 184.7h0M1491.5 230.6h0M1530 174h0M1535.9 207.5h0M1415.1 189.2h0M1507.9 198h0M1526.7 213.3h0M1454.6 262.1h0M1439.8 204.2h0M1426.8 203.8h0M1470.3 212.7h0M1510.9 229.9h0M1396 180.4h0M1408.6 191h0M1473.6 248.2h0M1416.1 236h0M1441.2 202.3h0M1418.6 258h0M1430.1 269.5h0M1456.2 291.6h0M1463.7 304.1h0M1466 299.1h0M1475.9 318.9h0M1478.5 320.5h0M1485.1 310.7h0M1491.7 318.9h0M1508.2 327.1h0M1516.7 313.3h0M1511.5 289.9h0M1521.3 284.3h0M1516.4 262.9h0M1501.6 253h0M1491.7 249.1h0M1481.8 244.8h0M1478.5 263.9h0M1473.6 276.7h0M1469.3 282.7h0M1465.4 256.3h0M1462.1 258h0M1556.9 262.9h0M1562.5 233.3h0M1564.2 210.9h0M1469.3 355.1h0M1483.8 348.9h0M1495.7 349.5h0M1482.5 359.4h0M1491.7 360.1h0M1407.7 87.4h0M1531.2 138.5h0M1527.9 238.2h0M1522.3 239.2h0M1512.5 230.6h0M1503.2 239.2h0M1509.8 220.8h0M1504.9 218.5h0M1551 198.7h0M1570.7 195.4h0M1577.3 197.1h0" stroke="#8b0000" stroke-width="4.3" stroke-linecap="round" fill="none"/><text x="968.8" y="56.1" font-size="32" font-weight="bold">Jul.</text>
<rect x="898.3" y="13.2" width="713" height="519.1" fill="none" stroke="#000" stroke-width="2"/>
<text x="898.3" y="574.9" font-size="26.5" text-anchor="middle">27</text>
<text x="969.6" y="574.9" font-size="26.5" text-anchor="middle">28</text>
<text x="1040.9" y="574.9" font-size="26.5" text-anchor="middle">29</text>
<text x="1112.2" y="574.9" font-size="26.5" text-anchor="middle">30</text>
<text x="1183.5" y="574.9" font-size="26.5" text-anchor="middle">31</text>
<text x="1254.8" y="574.9" font-size="26.5" text-anchor="middle">32</text>
<text x="1326.1" y="574.9" font-size="26.5" text-anchor="middle">33</text>
<text x="1397.4" y="574.9" font-size="26.5" text-anchor="middle">34</text>
<text x="1468.7" y="574.9" font-size="26.5" text-anchor="middle">35</text>
<text x="1540" y="574.9" font-size="26.5" text-anchor="middle">36</text>
<text x="1611.3" y="574.9" font-size="26.5" text-anchor="middle">37</text>
<text x="873.3" y="542.2" font-size="26.5" text-anchor="end">20</text>
<text x="873.3" y="455.7" font-size="26.5" text-anchor="end">22</text>
<text x="873.3" y="369.2" font-size="26.5" text-anchor="end">24</text>
<text x="873.3" y="282.6" font-size="26.5" text-anchor="end">26</text>
<text x="873.3" y="196.1" font-size="26.5" text-anchor="end">28</text>
<text x="873.3" y="109.6" font-size="26.5" text-anchor="end">30</text>
<text x="873.3" y="23.1" font-size="26.5" text-anchor="end">32</text>
<path d="M898.3 532.3V544.8M969.6 532.3V544.8M1040.9 532.3V544.8M1112.2 532.3V544.8M1183.5 532.3V544.8M1254.8 532.3V544.8M1326.1 532.3V544.8M1397.4 532.3V544.8M1468.7 532.3V544.8M1540 532.3V544.8M1611.3 532.3V544.8M898.3 532.3H885.8M898.3 445.8H885.8M898.3 359.3H885.8M898.3 272.8H885.8M898.3 186.2H885.8M898.3 99.7H885.8M898.3 13.2H885.8" stroke="#000" stroke-width="2" fill="none"/>
<text x="1254.8" y="610.3" font-size="27.8" text-anchor="middle">Salinity(psu)</text>
<text transform="translate(833.5,272.8) rotate(-90)" font-size="27.5" text-anchor="middle">Temperature(°C)</text>
</g>
<g transform="translate(0,1881)">
<g clip-path="url(#mclip)">
<rect x="100" y="0" width="680" height="545" fill="#8b0000"/><polygon points="440,5 340,100 330,240 364.4,262 364.4,277 372,280 385,300 410,330 422,344.8 431.3,344.8 431.3,330 433.6,308.3 442.4,303.9 442.4,290.7 457.8,290.7 457.8,277.6 470.9,277.6 470.9,255.6 508.3,255.6 508.3,242.4 534.6,242.4 534.6,229.3 558.7,229.3 558.7,242.4 571.9,242.4 571.9,266.6 585.1,266.6 585.1,279.8 598.2,279.8 598.2,343.4 585.1,343.4 585.1,356.6 571.9,356.6 571.9,369.7 558.7,369.7 558.7,382.9 545.6,382.9 545.6,396.1 521.4,396.1 521.4,435.6 534.6,435.6 534.6,446.6 560.9,446.6 560.9,459.7 587.3,459.7 587.3,472.9 600.4,472.9 600.4,501.4 613.6,501.4 613.6,514.6 626.8,514.6 626.8,545 775,545 775,5" fill="#00008b"/><polygon points="393.3,266.1 416.8,266.1 416.8,291.4 405,291.4 405,280 393.3,280" fill="#8b0000"/><path d="M112 532l29 0M112 519l29 0M112 506l27 0M112 493l24 1M112 480l19 1M112 467l14 1M112 454l11 1M112 442l10 0M112 429l10 0M112 416l11 0M112 403l12 0M112 390l11 0M112 377l10 0M112 364l8 0M112 351l7 0M112 338l5 0M112 325l2 0M125 532l31 0M125 519l31 0M125 506l28 0M125 493l24 1M125 480l20 1M125 467l15 1M125 454l11 2M125 442l10 0M125 429l11 0M125 416l12 0M125 403l12 0M125 390l12 0M125 377l10 0M125 364l9 0M125 351l7 0M125 338l5 0M125 325l3 0M138 532l31 0M138 519l31 0M138 506l28 0M138 493l25 1M138 480l20 1M138 467l15 1M138 454l11 2M138 442l10 0M138 429l11 0M138 416l12 0M138 403l12 0M138 390l12 0M138 377l10 0M138 364l9 0M138 351l7 0M138 338l5 0M138 325l3 0M151 532l31 0M151 519l30 0M151 506l28 0M151 493l24 1M151 480l20 1M151 467l14 1M151 454l11 2M151 442l10 0M151 429l11 0M151 416l12 0M151 403l12 0M151 390l11 0M151 377l10 0M151 364l9 0M151 351l7 0M151 338l5 0M151 325l3 0M164 532l29 0M164 519l29 0M164 506l28 0M164 493l23 1M164 480l17 1M164 467l12 2M164 454l10 2M164 442l10 0M164 429l11 0M164 416l12 0M164 403l12 0M164 390l11 0M164 377l10 0M164 364l8 0M164 351l7 0M164 338l5 0M164 325l3 0M177 532l28 0M177 519l29 0M177 506l27 0M177 493l21 1M177 480l15 1M177 467l11 2M177 454l10 2M177 442l10 1M177 429l11 0M177 416l12 0M177 403l12 0M177 390l11 0M177 377l10 0M177 364l8 0M177 351l7 0M177 338l5 0M177 325l3 0M190 532l33 0M190 519l33 0M190 506l30 0M190 493l24 1M190 480l17 1M190 467l12 2M190 454l10 2M190 442l10 1M190 429l11 0M190 416l12 0M190 403l12 0M190 390l11 0M190 377l10 0M190 364l8 1M190 351l7 1M190 338l5 1M190 325l3 0M203 532l35 0M203 519l35 0M203 506l32 0M203 493l27 1M203 480l21 1M203 467l15 2M203 454l11 2M203 442l10 1M203 429l10 1M203 416l11 0M203 403l12 0M203 390l11 0M203 377l10 1M203 364l8 2M203 351l7 2M203 338l5 2M203 325l3 1M216 532l36 0M216 519l35 0M216 506l32 0M216 493l28 1M216 480l23 1M216 467l16 2M216 454l11 2M216 442l9 1M216 429l9 1M216 416l10 1M216 403l11 2M216 390l11 2M216 377l10 2M216 364l8 3M216 351l6 3M216 338l5 3M216 325l2 1M229 532l35 0M229 519l35 0M229 506l32 0M229 493l27 1M229 480l21 1M229 467l14 2M229 454l10 2M229 442l8 2M229 429l8 2M229 416l9 3M229 403l10 3M229 390l11 3M229 377l10 3M229 364l8 3M229 351l6 4M229 338l4 3M229 325l2 1M229 260l0-2M242 532l33 0M242 519l33 0M242 506l30 0M242 493l24 1M242 480l17 2M242 467l11 2M242 454l8 3M242 442l8 2M242 429l8 2M242 416l9 3M242 403l10 3M242 390l11 3M242 377l10 3M242 364l8 4M242 351l6 3M242 338l3 3M255 532l30 0M255 519l31 0M255 506l28 0M255 493l21 1M255 480l14 2M255 467l9 2M255 454l8 3M255 442l7 2M255 429l8 2M255 416l9 3M255 403l10 3M255 390l11 3M255 377l10 3M255 364l8 3M255 351l5 3M255 338l1 1M268 532l33 0M268 519l33 0M268 506l30 0M268 493l23 1M268 480l17 1M268 467l10 2M268 454l7 2M268 442l6 2M268 429l7 2M268 416l9 2M268 403l11 2M268 390l11 2M268 377l10 1M268 364l7 1M268 351l3 1M281 532l35 0M281 519l34 0M281 506l31 0M281 493l25 1M281 480l19 1M281 467l12 2M281 454l7 2M281 442l6 1M281 429l6 1M281 416l9 2M281 403l11 1M281 390l12 1M281 377l11 0M281 364l7 0M294 532l36 0M294 519l35 0M294 506l31 0M294 493l26 1M294 480l19 1M294 467l12 2M294 454l7 2M294 442l5 1M294 429l6 1M294 416l9 1M294 403l11 1M294 390l12 1M294 377l11 0M294 364l6 0M294 325l-3 0M294 312l-1-1M307 532l35 0M307 519l34 0M307 506l31 0M307 493l25 1M307 480l18 1M307 467l11 2M307 454l7 2M307 442l5 1M307 429l6 1M307 416l9 1M307 403l12 1M307 390l12 0M307 377l10 0M307 364l4 0M307 325l-5 1M320 532l33 0M320 519l33 0M320 506l30 0M320 493l23 1M320 480l15 2M320 467l8 2M320 454l5 2M320 442l5 1M320 429l6 1M320 416l9 1M320 403l12 1M320 390l13 0M320 377l9 0M320 364l2 0M320 338l-2 1M320 325l-6 2M333 532l29 0M333 519l30 0M333 506l26 1M333 493l19 1M333 480l10 2M333 467l5 2M333 454l4 2M333 442l4 1M333 429l6 1M333 416l10 1M333 403l13 0M333 390l14 0M333 377l10 0M333 364l2 0M333 338l-2 1M333 325l-6 2M333 312l-7 2M333 299l-5 1M346 532l30 0M346 519l30 0M346 506l27 0M346 493l20 1M346 480l12 2M346 467l6 2M346 454l4 2M346 442l4 1M346 429l6 1M346 416l10 1M346 403l13 0M346 390l15 0M346 377l12 0M346 364l5 0M346 325l-4 1M346 312l-6 2M346 299l-4 1M346 286l0 4M359 532l32 0M359 519l32 0M359 506l28 0M359 493l23 1M359 480l16 1M359 467l9 2M359 454l5 2M359 442l4 1M359 429l6 1M359 416l10 1M359 403l13 0M359 390l15 0M359 377l13 0M359 364l9 0M359 351l3 0M359 299l-1 9M359 286l1 17M359 273l1 19M372 532l33 0M372 519l32 0M372 506l29 0M372 493l24 1M372 480l18 1M372 467l11 2M372 454l6 2M372 442l4 1M372 429l5 1M372 416l9 1M372 403l12 0M372 390l14 0M372 377l14 0M372 286l2 21M372 273l1 22M372 260l0 22M372 247l0 22M372 234l-1 23M372 221l-2 23M385 532l32 0M385 519l31 0M385 506l28 0M385 493l23 1M385 480l16 2M385 467l9 3M385 454l4 3M385 442l4 2M385 429l5 2M385 416l8 1M385 403l12 0M385 390l14 0M385 286l2 22M385 273l2 22M385 260l1 22M385 247l0 23M385 234l-1 23M385 221l-2 23M385 208l-3 22M385 195l-3 21M385 182l-3 21M385 169l-3 21M385 156l-2 20M385 143l-2 14M385 130l0 4M398 532l30 0M398 519l30 0M398 506l27 1M398 493l20 1M398 480l11 2M398 467l5 3M398 454l3 3M398 442l4 2M398 429l5 2M398 416l8 1M398 403l12 0M398 390l14 0M398 377l15-1M398 299l4 21M398 286l3 22M398 273l2 22M398 260l1 22M398 247l0 23M398 234l-2 22M398 221l-3 20M398 208l-5 17M398 195l-5 15M398 182l-5 15M398 169l-4 16M398 156l-4 13M398 143l-3 7M398 130l-2 2M411 532l25 0M411 519l25 1M411 506l22 1M411 493l15 2M411 480l8 3M411 467l4 3M411 454l3 3M411 442l3 2M411 429l5 2M411 416l7 1M411 403l11 0M411 390l13 0M411 377l13-1M411 312l6 19M411 299l6 20M411 286l5 20M411 273l3 20M411 260l2 20M411 247l0 19M411 234l-2 18M411 221l-6 13M411 208l-8 8M411 195l-8 6M411 182l-7 7M411 169l-6 7M411 156l-5 5M411 143l-4 3M411 130l-4 2M411 117l-3 2M424 532l24 0M424 519l24 1M424 506l21 1M424 493l15 2M424 480l9 3M424 467l4 3M424 454l2 3M424 442l2 1M424 429l3 1M424 416l5 1M424 403l8 0M424 390l11 0M424 377l11 0M424 364l9 1M424 351l7 3M424 338l6 8M424 325l6 14M424 312l6 17M424 299l6 18M424 286l6 16M424 273l5 13M424 260l3 10M424 247l1 7M424 234l-4 6M424 221l-8 4M424 208l-11 3M424 195l-11 2M424 182l-10 2M424 169l-7 2M424 156l-5 2M424 143l-5 2M424 130l-6 4M424 117l-7 5M437 532l25 0M437 519l25 1M437 506l22 1M437 493l17 2M437 480l11 3M437 467l6 3M437 454l3 3M437 442l1 1M437 429l1 1M437 416l3 1M437 403l6 0M437 390l9 0M437 377l8 1M437 364l6 2M437 351l5 4M437 338l5 8M437 325l5 11M437 312l5 12M437 299l6 12M437 286l5 9M437 273l4 4M437 234l-4 1M437 221l-10 1M437 208l-12 1M437 195l-12 0M437 182l-11 1M437 169l-7 2M437 156l-6 2M437 143l-7 4M437 130l-9 6M437 117l-11 9M437 104l-11 11M437 91l-9 9M450 532l26 0M450 519l25 1M450 506l22 1M450 493l17 2M450 480l12 3M450 467l6 3M450 454l3 3M450 442l1 1M450 416l2 1M450 403l5 0M450 390l8 0M450 377l8 1M450 364l5 2M450 351l4 4M450 338l4 6M450 325l3 6M450 312l3 5M450 299l3 4M450 286l3 2M450 273l2 0M450 234l-6 0M450 221l-11 1M450 208l-13 0M450 195l-13 0M450 182l-11 1M450 169l-7 2M450 156l-6 3M450 143l-8 6M450 130l-11 9M450 117l-13 12M450 104l-14 13M450 91l-13 13M463 532l25 0M463 519l25 1M463 506l22 1M463 493l17 2M463 480l11 3M463 467l6 3M463 454l2 3M463 442l1 1M463 416l2 1M463 403l5 1M463 390l8 0M463 377l7 1M463 364l4 1M463 351l2 1M463 338l2 1M463 234l-7 1M463 221l-11 1M463 208l-13 0M463 195l-13 0M463 182l-10 1M463 169l-5 2M463 156l-5 3M463 143l-8 6M463 130l-11 10M463 117l-13 12M463 104l-14 14M463 91l-15 15M463 78l-13 14M476 532l23 0M476 519l23 1M476 506l21 1M476 493l15 2M476 480l8 3M476 467l3 3M476 454l1 2M476 403l4 1M476 390l7 0M476 377l7 0M476 364l3 0M476 234l-7 1M476 221l-11 1M476 208l-13 0M476 195l-12 0M476 182l-8 1M476 169l-3 1M476 156l-3 2M476 143l-5 4M476 130l-7 7M476 117l-10 10M476 104l-13 13M476 91l-15 15M476 78l-16 16M476 65l-14 14M489 532l17 0M489 519l18 1M489 506l15 2M489 493l9 2M489 480l4 2M489 467l1 2M489 429l0 1M489 403l2 1M489 390l7 0M489 377l8-1M489 364l5-1M489 351l2-1M489 234l-5 1M489 221l-10 1M489 208l-12 0M489 195l-10 0M489 182l-4 1M489 143l-2 1M489 130l-3 3M489 117l-6 6M489 104l-11 10M489 91l-14 14M489 78l-16 15M489 65l-17 16M489 52l-15 14M502 532l15 0M502 519l15 1M502 506l12 2M502 493l8 2M502 480l3 2M502 467l1 2M502 429l0 1M502 403l2 1M502 390l6 0M502 377l8-1M502 364l6-1M502 351l2-1M502 234l-4 1M502 221l-9 0M502 208l-10 0M502 195l-6 0M502 117l-2 2M502 104l-7 6M502 91l-11 11M502 78l-14 13M502 65l-17 16M502 52l-18 16M502 39l-17 15M515 532l16 0M515 519l15 1M515 506l13 2M515 493l9 2M515 480l5 3M515 467l2 2M515 429l0 1M515 403l1 0M515 390l6 0M515 377l7-1M515 364l5-1M515 351l2-1M515 234l-3 0M515 221l-8 0M515 208l-7 0M515 104l-2 2M515 91l-7 6M515 78l-12 10M515 65l-16 14M515 52l-18 16M515 39l-19 16M515 26l-16 13M528 532l16 1M528 519l15 1M528 506l13 2M528 493l10 2M528 480l7 3M528 467l4 3M528 454l1 2M528 390l2-1M528 377l4-1M528 364l2-1M528 221l-3 0M528 91l-2 1M528 78l-8 6M528 65l-14 12M528 52l-17 14M528 39l-18 14M528 26l-18 13M541 532l14 1M541 519l14 1M541 506l12 2M541 493l9 2M541 480l7 3M541 467l4 3M541 454l1 2M541 78l-4 3M541 65l-10 8M541 52l-14 11M541 39l-16 12M541 26l-16 11M541 14l-15 9M554 532l7 2M554 519l7 3M554 506l7 3M554 493l6 3M554 480l4 3M554 467l1 2M554 65l-4 2M554 52l-9 6M554 39l-12 8M554 26l-14 9M554 14l-13 7M567 532l1 2M567 519l1 2M567 506l1 2M567 493l1 2M567 52l-3 1M567 39l-7 4M567 26l-9 5M567 14l-10 4M580 532l0 2M580 519l0 2M580 506l0 2M580 493l0 2M580 26l-4 2M580 14l-6 2M593 532l0 2M593 519l0 2M593 506l-1 2M593 493l-1 2M593 351l-2 0M593 14l-3 0M606 532l-1 2M606 519l-1 3M606 506l-1 3M606 493l-1 3M606 480l-1 2M606 416l1-1M606 364l-2-1M606 351l-3 0M619 532l-1 3M619 519l-1 3M619 506l-1 3M619 493l-1 3M619 480l-1 2M619 416l1-1M619 364l-2-1M619 351l-3 0M632 532l-1 2M632 519l-1 3M632 506l-1 3M632 493l-1 3M632 364l-4-1M632 351l-4 0M644 532l0 2M644 519l0 3M644 506l0 3M644 493l0 3M644 480l0 2M644 416l2-1M644 364l-5-1M644 351l-6 0M657 532l0 2M657 519l0 3M657 506l0 3M657 493l0 3M657 480l0 2M657 416l2-1M657 364l-6-1M657 351l-7 0M657 338l-2 0M670 532l0 3M670 519l0 3M670 506l0 3M670 493l0 3M670 480l0 2M670 416l2-1M670 364l-6-1M670 351l-6 0M683 532l0 3M683 519l-1 3M683 506l-1 3M683 493l0 3M683 480l0 2M683 364l-7-1M683 351l-6 0M696 532l0 3M696 519l-1 3M696 506l-1 3M696 493l0 3M696 480l0 2M696 377l-2 0M696 364l-9 0M696 351l-9 0M709 532l0 2M709 519l0 3M709 506l-1 3M709 493l0 3M709 480l0 2M709 377l-3 0M709 364l-10 0M709 351l-11 0M709 338l-2 0M722 532l0 2M722 519l0 3M722 506l0 3M722 493l0 3M722 480l0 2M722 377l-6-1M722 364l-13-1M722 351l-11 0M735 519l0 3M735 506l0 3M735 493l0 3M735 480l0 3M735 390l-2-1M735 377l-13-1M735 364l-17-1M735 351l-13-1M735 338l-2 0M748 519l0 3M748 506l0 3M748 493l0 3M748 480l0 3M748 390l-7-1M748 377l-18-1M748 364l-20-1M748 351l-17-1M748 338l-7 0M761 519l0 2M761 506l0 3M761 493l0 3M761 480l0 3M761 390l-9-1M761 377l-19-1M761 364l-21-1M761 351l-19-1M761 338l-12-1" stroke="#fff" stroke-width="1.6" fill="none"/><path d="M148 532l-8 3 0-6zM148 519l-8 3 0-6zM146 506l-8 3 0-6zM143 494l-8 3 0-6zM138 481l-8 3 0-6zM133 469l-8 2 0-6zM130 456l-9 2 1-6zM129 443l-8 2 0-6zM129 429l-8 3 1-6zM130 416l-8 3 0-6zM131 403l-8 3 0-6zM130 390l-8 3 0-6zM129 377l-8 3 0-6zM127 364l-8 3 0-6zM126 351l-8 3 0-6zM124 338l-8 3 0-6zM121 325l-8 3 0-6zM119 312l-7 2 0-5zM117 299l-5 2 0-4zM116 286l-4 1 0-3zM115 272l-2 2-1-2zM115 259l-2 2-1-2zM115 246l-2 2-1-2zM115 234l-3 1 0-2zM115 221l-3 1 0-2zM115 208l-3 1 0-2zM115 195l-3 1 0-2zM115 182l-3 1 0-2zM115 169l-3 1 0-2zM115 156l-3 1 0-2zM115 143l-3 1 0-2zM115 130l-3 1 0-2zM115 118l-3 0 0-2zM115 106l-3-1 1-2zM114 94l-3-2 2-1zM114 81l-3-2 2-1zM114 67l-3-1 2-1zM112 38l1 2-2-1zM112 25l1 1-2 0zM112 12l1 2-2 0zM163 532l-8 3 0-6zM163 519l-8 3 0-6zM160 506l-8 3 0-6zM156 494l-8 3 0-6zM152 481l-8 3 0-6zM147 469l-8 2 0-6zM143 456l-8 2 1-6zM142 443l-8 2 1-6zM143 429l-8 3 0-6zM144 416l-8 3 0-6zM144 403l-8 3 0-6zM144 390l-8 3 0-6zM142 377l-8 3 0-6zM141 364l-8 3 0-6zM139 351l-8 3 0-6zM137 338l-8 3 0-6zM135 325l-8 3 0-6zM132 312l-7 3 0-6zM131 299l-6 2 0-4zM129 286l-4 1 0-3zM128 272l-2 2-1-2zM128 259l-2 2-1-2zM128 246l-2 2-1-2zM128 234l-3 1 0-2zM128 221l-3 1 0-2zM128 208l-3 1 0-2zM128 195l-3 1 0-2zM128 182l-3 1 0-2zM128 169l-3 1 0-2zM128 156l-3 1 0-2zM128 143l-3 1 0-2zM128 130l-3 1 0-2zM128 118l-3 0 0-2zM128 106l-3-1 1-2zM127 94l-3-2 2-1zM127 81l-3-2 2-1zM127 67l-3-1 2-1zM125 38l1 2-2-1zM125 25l1 1-2 0zM125 12l1 2-2 0zM176 532l-8 3 0-6zM176 519l-8 3 0-6zM173 506l-8 3 0-6zM170 494l-8 3 0-6zM165 481l-8 3 0-6zM160 469l-8 2 0-6zM156 456l-8 2 1-6zM155 443l-8 2 1-6zM156 429l-8 3 0-6zM157 416l-8 3 0-6zM157 403l-8 3 0-6zM157 390l-8 3 0-6zM155 377l-8 3 0-6zM154 364l-8 3 0-6zM152 351l-8 3 0-6zM150 338l-8 3 0-6zM148 325l-8 3 0-6zM145 312l-7 2 0-5zM144 299l-6 2 0-4zM142 285l-4 2 0-3zM141 272l-2 2-1-2zM141 259l-2 2-1-2zM141 246l-2 2-1-2zM141 233l-2 2-1-2zM141 220l-3 2 0-2zM141 208l-3 1 0-2zM141 195l-3 1 0-2zM141 182l-3 1 0-2zM141 169l-3 1 0-2zM141 156l-3 1 0-2zM141 143l-3 1 0-2zM141 130l-3 1 0-2zM141 117l-3 1 0-2zM141 106l-3-1 1-2zM140 94l-3-2 2-1zM140 81l-3-2 2-1zM140 67l-3-1 2-1zM138 38l1 2-2-1zM138 25l1 1-2 0zM138 12l1 2-2 0zM189 532l-8 3 0-6zM188 519l-8 3 0-6zM186 506l-8 3 0-6zM182 494l-8 3 0-6zM178 481l-9 3 1-6zM172 469l-8 2 1-6zM169 456l-8 2 0-6zM168 443l-8 2 1-6zM169 429l-8 3 0-6zM170 416l-8 3 0-6zM170 403l-8 3 0-6zM169 390l-8 3 0-6zM168 377l-8 3 0-6zM167 364l-8 3 0-6zM165 351l-8 3 0-6zM163 338l-8 3 0-6zM161 325l-8 3 0-6zM158 311l-7 3 0-5zM156 298l-4 3-1-4zM155 285l-3 2-1-2zM154 271l-2 3-1-2zM154 258l-2 3-2-2zM154 245l-2 3-2-2zM153 232l-1 3-2-2zM153 219l-1 3-1-2zM153 206l-1 3-1-2zM153 193l-1 3-1-2zM153 180l-1 3-1-2zM153 167l-1 3-1-2zM153 154l-1 3-1-2zM153 142l-1 2-1-2zM154 129l-2 2-1-2zM153 117l-2 1 0-2zM153 106l-2-1 1-2zM153 94l-3-2 2-1zM153 81l-3-2 2-1zM153 67l-3-1 2-1zM151 38l1 2-2-1zM151 25l1 1-2 0zM151 12l1 2-2 0zM200 532l-8 3 0-6zM200 519l-8 3 0-6zM199 506l-8 3 0-6zM194 494l-8 3 0-6zM188 481l-8 3 1-6zM183 469l-8 2 0-5zM181 456l-8 3 1-6zM181 443l-8 2 0-6zM182 430l-8 2 0-6zM183 416l-9 3 1-6zM183 403l-8 3 0-6zM182 390l-8 3 0-6zM181 377l-8 3 0-6zM179 364l-8 3 0-6zM178 351l-9 3 1-6zM176 338l-8 3 0-6zM174 325l-8 3 0-6zM171 311l-6 3-1-5zM169 297l-4 4-1-4zM167 283l-2 4-2-2zM166 270l-1 4-2-2zM166 256l0 5-3-2zM166 243l0 5-3-2zM165 230l1 4-3 0zM165 217l1 4-3 0zM165 204l1 4-3 0zM165 191l1 4-3 0zM165 178l1 4-3 0zM165 165l1 4-3 0zM165 152l1 5-3-1zM166 140l-1 4-2-1zM166 127l-1 4-2-1zM166 116l-1 2-1-2zM166 105l-2 0 1-2zM166 94l-3-2 2-1zM166 81l-3-2 2-1zM166 67l-3-1 2-1zM165 52l0 1-2-1zM164 37l1 3-2-1zM164 24l1 2-2 0zM164 11l1 3-2 0zM212 532l-8 3 0-6zM213 519l-8 3 0-6zM211 506l-8 3 0-6zM205 494l-8 3 0-6zM199 482l-9 2 1-6zM195 470l-9 2 1-6zM194 457l-9 2 1-6zM194 443l-8 2 0-5zM195 430l-8 2 0-6zM196 416l-9 3 1-6zM196 403l-8 3 0-6zM195 390l-8 3 0-6zM194 377l-8 3 0-6zM192 365l-8 2 0-6zM191 352l-9 2 1-6zM189 339l-8 2 0-6zM187 325l-8 3 0-6zM184 311l-7 3 0-5zM181 297l-3 3-2-3zM180 282l-1 5-3-2zM179 268l0 5-4-1zM178 255l1 5-4-1zM178 242l1 5-4 0zM178 228l1 6-4 0zM177 215l2 6-4 0zM177 202l2 6-4 0zM177 189l2 6-4 0zM177 176l2 6-4 0zM177 163l2 6-4 0zM178 151l1 5-4 0zM178 138l1 5-4 0zM178 126l1 5-3-1zM178 115l0 3-2-1zM179 105l-2 0 0-2zM179 93l-3-1 2-1zM179 80l-3-1 2-1zM178 66l-1 0 1-2zM178 51l0 2-2-1zM177 37l1 2-2 0zM177 24l1 2-2 0zM177 11l1 3-2 0zM230 532l-8 3 0-6zM230 519l-8 3 0-6zM227 506l-8 3 0-6zM221 494l-8 3 0-6zM214 482l-8 2 0-6zM209 470l-8 2 0-6zM207 457l-8 2 1-6zM207 444l-8 2 0-6zM208 430l-8 2 0-6zM209 416l-9 3 1-6zM209 403l-8 3 0-6zM208 390l-8 3 0-6zM207 378l-8 2 0-6zM205 366l-8 2 1-6zM204 353l-9 2 1-6zM202 341l-8 1 1-6zM200 327l-8 1 1-6zM197 312l-7 2 0-5zM194 296l-3 4-2-3zM192 281l0 6-4-2zM191 267l1 6-4 0zM191 254l2 6-5 0zM191 240l2 7-5 0zM190 227l3 7-5 0zM190 214l3 7-5 0zM190 201l3 7-5 0zM190 188l3 7-5 0zM190 175l3 7-5 0zM190 163l3 6-5 0zM190 150l2 6-4 0zM191 138l1 5-4 0zM191 126l1 4-4 0zM191 114l0 4-2-1zM191 103l0 2-2-2zM191 91l-1 1 0-2zM191 78l-1 1 0-2zM191 64l0 2-2-1zM245 532l-8 3 0-6zM245 519l-8 3 0-6zM242 506l-8 3 0-6zM237 494l-8 3 0-6zM231 481l-8 3 0-6zM225 469l-8 2 0-5zM221 457l-8 2 0-6zM220 444l-8 2 0-6zM220 430l-8 3 1-6zM221 417l-8 2 0-6zM222 404l-9 2 1-6zM221 391l-8 2 0-6zM220 379l-9 2 1-6zM218 367l-9 1 2-6zM216 355l-8 1 2-6zM215 343l-9-1 2-5zM213 329l-9-1 2-5zM209 312l-6 2 0-5zM206 295l-2 5-2-2zM204 280l1 6-4 0zM203 266l3 7-6 0zM203 252l3 8-6 0zM203 239l3 8-6 0zM203 227l3 7-6 0zM203 214l3 7-6 0zM203 201l3 7-6 0zM203 188l3 7-6 0zM203 175l3 7-6 0zM203 162l3 7-5 0zM203 150l3 6-5 0zM203 137l2 6-4 0zM203 125l2 5-4 0zM204 113l1 4-3 0zM259 532l-8 3 0-6zM258 519l-8 3 0-6zM255 506l-8 3 0-6zM251 494l-8 3 0-6zM246 481l-9 3 1-6zM239 469l-8 3 1-6zM234 457l-8 2 1-6zM232 445l-8 1 1-6zM232 432l-8 1 1-6zM233 419l-8 1 1-6zM234 406l-9 1 1-5zM234 393l-9 2 1-6zM232 381l-8 1 2-6zM231 369l-9 0 2-6zM228 357l-8-1 3-5zM227 345l-9-2 4-5zM224 330l-8-2 3-5zM221 312l-5 2 0-4zM218 295l0 4-3-1zM216 279l3 7-5 0zM216 265l3 8-6 0zM215 252l4 7-6 1zM215 239l4 8-6 0zM216 226l3 8-6 0zM216 213l3 8-6 0zM216 200l3 8-6 0zM216 187l3 8-6 0zM216 175l3 7-6 0zM216 162l3 7-5 0zM216 150l2 6-4 0zM216 137l2 6-4 0zM271 532l-8 3 0-6zM271 519l-8 3 0-6zM268 506l-8 3 0-6zM263 494l-8 3 0-6zM257 481l-8 3 0-6zM250 470l-8 2 1-6zM246 458l-9 1 1-6zM244 446l-9 0 2-5zM244 433l-9 1 2-6zM245 421l-9 0 2-6zM246 408l-9 0 2-5zM246 395l-8 1 2-6zM246 383l-9 0 2-6zM244 370l-9 0 3-6zM241 359l-8-2 3-5zM238 346l-8-3 4-5zM236 331l-8-3 4-5zM233 312l-4 1 0-2zM230 294l1 5-4 0zM228 278l4 8-6 0zM228 264l4 8-6 1zM228 251l4 8-6 1zM228 239l4 7-6 1zM228 226l4 8-6 0zM228 213l4 8-6 0zM229 201l3 7-6 0zM229 188l3 7-6 0zM229 175l3 7-6 0zM229 162l3 7-5 0zM282 532l-8 3 0-6zM282 519l-8 3 0-6zM279 506l-8 3 0-6zM273 494l-8 3 0-6zM266 482l-9 3 1-6zM259 471l-8 1 1-6zM257 458l-8 1 1-6zM256 446l-8 0 2-5zM257 434l-9 0 2-6zM258 421l-9 0 2-5zM259 409l-9 0 2-6zM259 396l-8 0 2-6zM259 383l-9 0 2-6zM257 370l-9 0 3-6zM253 358l-8-2 3-5zM250 346l-8-4 4-4zM247 330l-7-3 4-4zM243 311l0 2-1-2zM241 293l3 5-4 1zM241 278l4 7-6 1zM241 265l4 7-6 1zM241 252l4 7-6 1zM241 239l4 8-6 0zM241 227l4 7-6 0zM241 214l4 7-6 0zM242 201l3 7-6 0zM292 532l-8 3 0-6zM293 519l-8 3 0-6zM290 507l-8 2 0-6zM283 494l-8 3 1-6zM276 483l-9 2 1-6zM271 471l-8 1 1-6zM269 458l-8 1 2-6zM269 446l-9 0 2-5zM269 433l-8 1 2-6zM271 421l-9 0 2-6zM272 408l-9 0 2-5zM272 395l-8 1 2-6zM272 382l-9 0 2-5zM269 369l-8 0 2-5zM265 357l-8-1 3-6zM261 344l-8-4 5-4zM257 328l-3-2 2-2zM254 309l2 2-2 1zM253 293l4 5-4 2zM253 278l5 7-6 2zM254 265l4 7-6 1zM254 252l4 7-6 1zM254 240l4 7-6 0zM254 227l4 7-6 0zM308 532l-8 3 0-6zM308 519l-8 3 0-6zM305 506l-8 3 0-6zM298 494l-8 3 1-6zM292 482l-9 2 1-6zM285 470l-9 2 1-6zM282 458l-9 1 2-6zM281 446l-8 0 1-6zM282 433l-9 0 2-5zM284 420l-9 1 2-6zM285 407l-8 1 1-6zM286 393l-9 2 2-6zM285 380l-8 1 1-6zM282 367l-8 1 1-6zM277 355l-8-1 2-5zM271 342l-4-3 2-2zM266 326l2-2 0 2zM265 309l4 2-2 2zM265 293l5 5-4 2zM266 279l5 6-6 2zM267 265l4 7-6 1zM267 252l4 8-6 0zM323 532l-8 3 0-6zM322 519l-8 3 0-6zM319 506l-8 3 0-6zM313 494l-8 3 0-6zM307 482l-9 2 1-6zM300 470l-9 2 1-6zM295 458l-9 1 2-6zM293 445l-8 1 2-6zM294 432l-8 1 1-6zM297 419l-9 1 2-6zM299 405l-8 2 1-6zM300 391l-8 3 0-6zM299 378l-9 2 1-6zM295 365l-8 2 0-6zM288 353l-8 0 2-5zM279 340l1-3 2 1zM275 324l6-2 0 5zM275 309l7 1-2 4zM277 294l6 3-4 3zM337 532l-8 3 0-6zM336 519l-8 3 0-6zM332 506l-8 3 0-6zM327 494l-8 3 0-6zM320 481l-8 3 0-6zM313 470l-8 2 0-6zM308 458l-9 1 2-6zM306 445l-8 1 1-6zM307 432l-9 1 2-6zM310 419l-9 1 1-6zM312 405l-8 2 1-6zM313 391l-8 2 1-6zM312 378l-8 2 0-6zM307 365l-8 2 0-6zM297 353l-4-1 2-3zM288 340l5-4 2 4zM284 325l8-3 1 6zM286 310l8-1-1 6zM349 532l-8 3 0-6zM348 519l-8 3 0-6zM345 506l-8 3 0-6zM339 494l-8 3 0-6zM332 482l-8 2 1-6zM325 470l-8 2 1-6zM320 458l-8 1 1-6zM319 445l-9 1 2-6zM320 432l-9 1 2-6zM323 419l-9 1 2-6zM325 405l-8 2 1-6zM326 391l-8 2 0-6zM324 378l-8 2 0-6zM318 365l-9 2 1-6zM308 353l-2-2 2-1zM299 341l6-6 3 6zM296 327l7-4 1 6zM360 532l-8 3 0-6zM360 519l-8 3 0-6zM357 506l-8 3 0-6zM350 494l-8 3 0-6zM342 482l-8 2 1-5zM335 471l-9 1 2-6zM332 458l-9 1 2-6zM331 446l-8 0 2-6zM333 432l-9 1 2-6zM336 418l-8 2 1-6zM339 404l-8 3 1-6zM340 390l-8 3 0-6zM336 378l-8 2 1-6zM329 365l-8 2 1-6zM320 354l-1-3 2 0zM312 342l6-6 2 5zM308 329l6-5 2 5zM369 532l-8 3 0-6zM370 519l-8 3 0-6zM366 507l-8 3 0-6zM359 494l-8 3 0-6zM350 483l-9 2 1-6zM345 471l-9 1 2-6zM343 459l-8-1 2-5zM344 446l-9 0 2-6zM346 432l-9 1 2-6zM350 418l-9 2 1-6zM353 404l-8 2 0-6zM354 390l-8 3 0-6zM350 377l-8 3 1-6zM342 365l-8 2 1-6zM333 354l-1-3 2 0zM325 342l6-6 2 5zM321 330l6-6 2 6zM319 316l7-5 2 6zM321 302l7-5 2 6zM383 532l-8 3 0-6zM383 519l-8 3 0-6zM380 507l-8 2 0-6zM373 494l-8 3 0-6zM365 483l-8 2 0-6zM358 471l-8 1 2-6zM356 459l-8-1 2-5zM357 446l-9 0 2-6zM359 432l-9 1 2-6zM363 418l-9 2 1-6zM366 403l-8 3 0-6zM368 390l-8 3 0-6zM365 377l-8 3 0-6zM358 365l-8 2 0-6zM349 354l-4-2 2-2zM341 342l3-6 3 4zM336 330l6-7 3 6zM333 317l7-6 2 6zM335 303l7-6 2 6zM346 297l-3-8 6 0zM398 532l-8 3 0-6zM398 519l-8 3 0-6zM394 506l-8 3 0-6zM389 494l-8 3 0-6zM382 482l-8 2 0-6zM375 470l-8 2 1-6zM370 459l-8 0 2-6zM370 446l-9 0 2-6zM372 432l-9 1 2-6zM376 418l-9 2 1-6zM379 403l-8 3 0-6zM381 390l-8 3 0-6zM379 377l-8 3 0-6zM375 364l-8 3 0-6zM369 352l-8 2 1-6zM363 340l-5-1 2-3zM358 328l0-4 2 1zM355 315l3-5 2 3zM357 315l-2-8 6 0zM360 310l-3-8 6 0zM360 299l-3-8 6 0zM412 532l-8 3 0-6zM411 519l-8 3 0-6zM408 506l-8 3 0-6zM403 494l-8 3 0-6zM397 481l-8 3 0-6zM390 470l-8 2 1-6zM384 459l-8 0 2-6zM383 446l-9 0 2-6zM384 433l-8 0 1-6zM388 418l-9 2 1-6zM391 404l-8 2 1-6zM393 390l-8 3 0-6zM393 377l-8 3 0-6zM374 314l-3-8 6-1zM373 302l-3-8 6-1zM373 289l-4-8 6 0zM371 276l-2-8 6 0zM370 264l-2-8 6 0zM369 251l-2-8 6 1zM424 532l-8 3 0-6zM423 519l-8 3 0-6zM420 506l-8 3 0-6zM415 494l-8 3 0-6zM408 482l-8 3 0-6zM401 471l-9 1 2-6zM396 460l-9-1 3-5zM395 447l-9-1 3-6zM397 433l-9 0 2-6zM400 418l-8 2 1-6zM404 404l-8 2 0-6zM406 390l-8 3 0-6zM388 315l-4-8 6-1zM387 302l-3-8 6 0zM386 289l-3-8 6 0zM385 277l-3-8 6 0zM383 264l-2-8 6 1zM382 251l-2-8 6 0zM381 237l-2-9 6 1zM381 222l-2-8 6 1zM381 209l-2-8 6 1zM382 197l-2-9 6 1zM382 183l-2-8 6 0zM382 164l-2-8 6 1zM384 141l-2-8 6 0zM435 532l-8 3 0-6zM435 519l-8 3 0-6zM432 507l-8 3 0-6zM425 495l-8 2 0-6zM416 483l-8 2 1-6zM409 472l-8 0 2-5zM407 460l-8-1 3-5zM408 447l-9-1 3-5zM410 433l-9 0 2-6zM413 418l-8 2 1-6zM417 404l-8 2 0-6zM419 390l-8 3 0-6zM420 376l-8 3 0-6zM404 327l-5-7 6-1zM402 315l-4-8 6-1zM401 302l-4-8 6-1zM400 289l-4-8 6 0zM398 277l-3-8 6 0zM396 263l-3-8 6 1zM393 248l-1-8 6 1zM391 232l0-9 5 2zM390 216l0-8 6 2zM391 204l0-9 5 2zM392 191l-1-8 6 1zM392 176l-1-9 6 2zM392 157l0-9 6 3zM391 137l4-8 4 4zM394 119l3-3 1 3zM443 532l-8 3 0-6zM443 520l-8 3 0-6zM440 507l-8 3 0-6zM433 496l-8 2 1-6zM425 485l-8 0 1-5zM421 473l-9-1 3-5zM419 461l-8-3 4-5zM420 447l-8-1 3-5zM422 433l-9 0 3-6zM425 419l-8 1 1-6zM429 404l-8 2 0-6zM431 390l-8 3 0-6zM431 376l-8 3 0-6zM420 338l-6-7 6-2zM418 326l-5-7 6-2zM417 313l-5-7 6-1zM416 300l-5-8 6-1zM414 287l-4-8 6-1zM412 273l-4-8 6 0zM408 259l-2-8 6 0zM402 240l1-8 5 2zM399 221l3-8 4 4zM397 206l5-8 4 5zM398 193l4-7 4 4zM400 181l3-8 5 4zM401 165l4-7 4 4zM401 149l5-7 3 6zM400 135l6-6 3 5zM401 122l6-6 3 5zM455 532l-8 3 0-6zM455 520l-8 3 0-6zM452 508l-8 2 1-6zM446 496l-8 2 1-6zM440 485l-8 1 1-6zM434 473l-8-1 3-5zM432 461l-8-3 4-4zM431 448l-8-3 4-5zM433 434l-9-2 3-5zM436 419l-9 1 2-6zM439 404l-8 2 1-6zM442 390l-8 3 0-6zM442 377l-8 3 0-6zM440 366l-9 2 1-6zM437 357l-8-1 2-5zM435 351l-8-4 5-4zM433 345l-6-6 6-2zM433 335l-6-6 6-2zM433 323l-6-6 6-2zM432 309l-6-7 6-2zM431 293l-5-7 5-2zM430 277l-6-7 6-2zM426 261l-4-7 6-1zM417 245l1-8 6 3zM409 228l6-6 3 5zM407 212l7-5 1 6zM406 198l8-4 1 6zM407 186l8-5 1 6zM410 174l7-6 2 6zM412 161l6-6 3 6zM412 148l6-6 3 6zM412 137l5-7 3 6zM411 126l5-7 3 5zM469 532l-8 3 0-6zM469 520l-8 3 0-6zM466 508l-9 2 1-6zM461 496l-9 2 1-6zM455 485l-8 1 1-6zM449 473l-8 0 2-6zM445 461l-8-3 4-4zM443 448l-8-4 5-4zM443 434l-8-3 4-4zM446 419l-8 0 2-5zM450 404l-8 2 0-6zM453 390l-8 3 0-6zM452 378l-8 3 1-6zM450 369l-9 0 2-6zM447 360l-8-3 4-4zM446 352l-7-5 5-3zM445 343l-6-6 6-3zM445 330l-6-6 6-2zM446 317l-7-6 6-2zM446 301l-7-5 5-3zM446 282l-8-4 4-4zM444 264l-9-2 3-5zM436 249l0-2 2 0zM426 236l7-4 1 5zM420 223l8-4 0 6zM418 209l7-3 1 6zM418 196l7-4 1 6zM419 184l8-4 1 6zM423 172l7-4 2 5zM425 161l6-6 2 6zM424 150l6-6 3 5zM423 140l5-7 3 5zM421 131l4-8 4 5zM421 119l3-7 4 4zM423 105l4-8 4 4zM483 532l-8 3 0-6zM482 520l-8 3 0-6zM479 508l-8 2 0-6zM474 496l-8 2 0-6zM469 485l-9 1 1-6zM463 473l-9 0 3-6zM458 461l-8-3 4-4zM455 448l-7-4 5-4zM456 434l-8-3 4-4zM458 420l-8-1 2-6zM462 405l-8 1 1-6zM465 391l-8 2 0-6zM464 379l-8 2 1-6zM461 370l-8-1 2-6zM458 360l-7-4 4-4zM457 350l-6-5 5-4zM457 337l-7-5 6-3zM457 322l-7-5 5-3zM457 308l-7-4 5-4zM459 292l-9-2 4-5zM459 274l-9 2 1-6zM455 259l-5 3 0-4zM446 247l4-2 0 3zM437 235l8-4 0 6zM432 222l8-3 1 6zM430 209l8-4 0 6zM430 195l8-3 0 6zM433 183l7-3 1 6zM437 173l7-5 1 6zM438 162l5-6 3 5zM436 153l5-7 4 4zM434 143l4-7 4 5zM432 134l4-8 4 4zM431 122l4-8 4 5zM432 109l4-8 4 4zM495 532l-8 3 0-6zM495 520l-8 3 0-6zM492 508l-9 2 1-6zM487 496l-9 2 1-6zM481 485l-9 1 2-6zM475 473l-8 0 2-6zM470 461l-8-3 4-4zM468 449l-7-5 5-4zM468 435l-7-4 4-4zM471 420l-9-1 3-6zM475 405l-9 1 2-6zM478 391l-8 2 0-6zM477 379l-8 2 0-6zM473 368l-8 0 2-6zM471 357l-8-3 3-5zM470 344l-8-3 4-5zM469 330l-8-3 4-5zM469 314l-7 0 2-4zM469 300l-7 1 1-5zM471 286l-8 3 0-6zM470 271l-7 5-1-6zM465 259l-2 2-1-2zM456 247l7-3 0 5zM449 235l8-3 0 6zM445 222l8-3 0 6zM443 209l8-4 0 6zM443 195l8-3 0 6zM446 183l8-3 0 6zM451 173l7-5 2 5zM452 163l5-7 3 5zM450 153l4-7 4 5zM447 144l4-7 4 4zM445 134l4-8 4 5zM444 123l4-8 4 4zM443 111l4-8 4 4zM445 97l3-8 4 4zM506 532l-8 3 0-6zM506 520l-8 3 0-6zM504 508l-8 2 0-6zM498 496l-9 2 1-6zM491 485l-8 1 1-6zM485 474l-8-2 3-5zM482 461l-8-4 5-4zM480 449l-7-6 6-3zM480 436l-7-6 5-3zM482 421l-8-3 4-5zM487 405l-9 1 2-5zM490 390l-8 3 0-6zM490 377l-8 3 0-6zM486 365l-8 2 1-6zM484 352l-8 2 0-6zM483 338l-7 2 0-5zM481 324l-5 3-1-4zM481 309l-4 5-2-4zM481 295l-4 6-3-4zM482 283l-5 5-2-5zM482 271l-6 4-1-4zM468 248l7-4 1 6zM462 236l8-4 1 6zM459 222l7-3 1 6zM456 209l8-4 0 6zM457 195l8-3 0 6zM462 184l7-4 1 6zM467 173l6-6 2 6zM467 162l5-7 3 5zM466 151l4-7 4 5zM463 141l4-7 4 4zM461 132l3-8 5 4zM458 122l4-8 4 4zM456 111l4-8 4 4zM455 99l4-8 4 5zM457 84l3-8 5 5zM513 532l-8 3 0-6zM514 520l-8 3 0-6zM511 508l-8 2 0-6zM505 497l-8 1 1-6zM499 486l-9-1 3-6zM495 474l-8-4 4-4zM493 462l-7-6 5-3zM491 449l-5-6 6-2zM491 437l-5-7 6-2zM493 423l-7-6 5-3zM498 407l-9-1 3-5zM503 390l-8 3 0-6zM504 376l-8 3-1-6zM501 362l-8 4 0-6zM498 348l-7 5-2-6zM496 335l-6 5-2-5zM494 321l-4 6-3-4zM493 307l-2 6-4-3zM493 294l-2 7-4-4zM495 283l-5 5-2-5zM494 272l-5 3-1-4zM490 260l-2 1 1-2zM483 248l5-3 1 4zM477 236l7-4 1 5zM472 222l8-3 0 6zM470 208l8-3 0 6zM472 195l8-3 0 6zM478 183l7-4 1 6zM482 173l5-6 3 5zM482 161l5-7 4 5zM482 149l4-8 4 5zM481 137l4-7 4 4zM478 127l4-7 4 4zM473 119l4-8 4 4zM470 110l4-8 4 4zM468 98l4-8 4 5zM467 86l4-7 4 4zM469 71l4-8 4 5zM524 533l-8 2 0-6zM524 520l-8 3 0-6zM521 508l-8 2 1-5zM516 497l-8 1 1-6zM512 486l-9-1 3-6zM508 474l-8-4 4-4zM506 462l-7-6 5-3zM504 449l-5-6 6-2zM503 437l-4-7 6-1zM505 423l-6-6 6-2zM510 407l-9-1 3-5zM515 390l-8 3 1-6zM517 375l-8 4 0-6zM515 361l-8 5-1-6zM511 348l-7 5-1-6zM508 334l-5 6-3-5zM506 320l-3 7-3-4zM506 307l-2 6-4-3zM507 295l-4 6-3-4zM508 283l-5 5-2-5zM508 272l-6 3-1-4zM503 260l-2 1 1-2zM498 248l3-3 1 4zM491 236l7-5 1 6zM486 222l8-4 0 6zM485 208l8-3 0 6zM489 194l8-2 0 6zM495 181l7-1-1 5zM498 171l3-3 1 3zM498 160l2-5 3 3zM498 147l2-5 3 3zM497 134l3-5 3 3zM495 123l4-7 4 4zM490 115l4-8 4 5zM485 106l4-7 4 4zM483 96l3-7 4 4zM480 85l4-7 4 4zM479 73l4-8 4 5zM480 58l4-7 4 4zM538 533l-8 2 0-6zM537 520l-8 3 0-6zM535 508l-8 3 0-6zM531 497l-9 1 2-6zM527 485l-9 0 3-5zM523 473l-8-2 3-5zM520 461l-7-4 4-4zM518 449l-6-6 6-2zM516 437l-4-7 6-1zM518 423l-6-6 5-3zM522 406l-8 0 3-6zM528 390l-8 3 0-6zM529 375l-8 4-1-6zM526 361l-7 5-1-6zM523 348l-6 5-2-5zM521 334l-5 6-3-5zM520 321l-4 6-3-4zM520 307l-4 7-3-4zM520 295l-4 6-3-4zM522 284l-7 5-1-6zM521 272l-6 3-1-5zM518 260l-3 1 0-2zM512 248l2-2 1 2zM505 235l8-4 1 6zM500 222l8-4 1 6zM501 207l9-2-1 6zM508 193l8-1-2 6zM513 179l3 2-2 2zM514 168l1 0-1 2zM513 158l1-3 1 2zM513 145l1-3 1 2zM512 131l2-2 1 2zM511 119l3-3 1 3zM507 110l5-7 3 5zM503 101l4-7 4 4zM498 93l4-8 4 5zM494 84l4-8 4 5zM492 72l4-7 4 4zM491 60l4-8 4 5zM493 44l5-8 4 5zM551 533l-8 3 0-6zM550 520l-8 3 0-6zM548 508l-8 3 0-6zM545 497l-9 1 1-6zM542 485l-9 0 2-5zM538 473l-8-1 2-5zM534 461l-8-4 5-4zM531 449l-6-6 5-3zM530 436l-5-6 5-2zM531 421l-5-4 4-3zM534 404l-7 1 1-5zM537 388l-7 4-1-6zM538 374l-7 5-1-6zM537 361l-7 5-1-6zM535 348l-6 5-2-5zM535 335l-6 5-3-5zM534 321l-5 6-3-5zM534 308l-5 6-3-4zM534 296l-5 5-3-5zM536 284l-8 5-1-6zM536 272l-8 4-1-6zM533 260l-5 2 0-4zM529 248l-2 0 1-2zM522 235l5-3 1 4zM518 221l8-3 0 6zM521 206l7-1-1 6zM526 191l3 3-3 2zM529 178l0 5-3-1zM529 166l0 4-3-1zM528 154l1 3-2-1zM528 142l1 1-2 0zM528 128l1 2-2 0zM527 116l2 1-2 1zM524 105l4-2 0 3zM520 96l5-7 3 5zM514 89l5-8 3 5zM509 81l4-7 4 4zM506 71l4-8 4 5zM504 58l5-8 4 5zM505 43l5-7 3 5zM562 533l-8 3 0-6zM562 521l-9 2 1-6zM560 509l-8 2 0-6zM557 497l-8 1 1-6zM554 485l-8 0 2-5zM551 473l-8-1 3-5zM547 461l-8-4 4-4zM545 448l-7-5 5-3zM544 435l-6-5 5-3zM545 419l-6-2 3-3zM546 402l-5 3-1-5zM547 386l-5 6-3-5zM548 373l-6 6-2-5zM548 360l-6 6-2-5zM548 348l-6 5-2-5zM547 335l-5 5-2-5zM547 322l-5 5-2-5zM547 309l-5 5-3-4zM547 296l-5 5-2-5zM548 285l-7 4-1-6zM549 273l-8 3 0-6zM548 260l-8 3 1-6zM546 249l-6 0 1-4zM544 236l-4-1 2-2zM541 222l-1 0 2-1zM541 206l1 2-2 0zM542 191l0 5-3-1zM543 177l0 6-4-2zM543 165l-1 5-3-2zM543 152l-1 5-3-2zM543 139l-1 5-3-2zM542 126l0 5-3-1zM541 113l1 5-3-1zM540 102l2 2-2 1zM536 92l4-2 1 3zM531 85l5-7 3 5zM525 77l5-7 3 4zM521 67l5-7 4 4zM519 55l5-7 3 5zM519 41l5-7 3 5zM520 27l5-7 3 5zM567 537l-8 0 2-6zM568 524l-9 0 2-6zM567 511l-8 0 2-5zM567 498l-9 0 2-5zM564 486l-8-1 3-6zM561 473l-8-2 4-5zM558 461l-7-5 5-3zM558 448l-7-5 5-3zM558 434l-7-4 5-3zM558 419l-6-2 3-3zM559 401l-5 4-1-4zM560 386l-5 6-3-5zM560 372l-5 7-3-5zM559 360l-4 6-3-4zM559 349l-5 4-1-4zM558 337l-4 3-1-4zM558 324l-4 2-1-3zM558 310l-4 3-1-3zM558 297l-4 3-1-3zM558 285l-4 3-1-4zM559 273l-5 2 0-4zM560 261l-7 1 1-5zM560 250l-7 0 2-6zM560 237l-8-1 3-4zM559 223l-6 0 1-4zM558 206l-4 4-1-4zM557 190l-2 6-3-2zM557 177l-1 6-4-2zM557 164l-1 6-4-2zM556 151l-1 6-3-2zM556 138l-1 6-3-2zM556 125l-1 6-3-2zM555 112l0 6-3-1zM554 100l1 5-3-1zM552 89l2 2-1 1zM548 80l5-4 1 4zM544 70l5-6 3 5zM539 61l5-6 4 5zM536 51l5-7 3 5zM534 38l6-6 3 5zM535 25l5-7 3 5zM572 540l-7-5 5-3zM572 527l-7-5 5-3zM572 514l-7-5 5-3zM572 501l-7-5 5-4zM572 487l-8-4 5-4zM571 474l-7-5 5-3zM571 461l-7-5 5-3zM571 448l-7-5 5-3zM571 434l-6-4 4-3zM572 418l-6-1 2-3zM572 401l-5 4-1-4zM572 386l-4 6-3-4zM571 372l-3 6-3-3zM568 361l0 3-2-1zM568 339l-2-1 2-1zM568 326l-2-1 1-1zM568 312l-2 1 1-2zM567 273l-1 1 1-2zM570 261l-4 0 1-2zM573 250l-7-1 2-4zM573 237l-7-1 2-4zM573 222l-7 1 1-4zM571 205l-3 5-2-4zM571 190l-2 7-4-3zM570 176l-1 7-5-2zM570 164l-1 6-5-2zM569 151l0 6-4-2zM569 138l0 6-4-2zM569 125l0 6-4-2zM568 112l1 6-5-1zM568 99l1 6-5-1zM566 87l2 4-3 0zM565 76l3 2-2 1zM562 65l5-1 0 3zM557 56l7-6 2 6zM553 46l6-6 3 5zM552 34l5-6 3 5zM551 21l6-6 2 5zM582 541l-5-7 6-2zM582 528l-5-7 6-2zM581 515l-4-7 6-1zM581 502l-4-8 6 0zM581 488l-4-7 6-1zM583 474l-6-5 5-3zM584 460l-7-4 5-3zM585 447l-7-4 3-3zM585 432l-7-1 3-5zM586 416l-7 2 1-5zM585 400l-4 5-3-5zM584 385l-3 6-3-3zM580 373l1 4-3 0zM575 362l5 0-1 4zM574 352l5-3 1 4zM578 341l1-4 2 2zM579 328l-1-3 3 0zM578 314l1-3 2 1zM577 300l2-2 1 2zM576 286l3-2 1 3zM576 273l3-1 1 2zM580 261l-1 0 1-2zM585 249l-6 0 1-4zM586 236l-7 0 1-4zM585 220l-5 3-1-4zM584 204l-3 6-3-4zM584 189l-2 8-5-3zM583 176l-1 8-5-3zM583 163l-1 7-5-2zM582 151l0 6-4-2zM582 137l0 7-5-2zM581 124l1 7-5-1zM581 110l1 8-5-1zM581 97l1 8-5-1zM581 85l1 7-5-1zM580 74l1 4-3 0zM578 62l3 3-3 1zM575 51l5 0-1 3zM572 41l7-4 1 5zM569 30l7-5 2 5zM567 18l6-5 3 5zM593 541l-3-8 6 0zM593 528l-3-8 6 0zM592 515l-2-8 6 0zM591 502l-2-8 6 1zM592 489l-2-8 6 0zM595 474l-5-6 5-1zM597 460l-6-4 3-3zM599 445l-8-1 3-5zM600 429l-8 2 1-5zM600 414l-7 4-1-5zM599 398l-5 7-3-5zM595 385l-1 6-3-2zM590 373l4 3-3 2zM585 362l8-1-1 6zM584 351l8-3 0 6zM588 340l4-4 1 4zM591 328l0-4 3 1zM591 314l1-3 2 2zM589 300l3-3 1 3zM587 286l5-2 1 4zM588 273l5-2 0 4zM596 246l-3 2-1-2zM598 232l-5 4-1-4zM597 218l-3 5-3-4zM597 203l-2 7-4-3zM596 189l-1 7-5-2zM596 175l-1 8-5-2zM596 163l-1 7-5-2zM595 150l0 7-5-2zM594 136l1 8-5-1zM594 123l1 8-5-1zM594 110l1 8-5-1zM594 97l1 8-5-1zM594 85l1 7-5-1zM594 73l1 6-5-1zM593 60l1 5-3 0zM592 49l2 3-3 1zM589 37l4 1-1 3zM586 27l6-3 1 5zM583 16l7-5 2 6zM604 541l-2-8 6 1zM604 528l-2-8 6 1zM604 515l-2-8 6 1zM603 502l-1-8 6 1zM604 489l-2-8 6 1zM607 474l-4-6 5-1zM610 459l-6-3 3-3zM612 443l-7 1 1-5zM614 428l-8 4 0-6zM614 413l-7 5-2-5zM612 398l-5 7-3-5zM608 385l-1 6-3-2zM602 373l5 2-3 3zM597 362l8-1-1 6zM596 351l8-3 0 6zM599 340l6-5 1 5zM603 328l1-4 3 2zM603 315l1-4 3 2zM602 301l3-4 1 3zM601 287l4-3 1 4zM601 273l5-2 0 4zM605 257l2 3-3 0zM609 242l-2 6-3-2zM610 228l-2 8-5-4zM609 215l-1 7-5-2zM609 201l-1 8-5-2zM608 188l0 8-5-2zM608 175l0 8-5-2zM608 162l0 8-5-2zM607 150l1 7-5-1zM607 136l1 8-5-1zM606 123l2 8-5-1zM606 110l2 8-5-1zM606 97l2 8-5-1zM606 84l2 8-5-1zM607 72l1 7-5-1zM607 60l1 6-5-1zM606 47l1 6-3-1zM605 35l2 4-3 1zM602 24l4 1-1 3zM599 13l7-2-1 5zM616 541l-1-8 6 1zM616 528l-1-8 6 2zM616 515l-1-8 6 2zM616 502l-1-8 6 2zM617 489l-2-8 6 0zM620 475l-4-7 5-1zM623 460l-6-4 3-3zM625 444l-8 0 3-5zM626 429l-8 2 1-5zM627 413l-7 5-2-5zM625 398l-5 7-3-5zM621 385l-1 6-3-2zM615 373l5 2-3 3zM610 362l8-1-1 5zM609 351l8-3 0 6zM613 340l5-4 1 4zM616 328l1-4 3 2zM617 315l0-4 3 2zM615 301l3-4 1 3zM614 288l4-4 1 4zM614 274l4-3 1 3zM618 257l2 3-3 0zM622 241l-1 7-5-2zM622 227l-1 8-5-2zM622 214l-1 8-5-2zM621 201l0 8-5-2zM620 188l1 8-5-2zM620 175l1 8-5-2zM620 162l1 8-5-1zM619 149l2 7-5 0zM619 136l2 7-5 0zM619 123l2 7-5 0zM619 110l2 7-5 0zM619 97l2 7-5 0zM619 84l2 7-5 0zM620 73l1 6-5-1zM620 60l0 6-3-1zM620 47l0 6-3-1zM619 35l1 5-3-1zM618 23l2 3-3 1zM615 11l4 1-1 3zM629 541l-1-9 6 2zM628 528l0-8 6 2zM628 515l0-8 6 2zM629 502l-1-8 6 2zM630 489l-2-8 6 0zM633 475l-4-7 5-1zM635 460l-6-4 5-3zM637 445l-7-1 3-5zM639 429l-8 2 1-5zM640 413l-7 5-2-5zM638 398l-5 7-3-5zM634 385l-1 5-3-1zM627 373l6 2-3 3zM621 362l9-2-1 6zM621 352l8-4 1 6zM626 341l4-5 3 4zM630 328l0-4 3 1zM630 315l0-4 3 1zM628 301l3-4 1 3zM627 288l4-4 1 4zM627 274l4-3 1 4zM630 258l2 1-1 2zM634 242l0 6-5-2zM635 227l-1 8-5-2zM634 214l0 8-5-2zM634 201l0 8-5-2zM633 188l1 8-5-2zM633 175l1 8-5-1zM633 162l1 8-5-1zM632 149l2 7-5 0zM632 136l2 7-5 0zM632 123l2 7-5 0zM632 110l2 7-5 0zM632 97l2 7-5 0zM632 85l2 6-5 0zM633 74l0 5-3-1zM634 63l-2 3-1-2zM634 50l-2 3-1-2zM634 37l-2 3-1-1zM633 25l-1 2-1-1zM632 12l0 2-1-1zM641 541l0-9 6 2zM641 528l0-8 6 2zM641 515l0-8 6 2zM642 502l-1-8 6 2zM643 489l-2-9 6 1zM646 475l-4-7 5-1zM648 460l-5-4 3-3zM650 444l-7 0 3-5zM652 429l-8 2 1-5zM653 413l-7 5-2-6zM651 398l-5 7-3-5zM646 385l0 5-3-1zM639 373l7 2-3 4zM632 362l8-2 0 6zM631 351l8-3 1 6zM637 340l7-5 1 5zM642 328l1-4 3 2zM643 315l0-4 3 2zM641 302l2-4 2 2zM640 288l4-4 1 3zM640 275l4-4 1 3zM643 260l2-1-1 2zM646 243l0 5-3-2zM648 229l-2 6-4-2zM647 215l0 7-5-2zM646 202l1 7-5-2zM646 188l1 8-5-2zM646 175l1 8-5-1zM646 163l1 7-5-1zM645 150l2 6-5 0zM645 136l2 7-5 0zM645 123l2 7-5 0zM645 110l2 7-5 0zM645 97l2 7-5 0zM645 85l2 7-5-1zM647 76l-1 3-3-1zM648 66l-4 1 1-3zM649 54l-5 0 1-3zM649 41l-5 0 1-3zM649 28l-5 0 1-3zM648 16l-4-1 1-3zM654 541l0-9 6 3zM654 528l0-8 6 2zM654 516l0-9 6 2zM654 502l0-8 6 2zM655 489l-1-8 6 1zM658 475l-3-7 5-1zM661 459l-5-3 3-3zM664 444l-7 0 1-5zM665 428l-7 4-1-6zM666 413l-7 5-2-5zM664 398l-5 7-3-5zM659 385l0 5-3-1zM651 373l8 1-3 5zM644 362l8-2 0 6zM643 351l8-3 0 6zM648 340l8-5 1 6zM654 328l2-4 3 2zM656 315l0-4 3 1zM656 302l0-4 3 1zM656 289l0-4 2 1zM656 275l1-3 1 1zM658 261l-2-1 3 0zM660 246l-2 2-1-2zM660 232l-2 3-1-2zM660 219l-2 3-1-2zM660 205l-1 4-3-2zM660 191l-1 5-3-2zM660 178l-1 5-3-2zM659 166l0 4-3-2zM659 152l0 5-3-1zM657 137l3 6-5 0zM657 123l3 7-5 0zM657 110l3 7-5 0zM658 98l2 6-5 0zM658 85l2 7-5-1zM659 75l0 4-3-1zM661 66l-4 1 1-3zM662 55l-5-1 1-3zM662 42l-6-1 2-3zM662 29l-6-1 2-3zM661 16l-4-1 1-3zM667 541l0-8 6 2zM667 528l0-8 6 2zM667 516l0-9 6 2zM667 502l0-8 6 2zM668 489l-1-8 6 1zM670 475l-2-8 5 0zM673 460l-5-5 5-1zM675 445l-6-2 3-3zM678 429l-8 2 1-5zM679 414l-7 4-2-5zM677 399l-5 6-3-5zM672 386l0 4-3-1zM664 374l8 0-3 5zM657 363l8-3 0 6zM657 351l7-3 1 6zM663 340l7-5 1 6zM668 328l1-4 3 2zM670 315l-1-3 3 0zM671 302l-2-3 3 0zM671 289l-2-3 3-1zM672 276l-3-3 3-1zM672 262l-2-1 1-2zM673 247l-3 1 1-2zM673 234l-3 1 0-2zM673 221l-2 1-1-2zM673 207l-2 2-1-2zM673 194l-2 2-1-2zM673 181l-2 2-1-2zM673 168l-2 2-1-2zM673 156l-3 1 0-2zM671 142l0 1-2 0zM670 127l2 3-3 0zM670 113l2 4-3 0zM671 99l2 5-5 0zM671 86l1 5-4 0zM672 75l0 4-3-1zM673 65l-3 1 0-2zM675 55l-5-1 1-3zM675 42l-6-1 2-3zM675 29l-6-1 2-3zM674 16l-4-1 1-3zM680 541l0-8 6 2zM680 529l0-9 6 2zM680 516l0-9 6 2zM680 502l0-8 6 2zM681 489l-1-8 6 1zM683 475l-2-8 5 1zM685 461l-4-6 5-1zM687 446l-5-3 3-3zM690 430l-7 1 1-5zM691 415l-7 4-1-6zM689 401l-5 4-1-5zM684 387l0 3-2-1zM676 375l8-1-1 6zM669 363l8-2 0 6zM670 352l8-4 0 6zM677 341l5-6 2 5zM682 328l0-4 3 1zM684 316l-2-4 3 0zM685 302l-3-3 3-1zM685 289l-3-2 3-2zM685 276l-3-2 3-2zM686 262l-3-1 1-2zM686 247l-3 1 1-2zM686 234l-3 1 0-2zM686 221l-3 1 0-2zM686 208l-3 1 0-2zM686 195l-3 1 0-2zM686 182l-3 1 0-2zM686 169l-3 1 0-2zM685 157l-2 0 1-2zM684 147l-2-4 3 0zM683 133l-1-3 2 0zM683 102l1 2-2 0zM684 88l1 3-3 0zM684 77l0 2-2-1zM685 66l-2 0 1-1zM686 55l-4-2 3-2zM687 43l-5-2 3-3zM687 30l-5-2 3-3zM686 15l-3 0 1-3zM693 541l0-8 6 2zM693 528l0-8 6 2zM693 516l0-9 6 2zM693 502l0-8 6 2zM694 489l-1-8 6 1zM696 475l-2-8 5 1zM699 460l-5-5 5-1zM701 445l-6-2 3-3zM704 430l-8 1 1-5zM704 416l-8 3 0-6zM702 402l-5 3-1-5zM687 376l8-2 0 6zM680 364l8-3 0 6zM680 352l8-4 0 6zM689 340l6-5 2 6zM695 328l0-4 3 1zM697 315l-2-3 3 0zM698 302l-3-2 3-2zM698 289l-3-2 3-2zM699 276l-4-2 2-2zM699 261l-3 0 1-2zM699 247l-3 1 1-2zM699 234l-3 1 0-2zM699 221l-3 1 0-2zM699 208l-3 1 0-2zM699 195l-3 1 0-2zM699 182l-3 1 0-2zM699 169l-3 1 0-2zM698 159l-3-2 2-1zM697 148l-3-5 4 0zM696 135l-1-5 3 0zM696 121l-1-4 3 0zM696 106l-1-2 2 0zM696 92l-1-1 2 0zM697 81l-2-3 2 0zM697 69l-2-3 3-1zM697 57l-2-4 3-1zM697 44l-2-4 3-1zM698 30l-3-3 3-1zM696 15l-1-1 2 0zM706 541l0-9 6 3zM706 528l0-8 6 2zM706 516l0-9 6 2zM706 503l0-9 6 2zM707 489l-1-8 6 1zM709 475l-2-8 5 1zM712 460l-5-5 4-2zM715 445l-7-1 3-5zM717 430l-8 1 1-5zM717 416l-8 3 1-6zM715 403l-6 2 0-5zM708 390l1-1 0 2zM699 377l8-3 0 6zM692 364l8-3 0 6zM691 351l8-3 0 6zM700 339l7-4 1 6zM709 326l-1-2 2 1zM712 314l-3-1 1-2zM713 301l-4-1 1-2zM713 288l-4-1 1-2zM713 274l-4 0 1-2zM712 261l-3 0 1-2zM712 247l-3 1 0-2zM712 234l-3 1 0-2zM712 221l-3 1 0-2zM712 208l-3 1 0-2zM712 169l-3 1 1-2zM710 159l-2-2 2-1zM709 149l-2-6 4 0zM709 136l-2-6 5 0zM709 123l-2-6 4 0zM709 109l-1-5 3 0zM709 96l-1-5 3 0zM709 83l-1-5 3 0zM709 71l-2-6 4 0zM709 58l-2-6 5 0zM710 45l-3-5 4-1zM709 31l-1-5 3 0zM709 16l-1-2 2 0zM720 541l-1-9 6 2zM720 528l-1-8 6 2zM720 516l-1-9 6 2zM720 503l-1-9 6 2zM720 489l-1-8 6 1zM722 475l-3-8 6 1zM724 461l-4-6 5-1zM727 445l-6-2 3-3zM729 430l-7 1 1-5zM730 416l-8 3 1-6zM727 403l-5 1 0-3zM719 389l3-1 0 3zM709 376l8-2 0 6zM702 363l8-3 0 6zM704 351l8-3 0 6zM714 338l8-3 0 6zM723 325l-1 1 1-2zM727 312l-5 1 1-3zM727 299l-5 2 1-4zM727 286l-5 2 0-4zM727 273l-5 2 0-4zM726 260l-4 1 0-2zM725 247l-3 1 0-2zM725 234l-3 1 0-2zM725 221l-3 1 0-2zM725 208l-3 1 0-2zM725 195l-3 1 0-2zM725 182l-3 1 0-2zM725 169l-3 1 0-2zM724 159l-3-2 2-1zM722 148l-2-5 4 0zM722 136l-2-6 5 0zM722 123l-2-6 5 0zM722 110l-2-6 4 0zM722 97l-2-6 4 0zM722 84l-2-6 4 0zM722 71l-2-6 5 0zM722 58l-2-6 5 0zM722 45l-2-6 4 0zM722 31l-1-5 3 0zM722 15l-1-1 2 0zM733 540l-1-8 6 1zM733 528l-1-8 6 1zM733 516l-1-9 6 2zM733 503l-1-9 6 2zM734 489l-2-8 6 1zM735 476l-3-9 6 1zM736 461l-3-6 5-1zM739 446l-5-3 3-3zM741 431l-7 0 2-5zM742 416l-7 2 1-5zM738 402l-3 2 0-2zM726 389l8-2 0 6zM715 376l8-3 0 6zM711 363l8-3 0 6zM715 350l8-3 0 6zM726 338l8-3 0 6zM740 312l-5 2 0-4zM740 299l-5 2 0-4zM740 286l-5 2 0-4zM740 273l-5 2 0-4zM739 260l-4 1 0-3zM738 247l-3 1 0-2zM738 234l-3 1 0-2zM738 221l-3 1 0-2zM738 208l-3 1 0-2zM738 195l-3 1 0-2zM738 182l-3 1 0-2zM738 169l-3 1 0-2zM737 157l-2 0 1-2zM736 148l-2-5 3 0zM735 136l-2-6 4 0zM735 123l-2-6 4 0zM735 110l-2-6 4 0zM735 97l-2-6 4 0zM735 84l-2-6 4 0zM735 71l-2-6 4 0zM735 58l-2-6 4 0zM735 44l-1-5 3 0zM747 540l-2-8 6 1zM747 528l-2-8 6 1zM747 516l-2-9 6 2zM747 503l-2-9 6 2zM747 490l-2-9 6 1zM748 476l-3-8 6 0zM749 461l-3-6 5-1zM752 446l-5-3 3-3zM754 430l-6 1 1-5zM755 416l-7 2 0-5zM734 389l8-3-1 6zM723 375l8-2 0 6zM721 363l8-3 0 6zM724 350l8-3 0 6zM734 337l8-2 0 6zM746 325l2-1 0 2zM752 312l-4 1 0-3zM753 299l-5 2 0-4zM753 286l-5 2 0-4zM753 273l-5 2 0-4zM752 260l-4 1 0-2zM751 247l-3 1 0-2zM751 234l-3 1 0-2zM751 221l-3 1 0-2zM751 208l-3 1 0-2zM751 195l-3 1 0-2zM751 182l-3 1 0-2zM751 169l-3 1 0-2zM750 156l-2 1 0-2zM749 146l-2-3 2 0zM748 135l-1-5 3 0zM748 83l-1-5 3 0zM760 539l-1-7 5 1zM760 528l-2-8 6 1zM760 516l-2-9 6 1zM760 503l-2-9 6 1zM760 490l-2-9 6 1zM761 476l-3-8 6 0zM762 461l-3-6 5-1zM765 445l-5-2 3-3zM768 430l-7 1 1-5zM768 416l-7 2 0-5zM745 388l8-2 0 6zM735 375l8-2 0 6zM733 362l8-2 0 6zM735 350l8-3 0 6zM742 337l8-3-1 6zM753 325l8-3 0 6zM763 312l-2 1 0-2zM766 299l-5 2 0-4zM766 286l-5 2 0-4zM766 273l-5 2 0-4zM765 260l-4 1 0-2zM764 247l-3 1 0-2zM764 234l-3 1 0-2zM764 221l-3 1 0-2zM764 208l-3 1 0-2zM764 195l-3 1 0-2zM764 182l-3 1 0-2zM764 169l-3 1 0-2zM763 156l-2 1 0-2zM761 132l-1-2 2 0z" fill="#fff"/><polygon points="181,5 181,15.4 183.9,25.5 187.8,35.2 190.7,58.4 196.5,79.7 199.4,103 208.1,122.3 212,134 224.6,153.3 231.3,168.8 235.2,184.3 241,203.7 250.7,221.1 258.5,232.7 264.3,248.2 270.1,261.8 276.9,277.3 279.8,290.8 289.5,304.4 299.1,316 305,321.8 314.6,319.9 320,315 322.7,310.5 325.4,302.4 333.6,296.1 347.1,293.3 357.1,294.2 356.2,292.4 349.8,292 344.4,288.8 344.4,283.4 351.6,272.5 352.5,268 358,264.4 367.5,262.6 367.9,240 370.8,219.2 374.7,195.9 375.6,174.6 374.7,145.6 377.6,130.1 385.3,122.3 399.9,112.7 417.3,106.8 420,108.3 431.3,100.4 432.4,91.3 447.1,82.3 465.2,68.7 481,55.2 494.6,39.4 505.9,28.1 517.2,21.3 537.5,15.6 540,5" fill="#bebebe" stroke="#000" stroke-width="1.8" stroke-linejoin="round"/><polygon points="368.8,280.7 374.2,278 380.6,279.8 382.4,285.2 388.7,288.8 395,296.1 401.4,305.1 407.7,314.1 414,326.8 419.5,339.5 420.4,351.2 417.6,363 410.4,369.3 396.9,375.6 385.1,377.4 377.9,373.8 371.5,364.8 367.9,348.5 365.2,330.4 366.1,316.9 369.3,303.3 371.5,296.1 374.2,287.9 372.4,284.3" fill="#bebebe" stroke="#000" stroke-width="1.8" stroke-linejoin="round"/><polygon points="728,5 728,15 728.2,20.7 734.6,27.8 737.4,34.9 738.1,44.1 742.4,46.9 746.6,59.7 750.2,72.5 750.2,81 746.6,91.7 743.1,102.3 741,116.5 745.2,121.5 750,124 753,112 754.5,105.9 756.6,116.5 760.9,113 761.6,123.6 775,123.6 775,5" fill="#bebebe" stroke="#000" stroke-width="1.8" stroke-linejoin="round"/><polygon points="709,182 713,183 712,195 709,207 708.5,215 705,228 701.5,239 698,238 699,226 702.5,212 703,200 706,190" fill="#bebebe" stroke="#000" stroke-width="1.8" stroke-linejoin="round"/><polygon points="722.5,28 727,24.5 733,27 735.5,33 736,41 731,41.5 726,35 722,31" fill="#bebebe" stroke="#000" stroke-width="1.8" stroke-linejoin="round"/><polygon points="722,44 727.5,43 729,47 726,50 723,48" fill="#bebebe" stroke="#000" stroke-width="1.8" stroke-linejoin="round"/><polygon points="706,12 720,12 719,18 712,20 707,17.5" fill="#bebebe" stroke="#000" stroke-width="1.8" stroke-linejoin="round"/><ellipse cx="695.3" cy="255.3" rx="3.5" ry="5.5" fill="#bebebe" stroke="#000" stroke-width="1.8" stroke-linejoin="round"/><ellipse cx="703.5" cy="294" rx="2" ry="2" fill="#bebebe" stroke="#000" stroke-width="1.8" stroke-linejoin="round"/><ellipse cx="712.2" cy="318" rx="2.5" ry="2.5" fill="#bebebe" stroke="#000" stroke-width="1.8" stroke-linejoin="round"/><ellipse cx="720.9" cy="323" rx="3" ry="3.5" fill="#bebebe" stroke="#000" stroke-width="1.8" stroke-linejoin="round"/><ellipse cx="730.5" cy="351" rx="3" ry="6.5" fill="#bebebe" stroke="#000" stroke-width="1.8" stroke-linejoin="round"/><ellipse cx="177" cy="236" rx="1.5" ry="1.5" fill="#bebebe" stroke="#000" stroke-width="1.8" stroke-linejoin="round"/><ellipse cx="189.5" cy="313" rx="1.5" ry="1.5" fill="#bebebe" stroke="#000" stroke-width="1.8" stroke-linejoin="round"/><ellipse cx="511" cy="21" rx="4.5" ry="3.2" fill="#bebebe" stroke="#000" stroke-width="1.8" stroke-linejoin="round"/>
</g>
<text x="208" y="52.9" font-size="32" font-weight="bold">Oct.</text><rect x="309" y="26.8" width="50.2" height="20.3" fill="#00008b"/><rect x="309" y="59.3" width="50.2" height="20.3" fill="#8b0000"/><text x="381" y="45.3" font-size="22" font-weight="bold">BBW</text><text x="381" y="77.4" font-size="22" font-weight="bold">ASW</text><text x="260.3" y="123.2" font-size="31" font-weight="bold" fill="#fff">0.2 m/s</text><path d="M294.3 134H314" stroke="#fff" stroke-width="1.6"/><path d="M319.5 134L312.5 131.2V136.8Z" fill="#fff"/>
<rect x="112.3" y="13.5" width="649" height="518.8" fill="none" stroke="#000" stroke-width="2.6"/>
<text x="112.3" y="572.6" font-size="26.5" text-anchor="middle">70°E</text>
<text x="242.1" y="572.6" font-size="26.5" text-anchor="middle">75°E</text>
<text x="371.9" y="572.6" font-size="26.5" text-anchor="middle">80°E</text>
<text x="501.7" y="572.6" font-size="26.5" text-anchor="middle">85°E</text>
<text x="631.5" y="572.6" font-size="26.5" text-anchor="middle">90°E</text>
<text x="761.3" y="572.6" font-size="26.5" text-anchor="middle">95°E</text>
<text x="91" y="542" font-size="26.5" text-anchor="end">0°</text>
<text x="91" y="412.3" font-size="26.5" text-anchor="end">5°N</text>
<text x="91" y="282.6" font-size="26.5" text-anchor="end">10°N</text>
<text x="91" y="152.9" font-size="26.5" text-anchor="end">15°N</text>
<text x="91" y="23.2" font-size="26.5" text-anchor="end">20°N</text>
<path d="M112.3 532.3V545.3M242.1 532.3V545.3M371.9 532.3V545.3M501.7 532.3V545.3M631.5 532.3V545.3M761.3 532.3V545.3M112.3 532.3H98.8M112.3 402.6H98.8M112.3 272.9H98.8M112.3 143.2H98.8M112.3 13.5H98.8" stroke="#000" stroke-width="2.6" fill="none"/>
<text x="436.8" y="602.6" font-size="27.2" text-anchor="middle">Longitude</text>
<text transform="translate(23.2,272.9) rotate(-90)" font-size="27.2" text-anchor="middle">Latitude</text>
<polyline points="961,13.2 955.5,18.4 950.1,23.6 944.6,28.8 939.2,34 939.2,34" fill="none" stroke="#000" stroke-width="1.1"/><polyline points="911.6,60.7 906.3,65.9 901,71.1 898.4,73.7" fill="none" stroke="#000" stroke-width="1.1"/><text transform="translate(925.8,47.8) rotate(-44.1)" font-size="25" text-anchor="middle" dy="8.5">14</text><polyline points="1148,13.2 1142.6,18.4 1137.1,23.6 1131.7,28.8 1126.4,34 1121,39.2 1115.6,44.3 1110.3,49.5 1105,54.7 1099.7,59.9 1096.8,62.8" fill="none" stroke="#000" stroke-width="1.1"/><polyline points="1069.5,89.8 1064.4,95 1059.2,100.1 1054.1,105.3 1048.9,110.5 1043.8,115.7 1038.7,120.9 1033.6,126.1 1028.6,131.3 1023.5,136.5 1018.5,141.7 1013.5,146.9 1008.5,152.1 1003.5,157.3 998.5,162.4 993.6,167.6 988.7,172.8 983.8,178 978.9,183.2 974,188.4 969.2,193.6 964.3,198.8 959.5,204 954.7,209.2 949.9,214.4 945.1,219.5 940.4,224.7 935.6,229.9 930.9,235.1 926.2,240.3 921.5,245.5 916.9,250.7 912.2,255.9 907.6,261.1 903,266.3 898.4,271.5 898.4,271.5" fill="none" stroke="#000" stroke-width="1.1"/><text transform="translate(1083.5,76.4) rotate(-44.8)" font-size="25" text-anchor="middle" dy="8.5">16</text><polyline points="1334.4,13.2 1329,18.4 1323.6,23.6 1318.2,28.8 1312.9,34 1307.5,39.2 1302.2,44.3 1296.9,49.5 1291.6,54.7 1287.1,59.1" fill="none" stroke="#000" stroke-width="1.1"/><polyline points="1260,86.1 1254.8,91.3 1249.7,96.5 1244.5,101.7 1239.4,106.9 1234.3,112.1 1229.2,117.3 1224.2,122.5 1219.1,127.7 1214.1,132.9 1209.1,138 1204.1,143.2 1199.1,148.4 1194.1,153.6 1189.2,158.8 1184.3,164 1179.3,169.2 1174.4,174.4 1169.6,179.6 1164.7,184.8 1159.9,190 1155,195.1 1150.2,200.3 1145.4,205.5 1140.7,210.7 1135.9,215.9 1131.2,221.1 1126.5,226.3 1121.7,231.5 1117.1,236.7 1112.4,241.9 1107.7,247.1 1103.1,252.2 1098.5,257.4 1093.9,262.6 1089.3,267.8 1084.7,273 1080.2,278.2 1075.7,283.4 1071.1,288.6 1066.6,293.8 1062.2,299 1057.7,304.2 1053.3,309.3 1048.8,314.5 1044.4,319.7 1040,324.9 1035.7,330.1 1031.3,335.3 1027,340.5 1022.6,345.7 1018.3,350.9 1014,356.1 1009.8,361.3 1005.5,366.4 1001.3,371.6 997.1,376.8 992.9,382 988.7,387.2 984.5,392.4 980.4,397.6 976.3,402.8 972.1,408 968,413.2 964,418.4 959.9,423.5 955.9,428.7 951.8,433.9 947.8,439.1 943.8,444.3 939.9,449.5 935.9,454.7 932,459.9 928.1,465.1 924.2,470.3 920.3,475.5 916.4,480.6 912.6,485.8 908.7,491 904.9,496.2 901.1,501.4 898.5,505" fill="none" stroke="#000" stroke-width="1.1"/><text transform="translate(1272.7,72) rotate(-44.8)" font-size="25" text-anchor="middle" dy="8.5">18</text><polyline points="1520.3,13.2 1514.9,18.4 1509.5,23.6 1505.8,27.2" fill="none" stroke="#000" stroke-width="1.1"/><polyline points="1478.5,53.9 1473.2,59.1 1468,64.3 1462.8,69.5 1457.6,74.7 1452.4,79.9 1447.2,85.1 1442.1,90.3 1437,95.5 1431.8,100.7 1426.7,105.9 1421.7,111.1 1416.6,116.2 1411.6,121.4 1406.5,126.6 1401.5,131.8 1396.5,137 1391.6,142.2 1386.6,147.4 1381.7,152.6 1376.7,157.8 1371.8,163 1366.9,168.2 1362.1,173.3 1357.2,178.5 1352.4,183.7 1347.6,188.9 1342.7,194.1 1338,199.3 1333.2,204.5 1328.4,209.7 1323.7,214.9 1319,220.1 1314.3,225.3 1309.6,230.4 1304.9,235.6 1300.3,240.8 1295.7,246 1291,251.2 1286.4,256.4 1281.9,261.6 1277.3,266.8 1272.8,272 1268.2,277.2 1263.7,282.4 1259.2,287.5 1254.8,292.7 1250.3,297.9 1245.9,303.1 1241.4,308.3 1237,313.5 1232.6,318.7 1228.3,323.9 1223.9,329.1 1219.6,334.3 1215.3,339.5 1211,344.6 1206.7,349.8 1202.4,355 1198.2,360.2 1193.9,365.4 1189.7,370.6 1185.5,375.8 1181.3,381 1177.2,386.2 1173,391.4 1168.9,396.6 1164.8,401.7 1160.7,406.9 1156.6,412.1 1152.6,417.3 1148.5,422.5 1144.5,427.7 1140.5,432.9 1136.5,438.1 1132.5,443.3 1128.6,448.5 1124.6,453.7 1120.7,458.8 1116.8,464 1112.9,469.2 1109.1,474.4 1105.2,479.6 1101.4,484.8 1097.6,490 1093.8,495.2 1090,500.4 1086.3,505.6 1082.5,510.8 1078.8,515.9 1075.1,521.1 1071.4,526.3 1067.7,531.5 1067.2,532.3" fill="none" stroke="#000" stroke-width="1.1"/><text transform="translate(1491,39.5) rotate(-44.4)" font-size="25" text-anchor="middle" dy="8.5">20</text><polyline points="1611.2,107.2 1606.2,112.3 1601.1,117.5 1596.1,122.7 1591.1,127.9 1586.1,133.1 1583.7,135.7" fill="none" stroke="#000" stroke-width="1.1"/><polyline points="1557.6,163.2 1552.7,168.4 1547.9,173.6 1543,178.8 1538.2,184 1533.4,189.2 1528.7,194.4 1523.9,199.6 1519.2,204.7 1514.4,209.9 1509.7,215.1 1505,220.3 1500.4,225.5 1495.7,230.7 1491.1,235.9 1486.4,241.1 1481.8,246.3 1477.2,251.5 1472.7,256.7 1468.1,261.8 1463.6,267 1459.1,272.2 1454.6,277.4 1450.1,282.6 1445.6,287.8 1441.1,293 1436.7,298.2 1432.3,303.4 1427.9,308.6 1423.5,313.8 1419.2,318.9 1414.8,324.1 1410.5,329.3 1406.2,334.5 1401.9,339.7 1397.6,344.9 1393.3,350.1 1389.1,355.3 1384.9,360.5 1380.7,365.7 1376.5,370.9 1372.3,376.1 1368.1,381.2 1364,386.4 1359.9,391.6 1355.8,396.8 1351.7,402 1347.6,407.2 1343.6,412.4 1339.5,417.6 1335.5,422.8 1331.5,428 1327.5,433.2 1323.6,438.3 1319.6,443.5 1315.7,448.7 1311.8,453.9 1307.9,459.1 1304,464.3 1300.2,469.5 1296.3,474.7 1292.5,479.9 1288.7,485.1 1284.9,490.3 1281.1,495.4 1277.4,500.6 1273.6,505.8 1269.9,511 1266.2,516.2 1262.5,521.4 1258.9,526.6 1255.2,531.8 1254.8,532.3" fill="none" stroke="#000" stroke-width="1.1"/><text transform="translate(1568.6,147.4) rotate(-46.5)" font-size="25" text-anchor="middle" dy="8.5">22</text><polyline points="1611.2,311.9 1606.8,317.1 1602.5,322.3 1598.2,327.5 1593.9,332.7 1589.6,337.9 1585.3,343.1 1581.1,348.3 1576.9,353.5 1572.7,358.7 1568.5,363.9 1566,367" fill="none" stroke="#000" stroke-width="1.1"/><polyline points="1542.3,396.8 1538.2,402 1534.2,407.2 1530.1,412.4 1526.1,417.6 1522.1,422.8 1518.1,428 1514.2,433.2 1510.2,438.3 1506.3,443.5 1502.4,448.7 1498.5,453.9 1494.7,459.1 1490.8,464.3 1487,469.5 1483.1,474.7 1479.3,479.9 1475.6,485.1 1471.8,490.3 1468,495.4 1464.3,500.6 1460.6,505.8 1456.9,511 1453.2,516.2 1449.6,521.4 1445.9,526.6 1442.3,531.8 1441.9,532.3" fill="none" stroke="#000" stroke-width="1.1"/><text transform="translate(1552.2,380.3) rotate(-51.5)" font-size="25" text-anchor="middle" dy="8.5">24</text><path d="M1288.2 139.9h0M1304.9 139.9h0M1373.8 141.4h0M1357.1 160.3h0M1410.4 157.6h0M1312.7 153.2h0M1314.3 146.3h0M1363.6 166.4h0M1333.4 145.5h0M1400.9 172.7h0M1382.7 144.9h0M1371 146.4h0M1330.6 157.2h0M1371.8 183.9h0M1326.9 143.8h0M1368.7 166.3h0M1375.4 138.8h0M1365.8 175.4h0M1299.2 157.4h0M1406.4 172.6h0M1417.2 145.1h0M1360.6 140.3h0M1302.3 144.9h0M1399.1 162h0M1323.2 155.7h0M1367.3 171.8h0M1291.6 139.9h0M1377.8 192.3h0M1387.7 148.6h0M1336 150.3h0M1309.8 135.8h0M1313.8 144.8h0M1394.7 151.2h0M1310.8 160.7h0M1378.1 165h0M1399.8 157.5h0M1355.6 176.7h0M1347.4 176.7h0M1348.1 141.2h0M1377.5 168.3h0M1302.2 158.9h0M1305.1 156.2h0M1327.1 159h0M1380.2 166h0M1404.5 148.8h0M1334.5 157.5h0M1394.3 156.4h0M1312.7 146.1h0M1295.3 148.2h0M1368.9 162.2h0M1323.1 144.1h0M1325.7 161.9h0M1362.9 157.6h0M1388.9 147.3h0M1366.3 184.6h0M1357.8 152.5h0M1311.3 155.8h0M1375.3 164.7h0M1399.6 151.8h0M1359.6 146.6h0M1376.7 152.8h0M1294.7 148.2h0M1305.1 136h0M1340.4 165.8h0M1344.6 141.7h0M1344.5 162.3h0M1349.5 174.8h0M1382.4 153.7h0M1308.8 138.5h0M1399.7 136.5h0M1329 156.7h0M1376.7 184.1h0M1346 157.5h0M1394.1 177.8h0M1406.5 178h0M1406.4 159.1h0M1359.8 180.8h0M1346.3 141.4h0M1363.7 186.1h0M1401.2 140.7h0M1336.8 147h0M1342 152.1h0M1322.5 159.9h0M1374.8 153.9h0M1311.1 146.8h0M1358 162.6h0M1365.7 152.2h0M1398.1 166.5h0M1388.5 140.4h0M1379.7 170.2h0M1359.2 169.1h0M1387.6 149.1h0M1358.4 180.9h0M1364.9 166.1h0M1320.7 137.6h0M1367.4 142.1h0M1414.3 161.9h0M1356.9 182.8h0M1401.1 141.7h0M1346.3 144.1h0M1347.2 141.2h0M1402.1 154.7h0M1395 153.5h0M1352.4 173.4h0M1311.3 141.4h0M1399.5 142.9h0M1379.8 178h0M1364.5 154.1h0M1370.4 150.7h0M1308.8 139h0M1332.4 144h0M1354.3 142.9h0M1291.4 137.6h0M1400.1 176h0M1405.1 152.9h0M1366.4 189.2h0M1333.9 158.2h0M1381.1 186.7h0M1308.4 149.1h0M1408.2 167.6h0M1372.2 139.5h0M1407 173.2h0M1351.2 154h0M1307.7 161.5h0M1334.8 147.2h0M1371.7 173.3h0M1348 176.6h0M1336 159.4h0M1411.8 161.8h0M1364 174.5h0M1388.9 161.3h0M1358.9 179.7h0M1290.2 147.7h0M1377.1 192.5h0M1410.8 150.2h0M1414.6 150h0M1346.2 142.7h0M1366 156.9h0M1376.8 191.3h0M1365.8 149.8h0M1378.1 171.1h0M1339.1 161.4h0M1359.9 160.2h0M1412.2 161.5h0M1375.8 180.1h0M1409.4 143.4h0M1366.4 155.7h0M1402.7 140.3h0M1320 137.3h0M1374.9 162.7h0M1326.7 159.8h0M1386.6 156.3h0M1401 135.8h0M1361.1 142.4h0M1298.1 137.6h0M1304.3 156h0M1395.9 150.7h0M1293.1 143.1h0M1316.1 161.7h0M1377 146.9h0M1394 175.4h0M1366.3 148.2h0M1315.8 136.5h0M1407.6 167.8h0M1366 186.1h0M1377.6 156.9h0M1320 154h0M1391.2 173.3h0M1366.1 157.1h0M1332.9 156.5h0M1319.4 163.4h0M1384.7 145.3h0M1333.5 168.7h0M1374.7 157.2h0M1380.3 145.9h0M1328.4 138.7h0M1369.4 158.8h0M1320.1 141.7h0M1392.9 167.1h0M1381 185.6h0M1291.7 151.3h0M1343.9 169h0M1369.4 183h0M1360.8 145.9h0M1344.6 167.3h0M1381.7 157h0M1327.1 157.8h0M1379.5 161.9h0M1367.2 178.2h0M1396.6 139.5h0M1316.5 138.2h0M1312 138.5h0M1350.6 149.9h0M1358.6 147.6h0M1406.5 158.5h0M1416.3 164.2h0M1320 144.4h0M1397.4 157.5h0M1353.8 177h0M1371.2 155.2h0M1312.7 150.4h0M1371 180.1h0M1360.2 184.9h0M1359.1 174h0M1365.6 145.4h0M1377.8 164.1h0M1406.9 144.2h0M1383.1 163.7h0M1300.5 140.9h0M1290 144.6h0M1388.9 162.2h0M1326.2 162.5h0M1334.9 147.1h0M1386.2 173h0M1404.3 163.1h0M1304.4 165.5h0M1386.5 169.6h0M1403.6 165.4h0M1293.5 149.6h0M1295.3 144.4h0M1333.5 168h0M1392.6 136h0M1384.6 139.8h0M1401.8 136.3h0M1309.9 160.9h0M1321 151.1h0M1351.1 141.5h0M1387 169.4h0M1304.5 141.2h0M1368.4 170.5h0M1336.1 149.4h0M1370.3 188.7h0M1332.6 164.1h0M1417.6 151.5h0M1399.2 150.2h0M1414.4 157.9h0M1376.9 175.9h0M1374.4 181.9h0M1371.2 188h0M1413.5 172h0M1333.5 163.9h0M1310.6 146.6h0M1415.5 159.9h0M1391.6 135.8h0M1340.9 165.4h0M1368.2 184.7h0M1304.3 144.5h0M1326.8 164.5h0M1320.1 164.3h0M1395.4 166h0M1405.2 164.7h0M1399.8 170.1h0M1414.9 145.6h0M1395.4 169.1h0M1382.9 176.1h0M1317.8 156.5h0M1376.1 193.3h0M1357.4 154.4h0M1302.4 160h0M1365 174.9h0M1290.3 145.1h0M1370.4 180.8h0M1410.7 141.5h0M1382.5 160.4h0M1364.4 174.7h0M1340.2 170h0M1401.9 148.3h0M1340.5 166.5h0M1398.7 159.5h0M1342 155.9h0M1329.9 152.8h0M1361.7 158.4h0M1366.2 159.3h0M1380.6 177.4h0M1362.3 147.1h0M1314.3 156.7h0M1329.5 160.6h0M1367.7 191.7h0M1306.5 145.6h0M1306.5 148.7h0M1323.5 165.9h0M1403.4 154.6h0M1329.1 161.8h0M1411.5 163.9h0M1415.9 151.8h0M1359.3 171.4h0M1381.4 184h0M1302.3 145.6h0M1351.6 163.1h0M1416.7 162.5h0M1302.1 134.9h0M1378.9 181.8h0M1307.5 144.4h0M1330.8 153.2h0M1404.9 163.8h0M1343.5 152h0M1332.2 168.5h0M1378.5 163.2h0M1311.6 141.6h0M1398.3 172.9h0M1370.7 159.2h0M1320.1 136.9h0M1411.6 181.3h0M1385.8 137.8h0M1308.3 163.4h0M1340.8 147.2h0M1330.2 144.7h0M1326.4 160h0M1402.4 163.8h0M1312.9 164.1h0M1408.7 168.5h0M1301.5 141h0M1406.2 174.2h0M1327.3 146.5h0M1346.8 145.7h0M1379.3 169.3h0M1348.6 159.4h0M1406.1 160.1h0M1399.3 141.7h0M1406.1 174.7h0M1414.7 145.2h0M1416.6 141h0M1368.2 143.4h0M1398 162.2h0M1385.4 171.6h0M1386.3 146.4h0M1366.3 147.1h0M1373.9 139h0M1377.7 173.6h0M1375.3 168.4h0M1392.1 138h0M1364.2 153.7h0M1407.6 164.5h0M1381.5 159.4h0M1358.3 153.3h0M1396.8 144.9h0M1406.7 159.5h0M1387.6 174h0M1390.9 142.2h0M1401.3 150.5h0M1376.2 139.7h0M1365.5 143.5h0M1369.1 139.6h0M1386.1 158.2h0M1411.1 153.3h0M1404.4 137.4h0M1415.6 144.3h0M1396.7 167.2h0M1400.2 153.3h0M1349.7 150.6h0M1358.6 156.3h0M1360.5 161.3h0M1409.2 159.2h0M1399.1 139.3h0M1379.8 138.9h0M1416.5 147.3h0M1365.5 169h0M1380.1 144.4h0M1417.1 164.6h0M1380.4 170.7h0M1396.9 178.6h0M1370 157.8h0M1390.1 160h0M1350.8 148.6h0M1356.8 145h0M1347.7 154h0M1403.6 148.3h0M1352.8 162.4h0M1377.5 160.7h0M1350.4 160.5h0M1399.6 156.5h0M1375.5 142.7h0M1401.7 155.4h0M1402.7 164h0M1384.8 139.2h0M1416.9 149.8h0M1381.4 158.6h0M1410 158.7h0M1407.4 169.2h0M1411.1 152h0M1348.9 152h0M1387.4 172.4h0M1397.7 165.1h0M1387.4 166.7h0M1385.3 136.5h0M1383.2 148.6h0M1406 148.9h0M1392.7 164.9h0M1393.6 176.3h0M1394.7 139.5h0M1388.6 152h0M1373.1 167.2h0M1354.3 164.9h0M1413.5 139.3h0M1406.8 168.7h0M1372.1 171.4h0M1418.1 164.7h0M1353.8 141.8h0M1375.4 161.2h0M1417.5 144.4h0M1390.1 156.3h0M1397.5 148.2h0M1406.9 151.8h0M1351.5 161.6h0M1392.8 152.5h0M1372.6 140.6h0M1351.8 146.1h0M1399.5 141.4h0M1356.2 157.4h0M1357.1 146.9h0M1397.9 146.7h0M1384.3 139.7h0M1380.9 168.2h0M1375.5 144.6h0M1372.5 140.5h0M1373.8 159.4h0M1414.9 168.4h0M1414.5 171.4h0M1413.9 171.2h0M1366 142h0M1378.5 168.5h0M1361.7 152.5h0M1344.6 151.8h0M1346.8 148.3h0M1347.7 143.4h0M1355.8 146.6h0M1390 153h0M1407.8 175.5h0M1414.3 168.8h0M1374.3 151h0M1355.9 156.3h0M1397.4 166.4h0M1388.3 137.8h0M1352.2 159.9h0M1401.7 145.9h0M1406.3 139.7h0M1396.6 136.3h0M1377.1 172.7h0M1400.9 154.1h0M1382.4 155.4h0M1387 162.9h0M1378.1 161.3h0M1384.3 171.7h0M1402.1 136.8h0M1401.6 147.1h0M1373.5 145.9h0M1364.7 154.3h0M1376 140.7h0M1363.6 157h0M1370.7 160.4h0M1410.9 170.1h0M1384 173.2h0M1370.2 144h0M1388.3 147.1h0M1380.3 143.9h0M1398.1 149h0M1395.2 176.8h0M1409.1 178.2h0M1352 147.4h0M1394.5 161.7h0M1356 154.9h0M1394.3 137.3h0M1409.8 168.5h0M1410.1 179.9h0M1380.7 149.8h0M1370.2 158.5h0M1387.7 148.5h0M1363.2 159.6h0M1398.1 136.4h0M1410.7 166h0M1379.7 161.6h0M1404.5 155.7h0M1366 140h0M1360.6 165.6h0M1406.8 177.8h0M1403.2 159.9h0M1414.9 157h0M1400.1 164.8h0M1400.5 178h0M1391.2 142.5h0M1374.8 161h0M1358.3 168.6h0M1366.2 139.9h0M1368.6 170h0M1390.1 150.8h0M1373.3 167.8h0M1406.7 140.8h0M1356.1 155h0M1357.7 144.2h0M1364.2 142.4h0M1343.7 155.6h0M1374.7 164.5h0M1377.7 148.8h0M1388.7 156.4h0M1403.7 171.4h0M1398.7 167h0M1415.9 160.5h0M1371.1 164.3h0M1381.3 152.4h0M1393.2 168.8h0M1388.2 150.4h0M1386.9 139.4h0M1395.6 146.1h0M1374.2 138.5h0M1381.5 173.8h0M1386.8 149.2h0M1380.7 152.8h0M1414.1 172.8h0M1356.9 164.2h0M1403.3 145.3h0M1351.8 162.3h0M1390.3 155.5h0M1382.7 163.6h0M1394.8 140.4h0M1367.1 142.7h0M1389 174.5h0M1372.1 145.8h0M1407.5 169.8h0M1409.8 150.1h0M1356.4 166.1h0M1401 162.1h0M1411.8 159h0M1353.4 152.6h0M1365.2 159.4h0M1389.3 172.9h0M1387.3 139.1h0M1354.7 141.6h0M1396.2 152.6h0M1404.6 177.2h0M1406.8 166.5h0M1379 172.9h0M1409.1 139.4h0M1344.8 155.1h0M1387.8 150.8h0M1394.3 171h0M1405.2 178.9h0M1400.9 141.2h0M1361.4 167.6h0M1373.8 140.9h0M1351.5 142.8h0M1361.2 160.7h0M1347.1 151.2h0M1362.8 147.5h0M1398.8 157.4h0M1401.7 179.1h0M1414.1 146.8h0M1393.5 142.2h0M1381.8 143.4h0M1363.7 169.1h0M1388.1 140.9h0M1407.3 136.6h0M1372.2 164.2h0M1359.4 143.1h0M1413 164.4h0M1389.5 141.2h0M1390.5 147.8h0M1402.2 165.7h0M1403.9 145.4h0M1396.9 153.8h0M1393.9 144.4h0M1367.1 147.3h0M1368.1 156.9h0M1397.7 156.1h0M1390.7 151.7h0M1403.3 159.2h0M1392.8 167h0M1385.1 151.3h0M1370.2 146.7h0M1368.1 139.5h0M1402.5 149.7h0M1403.9 163.1h0M1371.6 161.7h0M1387.6 141.7h0M1400.4 174.6h0M1358.9 147h0M1407.3 145.7h0M1397 151.8h0M1403.3 149.6h0M1388.7 164.3h0M1387.3 175.7h0M1388.1 146.7h0M1369.1 148.4h0M1380.8 155.6h0M1379.4 150.6h0M1403.1 156.8h0M1377.1 156.5h0M1379.6 152.2h0M1380 146h0M1371.2 140.9h0M1347.2 152.7h0M1389 135.9h0M1411.9 145.1h0M1365.1 147.6h0M1414.2 175.8h0M1415.6 170.4h0M1400.9 140.6h0M1375.1 143.1h0M1371.4 157.6h0M1393.1 167.4h0M1379.3 146.6h0M1386.1 166.8h0M1376.1 139.9h0M1370.3 160.2h0M1367.2 171.9h0M1396 156.1h0M1396.9 172.6h0M1399.4 173.5h0M1358 147.9h0M1409.4 158.4h0M1415.6 167.9h0M1018.2 111.4h0M1034.1 106.7h0M1074.4 130h0M1121.2 115.7h0M1125.9 117.6h0M1126.3 131.9h0M1148.3 128h0M1152.2 124.2h0M1156.9 140.1h0M1166.5 130h0M1172 116h0M1176.6 137.7h0M1132.5 145.9h0M1132.8 152.1h0M1141.8 146.3h0M1196.7 120.7h0M1211.9 124.6h0M1217.3 131.9h0M1223.9 126.9h0M1231.2 130h0M1208.4 150.1h0M1217.3 145.9h0M1240.5 147.4h0M1245.5 142.4h0M1254.8 135.8h0M1247.9 145.5h0M1253.7 155.2h0M1257.6 149.3h0M1263.4 150.5h0M1271.1 147.4h0M1278.9 155.2h0M1284.7 159h0M1282 130h0M1293.6 126.9h0M1288.5 136.6h0M1297.4 137h0M1331.9 185h0M1353.6 120.7h0M1358.6 116.4h0M1361.3 118.4h0M1374.5 127.3h0M1409.4 105.6h0M1405.9 126.1h0M1317.6 171.8h0M1371.8 195.8h0M1377.6 195.8h0" stroke="#00008b" stroke-width="4.3" stroke-linecap="round" fill="none"/><path d="M1513 164.1h0M1556.4 141.1h0M1527.3 163.2h0M1505.6 152h0M1578.7 164.4h0M1465.6 143.1h0M1499.9 126.4h0M1576 159.2h0M1532.5 130.6h0M1422.3 186.8h0M1462.6 136.9h0M1570.5 171.8h0M1434.2 143.9h0M1455.2 140.8h0M1466.1 148.7h0M1418.3 179.8h0M1544.2 159.4h0M1433.6 143.6h0M1422.6 140.9h0M1448.2 135.6h0M1527.7 152.8h0M1495.9 146.3h0M1497.3 147.7h0M1508 151.9h0M1536.2 133.6h0M1499.7 162.8h0M1494 150.5h0M1501.8 140h0M1566.9 185.6h0M1445.1 169.3h0M1522.1 141.6h0M1582.7 177.1h0M1575.5 179.6h0M1544.7 161.2h0M1460.1 161h0M1513.4 135.9h0M1425.1 183.3h0M1548.5 160.3h0M1550 174.5h0M1583.1 172.1h0M1413.6 179.1h0M1521.5 144.3h0M1435.1 144.6h0M1472.2 155.3h0M1491.7 136.2h0M1485.5 131.5h0M1553.5 158.5h0M1426.3 145h0M1476.1 139.4h0M1480 141.4h0M1540.2 137.6h0M1433.1 186.2h0M1419.8 138.5h0M1552.5 156.6h0M1551.6 148.1h0M1522.3 135.3h0M1447.6 180.5h0M1572.4 163.8h0M1453.8 166.5h0M1580 175.1h0M1490.7 149h0M1429.8 173h0M1440.4 137.2h0M1480.1 154h0M1443.4 150.6h0M1436.3 157h0M1571.8 182.7h0M1512.8 129h0M1570.9 157.6h0M1479.9 161.2h0M1499.5 156h0M1467.2 158.2h0M1508.3 141.4h0M1454.1 139.5h0M1576.2 180h0M1455.8 162.2h0M1566 183.8h0M1474.3 130.8h0M1417.9 143.6h0M1508.9 141.3h0M1557.6 165.3h0M1474.3 141.8h0M1432.7 174.3h0M1486.1 143.6h0M1571.6 151.2h0M1502.5 146.2h0M1457.3 138.8h0M1530.6 139.9h0M1488.5 144.7h0M1538.5 131.6h0M1443.7 175.7h0M1478.1 142.6h0M1464.7 144.2h0M1516.2 143.3h0M1516.8 127.1h0M1506.8 161h0M1576 165.8h0M1485 133.8h0M1522.7 141.8h0M1441.5 157.7h0M1447.7 164.6h0M1523.9 135.5h0M1545.4 145.6h0M1529.6 128.4h0M1573.4 172.8h0M1509.3 149h0M1523.5 165.2h0M1542.9 147.7h0M1553.9 146.8h0M1558.5 180.2h0M1570.5 182.2h0M1534.5 155.4h0M1463.3 164.6h0M1449.6 172.3h0M1456.1 174.5h0M1420.7 136.6h0M1475.8 147.6h0M1504.3 123.1h0M1447.8 145.8h0M1528.1 135.8h0M1527.2 149.7h0M1550.5 169.5h0M1556.4 159.4h0M1520.8 129.3h0M1488 148.5h0M1457.6 146.8h0M1432.5 144.8h0M1573.3 158.6h0M1417.2 157.6h0M1443.2 154.5h0M1579 186.7h0M1499.3 128.2h0M1549.5 170.1h0M1575.4 179.7h0M1566.3 145.2h0M1433.6 143.1h0M1477.8 136.4h0M1445.1 165.5h0M1451.9 167.6h0M1427.1 137.4h0M1441.4 164.8h0M1566.6 161h0M1563.4 176.4h0M1555 149.2h0M1445.2 150.8h0M1574.1 180.9h0M1567.3 177.4h0M1424.6 136.4h0M1548.9 151.7h0M1568 168.6h0M1435.8 151h0M1548.8 171.7h0M1586.9 180.4h0M1497 124.9h0M1550.7 161.1h0M1540.8 134.3h0M1470.6 152.6h0M1521.4 132h0M1564.8 157.4h0M1570.7 182.2h0M1423.8 173.3h0M1490.4 150h0M1541.8 147h0M1499.9 148.9h0M1531.4 127.6h0M1494 160.8h0M1536.3 148h0M1511.5 146.6h0M1472.3 140.1h0M1560.1 147.5h0M1563.8 183.9h0M1534.9 144.9h0M1469.4 143.2h0M1442.3 174.7h0M1587.3 182.6h0M1435.7 171.1h0M1548.8 147.8h0M1418.1 172.5h0M1545.7 170.9h0M1420.1 184.3h0M1488.5 144.9h0M1483.8 141.5h0M1461.4 146.7h0M1481.3 149.9h0M1455.5 161.7h0M1451.6 140.1h0M1461 134.8h0M1549 161h0M1447.8 164.2h0M1454.5 176.8h0M1552.7 168.8h0M1467.2 142.6h0M1515.2 157.2h0M1545 152.7h0M1580.7 164.5h0M1570 147.8h0M1419.9 178.9h0M1453.7 165.5h0M1494.5 152.3h0M1558.1 141.7h0M1427.9 185.9h0M1419.7 167h0M1557.7 172.9h0M1540.6 162.5h0M1572.9 175.5h0M1446.2 153.2h0M1489.2 132.7h0M1562.7 178.7h0M1581.7 168.8h0M1543.3 142.7h0M1548.5 143.4h0M1459.3 144.5h0M1438.9 141h0M1513.5 161.4h0M1442.8 181.7h0M1554.3 157.9h0M1422.5 180h0M1504.9 142.8h0M1458.3 158.2h0M1430.2 176.8h0M1580.4 174.6h0M1431.6 138.9h0M1522.7 146.5h0M1555 153.2h0M1516.4 152.6h0M1431.5 164.9h0M1483.5 134h0M1499.9 140.3h0M1513.6 163h0M1464.6 156.5h0M1532.6 153.2h0M1424.1 149.3h0M1552.2 175.8h0M1456.3 166.4h0M1558.4 175h0M1506.8 131.4h0M1535.8 139.7h0M1472.5 147.3h0M1508.6 152h0M1502.7 164.2h0M1444.7 175.1h0M1511.8 158.2h0M1559.9 165.9h0M1446.3 140.9h0M1558.1 152.6h0M1439.3 181.5h0M1473.3 145.4h0M1461.8 170h0M1563.9 160.4h0M1471.5 142.8h0M1471 153.6h0M1514.2 135.9h0M1422 187.5h0M1551.1 159.4h0M1503.6 164.4h0M1482.2 160.5h0M1501.7 145.6h0M1495.3 126.8h0M1520.2 138.4h0M1544.6 152.6h0M1514.7 156.3h0M1516 146.5h0M1458.2 172.9h0M1540.2 133h0M1437.5 145.9h0M1552.5 143.2h0M1452.3 151h0M1500.6 163.9h0M1468.7 149h0M1451.1 156.1h0M1450.6 137.6h0M1472.8 144.2h0M1473.1 148.6h0M1484.5 130.3h0M1523.1 168.1h0M1503.6 163.6h0M1577.9 176.4h0M1440.5 139.8h0M1417.4 158.3h0M1430.4 151.7h0M1566.4 173.9h0M1444.2 156.7h0M1532.4 131.2h0M1564.4 167.1h0M1477.1 144.8h0M1428.2 181.8h0M1446.2 161.2h0M1535.5 162.3h0M1552.9 140.9h0M1530.1 136.8h0M1537.3 172.1h0M1449.9 136.7h0M1447.1 150.9h0M1562.2 141.4h0M1528 131h0M1498.8 157.3h0M1417.6 183.7h0M1416.9 183.4h0M1535 165.8h0M1477.7 139h0M1429.3 154.1h0M1535.9 151.3h0M1552.7 163.5h0M1477.5 142h0M1492.5 144.5h0M1428.7 183.5h0M1435.4 179.9h0M1426.8 162.5h0M1565.4 154.4h0M1536.9 164.7h0M1548.9 165h0M1539.5 137.9h0M1425.3 161.3h0M1513.7 166.3h0M1517.7 150.3h0M1460.6 167.5h0M1552.7 142h0M1493.5 148h0M1541.5 140.5h0M1488.8 151h0M1524.6 155.3h0M1515.3 145.3h0M1435.4 148.3h0M1554.8 174.7h0M1418.4 164.5h0M1547.6 164.1h0M1441.8 149.1h0M1416.7 178.7h0M1501.1 157.3h0M1512.2 153.3h0M1437.9 145.5h0M1523 164h0M1557.9 168.8h0M1485.3 149.7h0M1463.5 150.7h0M1576.6 171.4h0M1445.9 168.1h0M1527.2 139.3h0M1473 131.5h0M1474.2 143.2h0M1456.5 151.8h0M1453.2 154.9h0M1550.1 179.6h0M1477.4 140h0M1482.3 136.4h0M1522.9 133.6h0M1537.5 170.8h0M1527.3 165.1h0M1415.6 171.9h0M1488.9 135.7h0M1437.3 147.7h0M1503.8 152.5h0M1566.1 150.7h0M1441.4 161.5h0M1570.5 159.6h0M1474.5 136.9h0M1437.8 150h0M1495.5 148.3h0M1500.3 142.5h0M1500.9 148.4h0M1448.2 147.2h0M1516.1 152.7h0M1565.4 170.2h0M1573.6 152.2h0M1451 170.8h0M1518.8 133.2h0M1546.1 174.1h0M1428.6 163.1h0M1471.4 147.7h0M1463.2 157.9h0M1428.2 185.5h0M1417.1 149.7h0M1478.3 130.5h0M1498.4 133.6h0M1507 164.1h0M1558.6 151h0M1475.6 130.8h0M1574.1 174.1h0M1479.8 154.3h0M1524.5 155.6h0M1522.1 159.1h0M1441.8 180.3h0M1484.2 136.3h0M1421.9 144.7h0M1500.6 139.2h0M1540.1 135.4h0M1551.4 180.3h0M1534.1 138.7h0M1560.1 168.4h0M1546.7 140.6h0M1506.7 123.6h0M1556.5 152.4h0M1424.7 147.8h0M1549.4 146.5h0M1454.4 144.3h0M1506.3 149.1h0M1419.1 146.4h0M1566.6 147.7h0M1433.9 173.4h0M1456.6 162.1h0M1562.4 152.6h0M1434.4 167.5h0M1581.8 184.3h0M1438.2 138.2h0M1546.8 134.5h0M1566 181.2h0M1565.9 148h0M1454.4 157.7h0M1478.3 137.7h0M1512.4 157.6h0M1529.7 169.5h0M1464.4 144.6h0M1496.4 153.5h0M1416.5 159h0M1584.2 184.4h0M1455.4 135.9h0M1497.8 159.2h0M1449.6 155.4h0M1505.5 133.1h0M1527.3 131.1h0M1493.5 135.5h0M1437.7 160.3h0M1554.9 157.1h0M1565.4 159.6h0M1461.2 148.2h0M1438 160.7h0M1413.7 174h0M1447.2 145.9h0M1556.1 152.7h0M1549.6 138.5h0M1551.2 177.1h0M1415.1 173.1h0M1474.6 130.8h0M1437.9 140.4h0M1555.6 179h0M1523.5 146.1h0M1460.8 136.6h0M1425.7 152.8h0M1522.3 165.5h0M1418.5 137h0M1483.1 151.9h0M1424.7 165.8h0M1523 145.5h0M1456.9 136h0M1422.3 147.2h0M1516.2 146.8h0M1511.7 164.9h0M1573.1 169.6h0M1548 178.8h0M1478.1 145h0M1524.5 152.1h0M1476.8 151.4h0M1480.1 144.4h0M1479.4 159.6h0M1437 147.3h0M1527.9 146.9h0M1551.9 141.7h0M1493.6 152.6h0M1470.8 155.5h0M1571.2 183.4h0M1432.9 175.2h0M1523.5 155.6h0M1448.6 140.5h0M1490.2 131.9h0M1566.4 181h0M1514.1 140h0M1540.3 161.6h0M1454.4 141.5h0M1506.5 162.7h0M1499.6 124.5h0M1570 157.7h0M1559.3 175.8h0M1581.5 166.1h0M1461 136h0M1513 154.1h0M1446.7 156.4h0M1539.3 137.2h0M1449.7 169.8h0M1571.9 154.5h0M1572.1 161.9h0M1497.3 140.5h0M1453.6 147.2h0M1574 166.3h0M1561.7 143.8h0M1529.8 133.3h0M1550 177.2h0M1440.7 177.2h0M1468.3 156.6h0M1452.3 139.6h0M1559.6 181.5h0M1491.9 130.4h0M1557.9 142.4h0M1547.1 164.2h0M1519.9 156.6h0M1506.9 151.9h0M1513.1 150.5h0M1454.2 164.5h0M1421.6 139.1h0M1556.6 157.5h0M1518.5 134.4h0M1424.9 176.8h0M1434.4 156.4h0M1516.3 149.9h0M1471.6 160.2h0M1513.7 129.5h0M1517.8 140.7h0M1505.5 151.1h0M1551.2 165.8h0M1464.6 149.3h0M1461 146.1h0M1483.1 129.3h0M1551.7 152.1h0M1431.8 167.1h0M1491 157.3h0M1452.9 157.2h0M1539.5 130.5h0M1561.5 144.8h0M1500.9 141.8h0M1550.7 162.7h0M1485 145.1h0M1549 143.6h0M1566 179.4h0M1522.6 140h0M1474.9 144.1h0M1469.5 140.7h0M1422 152.9h0M1546.8 174.6h0M1418.6 176.2h0M1573.9 172.1h0M1439.7 142.2h0M1456.6 136.8h0M1566.7 185.3h0M1563.9 170.7h0M1475 143.8h0M1465.4 156.2h0M1457.4 166.7h0M1552.4 137.9h0M1543.2 149.6h0M1454.2 144.2h0M1578 168.1h0M1476.9 141.1h0M1436.5 175.8h0M1438 182.2h0M1558.2 156.2h0M1415.7 175.2h0M1551.5 144.7h0M1561.6 148h0M1495.6 132.9h0M1514.4 140.6h0M1465.7 135.7h0M1504.9 146.2h0M1482.3 138.1h0M1537.9 146.9h0M1535.6 143.4h0M1438 139.6h0M1453.6 140.8h0M1428.6 141h0M1434 153.6h0M1479.7 136.9h0M1428.1 165.4h0M1469 142.2h0M1469.9 144.6h0M1511.1 138.8h0M1498.7 127.4h0M1538.2 139.1h0M1492.8 146.2h0M1440.2 146.5h0M1486.8 136.4h0M1436.5 137.4h0M1519.7 139.9h0M1559.9 143.3h0M1536.2 140.9h0M1464.4 133.8h0M1443.5 149.2h0M1432.8 150.1h0M1520.3 147h0M1535.4 141.8h0M1434.9 150h0M1446.6 136.8h0M1448.1 163.6h0M1521.2 136.6h0M1495.6 145h0M1547.3 148.9h0M1443.6 172.5h0M1506.2 139.1h0M1471.6 137.4h0M1426.6 174.5h0M1453.4 144.9h0M1444 169.7h0M1519.4 127.7h0M1459.4 143h0M1492 149.2h0M1437 166.6h0M1435.3 177.7h0M1510.2 141.2h0M1423 166.6h0M1422.7 165.4h0M1427.2 151.2h0M1507.7 146.6h0M1458.1 140.8h0M1544.9 142.4h0M1499.7 130.1h0M1429.4 141h0M1420.3 157h0M1471.8 146.3h0M1431.6 167.8h0M1561.1 147.1h0M1430.5 162.6h0M1519.6 144.2h0M1488.5 139.3h0M1498.4 136.6h0M1482.3 135.5h0M1452.2 165.9h0M1523 131h0M1418.5 144.7h0M1517.1 142.7h0M1482.6 143.9h0M1516.6 130h0M1450.6 168.7h0M1528.5 136.7h0M1432.4 162.3h0M1549.8 140.3h0M1440.6 156.6h0M1421.7 149.9h0M1459.9 143h0M1433.6 173h0M1439.4 177.1h0M1453.2 152.2h0M1463 142.8h0M1482.7 148h0M1466.3 134.2h0M1507 143.2h0M1429.1 140.9h0M1511.4 141.6h0M1545.5 150.3h0M1466.1 139.1h0M1477.6 147.3h0M1486.7 144.3h0M1448.6 139.3h0M1419.9 178.6h0M1483.8 139.7h0M1419 170.1h0M1503.2 137.3h0M1524.8 136.4h0M1446.9 158.6h0M1558.1 140.4h0M1427.8 172.5h0M1506.4 149.2h0M1482.4 130.3h0M1440.6 164.5h0M1473 133.5h0M1543.8 142.3h0M1496.4 136.6h0M1453 147.1h0M1491.9 134.9h0M1478.1 134.8h0M1527.7 129.9h0M1528.5 144.4h0M1537 136.4h0M1495.4 146.3h0M1423.4 171.5h0M1473.6 146.9h0M1429.5 177.2h0M1432.4 170.2h0M1443.5 164.2h0M1419.8 173.5h0M1490.5 142.2h0M1430.9 146.2h0M1508.8 149.8h0M1554.5 147.2h0M1495 137.7h0M1432.5 142.7h0M1544.7 143.4h0M1449.1 140.1h0M1549.5 147.1h0M1525.3 142.8h0M1518 150.1h0M1539.1 137h0M1457.3 138.5h0M1425.7 151.8h0M1489.6 135.4h0M1463.1 133.3h0M1525.9 142h0M1433.6 169.6h0M1479.1 134.5h0M1511 147h0M1461.4 136.2h0M1425.5 174.3h0M1521 144h0M1430.3 154h0M1445.6 136.6h0M1496.2 146.5h0M1464.2 142.1h0M1429.6 170.5h0M1544.8 134.7h0M1500.5 134.9h0M1513.9 144.5h0M1510.3 133.6h0M1500.5 148.5h0M1450 163.3h0M1528.9 141.9h0M1503.5 138.9h0M1445.6 174.5h0M1525.7 135.8h0M1509 126.1h0M1434.1 146.7h0M1478.1 138.5h0M1500.2 130.5h0M1500.6 144.7h0M1494.3 144.7h0M1440.7 159h0M1525.8 137.5h0M1524.3 141.5h0M1422.5 169.8h0M1421.9 178.2h0M1418.5 139.6h0M1453.5 150h0M1520.6 148.5h0M1448.8 166.3h0M1518.9 137.2h0M1522.5 143.6h0M1554.7 144.1h0M1562.1 151.5h0M1483.7 139.3h0M1445.9 173.6h0M1533.4 145.6h0M1445.4 152h0M1429.3 175.1h0M1499.1 135.1h0M1451.8 161.2h0M1495 131.5h0M1436 144.6h0M1497.1 138.8h0M1437.4 155.8h0M1453 156.4h0M1495.4 137.6h0M1512.1 128.4h0M1508.3 136.9h0M1475.7 142.5h0M1489.1 128.5h0M1550.3 143.3h0M1443.9 167.6h0M1536.5 140.2h0M1420.1 139.2h0M1555.5 149.7h0M1484.4 138.7h0M1420.8 140.8h0M1434 178.1h0M1462.1 139.9h0M1473.6 143.5h0M1435.9 154.6h0M1482 132h0M1546.4 134.6h0M1535.1 132.1h0M1487.5 129.6h0M1447.4 159h0M1539.8 152.4h0M1529.5 141.6h0M1425.9 151h0M1554.2 148.6h0M1477.9 147.4h0M1504.9 136.3h0M1502.5 145h0M1450.4 149h0M1426.1 174.8h0M1449.7 171.7h0M1436.2 164.8h0M1433.2 148.6h0M1540.3 132.7h0M1532.3 133.8h0M1555.4 143.7h0M1543.6 149.1h0M1433.9 164.9h0M1556.6 140.4h0M1542.9 142.3h0M1451.9 162.4h0M1486.4 137h0M1497.7 144.4h0M1524.3 144.4h0M1524.1 130.1h0M1458.2 145h0M1423.2 138.6h0M1450.3 144.9h0M1427.2 151.5h0M1465.4 146.5h0M1526.5 145.7h0M1541.5 146.2h0M1495.8 136.3h0M1492 147.5h0M1452.4 145.8h0M1529.9 146.8h0M1418.6 138.7h0M1489.9 140.1h0M1554 152.1h0M1530.5 146.9h0M1434 169.6h0M1482.3 134.7h0M1457.6 144.2h0M1427.4 177.7h0M1463.5 144.7h0M1480.9 148.4h0M1535.5 143.5h0M1530 139h0M1477.1 147.2h0M1544.6 148.5h0M1562.3 148.2h0M1527.9 144.9h0M1547.7 140.7h0M1545.1 141.8h0M1425.7 167.8h0M1517.2 147h0M1426.3 178h0M1476.4 142.7h0M1504.3 137.6h0M1514.2 137.2h0M1418.9 142.1h0M1552.9 137.8h0M1424 146.2h0M1422.6 154.4h0M1431.1 176.3h0M1547.9 143.3h0M1429 150.8h0M1528.5 150.2h0M1432.7 166.6h0M1553.5 143.2h0M1468.6 134.2h0M1438.8 178.2h0M1562.9 148.3h0M1446.4 148.9h0M1423.4 172.1h0M1431.3 142.1h0M1450.4 162.9h0M1520 127.4h0M1545.5 143h0M1520.1 133h0M1556.9 141.5h0M1558.4 145.5h0M1419.8 180.3h0M1549.3 152.3h0M1509.3 145.6h0M1516.6 141.2h0M1485.5 138.9h0M1523.9 136h0M1527.9 137.3h0M1433.4 142.2h0M1433.6 168.5h0M1531.2 144.2h0M1523.8 141.1h0M1502.2 131.1h0M1518.7 147.1h0M1428 176.6h0M1444.5 159.6h0M1550 147h0M1498.5 135.1h0M1426.6 172.7h0M1527.6 137h0M1484.2 131.1h0M1518.5 144.4h0M1553.8 151.4h0M1425.4 163.6h0M1481.5 145h0M1428.7 179.2h0M1456.8 135.3h0M1434.5 151.4h0M1468.3 132.6h0M1519.9 150.6h0M1480.7 134.9h0M1451.9 141.6h0M1444.4 141.4h0M1507.6 129.4h0M1527.7 139.9h0M1465.9 136.9h0M1446.5 174.7h0M1443.2 162.8h0M1428.1 145.1h0M1442.7 145.9h0M1432.1 161.3h0M1526.5 143.9h0M1490.7 146.5h0M1494.3 132h0M1538.8 146.1h0M1436.8 152.5h0M1485.9 132.9h0M1436.6 173.2h0M1543.5 139.4h0M1433.9 138.2h0M1523.4 131.3h0M1452.4 137.2h0M1440.8 153.3h0M1514.9 142.5h0M1511.2 147.8h0M1436.6 166h0M1433.8 175.7h0M1516.6 148.8h0M1433.9 174.2h0M1507 128.8h0M1551.6 145.7h0M1462.1 148.6h0M1548.9 146.9h0M1446.7 159.4h0M1533.7 136.7h0M1499.2 148h0M1519.9 144.1h0M1438.8 178h0M1526.4 149h0M1441 152.6h0M1432.2 156.7h0M1433.2 153.7h0M1508.7 144.7h0M1519 138.1h0M1435.8 138.7h0M1436.7 173.8h0M1498.3 141.5h0M1432.2 151.5h0M1430 150.6h0M1508 125.8h0M1518.7 141.8h0M1517.1 134.5h0M1452 151.3h0M1463 133.5h0M1496.3 129.9h0M1522.6 136.7h0M1451.3 155.1h0M1485.8 129.5h0M1461.6 142.2h0M1444.4 166.6h0M1559.8 153.1h0M1501.1 147.6h0M1519.7 138.1h0M1468.1 134.8h0M1440 143.7h0M1418.5 174.4h0M1501.3 129.5h0M1495.4 147.4h0M1434 165.8h0M1453.1 145.9h0M1534.2 139.9h0M1523.4 129.1h0M1540.4 146.8h0M1450.3 147.7h0M1543.8 153.1h0M1480.1 147.8h0M1509 143h0M1504.2 145h0M1459.6 140.3h0M1418.8 180.2h0M1450.3 154.7h0M1503.6 135.4h0M1495 138.2h0M1480.7 145h0M1488.9 127.9h0M1445.2 139.7h0M1541.7 143.7h0M1428.7 174.7h0M1452.4 149.4h0M1500.3 126.7h0M1509.5 134.2h0M1444.4 165h0M1435.9 179.5h0M1455.4 148.6h0M1444.2 146.4h0M1425.8 140h0M1441.7 153.8h0M1488.8 134.6h0M1436.1 138.2h0M1537.2 147.5h0M1528.6 140.1h0M1541.7 145.1h0M1548.6 145.7h0M1505.8 130.4h0M1468.3 137.6h0M1516.9 145.1h0M1452 147h0M1419.1 154.8h0M1435.4 144.2h0M1434 142.6h0M1421.9 164h0M1432.5 165.1h0M1451.8 147.9h0M1525.5 149.6h0M1503.6 145.4h0M1461.6 146.5h0M1527.8 136.5h0M1490.9 147.1h0M1445.2 177.4h0M1474.2 143.7h0M1530.8 129.9h0M1426.9 156.9h0M1457.7 145h0M1424.2 145h0M1429.8 144.1h0M1459.7 149.9h0M1465.2 145.6h0M1478.8 132.7h0M1519.6 137.9h0M1434 143h0M1421.8 148.4h0M1495.2 126.9h0M1425 147.7h0M1500.1 144.9h0M1499 142.1h0M1536.7 135.8h0M1518.8 134.5h0M1460.2 139.9h0M1486.1 134.2h0M1497 141.4h0M1508.4 140.6h0M1443.5 162.2h0M1430.7 137.3h0M1445.3 159.4h0M1439.9 163.6h0M1461.8 142.6h0M1491.3 143.6h0M1418.4 176.4h0M1510.7 142.5h0M1511.7 134.2h0M1455.7 143.4h0M1419.2 152h0M1536.6 149.4h0M1526.4 130.6h0M1494.6 148.9h0M1525.8 217.2h0M1553.5 225.1h0M1528.3 216.9h0M1554.5 229.6h0M1487.5 190.4h0M1549.3 205.6h0M1553.9 190.2h0M1549.9 191h0M1456.5 181.2h0M1494.6 175.8h0M1472.2 170h0M1567.2 170.6h0M1471.7 170.2h0M1576.1 202.9h0M1563.9 232.6h0M1518.3 192.4h0M1503.5 183.3h0M1519.5 217.6h0M1573.2 222.7h0M1542.8 203.1h0M1462.9 191.1h0M1568.2 195.7h0M1544.2 182.9h0M1530.6 180.1h0M1558.8 221.5h0M1473.7 173.8h0M1573.7 207.7h0M1450.8 197.3h0M1564.8 176.4h0M1554.2 185.2h0M1510.9 192.4h0M1456.7 192h0M1522.1 208h0M1524.5 176.7h0M1533.7 185.1h0M1574.8 171.7h0M1557.5 170.8h0M1527.8 189.3h0M1513.4 212.8h0M1560.5 165.1h0M1572.5 210.3h0M1463.6 213.4h0M1562.2 190.8h0M1571.7 176.1h0M1512.8 181.8h0M1564.1 186.1h0M1506.7 197.2h0M1547.1 177.3h0M1562.1 212.9h0M1518.1 220.5h0M1571.5 171.7h0M1583.2 201.2h0M1558.3 212h0M1483.2 174.9h0M1504.9 182.8h0M1481.2 202.8h0M1519.3 192.6h0M1555.1 175.1h0M1510.8 195.7h0M1534.4 225.4h0M1531.6 164.9h0M1532.2 189.8h0M1507.8 204.7h0M1480 220.3h0M1500.8 190.3h0M1525.3 168.4h0M1466.1 192h0M1556.6 197.9h0M1535.4 223.9h0M1566.7 194.7h0M1497.7 165.7h0M1552.9 174.5h0M1514.2 173.4h0M1553.4 196.8h0M1465 205.7h0M1461.7 189.2h0M1489.3 217.8h0M1533 179.8h0M1495.9 196.1h0M1565.2 189.2h0M1554.4 169.8h0M1499.8 168h0M1477.2 194.4h0M1461.6 191h0M1498.8 187.1h0M1487.8 178.4h0M1510.7 169.8h0M1515.2 177.2h0M1518.1 174.9h0M1570.2 200h0M1539.3 180.3h0M1455.3 181.7h0M1519.4 164.9h0M1490.3 177.7h0M1562.3 184.7h0M1526.6 201.3h0M1518.3 168h0M1544.8 187.8h0M1569 232.4h0M1501 224.7h0M1581.7 177.1h0M1570.4 179.8h0M1460.8 178h0M1473 184.4h0M1512.3 174.4h0M1515.5 197.2h0M1534.7 198.6h0M1468 215.8h0M1467.8 205h0M1556.5 207.9h0M1547.4 170h0M1579 199.8h0M1500.3 186.4h0M1476.5 182.2h0M1558.9 174.1h0M1484.5 205.9h0M1449.9 197.1h0M1471.8 168.7h0M1540.9 202.1h0M1517.3 187.8h0M1500.7 171.4h0M1453.2 198.9h0M1545 182.7h0M1520.3 200.1h0M1504.2 180.2h0M1526.9 189h0M1510.5 219.8h0M1533.1 220h0M1557.2 206.8h0M1519.9 222.1h0M1460 210h0M1531.2 223.5h0M1550.9 221.4h0M1547 176.2h0M1584.7 184.1h0M1479.6 186h0M1561.7 207.6h0M1526.4 182.3h0M1523.5 223.4h0M1542.1 197.5h0M1556.8 184.5h0M1460.2 166h0M1562.6 200.6h0M1455.5 187.6h0M1471.5 201.3h0M1508.7 224.8h0M1546.1 175h0M1563.5 229.8h0M1533.9 215.3h0M1505.2 183.4h0M1468.8 191.4h0M1550.7 232.1h0M1530.1 207.5h0M1541.3 167.9h0M1458.3 165.5h0M1563.1 223.2h0M1472.1 193.3h0M1522.3 166.3h0M1455.8 173.4h0M1475.2 200.3h0M1479.5 172.8h0M1533.4 229.3h0M1508.2 182.6h0M1569.4 213.8h0M1441.5 200.5h0M1437.6 221h0M1444.6 215.2h0M1447.3 226.8h0M1450.4 259h0M1457 226.8h0M1462.8 230.7h0M1464.8 248.1h0M1468.6 242.3h0M1474.4 257.8h0M1472.5 280.3h0M1472.1 300.4h0M1480.2 313.9h0M1482.2 275.2h0M1488 266.7h0M1495.7 277.2h0M1503.5 279.1h0M1515.1 290.7h0M1515.1 267.5h0M1522.9 259.7h0M1534.5 257.8h0M1495.7 250h0M1503.5 253.9h0M1511.2 236.5h0M1517 226.8h0M1524.8 246.2h0M1536.4 244.2h0M1526.7 219.1h0M1538.3 209.4h0M1550 215.2h0M1557.7 230.7h0M1565.5 215.2h0M1575.1 230.7h0M1579 224.9h0M1584.8 209.4h0M1580.9 197.8h0M1569.3 199.7h0M1557.7 205.5h0M1476.4 230.7h0M1484.1 215.2h0M1457 203.6h0M1466.7 197.8h0M1480.2 201.6h0M1489.9 211.3h0M1503.5 203.6h0M1515.1 195.8h0M1550 197.8h0M1488 238.4h0M1470.6 215.2h0M1458.9 215.2h0M1426 126.9h0M1429.9 125.3h0" stroke="#8b0000" stroke-width="4.3" stroke-linecap="round" fill="none"/><text x="968.8" y="56.1" font-size="32" font-weight="bold">Oct.</text>
<rect x="898.3" y="13.2" width="713" height="519.1" fill="none" stroke="#000" stroke-width="2"/>
<text x="898.3" y="574.9" font-size="26.5" text-anchor="middle">27</text>
<text x="969.6" y="574.9" font-size="26.5" text-anchor="middle">28</text>
<text x="1040.9" y="574.9" font-size="26.5" text-anchor="middle">29</text>
<text x="1112.2" y="574.9" font-size="26.5" text-anchor="middle">30</text>
<text x="1183.5" y="574.9" font-size="26.5" text-anchor="middle">31</text>
<text x="1254.8" y="574.9" font-size="26.5" text-anchor="middle">32</text>
<text x="1326.1" y="574.9" font-size="26.5" text-anchor="middle">33</text>
<text x="1397.4" y="574.9" font-size="26.5" text-anchor="middle">34</text>
<text x="1468.7" y="574.9" font-size="26.5" text-anchor="middle">35</text>
<text x="1540" y="574.9" font-size="26.5" text-anchor="middle">36</text>
<text x="1611.3" y="574.9" font-size="26.5" text-anchor="middle">37</text>
<text x="873.3" y="542.2" font-size="26.5" text-anchor="end">20</text>
<text x="873.3" y="455.7" font-size="26.5" text-anchor="end">22</text>
<text x="873.3" y="369.2" font-size="26.5" text-anchor="end">24</text>
<text x="873.3" y="282.6" font-size="26.5" text-anchor="end">26</text>
<text x="873.3" y="196.1" font-size="26.5" text-anchor="end">28</text>
<text x="873.3" y="109.6" font-size="26.5" text-anchor="end">30</text>
<text x="873.3" y="23.1" font-size="26.5" text-anchor="end">32</text>
<path d="M898.3 532.3V544.8M969.6 532.3V544.8M1040.9 532.3V544.8M1112.2 532.3V544.8M1183.5 532.3V544.8M1254.8 532.3V544.8M1326.1 532.3V544.8M1397.4 532.3V544.8M1468.7 532.3V544.8M1540 532.3V544.8M1611.3 532.3V544.8M898.3 532.3H885.8M898.3 445.8H885.8M898.3 359.3H885.8M898.3 272.8H885.8M898.3 186.2H885.8M898.3 99.7H885.8M898.3 13.2H885.8" stroke="#000" stroke-width="2" fill="none"/>
<text x="1254.8" y="610.3" font-size="27.8" text-anchor="middle">Salinity(psu)</text>
<text transform="translate(833.5,272.8) rotate(-90)" font-size="27.5" text-anchor="middle">Temperature(°C)</text>
</g>
</svg></body></html>
